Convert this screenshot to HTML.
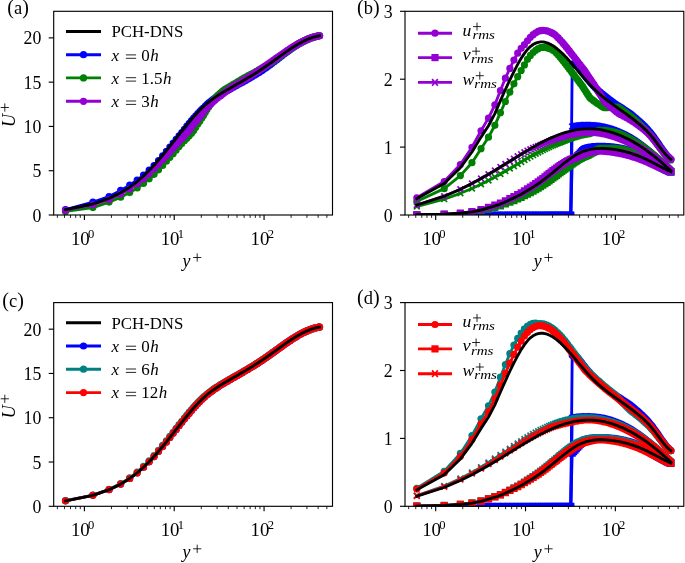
<!DOCTYPE html>
<html><head><meta charset="utf-8"><title>Figure</title>
<style>html,body{margin:0;padding:0;background:#fff;overflow:hidden}svg{display:block;will-change:transform}</style>
</head><body>
<svg width="685" height="563" viewBox="0 0 685 563">
<rect width="685" height="563" fill="#fff"/>
<defs><clipPath id="c0"><rect x="53.70" y="11.30" width="278.80" height="203.70"/></clipPath><clipPath id="c1"><rect x="405.00" y="11.30" width="278.80" height="203.70"/></clipPath><clipPath id="c2"><rect x="53.70" y="302.60" width="278.80" height="203.70"/></clipPath><clipPath id="c3"><rect x="405.00" y="302.60" width="278.80" height="203.70"/></clipPath></defs>
<line x1="57.36" y1="215.00" x2="57.36" y2="217.86" stroke="#000" stroke-width="0.86"/>
<line x1="64.47" y1="215.00" x2="64.47" y2="217.86" stroke="#000" stroke-width="0.86"/>
<line x1="70.49" y1="215.00" x2="70.49" y2="217.86" stroke="#000" stroke-width="0.86"/>
<line x1="75.69" y1="215.00" x2="75.69" y2="217.86" stroke="#000" stroke-width="0.86"/>
<line x1="80.29" y1="215.00" x2="80.29" y2="217.86" stroke="#000" stroke-width="0.86"/>
<line x1="84.40" y1="215.00" x2="84.40" y2="220.00" stroke="#000" stroke-width="1.14"/>
<line x1="111.44" y1="215.00" x2="111.44" y2="217.86" stroke="#000" stroke-width="0.86"/>
<line x1="127.26" y1="215.00" x2="127.26" y2="217.86" stroke="#000" stroke-width="0.86"/>
<line x1="138.48" y1="215.00" x2="138.48" y2="217.86" stroke="#000" stroke-width="0.86"/>
<line x1="147.19" y1="215.00" x2="147.19" y2="217.86" stroke="#000" stroke-width="0.86"/>
<line x1="154.30" y1="215.00" x2="154.30" y2="217.86" stroke="#000" stroke-width="0.86"/>
<line x1="160.32" y1="215.00" x2="160.32" y2="217.86" stroke="#000" stroke-width="0.86"/>
<line x1="165.52" y1="215.00" x2="165.52" y2="217.86" stroke="#000" stroke-width="0.86"/>
<line x1="170.12" y1="215.00" x2="170.12" y2="217.86" stroke="#000" stroke-width="0.86"/>
<line x1="174.23" y1="215.00" x2="174.23" y2="220.00" stroke="#000" stroke-width="1.14"/>
<line x1="201.27" y1="215.00" x2="201.27" y2="217.86" stroke="#000" stroke-width="0.86"/>
<line x1="217.09" y1="215.00" x2="217.09" y2="217.86" stroke="#000" stroke-width="0.86"/>
<line x1="228.31" y1="215.00" x2="228.31" y2="217.86" stroke="#000" stroke-width="0.86"/>
<line x1="237.02" y1="215.00" x2="237.02" y2="217.86" stroke="#000" stroke-width="0.86"/>
<line x1="244.13" y1="215.00" x2="244.13" y2="217.86" stroke="#000" stroke-width="0.86"/>
<line x1="250.15" y1="215.00" x2="250.15" y2="217.86" stroke="#000" stroke-width="0.86"/>
<line x1="255.35" y1="215.00" x2="255.35" y2="217.86" stroke="#000" stroke-width="0.86"/>
<line x1="259.95" y1="215.00" x2="259.95" y2="217.86" stroke="#000" stroke-width="0.86"/>
<line x1="264.06" y1="215.00" x2="264.06" y2="220.00" stroke="#000" stroke-width="1.14"/>
<line x1="291.10" y1="215.00" x2="291.10" y2="217.86" stroke="#000" stroke-width="0.86"/>
<line x1="306.92" y1="215.00" x2="306.92" y2="217.86" stroke="#000" stroke-width="0.86"/>
<line x1="318.14" y1="215.00" x2="318.14" y2="217.86" stroke="#000" stroke-width="0.86"/>
<line x1="326.85" y1="215.00" x2="326.85" y2="217.86" stroke="#000" stroke-width="0.86"/>
<line x1="48.70" y1="215.00" x2="53.70" y2="215.00" stroke="#000" stroke-width="1.14"/>
<text x="41.40" y="221.60" font-family="Liberation Serif" font-size="17.8" text-anchor="end">0</text>
<line x1="48.70" y1="170.72" x2="53.70" y2="170.72" stroke="#000" stroke-width="1.14"/>
<text x="41.40" y="177.32" font-family="Liberation Serif" font-size="17.8" text-anchor="end">5</text>
<line x1="48.70" y1="126.43" x2="53.70" y2="126.43" stroke="#000" stroke-width="1.14"/>
<text x="41.40" y="133.03" font-family="Liberation Serif" font-size="17.8" text-anchor="end">10</text>
<line x1="48.70" y1="82.15" x2="53.70" y2="82.15" stroke="#000" stroke-width="1.14"/>
<text x="41.40" y="88.75" font-family="Liberation Serif" font-size="17.8" text-anchor="end">15</text>
<line x1="48.70" y1="37.87" x2="53.70" y2="37.87" stroke="#000" stroke-width="1.14"/>
<text x="41.40" y="44.47" font-family="Liberation Serif" font-size="17.8" text-anchor="end">20</text>
<text x="70.90" y="244.60" font-family="Liberation Serif" font-size="17.8" textLength="18.8" lengthAdjust="spacingAndGlyphs">10</text>
<text x="88.00" y="237.60" font-family="Liberation Serif" font-size="12.6">0</text>
<text x="160.73" y="244.60" font-family="Liberation Serif" font-size="17.8" textLength="18.8" lengthAdjust="spacingAndGlyphs">10</text>
<text x="177.83" y="237.60" font-family="Liberation Serif" font-size="12.6">1</text>
<text x="250.56" y="244.60" font-family="Liberation Serif" font-size="17.8" textLength="18.8" lengthAdjust="spacingAndGlyphs">10</text>
<text x="267.66" y="237.60" font-family="Liberation Serif" font-size="12.6">2</text>
<text x="182.50" y="267.10" font-family="Liberation Serif" font-size="17.8" font-style="italic">y</text>
<path d="M193.10,257.50H201.30M197.20,253.40V261.60" stroke="#000" stroke-width="0.85" fill="none"/>
<line x1="408.66" y1="215.00" x2="408.66" y2="217.86" stroke="#000" stroke-width="0.86"/>
<line x1="415.77" y1="215.00" x2="415.77" y2="217.86" stroke="#000" stroke-width="0.86"/>
<line x1="421.79" y1="215.00" x2="421.79" y2="217.86" stroke="#000" stroke-width="0.86"/>
<line x1="426.99" y1="215.00" x2="426.99" y2="217.86" stroke="#000" stroke-width="0.86"/>
<line x1="431.59" y1="215.00" x2="431.59" y2="217.86" stroke="#000" stroke-width="0.86"/>
<line x1="435.70" y1="215.00" x2="435.70" y2="220.00" stroke="#000" stroke-width="1.14"/>
<line x1="462.74" y1="215.00" x2="462.74" y2="217.86" stroke="#000" stroke-width="0.86"/>
<line x1="478.56" y1="215.00" x2="478.56" y2="217.86" stroke="#000" stroke-width="0.86"/>
<line x1="489.78" y1="215.00" x2="489.78" y2="217.86" stroke="#000" stroke-width="0.86"/>
<line x1="498.49" y1="215.00" x2="498.49" y2="217.86" stroke="#000" stroke-width="0.86"/>
<line x1="505.60" y1="215.00" x2="505.60" y2="217.86" stroke="#000" stroke-width="0.86"/>
<line x1="511.62" y1="215.00" x2="511.62" y2="217.86" stroke="#000" stroke-width="0.86"/>
<line x1="516.82" y1="215.00" x2="516.82" y2="217.86" stroke="#000" stroke-width="0.86"/>
<line x1="521.42" y1="215.00" x2="521.42" y2="217.86" stroke="#000" stroke-width="0.86"/>
<line x1="525.53" y1="215.00" x2="525.53" y2="220.00" stroke="#000" stroke-width="1.14"/>
<line x1="552.57" y1="215.00" x2="552.57" y2="217.86" stroke="#000" stroke-width="0.86"/>
<line x1="568.39" y1="215.00" x2="568.39" y2="217.86" stroke="#000" stroke-width="0.86"/>
<line x1="579.61" y1="215.00" x2="579.61" y2="217.86" stroke="#000" stroke-width="0.86"/>
<line x1="588.32" y1="215.00" x2="588.32" y2="217.86" stroke="#000" stroke-width="0.86"/>
<line x1="595.43" y1="215.00" x2="595.43" y2="217.86" stroke="#000" stroke-width="0.86"/>
<line x1="601.45" y1="215.00" x2="601.45" y2="217.86" stroke="#000" stroke-width="0.86"/>
<line x1="606.65" y1="215.00" x2="606.65" y2="217.86" stroke="#000" stroke-width="0.86"/>
<line x1="611.25" y1="215.00" x2="611.25" y2="217.86" stroke="#000" stroke-width="0.86"/>
<line x1="615.36" y1="215.00" x2="615.36" y2="220.00" stroke="#000" stroke-width="1.14"/>
<line x1="642.40" y1="215.00" x2="642.40" y2="217.86" stroke="#000" stroke-width="0.86"/>
<line x1="658.22" y1="215.00" x2="658.22" y2="217.86" stroke="#000" stroke-width="0.86"/>
<line x1="669.44" y1="215.00" x2="669.44" y2="217.86" stroke="#000" stroke-width="0.86"/>
<line x1="678.15" y1="215.00" x2="678.15" y2="217.86" stroke="#000" stroke-width="0.86"/>
<line x1="400.00" y1="215.00" x2="405.00" y2="215.00" stroke="#000" stroke-width="1.14"/>
<text x="392.70" y="221.60" font-family="Liberation Serif" font-size="17.8" text-anchor="end">0</text>
<line x1="400.00" y1="147.10" x2="405.00" y2="147.10" stroke="#000" stroke-width="1.14"/>
<text x="392.70" y="153.70" font-family="Liberation Serif" font-size="17.8" text-anchor="end">1</text>
<line x1="400.00" y1="79.20" x2="405.00" y2="79.20" stroke="#000" stroke-width="1.14"/>
<text x="392.70" y="85.80" font-family="Liberation Serif" font-size="17.8" text-anchor="end">2</text>
<line x1="400.00" y1="11.30" x2="405.00" y2="11.30" stroke="#000" stroke-width="1.14"/>
<text x="392.70" y="17.90" font-family="Liberation Serif" font-size="17.8" text-anchor="end">3</text>
<text x="422.20" y="244.60" font-family="Liberation Serif" font-size="17.8" textLength="18.8" lengthAdjust="spacingAndGlyphs">10</text>
<text x="439.30" y="237.60" font-family="Liberation Serif" font-size="12.6">0</text>
<text x="512.03" y="244.60" font-family="Liberation Serif" font-size="17.8" textLength="18.8" lengthAdjust="spacingAndGlyphs">10</text>
<text x="529.13" y="237.60" font-family="Liberation Serif" font-size="12.6">1</text>
<text x="601.86" y="244.60" font-family="Liberation Serif" font-size="17.8" textLength="18.8" lengthAdjust="spacingAndGlyphs">10</text>
<text x="618.96" y="237.60" font-family="Liberation Serif" font-size="12.6">2</text>
<text x="533.80" y="267.10" font-family="Liberation Serif" font-size="17.8" font-style="italic">y</text>
<path d="M544.40,257.50H552.60M548.50,253.40V261.60" stroke="#000" stroke-width="0.85" fill="none"/>
<line x1="57.36" y1="506.30" x2="57.36" y2="509.16" stroke="#000" stroke-width="0.86"/>
<line x1="64.47" y1="506.30" x2="64.47" y2="509.16" stroke="#000" stroke-width="0.86"/>
<line x1="70.49" y1="506.30" x2="70.49" y2="509.16" stroke="#000" stroke-width="0.86"/>
<line x1="75.69" y1="506.30" x2="75.69" y2="509.16" stroke="#000" stroke-width="0.86"/>
<line x1="80.29" y1="506.30" x2="80.29" y2="509.16" stroke="#000" stroke-width="0.86"/>
<line x1="84.40" y1="506.30" x2="84.40" y2="511.30" stroke="#000" stroke-width="1.14"/>
<line x1="111.44" y1="506.30" x2="111.44" y2="509.16" stroke="#000" stroke-width="0.86"/>
<line x1="127.26" y1="506.30" x2="127.26" y2="509.16" stroke="#000" stroke-width="0.86"/>
<line x1="138.48" y1="506.30" x2="138.48" y2="509.16" stroke="#000" stroke-width="0.86"/>
<line x1="147.19" y1="506.30" x2="147.19" y2="509.16" stroke="#000" stroke-width="0.86"/>
<line x1="154.30" y1="506.30" x2="154.30" y2="509.16" stroke="#000" stroke-width="0.86"/>
<line x1="160.32" y1="506.30" x2="160.32" y2="509.16" stroke="#000" stroke-width="0.86"/>
<line x1="165.52" y1="506.30" x2="165.52" y2="509.16" stroke="#000" stroke-width="0.86"/>
<line x1="170.12" y1="506.30" x2="170.12" y2="509.16" stroke="#000" stroke-width="0.86"/>
<line x1="174.23" y1="506.30" x2="174.23" y2="511.30" stroke="#000" stroke-width="1.14"/>
<line x1="201.27" y1="506.30" x2="201.27" y2="509.16" stroke="#000" stroke-width="0.86"/>
<line x1="217.09" y1="506.30" x2="217.09" y2="509.16" stroke="#000" stroke-width="0.86"/>
<line x1="228.31" y1="506.30" x2="228.31" y2="509.16" stroke="#000" stroke-width="0.86"/>
<line x1="237.02" y1="506.30" x2="237.02" y2="509.16" stroke="#000" stroke-width="0.86"/>
<line x1="244.13" y1="506.30" x2="244.13" y2="509.16" stroke="#000" stroke-width="0.86"/>
<line x1="250.15" y1="506.30" x2="250.15" y2="509.16" stroke="#000" stroke-width="0.86"/>
<line x1="255.35" y1="506.30" x2="255.35" y2="509.16" stroke="#000" stroke-width="0.86"/>
<line x1="259.95" y1="506.30" x2="259.95" y2="509.16" stroke="#000" stroke-width="0.86"/>
<line x1="264.06" y1="506.30" x2="264.06" y2="511.30" stroke="#000" stroke-width="1.14"/>
<line x1="291.10" y1="506.30" x2="291.10" y2="509.16" stroke="#000" stroke-width="0.86"/>
<line x1="306.92" y1="506.30" x2="306.92" y2="509.16" stroke="#000" stroke-width="0.86"/>
<line x1="318.14" y1="506.30" x2="318.14" y2="509.16" stroke="#000" stroke-width="0.86"/>
<line x1="326.85" y1="506.30" x2="326.85" y2="509.16" stroke="#000" stroke-width="0.86"/>
<line x1="48.70" y1="506.30" x2="53.70" y2="506.30" stroke="#000" stroke-width="1.14"/>
<text x="41.40" y="512.90" font-family="Liberation Serif" font-size="17.8" text-anchor="end">0</text>
<line x1="48.70" y1="462.02" x2="53.70" y2="462.02" stroke="#000" stroke-width="1.14"/>
<text x="41.40" y="468.62" font-family="Liberation Serif" font-size="17.8" text-anchor="end">5</text>
<line x1="48.70" y1="417.73" x2="53.70" y2="417.73" stroke="#000" stroke-width="1.14"/>
<text x="41.40" y="424.33" font-family="Liberation Serif" font-size="17.8" text-anchor="end">10</text>
<line x1="48.70" y1="373.45" x2="53.70" y2="373.45" stroke="#000" stroke-width="1.14"/>
<text x="41.40" y="380.05" font-family="Liberation Serif" font-size="17.8" text-anchor="end">15</text>
<line x1="48.70" y1="329.17" x2="53.70" y2="329.17" stroke="#000" stroke-width="1.14"/>
<text x="41.40" y="335.77" font-family="Liberation Serif" font-size="17.8" text-anchor="end">20</text>
<text x="70.90" y="535.90" font-family="Liberation Serif" font-size="17.8" textLength="18.8" lengthAdjust="spacingAndGlyphs">10</text>
<text x="88.00" y="528.90" font-family="Liberation Serif" font-size="12.6">0</text>
<text x="160.73" y="535.90" font-family="Liberation Serif" font-size="17.8" textLength="18.8" lengthAdjust="spacingAndGlyphs">10</text>
<text x="177.83" y="528.90" font-family="Liberation Serif" font-size="12.6">1</text>
<text x="250.56" y="535.90" font-family="Liberation Serif" font-size="17.8" textLength="18.8" lengthAdjust="spacingAndGlyphs">10</text>
<text x="267.66" y="528.90" font-family="Liberation Serif" font-size="12.6">2</text>
<text x="182.50" y="558.40" font-family="Liberation Serif" font-size="17.8" font-style="italic">y</text>
<path d="M193.10,548.80H201.30M197.20,544.70V552.90" stroke="#000" stroke-width="0.85" fill="none"/>
<line x1="408.66" y1="506.30" x2="408.66" y2="509.16" stroke="#000" stroke-width="0.86"/>
<line x1="415.77" y1="506.30" x2="415.77" y2="509.16" stroke="#000" stroke-width="0.86"/>
<line x1="421.79" y1="506.30" x2="421.79" y2="509.16" stroke="#000" stroke-width="0.86"/>
<line x1="426.99" y1="506.30" x2="426.99" y2="509.16" stroke="#000" stroke-width="0.86"/>
<line x1="431.59" y1="506.30" x2="431.59" y2="509.16" stroke="#000" stroke-width="0.86"/>
<line x1="435.70" y1="506.30" x2="435.70" y2="511.30" stroke="#000" stroke-width="1.14"/>
<line x1="462.74" y1="506.30" x2="462.74" y2="509.16" stroke="#000" stroke-width="0.86"/>
<line x1="478.56" y1="506.30" x2="478.56" y2="509.16" stroke="#000" stroke-width="0.86"/>
<line x1="489.78" y1="506.30" x2="489.78" y2="509.16" stroke="#000" stroke-width="0.86"/>
<line x1="498.49" y1="506.30" x2="498.49" y2="509.16" stroke="#000" stroke-width="0.86"/>
<line x1="505.60" y1="506.30" x2="505.60" y2="509.16" stroke="#000" stroke-width="0.86"/>
<line x1="511.62" y1="506.30" x2="511.62" y2="509.16" stroke="#000" stroke-width="0.86"/>
<line x1="516.82" y1="506.30" x2="516.82" y2="509.16" stroke="#000" stroke-width="0.86"/>
<line x1="521.42" y1="506.30" x2="521.42" y2="509.16" stroke="#000" stroke-width="0.86"/>
<line x1="525.53" y1="506.30" x2="525.53" y2="511.30" stroke="#000" stroke-width="1.14"/>
<line x1="552.57" y1="506.30" x2="552.57" y2="509.16" stroke="#000" stroke-width="0.86"/>
<line x1="568.39" y1="506.30" x2="568.39" y2="509.16" stroke="#000" stroke-width="0.86"/>
<line x1="579.61" y1="506.30" x2="579.61" y2="509.16" stroke="#000" stroke-width="0.86"/>
<line x1="588.32" y1="506.30" x2="588.32" y2="509.16" stroke="#000" stroke-width="0.86"/>
<line x1="595.43" y1="506.30" x2="595.43" y2="509.16" stroke="#000" stroke-width="0.86"/>
<line x1="601.45" y1="506.30" x2="601.45" y2="509.16" stroke="#000" stroke-width="0.86"/>
<line x1="606.65" y1="506.30" x2="606.65" y2="509.16" stroke="#000" stroke-width="0.86"/>
<line x1="611.25" y1="506.30" x2="611.25" y2="509.16" stroke="#000" stroke-width="0.86"/>
<line x1="615.36" y1="506.30" x2="615.36" y2="511.30" stroke="#000" stroke-width="1.14"/>
<line x1="642.40" y1="506.30" x2="642.40" y2="509.16" stroke="#000" stroke-width="0.86"/>
<line x1="658.22" y1="506.30" x2="658.22" y2="509.16" stroke="#000" stroke-width="0.86"/>
<line x1="669.44" y1="506.30" x2="669.44" y2="509.16" stroke="#000" stroke-width="0.86"/>
<line x1="678.15" y1="506.30" x2="678.15" y2="509.16" stroke="#000" stroke-width="0.86"/>
<line x1="400.00" y1="506.30" x2="405.00" y2="506.30" stroke="#000" stroke-width="1.14"/>
<text x="392.70" y="512.90" font-family="Liberation Serif" font-size="17.8" text-anchor="end">0</text>
<line x1="400.00" y1="438.40" x2="405.00" y2="438.40" stroke="#000" stroke-width="1.14"/>
<text x="392.70" y="445.00" font-family="Liberation Serif" font-size="17.8" text-anchor="end">1</text>
<line x1="400.00" y1="370.50" x2="405.00" y2="370.50" stroke="#000" stroke-width="1.14"/>
<text x="392.70" y="377.10" font-family="Liberation Serif" font-size="17.8" text-anchor="end">2</text>
<line x1="400.00" y1="302.60" x2="405.00" y2="302.60" stroke="#000" stroke-width="1.14"/>
<text x="392.70" y="309.20" font-family="Liberation Serif" font-size="17.8" text-anchor="end">3</text>
<text x="422.20" y="535.90" font-family="Liberation Serif" font-size="17.8" textLength="18.8" lengthAdjust="spacingAndGlyphs">10</text>
<text x="439.30" y="528.90" font-family="Liberation Serif" font-size="12.6">0</text>
<text x="512.03" y="535.90" font-family="Liberation Serif" font-size="17.8" textLength="18.8" lengthAdjust="spacingAndGlyphs">10</text>
<text x="529.13" y="528.90" font-family="Liberation Serif" font-size="12.6">1</text>
<text x="601.86" y="535.90" font-family="Liberation Serif" font-size="17.8" textLength="18.8" lengthAdjust="spacingAndGlyphs">10</text>
<text x="618.96" y="528.90" font-family="Liberation Serif" font-size="12.6">2</text>
<text x="533.80" y="558.40" font-family="Liberation Serif" font-size="17.8" font-style="italic">y</text>
<path d="M544.40,548.80H552.60M548.50,544.70V552.90" stroke="#000" stroke-width="0.85" fill="none"/>
<g transform="translate(15.00,127.05) rotate(-90)"><text x="0" y="0" font-family="Liberation Serif" font-size="17.8" font-style="italic" textLength="13" lengthAdjust="spacingAndGlyphs">U</text></g>
<path d="M0.70,107.50H8.90M4.80,103.40V111.60" stroke="#000" stroke-width="0.85" fill="none"/>
<g transform="translate(15.00,418.35) rotate(-90)"><text x="0" y="0" font-family="Liberation Serif" font-size="17.8" font-style="italic" textLength="13" lengthAdjust="spacingAndGlyphs">U</text></g>
<path d="M0.70,398.80H8.90M4.80,394.70V402.90" stroke="#000" stroke-width="0.85" fill="none"/>
<g clip-path="url(#c0)"><path d="M65.51,209.51 L92.91,202.14 L109.08,196.61 L120.66,190.44 L129.72,185.16 L137.19,180.01 L143.56,175.01 L149.13,170.20 L154.08,165.55 L158.55,160.54 L162.63,155.87 L166.39,151.39 L169.87,147.14 L173.12,143.14 L176.18,139.39 L179.06,135.84 L181.79,132.50 L184.38,129.26 L186.86,126.21 L189.22,123.34 L191.49,120.65 L193.67,118.13 L195.77,115.77 L197.80,113.56 L199.76,111.49 L201.66,109.57 L203.50,107.77 L205.29,106.03 L207.02,104.43 L208.72,102.95 L210.37,101.58 L211.97,100.30 L213.54,99.11 L215.08,97.98 L216.58,96.92 L218.05,95.96 L219.49,95.07 L220.90,94.21 L222.29,93.39 L223.65,92.59 L224.98,91.81 L226.30,91.06 L227.59,90.33 L228.86,89.62 L230.11,88.92 L231.34,88.24 L232.55,87.57 L233.74,86.92 L234.92,86.27 L236.08,85.63 L237.23,84.99 L238.36,84.37 L239.47,83.75 L240.57,83.13 L241.66,82.53 L242.74,81.92 L243.80,81.33 L244.85,80.73 L245.89,80.15 L246.91,79.56 L247.93,78.98 L248.93,78.40 L249.93,77.83 L250.91,77.26 L251.89,76.69 L252.85,76.12 L253.81,75.56 L254.75,74.99 L255.69,74.43 L256.62,73.87 L257.54,73.31 L258.45,72.75 L259.36,72.19 L260.25,71.62 L261.14,71.02 L262.02,70.42 L262.89,69.82 L263.76,69.22 L264.62,68.61 L265.47,68.01 L266.31,67.41 L267.15,66.80 L267.98,66.20 L268.81,65.59 L269.62,64.99 L270.44,64.39 L271.24,63.79 L272.04,63.19 L272.83,62.59 L273.62,62.00 L274.40,61.40 L275.18,60.82 L275.95,60.22 L276.71,59.64 L277.47,59.05 L278.22,58.47 L278.97,57.90 L279.71,57.33 L280.45,56.76 L281.18,56.20 L281.90,55.65 L282.62,55.10 L283.34,54.56 L284.05,54.02 L284.75,53.49 L285.45,52.97 L286.15,52.45 L286.83,51.94 L287.52,51.43 L288.20,50.94 L288.87,50.45 L289.54,49.96 L290.21,49.49 L290.87,49.02 L291.52,48.56 L292.17,48.11 L292.81,47.66 L293.46,47.23 L294.09,46.80 L294.72,46.38 L295.35,45.97 L295.97,45.56 L296.58,45.16 L297.20,44.78 L297.80,44.40 L298.41,44.02 L299.00,43.66 L299.60,43.31 L300.18,42.97 L300.77,42.65 L301.35,42.34 L301.92,42.04 L302.49,41.74 L303.06,41.45 L303.62,41.17 L304.17,40.90 L304.72,40.63 L305.27,40.37 L305.81,40.12 L306.35,39.88 L306.88,39.64 L307.41,39.41 L307.94,39.19 L308.46,38.97 L308.97,38.76 L309.48,38.56 L309.99,38.37 L310.49,38.18 L310.98,38.00 L311.48,37.82 L311.97,37.66 L312.45,37.50 L312.93,37.34 L313.40,37.19 L313.87,37.05 L314.34,36.92 L314.80,36.79 L315.26,36.66 L315.71,36.55 L316.15,36.44 L316.60,36.33 L317.04,36.23 L317.47,36.14 L317.90,36.05 L318.33,35.97 L318.75,35.89 L319.17,35.82 L319.58,35.75" fill="none" stroke="#0000ff" stroke-width="2.86" stroke-linejoin="round" stroke-linecap="square"/>
<path d="M61.91,209.51a3.6,3.6 0 1,0 7.2,0a3.6,3.6 0 1,0 -7.2,0M89.31,202.14a3.6,3.6 0 1,0 7.2,0a3.6,3.6 0 1,0 -7.2,0M105.48,196.61a3.6,3.6 0 1,0 7.2,0a3.6,3.6 0 1,0 -7.2,0M117.06,190.44a3.6,3.6 0 1,0 7.2,0a3.6,3.6 0 1,0 -7.2,0M126.12,185.16a3.6,3.6 0 1,0 7.2,0a3.6,3.6 0 1,0 -7.2,0M133.59,180.01a3.6,3.6 0 1,0 7.2,0a3.6,3.6 0 1,0 -7.2,0M139.96,175.01a3.6,3.6 0 1,0 7.2,0a3.6,3.6 0 1,0 -7.2,0M145.53,170.20a3.6,3.6 0 1,0 7.2,0a3.6,3.6 0 1,0 -7.2,0M150.48,165.55a3.6,3.6 0 1,0 7.2,0a3.6,3.6 0 1,0 -7.2,0M154.95,160.54a3.6,3.6 0 1,0 7.2,0a3.6,3.6 0 1,0 -7.2,0M159.03,155.87a3.6,3.6 0 1,0 7.2,0a3.6,3.6 0 1,0 -7.2,0M162.79,151.39a3.6,3.6 0 1,0 7.2,0a3.6,3.6 0 1,0 -7.2,0M166.27,147.14a3.6,3.6 0 1,0 7.2,0a3.6,3.6 0 1,0 -7.2,0M169.52,143.14a3.6,3.6 0 1,0 7.2,0a3.6,3.6 0 1,0 -7.2,0M172.58,139.39a3.6,3.6 0 1,0 7.2,0a3.6,3.6 0 1,0 -7.2,0M175.46,135.84a3.6,3.6 0 1,0 7.2,0a3.6,3.6 0 1,0 -7.2,0M178.19,132.50a3.6,3.6 0 1,0 7.2,0a3.6,3.6 0 1,0 -7.2,0M180.78,129.26a3.6,3.6 0 1,0 7.2,0a3.6,3.6 0 1,0 -7.2,0M183.26,126.21a3.6,3.6 0 1,0 7.2,0a3.6,3.6 0 1,0 -7.2,0M185.62,123.34a3.6,3.6 0 1,0 7.2,0a3.6,3.6 0 1,0 -7.2,0M187.89,120.65a3.6,3.6 0 1,0 7.2,0a3.6,3.6 0 1,0 -7.2,0M190.07,118.13a3.6,3.6 0 1,0 7.2,0a3.6,3.6 0 1,0 -7.2,0M192.17,115.77a3.6,3.6 0 1,0 7.2,0a3.6,3.6 0 1,0 -7.2,0M194.20,113.56a3.6,3.6 0 1,0 7.2,0a3.6,3.6 0 1,0 -7.2,0M196.16,111.49a3.6,3.6 0 1,0 7.2,0a3.6,3.6 0 1,0 -7.2,0M198.06,109.57a3.6,3.6 0 1,0 7.2,0a3.6,3.6 0 1,0 -7.2,0M199.90,107.77a3.6,3.6 0 1,0 7.2,0a3.6,3.6 0 1,0 -7.2,0M201.69,106.03a3.6,3.6 0 1,0 7.2,0a3.6,3.6 0 1,0 -7.2,0M203.42,104.43a3.6,3.6 0 1,0 7.2,0a3.6,3.6 0 1,0 -7.2,0M205.12,102.95a3.6,3.6 0 1,0 7.2,0a3.6,3.6 0 1,0 -7.2,0M206.77,101.58a3.6,3.6 0 1,0 7.2,0a3.6,3.6 0 1,0 -7.2,0M208.37,100.30a3.6,3.6 0 1,0 7.2,0a3.6,3.6 0 1,0 -7.2,0M209.94,99.11a3.6,3.6 0 1,0 7.2,0a3.6,3.6 0 1,0 -7.2,0M211.48,97.98a3.6,3.6 0 1,0 7.2,0a3.6,3.6 0 1,0 -7.2,0M212.98,96.92a3.6,3.6 0 1,0 7.2,0a3.6,3.6 0 1,0 -7.2,0M214.45,95.96a3.6,3.6 0 1,0 7.2,0a3.6,3.6 0 1,0 -7.2,0M215.89,95.07a3.6,3.6 0 1,0 7.2,0a3.6,3.6 0 1,0 -7.2,0M217.30,94.21a3.6,3.6 0 1,0 7.2,0a3.6,3.6 0 1,0 -7.2,0M218.69,93.39a3.6,3.6 0 1,0 7.2,0a3.6,3.6 0 1,0 -7.2,0M220.05,92.59a3.6,3.6 0 1,0 7.2,0a3.6,3.6 0 1,0 -7.2,0M221.38,91.81a3.6,3.6 0 1,0 7.2,0a3.6,3.6 0 1,0 -7.2,0M222.70,91.06a3.6,3.6 0 1,0 7.2,0a3.6,3.6 0 1,0 -7.2,0M223.99,90.33a3.6,3.6 0 1,0 7.2,0a3.6,3.6 0 1,0 -7.2,0M225.26,89.62a3.6,3.6 0 1,0 7.2,0a3.6,3.6 0 1,0 -7.2,0M226.51,88.92a3.6,3.6 0 1,0 7.2,0a3.6,3.6 0 1,0 -7.2,0M227.74,88.24a3.6,3.6 0 1,0 7.2,0a3.6,3.6 0 1,0 -7.2,0M228.95,87.57a3.6,3.6 0 1,0 7.2,0a3.6,3.6 0 1,0 -7.2,0M230.14,86.92a3.6,3.6 0 1,0 7.2,0a3.6,3.6 0 1,0 -7.2,0M231.32,86.27a3.6,3.6 0 1,0 7.2,0a3.6,3.6 0 1,0 -7.2,0M232.48,85.63a3.6,3.6 0 1,0 7.2,0a3.6,3.6 0 1,0 -7.2,0M233.63,84.99a3.6,3.6 0 1,0 7.2,0a3.6,3.6 0 1,0 -7.2,0M234.76,84.37a3.6,3.6 0 1,0 7.2,0a3.6,3.6 0 1,0 -7.2,0M235.87,83.75a3.6,3.6 0 1,0 7.2,0a3.6,3.6 0 1,0 -7.2,0M236.97,83.13a3.6,3.6 0 1,0 7.2,0a3.6,3.6 0 1,0 -7.2,0M238.06,82.53a3.6,3.6 0 1,0 7.2,0a3.6,3.6 0 1,0 -7.2,0M239.14,81.92a3.6,3.6 0 1,0 7.2,0a3.6,3.6 0 1,0 -7.2,0M240.20,81.33a3.6,3.6 0 1,0 7.2,0a3.6,3.6 0 1,0 -7.2,0M241.25,80.73a3.6,3.6 0 1,0 7.2,0a3.6,3.6 0 1,0 -7.2,0M242.29,80.15a3.6,3.6 0 1,0 7.2,0a3.6,3.6 0 1,0 -7.2,0M243.31,79.56a3.6,3.6 0 1,0 7.2,0a3.6,3.6 0 1,0 -7.2,0M244.33,78.98a3.6,3.6 0 1,0 7.2,0a3.6,3.6 0 1,0 -7.2,0M245.33,78.40a3.6,3.6 0 1,0 7.2,0a3.6,3.6 0 1,0 -7.2,0M246.33,77.83a3.6,3.6 0 1,0 7.2,0a3.6,3.6 0 1,0 -7.2,0M247.31,77.26a3.6,3.6 0 1,0 7.2,0a3.6,3.6 0 1,0 -7.2,0M248.29,76.69a3.6,3.6 0 1,0 7.2,0a3.6,3.6 0 1,0 -7.2,0M249.25,76.12a3.6,3.6 0 1,0 7.2,0a3.6,3.6 0 1,0 -7.2,0M250.21,75.56a3.6,3.6 0 1,0 7.2,0a3.6,3.6 0 1,0 -7.2,0M251.15,74.99a3.6,3.6 0 1,0 7.2,0a3.6,3.6 0 1,0 -7.2,0M252.09,74.43a3.6,3.6 0 1,0 7.2,0a3.6,3.6 0 1,0 -7.2,0M253.02,73.87a3.6,3.6 0 1,0 7.2,0a3.6,3.6 0 1,0 -7.2,0M253.94,73.31a3.6,3.6 0 1,0 7.2,0a3.6,3.6 0 1,0 -7.2,0M254.85,72.75a3.6,3.6 0 1,0 7.2,0a3.6,3.6 0 1,0 -7.2,0M255.76,72.19a3.6,3.6 0 1,0 7.2,0a3.6,3.6 0 1,0 -7.2,0M256.65,71.62a3.6,3.6 0 1,0 7.2,0a3.6,3.6 0 1,0 -7.2,0M257.54,71.02a3.6,3.6 0 1,0 7.2,0a3.6,3.6 0 1,0 -7.2,0M258.42,70.42a3.6,3.6 0 1,0 7.2,0a3.6,3.6 0 1,0 -7.2,0M259.29,69.82a3.6,3.6 0 1,0 7.2,0a3.6,3.6 0 1,0 -7.2,0M260.16,69.22a3.6,3.6 0 1,0 7.2,0a3.6,3.6 0 1,0 -7.2,0M261.02,68.61a3.6,3.6 0 1,0 7.2,0a3.6,3.6 0 1,0 -7.2,0M261.87,68.01a3.6,3.6 0 1,0 7.2,0a3.6,3.6 0 1,0 -7.2,0M262.71,67.41a3.6,3.6 0 1,0 7.2,0a3.6,3.6 0 1,0 -7.2,0M263.55,66.80a3.6,3.6 0 1,0 7.2,0a3.6,3.6 0 1,0 -7.2,0M264.38,66.20a3.6,3.6 0 1,0 7.2,0a3.6,3.6 0 1,0 -7.2,0M265.21,65.59a3.6,3.6 0 1,0 7.2,0a3.6,3.6 0 1,0 -7.2,0M266.02,64.99a3.6,3.6 0 1,0 7.2,0a3.6,3.6 0 1,0 -7.2,0M266.84,64.39a3.6,3.6 0 1,0 7.2,0a3.6,3.6 0 1,0 -7.2,0M267.64,63.79a3.6,3.6 0 1,0 7.2,0a3.6,3.6 0 1,0 -7.2,0M268.44,63.19a3.6,3.6 0 1,0 7.2,0a3.6,3.6 0 1,0 -7.2,0M269.23,62.59a3.6,3.6 0 1,0 7.2,0a3.6,3.6 0 1,0 -7.2,0M270.02,62.00a3.6,3.6 0 1,0 7.2,0a3.6,3.6 0 1,0 -7.2,0M270.80,61.40a3.6,3.6 0 1,0 7.2,0a3.6,3.6 0 1,0 -7.2,0M271.58,60.82a3.6,3.6 0 1,0 7.2,0a3.6,3.6 0 1,0 -7.2,0M272.35,60.22a3.6,3.6 0 1,0 7.2,0a3.6,3.6 0 1,0 -7.2,0M273.11,59.64a3.6,3.6 0 1,0 7.2,0a3.6,3.6 0 1,0 -7.2,0M273.87,59.05a3.6,3.6 0 1,0 7.2,0a3.6,3.6 0 1,0 -7.2,0M274.62,58.47a3.6,3.6 0 1,0 7.2,0a3.6,3.6 0 1,0 -7.2,0M275.37,57.90a3.6,3.6 0 1,0 7.2,0a3.6,3.6 0 1,0 -7.2,0M276.11,57.33a3.6,3.6 0 1,0 7.2,0a3.6,3.6 0 1,0 -7.2,0M276.85,56.76a3.6,3.6 0 1,0 7.2,0a3.6,3.6 0 1,0 -7.2,0M277.58,56.20a3.6,3.6 0 1,0 7.2,0a3.6,3.6 0 1,0 -7.2,0M278.30,55.65a3.6,3.6 0 1,0 7.2,0a3.6,3.6 0 1,0 -7.2,0M279.02,55.10a3.6,3.6 0 1,0 7.2,0a3.6,3.6 0 1,0 -7.2,0M279.74,54.56a3.6,3.6 0 1,0 7.2,0a3.6,3.6 0 1,0 -7.2,0M280.45,54.02a3.6,3.6 0 1,0 7.2,0a3.6,3.6 0 1,0 -7.2,0M281.15,53.49a3.6,3.6 0 1,0 7.2,0a3.6,3.6 0 1,0 -7.2,0M281.85,52.97a3.6,3.6 0 1,0 7.2,0a3.6,3.6 0 1,0 -7.2,0M282.55,52.45a3.6,3.6 0 1,0 7.2,0a3.6,3.6 0 1,0 -7.2,0M283.23,51.94a3.6,3.6 0 1,0 7.2,0a3.6,3.6 0 1,0 -7.2,0M283.92,51.43a3.6,3.6 0 1,0 7.2,0a3.6,3.6 0 1,0 -7.2,0M284.60,50.94a3.6,3.6 0 1,0 7.2,0a3.6,3.6 0 1,0 -7.2,0M285.27,50.45a3.6,3.6 0 1,0 7.2,0a3.6,3.6 0 1,0 -7.2,0M285.94,49.96a3.6,3.6 0 1,0 7.2,0a3.6,3.6 0 1,0 -7.2,0M286.61,49.49a3.6,3.6 0 1,0 7.2,0a3.6,3.6 0 1,0 -7.2,0M287.27,49.02a3.6,3.6 0 1,0 7.2,0a3.6,3.6 0 1,0 -7.2,0M287.92,48.56a3.6,3.6 0 1,0 7.2,0a3.6,3.6 0 1,0 -7.2,0M288.57,48.11a3.6,3.6 0 1,0 7.2,0a3.6,3.6 0 1,0 -7.2,0M289.21,47.66a3.6,3.6 0 1,0 7.2,0a3.6,3.6 0 1,0 -7.2,0M289.86,47.23a3.6,3.6 0 1,0 7.2,0a3.6,3.6 0 1,0 -7.2,0M290.49,46.80a3.6,3.6 0 1,0 7.2,0a3.6,3.6 0 1,0 -7.2,0M291.12,46.38a3.6,3.6 0 1,0 7.2,0a3.6,3.6 0 1,0 -7.2,0M291.75,45.97a3.6,3.6 0 1,0 7.2,0a3.6,3.6 0 1,0 -7.2,0M292.37,45.56a3.6,3.6 0 1,0 7.2,0a3.6,3.6 0 1,0 -7.2,0M292.98,45.16a3.6,3.6 0 1,0 7.2,0a3.6,3.6 0 1,0 -7.2,0M293.60,44.78a3.6,3.6 0 1,0 7.2,0a3.6,3.6 0 1,0 -7.2,0M294.20,44.40a3.6,3.6 0 1,0 7.2,0a3.6,3.6 0 1,0 -7.2,0M294.81,44.02a3.6,3.6 0 1,0 7.2,0a3.6,3.6 0 1,0 -7.2,0M295.40,43.66a3.6,3.6 0 1,0 7.2,0a3.6,3.6 0 1,0 -7.2,0M296.00,43.31a3.6,3.6 0 1,0 7.2,0a3.6,3.6 0 1,0 -7.2,0M296.58,42.97a3.6,3.6 0 1,0 7.2,0a3.6,3.6 0 1,0 -7.2,0M297.17,42.65a3.6,3.6 0 1,0 7.2,0a3.6,3.6 0 1,0 -7.2,0M297.75,42.34a3.6,3.6 0 1,0 7.2,0a3.6,3.6 0 1,0 -7.2,0M298.32,42.04a3.6,3.6 0 1,0 7.2,0a3.6,3.6 0 1,0 -7.2,0M298.89,41.74a3.6,3.6 0 1,0 7.2,0a3.6,3.6 0 1,0 -7.2,0M299.46,41.45a3.6,3.6 0 1,0 7.2,0a3.6,3.6 0 1,0 -7.2,0M300.02,41.17a3.6,3.6 0 1,0 7.2,0a3.6,3.6 0 1,0 -7.2,0M300.57,40.90a3.6,3.6 0 1,0 7.2,0a3.6,3.6 0 1,0 -7.2,0M301.12,40.63a3.6,3.6 0 1,0 7.2,0a3.6,3.6 0 1,0 -7.2,0M301.67,40.37a3.6,3.6 0 1,0 7.2,0a3.6,3.6 0 1,0 -7.2,0M302.21,40.12a3.6,3.6 0 1,0 7.2,0a3.6,3.6 0 1,0 -7.2,0M302.75,39.88a3.6,3.6 0 1,0 7.2,0a3.6,3.6 0 1,0 -7.2,0M303.28,39.64a3.6,3.6 0 1,0 7.2,0a3.6,3.6 0 1,0 -7.2,0M303.81,39.41a3.6,3.6 0 1,0 7.2,0a3.6,3.6 0 1,0 -7.2,0M304.34,39.19a3.6,3.6 0 1,0 7.2,0a3.6,3.6 0 1,0 -7.2,0M304.86,38.97a3.6,3.6 0 1,0 7.2,0a3.6,3.6 0 1,0 -7.2,0M305.37,38.76a3.6,3.6 0 1,0 7.2,0a3.6,3.6 0 1,0 -7.2,0M305.88,38.56a3.6,3.6 0 1,0 7.2,0a3.6,3.6 0 1,0 -7.2,0M306.39,38.37a3.6,3.6 0 1,0 7.2,0a3.6,3.6 0 1,0 -7.2,0M306.89,38.18a3.6,3.6 0 1,0 7.2,0a3.6,3.6 0 1,0 -7.2,0M307.38,38.00a3.6,3.6 0 1,0 7.2,0a3.6,3.6 0 1,0 -7.2,0M307.88,37.82a3.6,3.6 0 1,0 7.2,0a3.6,3.6 0 1,0 -7.2,0M308.37,37.66a3.6,3.6 0 1,0 7.2,0a3.6,3.6 0 1,0 -7.2,0M308.85,37.50a3.6,3.6 0 1,0 7.2,0a3.6,3.6 0 1,0 -7.2,0M309.33,37.34a3.6,3.6 0 1,0 7.2,0a3.6,3.6 0 1,0 -7.2,0M309.80,37.19a3.6,3.6 0 1,0 7.2,0a3.6,3.6 0 1,0 -7.2,0M310.27,37.05a3.6,3.6 0 1,0 7.2,0a3.6,3.6 0 1,0 -7.2,0M310.74,36.92a3.6,3.6 0 1,0 7.2,0a3.6,3.6 0 1,0 -7.2,0M311.20,36.79a3.6,3.6 0 1,0 7.2,0a3.6,3.6 0 1,0 -7.2,0M311.66,36.66a3.6,3.6 0 1,0 7.2,0a3.6,3.6 0 1,0 -7.2,0M312.11,36.55a3.6,3.6 0 1,0 7.2,0a3.6,3.6 0 1,0 -7.2,0M312.55,36.44a3.6,3.6 0 1,0 7.2,0a3.6,3.6 0 1,0 -7.2,0M313.00,36.33a3.6,3.6 0 1,0 7.2,0a3.6,3.6 0 1,0 -7.2,0M313.44,36.23a3.6,3.6 0 1,0 7.2,0a3.6,3.6 0 1,0 -7.2,0M313.87,36.14a3.6,3.6 0 1,0 7.2,0a3.6,3.6 0 1,0 -7.2,0M314.30,36.05a3.6,3.6 0 1,0 7.2,0a3.6,3.6 0 1,0 -7.2,0M314.73,35.97a3.6,3.6 0 1,0 7.2,0a3.6,3.6 0 1,0 -7.2,0M315.15,35.89a3.6,3.6 0 1,0 7.2,0a3.6,3.6 0 1,0 -7.2,0M315.57,35.82a3.6,3.6 0 1,0 7.2,0a3.6,3.6 0 1,0 -7.2,0M315.98,35.75a3.6,3.6 0 1,0 7.2,0a3.6,3.6 0 1,0 -7.2,0" fill="#0000ff"/>
<path d="M65.51,211.43 L92.91,207.60 L109.08,202.10 L120.66,197.13 L129.72,192.54 L137.19,187.97 L143.56,183.37 L149.13,178.80 L154.08,174.29 L158.55,169.86 L162.63,165.50 L166.39,161.22 L169.87,157.37 L173.12,153.62 L176.18,150.01 L179.06,146.55 L181.79,143.53 L184.38,140.79 L186.86,138.17 L189.22,135.66 L191.49,133.26 L193.67,130.51 L195.77,127.23 L197.80,124.10 L199.76,121.14 L201.66,118.34 L203.50,115.58 L205.29,112.47 L207.02,109.57 L208.72,106.88 L210.37,104.42 L211.97,102.20 L213.54,100.20 L215.08,98.35 L216.58,96.62 L218.05,95.15 L219.49,93.82 L220.90,92.54 L222.29,91.31 L223.65,90.26 L224.98,89.45 L226.30,88.65 L227.59,87.88 L228.86,87.12 L230.11,86.38 L231.34,85.65 L232.55,84.93 L233.74,84.22 L234.92,83.51 L236.08,82.82 L237.23,82.13 L238.36,81.45 L239.47,80.78 L240.57,80.11 L241.66,79.44 L242.74,78.78 L243.80,78.12 L244.85,77.55 L245.89,77.02 L246.91,76.48 L247.93,75.95 L248.93,75.42 L249.93,74.90 L250.91,74.37 L251.89,73.85 L252.85,73.33 L253.81,72.81 L254.75,72.29 L255.69,71.78 L256.62,71.26 L257.54,70.74 L258.45,70.23 L259.36,69.71 L260.25,69.20 L261.14,68.68 L262.02,68.17 L262.89,67.66 L263.76,67.14 L264.62,66.63 L265.47,66.11 L266.31,65.60 L267.15,65.09 L267.98,64.58 L268.81,64.07 L269.62,63.57 L270.44,63.06 L271.24,62.55 L272.04,61.98 L272.83,61.40 L273.62,60.83 L274.40,60.27 L275.18,59.71 L275.95,59.15 L276.71,58.59 L277.47,58.04 L278.22,57.50 L278.97,56.96 L279.71,56.42 L280.45,55.89 L281.18,55.37 L281.90,54.85 L282.62,54.33 L283.34,53.82 L284.05,53.32 L284.75,52.82 L285.45,52.33 L286.15,51.85 L286.83,51.37 L287.52,50.90 L288.20,50.44 L288.87,49.98 L289.54,49.53 L290.21,49.09 L290.87,48.65 L291.52,48.22 L292.17,47.80 L292.81,47.38 L293.46,46.97 L294.09,46.57 L294.72,46.18 L295.35,45.79 L295.97,45.41 L296.58,45.04 L297.20,44.68 L297.80,44.32 L298.41,43.97 L299.00,43.63 L299.60,43.30 L300.18,42.97 L300.77,42.65 L301.35,42.34 L301.92,42.04 L302.49,41.74 L303.06,41.45 L303.62,41.17 L304.17,40.90 L304.72,40.63 L305.27,40.37 L305.81,40.12 L306.35,39.88 L306.88,39.64 L307.41,39.41 L307.94,39.19 L308.46,38.97 L308.97,38.76 L309.48,38.56 L309.99,38.37 L310.49,38.18 L310.98,38.00 L311.48,37.82 L311.97,37.66 L312.45,37.50 L312.93,37.34 L313.40,37.19 L313.87,37.05 L314.34,36.92 L314.80,36.79 L315.26,36.66 L315.71,36.55 L316.15,36.44 L316.60,36.33 L317.04,36.23 L317.47,36.14 L317.90,36.05 L318.33,35.97 L318.75,35.89 L319.17,35.82 L319.58,35.75" fill="none" stroke="#008000" stroke-width="2.86" stroke-linejoin="round" stroke-linecap="square"/>
<path d="M61.91,211.43a3.6,3.6 0 1,0 7.2,0a3.6,3.6 0 1,0 -7.2,0M89.31,207.60a3.6,3.6 0 1,0 7.2,0a3.6,3.6 0 1,0 -7.2,0M105.48,202.10a3.6,3.6 0 1,0 7.2,0a3.6,3.6 0 1,0 -7.2,0M117.06,197.13a3.6,3.6 0 1,0 7.2,0a3.6,3.6 0 1,0 -7.2,0M126.12,192.54a3.6,3.6 0 1,0 7.2,0a3.6,3.6 0 1,0 -7.2,0M133.59,187.97a3.6,3.6 0 1,0 7.2,0a3.6,3.6 0 1,0 -7.2,0M139.96,183.37a3.6,3.6 0 1,0 7.2,0a3.6,3.6 0 1,0 -7.2,0M145.53,178.80a3.6,3.6 0 1,0 7.2,0a3.6,3.6 0 1,0 -7.2,0M150.48,174.29a3.6,3.6 0 1,0 7.2,0a3.6,3.6 0 1,0 -7.2,0M154.95,169.86a3.6,3.6 0 1,0 7.2,0a3.6,3.6 0 1,0 -7.2,0M159.03,165.50a3.6,3.6 0 1,0 7.2,0a3.6,3.6 0 1,0 -7.2,0M162.79,161.22a3.6,3.6 0 1,0 7.2,0a3.6,3.6 0 1,0 -7.2,0M166.27,157.37a3.6,3.6 0 1,0 7.2,0a3.6,3.6 0 1,0 -7.2,0M169.52,153.62a3.6,3.6 0 1,0 7.2,0a3.6,3.6 0 1,0 -7.2,0M172.58,150.01a3.6,3.6 0 1,0 7.2,0a3.6,3.6 0 1,0 -7.2,0M175.46,146.55a3.6,3.6 0 1,0 7.2,0a3.6,3.6 0 1,0 -7.2,0M178.19,143.53a3.6,3.6 0 1,0 7.2,0a3.6,3.6 0 1,0 -7.2,0M180.78,140.79a3.6,3.6 0 1,0 7.2,0a3.6,3.6 0 1,0 -7.2,0M183.26,138.17a3.6,3.6 0 1,0 7.2,0a3.6,3.6 0 1,0 -7.2,0M185.62,135.66a3.6,3.6 0 1,0 7.2,0a3.6,3.6 0 1,0 -7.2,0M187.89,133.26a3.6,3.6 0 1,0 7.2,0a3.6,3.6 0 1,0 -7.2,0M190.07,130.51a3.6,3.6 0 1,0 7.2,0a3.6,3.6 0 1,0 -7.2,0M192.17,127.23a3.6,3.6 0 1,0 7.2,0a3.6,3.6 0 1,0 -7.2,0M194.20,124.10a3.6,3.6 0 1,0 7.2,0a3.6,3.6 0 1,0 -7.2,0M196.16,121.14a3.6,3.6 0 1,0 7.2,0a3.6,3.6 0 1,0 -7.2,0M198.06,118.34a3.6,3.6 0 1,0 7.2,0a3.6,3.6 0 1,0 -7.2,0M199.90,115.58a3.6,3.6 0 1,0 7.2,0a3.6,3.6 0 1,0 -7.2,0M201.69,112.47a3.6,3.6 0 1,0 7.2,0a3.6,3.6 0 1,0 -7.2,0M203.42,109.57a3.6,3.6 0 1,0 7.2,0a3.6,3.6 0 1,0 -7.2,0M205.12,106.88a3.6,3.6 0 1,0 7.2,0a3.6,3.6 0 1,0 -7.2,0M206.77,104.42a3.6,3.6 0 1,0 7.2,0a3.6,3.6 0 1,0 -7.2,0M208.37,102.20a3.6,3.6 0 1,0 7.2,0a3.6,3.6 0 1,0 -7.2,0M209.94,100.20a3.6,3.6 0 1,0 7.2,0a3.6,3.6 0 1,0 -7.2,0M211.48,98.35a3.6,3.6 0 1,0 7.2,0a3.6,3.6 0 1,0 -7.2,0M212.98,96.62a3.6,3.6 0 1,0 7.2,0a3.6,3.6 0 1,0 -7.2,0M214.45,95.15a3.6,3.6 0 1,0 7.2,0a3.6,3.6 0 1,0 -7.2,0M215.89,93.82a3.6,3.6 0 1,0 7.2,0a3.6,3.6 0 1,0 -7.2,0M217.30,92.54a3.6,3.6 0 1,0 7.2,0a3.6,3.6 0 1,0 -7.2,0M218.69,91.31a3.6,3.6 0 1,0 7.2,0a3.6,3.6 0 1,0 -7.2,0M220.05,90.26a3.6,3.6 0 1,0 7.2,0a3.6,3.6 0 1,0 -7.2,0M221.38,89.45a3.6,3.6 0 1,0 7.2,0a3.6,3.6 0 1,0 -7.2,0M222.70,88.65a3.6,3.6 0 1,0 7.2,0a3.6,3.6 0 1,0 -7.2,0M223.99,87.88a3.6,3.6 0 1,0 7.2,0a3.6,3.6 0 1,0 -7.2,0M225.26,87.12a3.6,3.6 0 1,0 7.2,0a3.6,3.6 0 1,0 -7.2,0M226.51,86.38a3.6,3.6 0 1,0 7.2,0a3.6,3.6 0 1,0 -7.2,0M227.74,85.65a3.6,3.6 0 1,0 7.2,0a3.6,3.6 0 1,0 -7.2,0M228.95,84.93a3.6,3.6 0 1,0 7.2,0a3.6,3.6 0 1,0 -7.2,0M230.14,84.22a3.6,3.6 0 1,0 7.2,0a3.6,3.6 0 1,0 -7.2,0M231.32,83.51a3.6,3.6 0 1,0 7.2,0a3.6,3.6 0 1,0 -7.2,0M232.48,82.82a3.6,3.6 0 1,0 7.2,0a3.6,3.6 0 1,0 -7.2,0M233.63,82.13a3.6,3.6 0 1,0 7.2,0a3.6,3.6 0 1,0 -7.2,0M234.76,81.45a3.6,3.6 0 1,0 7.2,0a3.6,3.6 0 1,0 -7.2,0M235.87,80.78a3.6,3.6 0 1,0 7.2,0a3.6,3.6 0 1,0 -7.2,0M236.97,80.11a3.6,3.6 0 1,0 7.2,0a3.6,3.6 0 1,0 -7.2,0M238.06,79.44a3.6,3.6 0 1,0 7.2,0a3.6,3.6 0 1,0 -7.2,0M239.14,78.78a3.6,3.6 0 1,0 7.2,0a3.6,3.6 0 1,0 -7.2,0M240.20,78.12a3.6,3.6 0 1,0 7.2,0a3.6,3.6 0 1,0 -7.2,0M241.25,77.55a3.6,3.6 0 1,0 7.2,0a3.6,3.6 0 1,0 -7.2,0M242.29,77.02a3.6,3.6 0 1,0 7.2,0a3.6,3.6 0 1,0 -7.2,0M243.31,76.48a3.6,3.6 0 1,0 7.2,0a3.6,3.6 0 1,0 -7.2,0M244.33,75.95a3.6,3.6 0 1,0 7.2,0a3.6,3.6 0 1,0 -7.2,0M245.33,75.42a3.6,3.6 0 1,0 7.2,0a3.6,3.6 0 1,0 -7.2,0M246.33,74.90a3.6,3.6 0 1,0 7.2,0a3.6,3.6 0 1,0 -7.2,0M247.31,74.37a3.6,3.6 0 1,0 7.2,0a3.6,3.6 0 1,0 -7.2,0M248.29,73.85a3.6,3.6 0 1,0 7.2,0a3.6,3.6 0 1,0 -7.2,0M249.25,73.33a3.6,3.6 0 1,0 7.2,0a3.6,3.6 0 1,0 -7.2,0M250.21,72.81a3.6,3.6 0 1,0 7.2,0a3.6,3.6 0 1,0 -7.2,0M251.15,72.29a3.6,3.6 0 1,0 7.2,0a3.6,3.6 0 1,0 -7.2,0M252.09,71.78a3.6,3.6 0 1,0 7.2,0a3.6,3.6 0 1,0 -7.2,0M253.02,71.26a3.6,3.6 0 1,0 7.2,0a3.6,3.6 0 1,0 -7.2,0M253.94,70.74a3.6,3.6 0 1,0 7.2,0a3.6,3.6 0 1,0 -7.2,0M254.85,70.23a3.6,3.6 0 1,0 7.2,0a3.6,3.6 0 1,0 -7.2,0M255.76,69.71a3.6,3.6 0 1,0 7.2,0a3.6,3.6 0 1,0 -7.2,0M256.65,69.20a3.6,3.6 0 1,0 7.2,0a3.6,3.6 0 1,0 -7.2,0M257.54,68.68a3.6,3.6 0 1,0 7.2,0a3.6,3.6 0 1,0 -7.2,0M258.42,68.17a3.6,3.6 0 1,0 7.2,0a3.6,3.6 0 1,0 -7.2,0M259.29,67.66a3.6,3.6 0 1,0 7.2,0a3.6,3.6 0 1,0 -7.2,0M260.16,67.14a3.6,3.6 0 1,0 7.2,0a3.6,3.6 0 1,0 -7.2,0M261.02,66.63a3.6,3.6 0 1,0 7.2,0a3.6,3.6 0 1,0 -7.2,0M261.87,66.11a3.6,3.6 0 1,0 7.2,0a3.6,3.6 0 1,0 -7.2,0M262.71,65.60a3.6,3.6 0 1,0 7.2,0a3.6,3.6 0 1,0 -7.2,0M263.55,65.09a3.6,3.6 0 1,0 7.2,0a3.6,3.6 0 1,0 -7.2,0M264.38,64.58a3.6,3.6 0 1,0 7.2,0a3.6,3.6 0 1,0 -7.2,0M265.21,64.07a3.6,3.6 0 1,0 7.2,0a3.6,3.6 0 1,0 -7.2,0M266.02,63.57a3.6,3.6 0 1,0 7.2,0a3.6,3.6 0 1,0 -7.2,0M266.84,63.06a3.6,3.6 0 1,0 7.2,0a3.6,3.6 0 1,0 -7.2,0M267.64,62.55a3.6,3.6 0 1,0 7.2,0a3.6,3.6 0 1,0 -7.2,0M268.44,61.98a3.6,3.6 0 1,0 7.2,0a3.6,3.6 0 1,0 -7.2,0M269.23,61.40a3.6,3.6 0 1,0 7.2,0a3.6,3.6 0 1,0 -7.2,0M270.02,60.83a3.6,3.6 0 1,0 7.2,0a3.6,3.6 0 1,0 -7.2,0M270.80,60.27a3.6,3.6 0 1,0 7.2,0a3.6,3.6 0 1,0 -7.2,0M271.58,59.71a3.6,3.6 0 1,0 7.2,0a3.6,3.6 0 1,0 -7.2,0M272.35,59.15a3.6,3.6 0 1,0 7.2,0a3.6,3.6 0 1,0 -7.2,0M273.11,58.59a3.6,3.6 0 1,0 7.2,0a3.6,3.6 0 1,0 -7.2,0M273.87,58.04a3.6,3.6 0 1,0 7.2,0a3.6,3.6 0 1,0 -7.2,0M274.62,57.50a3.6,3.6 0 1,0 7.2,0a3.6,3.6 0 1,0 -7.2,0M275.37,56.96a3.6,3.6 0 1,0 7.2,0a3.6,3.6 0 1,0 -7.2,0M276.11,56.42a3.6,3.6 0 1,0 7.2,0a3.6,3.6 0 1,0 -7.2,0M276.85,55.89a3.6,3.6 0 1,0 7.2,0a3.6,3.6 0 1,0 -7.2,0M277.58,55.37a3.6,3.6 0 1,0 7.2,0a3.6,3.6 0 1,0 -7.2,0M278.30,54.85a3.6,3.6 0 1,0 7.2,0a3.6,3.6 0 1,0 -7.2,0M279.02,54.33a3.6,3.6 0 1,0 7.2,0a3.6,3.6 0 1,0 -7.2,0M279.74,53.82a3.6,3.6 0 1,0 7.2,0a3.6,3.6 0 1,0 -7.2,0M280.45,53.32a3.6,3.6 0 1,0 7.2,0a3.6,3.6 0 1,0 -7.2,0M281.15,52.82a3.6,3.6 0 1,0 7.2,0a3.6,3.6 0 1,0 -7.2,0M281.85,52.33a3.6,3.6 0 1,0 7.2,0a3.6,3.6 0 1,0 -7.2,0M282.55,51.85a3.6,3.6 0 1,0 7.2,0a3.6,3.6 0 1,0 -7.2,0M283.23,51.37a3.6,3.6 0 1,0 7.2,0a3.6,3.6 0 1,0 -7.2,0M283.92,50.90a3.6,3.6 0 1,0 7.2,0a3.6,3.6 0 1,0 -7.2,0M284.60,50.44a3.6,3.6 0 1,0 7.2,0a3.6,3.6 0 1,0 -7.2,0M285.27,49.98a3.6,3.6 0 1,0 7.2,0a3.6,3.6 0 1,0 -7.2,0M285.94,49.53a3.6,3.6 0 1,0 7.2,0a3.6,3.6 0 1,0 -7.2,0M286.61,49.09a3.6,3.6 0 1,0 7.2,0a3.6,3.6 0 1,0 -7.2,0M287.27,48.65a3.6,3.6 0 1,0 7.2,0a3.6,3.6 0 1,0 -7.2,0M287.92,48.22a3.6,3.6 0 1,0 7.2,0a3.6,3.6 0 1,0 -7.2,0M288.57,47.80a3.6,3.6 0 1,0 7.2,0a3.6,3.6 0 1,0 -7.2,0M289.21,47.38a3.6,3.6 0 1,0 7.2,0a3.6,3.6 0 1,0 -7.2,0M289.86,46.97a3.6,3.6 0 1,0 7.2,0a3.6,3.6 0 1,0 -7.2,0M290.49,46.57a3.6,3.6 0 1,0 7.2,0a3.6,3.6 0 1,0 -7.2,0M291.12,46.18a3.6,3.6 0 1,0 7.2,0a3.6,3.6 0 1,0 -7.2,0M291.75,45.79a3.6,3.6 0 1,0 7.2,0a3.6,3.6 0 1,0 -7.2,0M292.37,45.41a3.6,3.6 0 1,0 7.2,0a3.6,3.6 0 1,0 -7.2,0M292.98,45.04a3.6,3.6 0 1,0 7.2,0a3.6,3.6 0 1,0 -7.2,0M293.60,44.68a3.6,3.6 0 1,0 7.2,0a3.6,3.6 0 1,0 -7.2,0M294.20,44.32a3.6,3.6 0 1,0 7.2,0a3.6,3.6 0 1,0 -7.2,0M294.81,43.97a3.6,3.6 0 1,0 7.2,0a3.6,3.6 0 1,0 -7.2,0M295.40,43.63a3.6,3.6 0 1,0 7.2,0a3.6,3.6 0 1,0 -7.2,0M296.00,43.30a3.6,3.6 0 1,0 7.2,0a3.6,3.6 0 1,0 -7.2,0M296.58,42.97a3.6,3.6 0 1,0 7.2,0a3.6,3.6 0 1,0 -7.2,0M297.17,42.65a3.6,3.6 0 1,0 7.2,0a3.6,3.6 0 1,0 -7.2,0M297.75,42.34a3.6,3.6 0 1,0 7.2,0a3.6,3.6 0 1,0 -7.2,0M298.32,42.04a3.6,3.6 0 1,0 7.2,0a3.6,3.6 0 1,0 -7.2,0M298.89,41.74a3.6,3.6 0 1,0 7.2,0a3.6,3.6 0 1,0 -7.2,0M299.46,41.45a3.6,3.6 0 1,0 7.2,0a3.6,3.6 0 1,0 -7.2,0M300.02,41.17a3.6,3.6 0 1,0 7.2,0a3.6,3.6 0 1,0 -7.2,0M300.57,40.90a3.6,3.6 0 1,0 7.2,0a3.6,3.6 0 1,0 -7.2,0M301.12,40.63a3.6,3.6 0 1,0 7.2,0a3.6,3.6 0 1,0 -7.2,0M301.67,40.37a3.6,3.6 0 1,0 7.2,0a3.6,3.6 0 1,0 -7.2,0M302.21,40.12a3.6,3.6 0 1,0 7.2,0a3.6,3.6 0 1,0 -7.2,0M302.75,39.88a3.6,3.6 0 1,0 7.2,0a3.6,3.6 0 1,0 -7.2,0M303.28,39.64a3.6,3.6 0 1,0 7.2,0a3.6,3.6 0 1,0 -7.2,0M303.81,39.41a3.6,3.6 0 1,0 7.2,0a3.6,3.6 0 1,0 -7.2,0M304.34,39.19a3.6,3.6 0 1,0 7.2,0a3.6,3.6 0 1,0 -7.2,0M304.86,38.97a3.6,3.6 0 1,0 7.2,0a3.6,3.6 0 1,0 -7.2,0M305.37,38.76a3.6,3.6 0 1,0 7.2,0a3.6,3.6 0 1,0 -7.2,0M305.88,38.56a3.6,3.6 0 1,0 7.2,0a3.6,3.6 0 1,0 -7.2,0M306.39,38.37a3.6,3.6 0 1,0 7.2,0a3.6,3.6 0 1,0 -7.2,0M306.89,38.18a3.6,3.6 0 1,0 7.2,0a3.6,3.6 0 1,0 -7.2,0M307.38,38.00a3.6,3.6 0 1,0 7.2,0a3.6,3.6 0 1,0 -7.2,0M307.88,37.82a3.6,3.6 0 1,0 7.2,0a3.6,3.6 0 1,0 -7.2,0M308.37,37.66a3.6,3.6 0 1,0 7.2,0a3.6,3.6 0 1,0 -7.2,0M308.85,37.50a3.6,3.6 0 1,0 7.2,0a3.6,3.6 0 1,0 -7.2,0M309.33,37.34a3.6,3.6 0 1,0 7.2,0a3.6,3.6 0 1,0 -7.2,0M309.80,37.19a3.6,3.6 0 1,0 7.2,0a3.6,3.6 0 1,0 -7.2,0M310.27,37.05a3.6,3.6 0 1,0 7.2,0a3.6,3.6 0 1,0 -7.2,0M310.74,36.92a3.6,3.6 0 1,0 7.2,0a3.6,3.6 0 1,0 -7.2,0M311.20,36.79a3.6,3.6 0 1,0 7.2,0a3.6,3.6 0 1,0 -7.2,0M311.66,36.66a3.6,3.6 0 1,0 7.2,0a3.6,3.6 0 1,0 -7.2,0M312.11,36.55a3.6,3.6 0 1,0 7.2,0a3.6,3.6 0 1,0 -7.2,0M312.55,36.44a3.6,3.6 0 1,0 7.2,0a3.6,3.6 0 1,0 -7.2,0M313.00,36.33a3.6,3.6 0 1,0 7.2,0a3.6,3.6 0 1,0 -7.2,0M313.44,36.23a3.6,3.6 0 1,0 7.2,0a3.6,3.6 0 1,0 -7.2,0M313.87,36.14a3.6,3.6 0 1,0 7.2,0a3.6,3.6 0 1,0 -7.2,0M314.30,36.05a3.6,3.6 0 1,0 7.2,0a3.6,3.6 0 1,0 -7.2,0M314.73,35.97a3.6,3.6 0 1,0 7.2,0a3.6,3.6 0 1,0 -7.2,0M315.15,35.89a3.6,3.6 0 1,0 7.2,0a3.6,3.6 0 1,0 -7.2,0M315.57,35.82a3.6,3.6 0 1,0 7.2,0a3.6,3.6 0 1,0 -7.2,0M315.98,35.75a3.6,3.6 0 1,0 7.2,0a3.6,3.6 0 1,0 -7.2,0" fill="#008000"/>
<path d="M65.51,210.03 L92.91,204.80 L109.08,199.48 L120.66,194.04 L129.72,188.94 L137.19,183.85 L143.56,178.82 L149.13,173.89 L154.08,169.09 L158.55,164.35 L162.63,160.09 L166.39,156.10 L169.87,152.25 L173.12,148.58 L176.18,145.09 L179.06,141.87 L181.79,138.80 L184.38,135.89 L186.86,133.11 L189.22,130.48 L191.49,127.58 L193.67,124.61 L195.77,121.81 L197.80,119.17 L199.76,116.64 L201.66,114.16 L203.50,111.83 L205.29,109.65 L207.02,107.64 L208.72,105.78 L210.37,104.15 L211.97,102.63 L213.54,101.23 L215.08,99.91 L216.58,98.68 L218.05,97.53 L219.49,96.43 L220.90,95.39 L222.29,94.37 L223.65,93.32 L224.98,92.31 L226.30,91.34 L227.59,90.39 L228.86,89.47 L230.11,88.56 L231.34,87.68 L232.55,86.81 L233.74,86.06 L234.92,85.36 L236.08,84.67 L237.23,83.99 L238.36,83.32 L239.47,82.65 L240.57,81.99 L241.66,81.34 L242.74,80.69 L243.80,80.05 L244.85,79.41 L245.89,78.77 L246.91,78.14 L247.93,77.51 L248.93,76.88 L249.93,76.25 L250.91,75.63 L251.89,75.01 L252.85,74.39 L253.81,73.77 L254.75,73.16 L255.69,72.54 L256.62,71.93 L257.54,71.31 L258.45,70.70 L259.36,70.08 L260.25,69.47 L261.14,68.85 L262.02,68.24 L262.89,67.62 L263.76,67.00 L264.62,66.41 L265.47,65.83 L266.31,65.25 L267.15,64.67 L267.98,64.09 L268.81,63.52 L269.62,62.95 L270.44,62.38 L271.24,61.81 L272.04,61.24 L272.83,60.68 L273.62,60.12 L274.40,59.57 L275.18,59.02 L275.95,58.47 L276.71,57.93 L277.47,57.39 L278.22,56.86 L278.97,56.33 L279.71,55.81 L280.45,55.29 L281.18,54.78 L281.90,54.27 L282.62,53.77 L283.34,53.28 L284.05,52.79 L284.75,52.31 L285.45,51.83 L286.15,51.36 L286.83,50.89 L287.52,50.44 L288.20,49.99 L288.87,49.54 L289.54,49.10 L290.21,48.67 L290.87,48.25 L291.52,47.83 L292.17,47.42 L292.81,47.02 L293.46,46.62 L294.09,46.23 L294.72,45.85 L295.35,45.48 L295.97,45.11 L296.58,44.75 L297.20,44.40 L297.80,44.05 L298.41,43.72 L299.00,43.39 L299.60,43.06 L300.18,42.75 L300.77,42.44 L301.35,42.14 L301.92,41.84 L302.49,41.56 L303.06,41.28 L303.62,41.00 L304.17,40.74 L304.72,40.48 L305.27,40.23 L305.81,39.99 L306.35,39.75 L306.88,39.52 L307.41,39.30 L307.94,39.08 L308.46,38.88 L308.97,38.67 L309.48,38.48 L309.99,38.29 L310.49,38.11 L310.98,37.93 L311.48,37.76 L311.97,37.60 L312.45,37.45 L312.93,37.30 L313.40,37.15 L313.87,37.02 L314.34,36.88 L314.80,36.76 L315.26,36.64 L315.71,36.53 L316.15,36.42 L316.60,36.32 L317.04,36.22 L317.47,36.13 L317.90,36.04 L318.33,35.96 L318.75,35.89 L319.17,35.82 L319.58,35.75" fill="none" stroke="#9400d3" stroke-width="2.86" stroke-linejoin="round" stroke-linecap="square"/>
<path d="M61.91,210.03a3.6,3.6 0 1,0 7.2,0a3.6,3.6 0 1,0 -7.2,0M89.31,204.80a3.6,3.6 0 1,0 7.2,0a3.6,3.6 0 1,0 -7.2,0M105.48,199.48a3.6,3.6 0 1,0 7.2,0a3.6,3.6 0 1,0 -7.2,0M117.06,194.04a3.6,3.6 0 1,0 7.2,0a3.6,3.6 0 1,0 -7.2,0M126.12,188.94a3.6,3.6 0 1,0 7.2,0a3.6,3.6 0 1,0 -7.2,0M133.59,183.85a3.6,3.6 0 1,0 7.2,0a3.6,3.6 0 1,0 -7.2,0M139.96,178.82a3.6,3.6 0 1,0 7.2,0a3.6,3.6 0 1,0 -7.2,0M145.53,173.89a3.6,3.6 0 1,0 7.2,0a3.6,3.6 0 1,0 -7.2,0M150.48,169.09a3.6,3.6 0 1,0 7.2,0a3.6,3.6 0 1,0 -7.2,0M154.95,164.35a3.6,3.6 0 1,0 7.2,0a3.6,3.6 0 1,0 -7.2,0M159.03,160.09a3.6,3.6 0 1,0 7.2,0a3.6,3.6 0 1,0 -7.2,0M162.79,156.10a3.6,3.6 0 1,0 7.2,0a3.6,3.6 0 1,0 -7.2,0M166.27,152.25a3.6,3.6 0 1,0 7.2,0a3.6,3.6 0 1,0 -7.2,0M169.52,148.58a3.6,3.6 0 1,0 7.2,0a3.6,3.6 0 1,0 -7.2,0M172.58,145.09a3.6,3.6 0 1,0 7.2,0a3.6,3.6 0 1,0 -7.2,0M175.46,141.87a3.6,3.6 0 1,0 7.2,0a3.6,3.6 0 1,0 -7.2,0M178.19,138.80a3.6,3.6 0 1,0 7.2,0a3.6,3.6 0 1,0 -7.2,0M180.78,135.89a3.6,3.6 0 1,0 7.2,0a3.6,3.6 0 1,0 -7.2,0M183.26,133.11a3.6,3.6 0 1,0 7.2,0a3.6,3.6 0 1,0 -7.2,0M185.62,130.48a3.6,3.6 0 1,0 7.2,0a3.6,3.6 0 1,0 -7.2,0M187.89,127.58a3.6,3.6 0 1,0 7.2,0a3.6,3.6 0 1,0 -7.2,0M190.07,124.61a3.6,3.6 0 1,0 7.2,0a3.6,3.6 0 1,0 -7.2,0M192.17,121.81a3.6,3.6 0 1,0 7.2,0a3.6,3.6 0 1,0 -7.2,0M194.20,119.17a3.6,3.6 0 1,0 7.2,0a3.6,3.6 0 1,0 -7.2,0M196.16,116.64a3.6,3.6 0 1,0 7.2,0a3.6,3.6 0 1,0 -7.2,0M198.06,114.16a3.6,3.6 0 1,0 7.2,0a3.6,3.6 0 1,0 -7.2,0M199.90,111.83a3.6,3.6 0 1,0 7.2,0a3.6,3.6 0 1,0 -7.2,0M201.69,109.65a3.6,3.6 0 1,0 7.2,0a3.6,3.6 0 1,0 -7.2,0M203.42,107.64a3.6,3.6 0 1,0 7.2,0a3.6,3.6 0 1,0 -7.2,0M205.12,105.78a3.6,3.6 0 1,0 7.2,0a3.6,3.6 0 1,0 -7.2,0M206.77,104.15a3.6,3.6 0 1,0 7.2,0a3.6,3.6 0 1,0 -7.2,0M208.37,102.63a3.6,3.6 0 1,0 7.2,0a3.6,3.6 0 1,0 -7.2,0M209.94,101.23a3.6,3.6 0 1,0 7.2,0a3.6,3.6 0 1,0 -7.2,0M211.48,99.91a3.6,3.6 0 1,0 7.2,0a3.6,3.6 0 1,0 -7.2,0M212.98,98.68a3.6,3.6 0 1,0 7.2,0a3.6,3.6 0 1,0 -7.2,0M214.45,97.53a3.6,3.6 0 1,0 7.2,0a3.6,3.6 0 1,0 -7.2,0M215.89,96.43a3.6,3.6 0 1,0 7.2,0a3.6,3.6 0 1,0 -7.2,0M217.30,95.39a3.6,3.6 0 1,0 7.2,0a3.6,3.6 0 1,0 -7.2,0M218.69,94.37a3.6,3.6 0 1,0 7.2,0a3.6,3.6 0 1,0 -7.2,0M220.05,93.32a3.6,3.6 0 1,0 7.2,0a3.6,3.6 0 1,0 -7.2,0M221.38,92.31a3.6,3.6 0 1,0 7.2,0a3.6,3.6 0 1,0 -7.2,0M222.70,91.34a3.6,3.6 0 1,0 7.2,0a3.6,3.6 0 1,0 -7.2,0M223.99,90.39a3.6,3.6 0 1,0 7.2,0a3.6,3.6 0 1,0 -7.2,0M225.26,89.47a3.6,3.6 0 1,0 7.2,0a3.6,3.6 0 1,0 -7.2,0M226.51,88.56a3.6,3.6 0 1,0 7.2,0a3.6,3.6 0 1,0 -7.2,0M227.74,87.68a3.6,3.6 0 1,0 7.2,0a3.6,3.6 0 1,0 -7.2,0M228.95,86.81a3.6,3.6 0 1,0 7.2,0a3.6,3.6 0 1,0 -7.2,0M230.14,86.06a3.6,3.6 0 1,0 7.2,0a3.6,3.6 0 1,0 -7.2,0M231.32,85.36a3.6,3.6 0 1,0 7.2,0a3.6,3.6 0 1,0 -7.2,0M232.48,84.67a3.6,3.6 0 1,0 7.2,0a3.6,3.6 0 1,0 -7.2,0M233.63,83.99a3.6,3.6 0 1,0 7.2,0a3.6,3.6 0 1,0 -7.2,0M234.76,83.32a3.6,3.6 0 1,0 7.2,0a3.6,3.6 0 1,0 -7.2,0M235.87,82.65a3.6,3.6 0 1,0 7.2,0a3.6,3.6 0 1,0 -7.2,0M236.97,81.99a3.6,3.6 0 1,0 7.2,0a3.6,3.6 0 1,0 -7.2,0M238.06,81.34a3.6,3.6 0 1,0 7.2,0a3.6,3.6 0 1,0 -7.2,0M239.14,80.69a3.6,3.6 0 1,0 7.2,0a3.6,3.6 0 1,0 -7.2,0M240.20,80.05a3.6,3.6 0 1,0 7.2,0a3.6,3.6 0 1,0 -7.2,0M241.25,79.41a3.6,3.6 0 1,0 7.2,0a3.6,3.6 0 1,0 -7.2,0M242.29,78.77a3.6,3.6 0 1,0 7.2,0a3.6,3.6 0 1,0 -7.2,0M243.31,78.14a3.6,3.6 0 1,0 7.2,0a3.6,3.6 0 1,0 -7.2,0M244.33,77.51a3.6,3.6 0 1,0 7.2,0a3.6,3.6 0 1,0 -7.2,0M245.33,76.88a3.6,3.6 0 1,0 7.2,0a3.6,3.6 0 1,0 -7.2,0M246.33,76.25a3.6,3.6 0 1,0 7.2,0a3.6,3.6 0 1,0 -7.2,0M247.31,75.63a3.6,3.6 0 1,0 7.2,0a3.6,3.6 0 1,0 -7.2,0M248.29,75.01a3.6,3.6 0 1,0 7.2,0a3.6,3.6 0 1,0 -7.2,0M249.25,74.39a3.6,3.6 0 1,0 7.2,0a3.6,3.6 0 1,0 -7.2,0M250.21,73.77a3.6,3.6 0 1,0 7.2,0a3.6,3.6 0 1,0 -7.2,0M251.15,73.16a3.6,3.6 0 1,0 7.2,0a3.6,3.6 0 1,0 -7.2,0M252.09,72.54a3.6,3.6 0 1,0 7.2,0a3.6,3.6 0 1,0 -7.2,0M253.02,71.93a3.6,3.6 0 1,0 7.2,0a3.6,3.6 0 1,0 -7.2,0M253.94,71.31a3.6,3.6 0 1,0 7.2,0a3.6,3.6 0 1,0 -7.2,0M254.85,70.70a3.6,3.6 0 1,0 7.2,0a3.6,3.6 0 1,0 -7.2,0M255.76,70.08a3.6,3.6 0 1,0 7.2,0a3.6,3.6 0 1,0 -7.2,0M256.65,69.47a3.6,3.6 0 1,0 7.2,0a3.6,3.6 0 1,0 -7.2,0M257.54,68.85a3.6,3.6 0 1,0 7.2,0a3.6,3.6 0 1,0 -7.2,0M258.42,68.24a3.6,3.6 0 1,0 7.2,0a3.6,3.6 0 1,0 -7.2,0M259.29,67.62a3.6,3.6 0 1,0 7.2,0a3.6,3.6 0 1,0 -7.2,0M260.16,67.00a3.6,3.6 0 1,0 7.2,0a3.6,3.6 0 1,0 -7.2,0M261.02,66.41a3.6,3.6 0 1,0 7.2,0a3.6,3.6 0 1,0 -7.2,0M261.87,65.83a3.6,3.6 0 1,0 7.2,0a3.6,3.6 0 1,0 -7.2,0M262.71,65.25a3.6,3.6 0 1,0 7.2,0a3.6,3.6 0 1,0 -7.2,0M263.55,64.67a3.6,3.6 0 1,0 7.2,0a3.6,3.6 0 1,0 -7.2,0M264.38,64.09a3.6,3.6 0 1,0 7.2,0a3.6,3.6 0 1,0 -7.2,0M265.21,63.52a3.6,3.6 0 1,0 7.2,0a3.6,3.6 0 1,0 -7.2,0M266.02,62.95a3.6,3.6 0 1,0 7.2,0a3.6,3.6 0 1,0 -7.2,0M266.84,62.38a3.6,3.6 0 1,0 7.2,0a3.6,3.6 0 1,0 -7.2,0M267.64,61.81a3.6,3.6 0 1,0 7.2,0a3.6,3.6 0 1,0 -7.2,0M268.44,61.24a3.6,3.6 0 1,0 7.2,0a3.6,3.6 0 1,0 -7.2,0M269.23,60.68a3.6,3.6 0 1,0 7.2,0a3.6,3.6 0 1,0 -7.2,0M270.02,60.12a3.6,3.6 0 1,0 7.2,0a3.6,3.6 0 1,0 -7.2,0M270.80,59.57a3.6,3.6 0 1,0 7.2,0a3.6,3.6 0 1,0 -7.2,0M271.58,59.02a3.6,3.6 0 1,0 7.2,0a3.6,3.6 0 1,0 -7.2,0M272.35,58.47a3.6,3.6 0 1,0 7.2,0a3.6,3.6 0 1,0 -7.2,0M273.11,57.93a3.6,3.6 0 1,0 7.2,0a3.6,3.6 0 1,0 -7.2,0M273.87,57.39a3.6,3.6 0 1,0 7.2,0a3.6,3.6 0 1,0 -7.2,0M274.62,56.86a3.6,3.6 0 1,0 7.2,0a3.6,3.6 0 1,0 -7.2,0M275.37,56.33a3.6,3.6 0 1,0 7.2,0a3.6,3.6 0 1,0 -7.2,0M276.11,55.81a3.6,3.6 0 1,0 7.2,0a3.6,3.6 0 1,0 -7.2,0M276.85,55.29a3.6,3.6 0 1,0 7.2,0a3.6,3.6 0 1,0 -7.2,0M277.58,54.78a3.6,3.6 0 1,0 7.2,0a3.6,3.6 0 1,0 -7.2,0M278.30,54.27a3.6,3.6 0 1,0 7.2,0a3.6,3.6 0 1,0 -7.2,0M279.02,53.77a3.6,3.6 0 1,0 7.2,0a3.6,3.6 0 1,0 -7.2,0M279.74,53.28a3.6,3.6 0 1,0 7.2,0a3.6,3.6 0 1,0 -7.2,0M280.45,52.79a3.6,3.6 0 1,0 7.2,0a3.6,3.6 0 1,0 -7.2,0M281.15,52.31a3.6,3.6 0 1,0 7.2,0a3.6,3.6 0 1,0 -7.2,0M281.85,51.83a3.6,3.6 0 1,0 7.2,0a3.6,3.6 0 1,0 -7.2,0M282.55,51.36a3.6,3.6 0 1,0 7.2,0a3.6,3.6 0 1,0 -7.2,0M283.23,50.89a3.6,3.6 0 1,0 7.2,0a3.6,3.6 0 1,0 -7.2,0M283.92,50.44a3.6,3.6 0 1,0 7.2,0a3.6,3.6 0 1,0 -7.2,0M284.60,49.99a3.6,3.6 0 1,0 7.2,0a3.6,3.6 0 1,0 -7.2,0M285.27,49.54a3.6,3.6 0 1,0 7.2,0a3.6,3.6 0 1,0 -7.2,0M285.94,49.10a3.6,3.6 0 1,0 7.2,0a3.6,3.6 0 1,0 -7.2,0M286.61,48.67a3.6,3.6 0 1,0 7.2,0a3.6,3.6 0 1,0 -7.2,0M287.27,48.25a3.6,3.6 0 1,0 7.2,0a3.6,3.6 0 1,0 -7.2,0M287.92,47.83a3.6,3.6 0 1,0 7.2,0a3.6,3.6 0 1,0 -7.2,0M288.57,47.42a3.6,3.6 0 1,0 7.2,0a3.6,3.6 0 1,0 -7.2,0M289.21,47.02a3.6,3.6 0 1,0 7.2,0a3.6,3.6 0 1,0 -7.2,0M289.86,46.62a3.6,3.6 0 1,0 7.2,0a3.6,3.6 0 1,0 -7.2,0M290.49,46.23a3.6,3.6 0 1,0 7.2,0a3.6,3.6 0 1,0 -7.2,0M291.12,45.85a3.6,3.6 0 1,0 7.2,0a3.6,3.6 0 1,0 -7.2,0M291.75,45.48a3.6,3.6 0 1,0 7.2,0a3.6,3.6 0 1,0 -7.2,0M292.37,45.11a3.6,3.6 0 1,0 7.2,0a3.6,3.6 0 1,0 -7.2,0M292.98,44.75a3.6,3.6 0 1,0 7.2,0a3.6,3.6 0 1,0 -7.2,0M293.60,44.40a3.6,3.6 0 1,0 7.2,0a3.6,3.6 0 1,0 -7.2,0M294.20,44.05a3.6,3.6 0 1,0 7.2,0a3.6,3.6 0 1,0 -7.2,0M294.81,43.72a3.6,3.6 0 1,0 7.2,0a3.6,3.6 0 1,0 -7.2,0M295.40,43.39a3.6,3.6 0 1,0 7.2,0a3.6,3.6 0 1,0 -7.2,0M296.00,43.06a3.6,3.6 0 1,0 7.2,0a3.6,3.6 0 1,0 -7.2,0M296.58,42.75a3.6,3.6 0 1,0 7.2,0a3.6,3.6 0 1,0 -7.2,0M297.17,42.44a3.6,3.6 0 1,0 7.2,0a3.6,3.6 0 1,0 -7.2,0M297.75,42.14a3.6,3.6 0 1,0 7.2,0a3.6,3.6 0 1,0 -7.2,0M298.32,41.84a3.6,3.6 0 1,0 7.2,0a3.6,3.6 0 1,0 -7.2,0M298.89,41.56a3.6,3.6 0 1,0 7.2,0a3.6,3.6 0 1,0 -7.2,0M299.46,41.28a3.6,3.6 0 1,0 7.2,0a3.6,3.6 0 1,0 -7.2,0M300.02,41.00a3.6,3.6 0 1,0 7.2,0a3.6,3.6 0 1,0 -7.2,0M300.57,40.74a3.6,3.6 0 1,0 7.2,0a3.6,3.6 0 1,0 -7.2,0M301.12,40.48a3.6,3.6 0 1,0 7.2,0a3.6,3.6 0 1,0 -7.2,0M301.67,40.23a3.6,3.6 0 1,0 7.2,0a3.6,3.6 0 1,0 -7.2,0M302.21,39.99a3.6,3.6 0 1,0 7.2,0a3.6,3.6 0 1,0 -7.2,0M302.75,39.75a3.6,3.6 0 1,0 7.2,0a3.6,3.6 0 1,0 -7.2,0M303.28,39.52a3.6,3.6 0 1,0 7.2,0a3.6,3.6 0 1,0 -7.2,0M303.81,39.30a3.6,3.6 0 1,0 7.2,0a3.6,3.6 0 1,0 -7.2,0M304.34,39.08a3.6,3.6 0 1,0 7.2,0a3.6,3.6 0 1,0 -7.2,0M304.86,38.88a3.6,3.6 0 1,0 7.2,0a3.6,3.6 0 1,0 -7.2,0M305.37,38.67a3.6,3.6 0 1,0 7.2,0a3.6,3.6 0 1,0 -7.2,0M305.88,38.48a3.6,3.6 0 1,0 7.2,0a3.6,3.6 0 1,0 -7.2,0M306.39,38.29a3.6,3.6 0 1,0 7.2,0a3.6,3.6 0 1,0 -7.2,0M306.89,38.11a3.6,3.6 0 1,0 7.2,0a3.6,3.6 0 1,0 -7.2,0M307.38,37.93a3.6,3.6 0 1,0 7.2,0a3.6,3.6 0 1,0 -7.2,0M307.88,37.76a3.6,3.6 0 1,0 7.2,0a3.6,3.6 0 1,0 -7.2,0M308.37,37.60a3.6,3.6 0 1,0 7.2,0a3.6,3.6 0 1,0 -7.2,0M308.85,37.45a3.6,3.6 0 1,0 7.2,0a3.6,3.6 0 1,0 -7.2,0M309.33,37.30a3.6,3.6 0 1,0 7.2,0a3.6,3.6 0 1,0 -7.2,0M309.80,37.15a3.6,3.6 0 1,0 7.2,0a3.6,3.6 0 1,0 -7.2,0M310.27,37.02a3.6,3.6 0 1,0 7.2,0a3.6,3.6 0 1,0 -7.2,0M310.74,36.88a3.6,3.6 0 1,0 7.2,0a3.6,3.6 0 1,0 -7.2,0M311.20,36.76a3.6,3.6 0 1,0 7.2,0a3.6,3.6 0 1,0 -7.2,0M311.66,36.64a3.6,3.6 0 1,0 7.2,0a3.6,3.6 0 1,0 -7.2,0M312.11,36.53a3.6,3.6 0 1,0 7.2,0a3.6,3.6 0 1,0 -7.2,0M312.55,36.42a3.6,3.6 0 1,0 7.2,0a3.6,3.6 0 1,0 -7.2,0M313.00,36.32a3.6,3.6 0 1,0 7.2,0a3.6,3.6 0 1,0 -7.2,0M313.44,36.22a3.6,3.6 0 1,0 7.2,0a3.6,3.6 0 1,0 -7.2,0M313.87,36.13a3.6,3.6 0 1,0 7.2,0a3.6,3.6 0 1,0 -7.2,0M314.30,36.04a3.6,3.6 0 1,0 7.2,0a3.6,3.6 0 1,0 -7.2,0M314.73,35.96a3.6,3.6 0 1,0 7.2,0a3.6,3.6 0 1,0 -7.2,0M315.15,35.89a3.6,3.6 0 1,0 7.2,0a3.6,3.6 0 1,0 -7.2,0M315.57,35.82a3.6,3.6 0 1,0 7.2,0a3.6,3.6 0 1,0 -7.2,0M315.98,35.75a3.6,3.6 0 1,0 7.2,0a3.6,3.6 0 1,0 -7.2,0" fill="#9400d3"/>
<path d="M65.51,209.54 L92.91,204.01 L109.08,198.41 L120.66,192.80 L129.72,187.18 L137.19,181.53 L143.56,175.97 L149.13,170.54 L154.08,165.23 L158.55,160.05 L162.63,155.22 L166.39,150.59 L169.87,146.20 L173.12,142.05 L176.18,138.14 L179.06,134.47 L181.79,131.01 L184.38,127.76 L186.86,124.72 L189.22,121.87 L191.49,119.20 L193.67,116.70 L195.77,114.37 L197.80,112.20 L199.76,110.18 L201.66,108.29 L203.50,106.55 L205.29,104.94 L207.02,103.45 L208.72,102.07 L210.37,100.78 L211.97,99.59 L213.54,98.46 L215.08,97.40 L216.58,96.39 L218.05,95.43 L219.49,94.51 L220.90,93.63 L222.29,92.78 L223.65,91.96 L224.98,91.16 L226.30,90.38 L227.59,89.62 L228.86,88.89 L230.11,88.16 L231.34,87.46 L232.55,86.76 L233.74,86.08 L234.92,85.41 L236.08,84.74 L237.23,84.09 L238.36,83.44 L239.47,82.80 L240.57,82.16 L241.66,81.53 L242.74,80.91 L243.80,80.29 L244.85,79.67 L245.89,79.06 L246.91,78.45 L247.93,77.85 L248.93,77.24 L249.93,76.65 L250.91,76.05 L251.89,75.45 L252.85,74.86 L253.81,74.27 L254.75,73.68 L255.69,73.09 L256.62,72.50 L257.54,71.91 L258.45,71.33 L259.36,70.74 L260.25,70.15 L261.14,69.57 L262.02,68.98 L262.89,68.39 L263.76,67.81 L264.62,67.22 L265.47,66.63 L266.31,66.05 L267.15,65.46 L267.98,64.88 L268.81,64.29 L269.62,63.71 L270.44,63.13 L271.24,62.55 L272.04,61.98 L272.83,61.40 L273.62,60.83 L274.40,60.27 L275.18,59.71 L275.95,59.15 L276.71,58.59 L277.47,58.04 L278.22,57.50 L278.97,56.96 L279.71,56.42 L280.45,55.89 L281.18,55.37 L281.90,54.85 L282.62,54.33 L283.34,53.82 L284.05,53.32 L284.75,52.82 L285.45,52.33 L286.15,51.85 L286.83,51.37 L287.52,50.90 L288.20,50.44 L288.87,49.98 L289.54,49.53 L290.21,49.09 L290.87,48.65 L291.52,48.22 L292.17,47.80 L292.81,47.38 L293.46,46.97 L294.09,46.57 L294.72,46.18 L295.35,45.79 L295.97,45.41 L296.58,45.04 L297.20,44.68 L297.80,44.32 L298.41,43.97 L299.00,43.63 L299.60,43.30 L300.18,42.97 L300.77,42.65 L301.35,42.34 L301.92,42.04 L302.49,41.74 L303.06,41.45 L303.62,41.17 L304.17,40.90 L304.72,40.63 L305.27,40.37 L305.81,40.12 L306.35,39.88 L306.88,39.64 L307.41,39.41 L307.94,39.19 L308.46,38.97 L308.97,38.76 L309.48,38.56 L309.99,38.37 L310.49,38.18 L310.98,38.00 L311.48,37.82 L311.97,37.66 L312.45,37.50 L312.93,37.34 L313.40,37.19 L313.87,37.05 L314.34,36.92 L314.80,36.79 L315.26,36.66 L315.71,36.55 L316.15,36.44 L316.60,36.33 L317.04,36.23 L317.47,36.14 L317.90,36.05 L318.33,35.97 L318.75,35.89 L319.17,35.82 L319.58,35.75" fill="none" stroke="#000" stroke-width="2.86" stroke-linejoin="round" stroke-linecap="square"/></g>
<g clip-path="url(#c1)"><path d="M416.81,215.00 L444.21,215.00 L460.38,215.00 L471.96,215.00 L481.02,215.00 L488.49,215.00 L494.86,215.00 L500.43,215.00 L505.38,215.00 L509.85,215.00 L513.93,215.00 L517.69,215.00 L521.17,215.00 L524.42,215.00 L527.48,215.00 L530.36,215.00 L533.09,215.00 L535.68,215.00 L538.16,215.00 L540.52,215.00 L542.79,215.00 L544.97,215.00 L547.07,215.00 L549.10,215.00 L551.06,215.00 L552.96,215.00 L554.80,215.00 L556.59,215.00 L558.32,215.00 L560.02,215.00 L561.67,215.00 L563.27,215.00 L564.84,215.00 L566.38,215.00 L567.88,215.00 L569.35,215.00 L570.79,215.00 L572.20,64.05 L573.59,64.54 L574.95,65.06 L576.28,65.61 L577.60,66.18 L578.89,67.85 L580.16,69.51 L581.41,71.14 L582.64,72.72 L583.85,74.27 L585.04,75.79 L586.22,77.26 L587.38,78.69 L588.53,80.07 L589.66,81.42 L590.77,82.71 L591.87,83.97 L592.96,85.17 L594.04,86.34 L595.10,87.46 L596.15,88.49 L597.19,89.45 L598.21,90.39 L599.23,91.29 L600.23,92.17 L601.23,93.02 L602.21,93.84 L603.19,94.65 L604.15,95.43 L605.11,96.20 L606.05,96.94 L606.99,97.67 L607.92,98.38 L608.84,99.08 L609.75,99.77 L610.66,100.44 L611.55,101.11 L612.44,101.76 L613.32,102.40 L614.19,103.03 L615.06,103.66 L615.92,104.23 L616.77,104.77 L617.61,105.31 L618.45,105.84 L619.28,106.37 L620.11,106.90 L620.92,107.42 L621.74,107.94 L622.54,108.46 L623.34,108.98 L624.13,109.49 L624.92,110.01 L625.70,110.52 L626.48,111.03 L627.25,111.55 L628.01,112.06 L628.77,112.57 L629.52,113.09 L630.27,113.62 L631.01,114.22 L631.75,114.82 L632.48,115.42 L633.20,116.03 L633.92,116.63 L634.64,117.23 L635.35,117.83 L636.05,118.43 L636.75,119.04 L637.45,119.64 L638.13,120.25 L638.82,120.85 L639.50,121.46 L640.17,122.07 L640.84,122.69 L641.51,123.30 L642.17,123.92 L642.82,124.55 L643.47,125.18 L644.11,125.81 L644.76,126.45 L645.39,127.11 L646.02,127.78 L646.65,128.46 L647.27,129.15 L647.88,129.85 L648.50,130.55 L649.10,131.26 L649.71,131.97 L650.30,132.69 L650.90,133.43 L651.48,134.17 L652.07,134.91 L652.65,135.67 L653.22,136.43 L653.79,137.20 L654.36,137.98 L654.92,138.76 L655.47,139.54 L656.02,140.32 L656.57,141.09 L657.11,141.87 L657.65,142.64 L658.18,143.40 L658.71,144.19 L659.24,144.97 L659.76,145.73 L660.27,146.49 L660.78,147.24 L661.29,147.97 L661.79,148.69 L662.28,149.39 L662.78,150.08 L663.27,150.76 L663.75,151.41 L664.23,152.05 L664.70,152.67 L665.17,153.28 L665.64,153.86 L666.10,154.43 L666.56,154.98 L667.01,155.51 L667.45,156.02 L667.90,156.50 L668.34,156.97 L668.77,157.42 L669.20,157.85 L669.63,158.25 L670.05,158.64 L670.47,159.01 L670.88,159.35" fill="none" stroke="#0000ff" stroke-width="2.86" stroke-linejoin="round" stroke-linecap="square"/>
<path d="M413.21,215.00a3.6,3.6 0 1,0 7.2,0a3.6,3.6 0 1,0 -7.2,0M440.61,215.00a3.6,3.6 0 1,0 7.2,0a3.6,3.6 0 1,0 -7.2,0M456.78,215.00a3.6,3.6 0 1,0 7.2,0a3.6,3.6 0 1,0 -7.2,0M468.36,215.00a3.6,3.6 0 1,0 7.2,0a3.6,3.6 0 1,0 -7.2,0M477.42,215.00a3.6,3.6 0 1,0 7.2,0a3.6,3.6 0 1,0 -7.2,0M484.89,215.00a3.6,3.6 0 1,0 7.2,0a3.6,3.6 0 1,0 -7.2,0M491.26,215.00a3.6,3.6 0 1,0 7.2,0a3.6,3.6 0 1,0 -7.2,0M496.83,215.00a3.6,3.6 0 1,0 7.2,0a3.6,3.6 0 1,0 -7.2,0M501.78,215.00a3.6,3.6 0 1,0 7.2,0a3.6,3.6 0 1,0 -7.2,0M506.25,215.00a3.6,3.6 0 1,0 7.2,0a3.6,3.6 0 1,0 -7.2,0M510.33,215.00a3.6,3.6 0 1,0 7.2,0a3.6,3.6 0 1,0 -7.2,0M514.09,215.00a3.6,3.6 0 1,0 7.2,0a3.6,3.6 0 1,0 -7.2,0M517.57,215.00a3.6,3.6 0 1,0 7.2,0a3.6,3.6 0 1,0 -7.2,0M520.82,215.00a3.6,3.6 0 1,0 7.2,0a3.6,3.6 0 1,0 -7.2,0M523.88,215.00a3.6,3.6 0 1,0 7.2,0a3.6,3.6 0 1,0 -7.2,0M526.76,215.00a3.6,3.6 0 1,0 7.2,0a3.6,3.6 0 1,0 -7.2,0M529.49,215.00a3.6,3.6 0 1,0 7.2,0a3.6,3.6 0 1,0 -7.2,0M532.08,215.00a3.6,3.6 0 1,0 7.2,0a3.6,3.6 0 1,0 -7.2,0M534.56,215.00a3.6,3.6 0 1,0 7.2,0a3.6,3.6 0 1,0 -7.2,0M536.92,215.00a3.6,3.6 0 1,0 7.2,0a3.6,3.6 0 1,0 -7.2,0M539.19,215.00a3.6,3.6 0 1,0 7.2,0a3.6,3.6 0 1,0 -7.2,0M541.37,215.00a3.6,3.6 0 1,0 7.2,0a3.6,3.6 0 1,0 -7.2,0M543.47,215.00a3.6,3.6 0 1,0 7.2,0a3.6,3.6 0 1,0 -7.2,0M545.50,215.00a3.6,3.6 0 1,0 7.2,0a3.6,3.6 0 1,0 -7.2,0M547.46,215.00a3.6,3.6 0 1,0 7.2,0a3.6,3.6 0 1,0 -7.2,0M549.36,215.00a3.6,3.6 0 1,0 7.2,0a3.6,3.6 0 1,0 -7.2,0M551.20,215.00a3.6,3.6 0 1,0 7.2,0a3.6,3.6 0 1,0 -7.2,0M552.99,215.00a3.6,3.6 0 1,0 7.2,0a3.6,3.6 0 1,0 -7.2,0M554.72,215.00a3.6,3.6 0 1,0 7.2,0a3.6,3.6 0 1,0 -7.2,0M556.42,215.00a3.6,3.6 0 1,0 7.2,0a3.6,3.6 0 1,0 -7.2,0M558.07,215.00a3.6,3.6 0 1,0 7.2,0a3.6,3.6 0 1,0 -7.2,0M559.67,215.00a3.6,3.6 0 1,0 7.2,0a3.6,3.6 0 1,0 -7.2,0M561.24,215.00a3.6,3.6 0 1,0 7.2,0a3.6,3.6 0 1,0 -7.2,0M562.78,215.00a3.6,3.6 0 1,0 7.2,0a3.6,3.6 0 1,0 -7.2,0M564.28,215.00a3.6,3.6 0 1,0 7.2,0a3.6,3.6 0 1,0 -7.2,0M565.75,215.00a3.6,3.6 0 1,0 7.2,0a3.6,3.6 0 1,0 -7.2,0M567.19,215.00a3.6,3.6 0 1,0 7.2,0a3.6,3.6 0 1,0 -7.2,0M568.60,64.05a3.6,3.6 0 1,0 7.2,0a3.6,3.6 0 1,0 -7.2,0M569.99,64.54a3.6,3.6 0 1,0 7.2,0a3.6,3.6 0 1,0 -7.2,0M571.35,65.06a3.6,3.6 0 1,0 7.2,0a3.6,3.6 0 1,0 -7.2,0M572.68,65.61a3.6,3.6 0 1,0 7.2,0a3.6,3.6 0 1,0 -7.2,0M574.00,66.18a3.6,3.6 0 1,0 7.2,0a3.6,3.6 0 1,0 -7.2,0M575.29,67.85a3.6,3.6 0 1,0 7.2,0a3.6,3.6 0 1,0 -7.2,0M576.56,69.51a3.6,3.6 0 1,0 7.2,0a3.6,3.6 0 1,0 -7.2,0M577.81,71.14a3.6,3.6 0 1,0 7.2,0a3.6,3.6 0 1,0 -7.2,0M579.04,72.72a3.6,3.6 0 1,0 7.2,0a3.6,3.6 0 1,0 -7.2,0M580.25,74.27a3.6,3.6 0 1,0 7.2,0a3.6,3.6 0 1,0 -7.2,0M581.44,75.79a3.6,3.6 0 1,0 7.2,0a3.6,3.6 0 1,0 -7.2,0M582.62,77.26a3.6,3.6 0 1,0 7.2,0a3.6,3.6 0 1,0 -7.2,0M583.78,78.69a3.6,3.6 0 1,0 7.2,0a3.6,3.6 0 1,0 -7.2,0M584.93,80.07a3.6,3.6 0 1,0 7.2,0a3.6,3.6 0 1,0 -7.2,0M586.06,81.42a3.6,3.6 0 1,0 7.2,0a3.6,3.6 0 1,0 -7.2,0M587.17,82.71a3.6,3.6 0 1,0 7.2,0a3.6,3.6 0 1,0 -7.2,0M588.27,83.97a3.6,3.6 0 1,0 7.2,0a3.6,3.6 0 1,0 -7.2,0M589.36,85.17a3.6,3.6 0 1,0 7.2,0a3.6,3.6 0 1,0 -7.2,0M590.44,86.34a3.6,3.6 0 1,0 7.2,0a3.6,3.6 0 1,0 -7.2,0M591.50,87.46a3.6,3.6 0 1,0 7.2,0a3.6,3.6 0 1,0 -7.2,0M592.55,88.49a3.6,3.6 0 1,0 7.2,0a3.6,3.6 0 1,0 -7.2,0M593.59,89.45a3.6,3.6 0 1,0 7.2,0a3.6,3.6 0 1,0 -7.2,0M594.61,90.39a3.6,3.6 0 1,0 7.2,0a3.6,3.6 0 1,0 -7.2,0M595.63,91.29a3.6,3.6 0 1,0 7.2,0a3.6,3.6 0 1,0 -7.2,0M596.63,92.17a3.6,3.6 0 1,0 7.2,0a3.6,3.6 0 1,0 -7.2,0M597.63,93.02a3.6,3.6 0 1,0 7.2,0a3.6,3.6 0 1,0 -7.2,0M598.61,93.84a3.6,3.6 0 1,0 7.2,0a3.6,3.6 0 1,0 -7.2,0M599.59,94.65a3.6,3.6 0 1,0 7.2,0a3.6,3.6 0 1,0 -7.2,0M600.55,95.43a3.6,3.6 0 1,0 7.2,0a3.6,3.6 0 1,0 -7.2,0M601.51,96.20a3.6,3.6 0 1,0 7.2,0a3.6,3.6 0 1,0 -7.2,0M602.45,96.94a3.6,3.6 0 1,0 7.2,0a3.6,3.6 0 1,0 -7.2,0M603.39,97.67a3.6,3.6 0 1,0 7.2,0a3.6,3.6 0 1,0 -7.2,0M604.32,98.38a3.6,3.6 0 1,0 7.2,0a3.6,3.6 0 1,0 -7.2,0M605.24,99.08a3.6,3.6 0 1,0 7.2,0a3.6,3.6 0 1,0 -7.2,0M606.15,99.77a3.6,3.6 0 1,0 7.2,0a3.6,3.6 0 1,0 -7.2,0M607.06,100.44a3.6,3.6 0 1,0 7.2,0a3.6,3.6 0 1,0 -7.2,0M607.95,101.11a3.6,3.6 0 1,0 7.2,0a3.6,3.6 0 1,0 -7.2,0M608.84,101.76a3.6,3.6 0 1,0 7.2,0a3.6,3.6 0 1,0 -7.2,0M609.72,102.40a3.6,3.6 0 1,0 7.2,0a3.6,3.6 0 1,0 -7.2,0M610.59,103.03a3.6,3.6 0 1,0 7.2,0a3.6,3.6 0 1,0 -7.2,0M611.46,103.66a3.6,3.6 0 1,0 7.2,0a3.6,3.6 0 1,0 -7.2,0M612.32,104.23a3.6,3.6 0 1,0 7.2,0a3.6,3.6 0 1,0 -7.2,0M613.17,104.77a3.6,3.6 0 1,0 7.2,0a3.6,3.6 0 1,0 -7.2,0M614.01,105.31a3.6,3.6 0 1,0 7.2,0a3.6,3.6 0 1,0 -7.2,0M614.85,105.84a3.6,3.6 0 1,0 7.2,0a3.6,3.6 0 1,0 -7.2,0M615.68,106.37a3.6,3.6 0 1,0 7.2,0a3.6,3.6 0 1,0 -7.2,0M616.51,106.90a3.6,3.6 0 1,0 7.2,0a3.6,3.6 0 1,0 -7.2,0M617.32,107.42a3.6,3.6 0 1,0 7.2,0a3.6,3.6 0 1,0 -7.2,0M618.14,107.94a3.6,3.6 0 1,0 7.2,0a3.6,3.6 0 1,0 -7.2,0M618.94,108.46a3.6,3.6 0 1,0 7.2,0a3.6,3.6 0 1,0 -7.2,0M619.74,108.98a3.6,3.6 0 1,0 7.2,0a3.6,3.6 0 1,0 -7.2,0M620.53,109.49a3.6,3.6 0 1,0 7.2,0a3.6,3.6 0 1,0 -7.2,0M621.32,110.01a3.6,3.6 0 1,0 7.2,0a3.6,3.6 0 1,0 -7.2,0M622.10,110.52a3.6,3.6 0 1,0 7.2,0a3.6,3.6 0 1,0 -7.2,0M622.88,111.03a3.6,3.6 0 1,0 7.2,0a3.6,3.6 0 1,0 -7.2,0M623.65,111.55a3.6,3.6 0 1,0 7.2,0a3.6,3.6 0 1,0 -7.2,0M624.41,112.06a3.6,3.6 0 1,0 7.2,0a3.6,3.6 0 1,0 -7.2,0M625.17,112.57a3.6,3.6 0 1,0 7.2,0a3.6,3.6 0 1,0 -7.2,0M625.92,113.09a3.6,3.6 0 1,0 7.2,0a3.6,3.6 0 1,0 -7.2,0M626.67,113.62a3.6,3.6 0 1,0 7.2,0a3.6,3.6 0 1,0 -7.2,0M627.41,114.22a3.6,3.6 0 1,0 7.2,0a3.6,3.6 0 1,0 -7.2,0M628.15,114.82a3.6,3.6 0 1,0 7.2,0a3.6,3.6 0 1,0 -7.2,0M628.88,115.42a3.6,3.6 0 1,0 7.2,0a3.6,3.6 0 1,0 -7.2,0M629.60,116.03a3.6,3.6 0 1,0 7.2,0a3.6,3.6 0 1,0 -7.2,0M630.32,116.63a3.6,3.6 0 1,0 7.2,0a3.6,3.6 0 1,0 -7.2,0M631.04,117.23a3.6,3.6 0 1,0 7.2,0a3.6,3.6 0 1,0 -7.2,0M631.75,117.83a3.6,3.6 0 1,0 7.2,0a3.6,3.6 0 1,0 -7.2,0M632.45,118.43a3.6,3.6 0 1,0 7.2,0a3.6,3.6 0 1,0 -7.2,0M633.15,119.04a3.6,3.6 0 1,0 7.2,0a3.6,3.6 0 1,0 -7.2,0M633.85,119.64a3.6,3.6 0 1,0 7.2,0a3.6,3.6 0 1,0 -7.2,0M634.53,120.25a3.6,3.6 0 1,0 7.2,0a3.6,3.6 0 1,0 -7.2,0M635.22,120.85a3.6,3.6 0 1,0 7.2,0a3.6,3.6 0 1,0 -7.2,0M635.90,121.46a3.6,3.6 0 1,0 7.2,0a3.6,3.6 0 1,0 -7.2,0M636.57,122.07a3.6,3.6 0 1,0 7.2,0a3.6,3.6 0 1,0 -7.2,0M637.24,122.69a3.6,3.6 0 1,0 7.2,0a3.6,3.6 0 1,0 -7.2,0M637.91,123.30a3.6,3.6 0 1,0 7.2,0a3.6,3.6 0 1,0 -7.2,0M638.57,123.92a3.6,3.6 0 1,0 7.2,0a3.6,3.6 0 1,0 -7.2,0M639.22,124.55a3.6,3.6 0 1,0 7.2,0a3.6,3.6 0 1,0 -7.2,0M639.87,125.18a3.6,3.6 0 1,0 7.2,0a3.6,3.6 0 1,0 -7.2,0M640.51,125.81a3.6,3.6 0 1,0 7.2,0a3.6,3.6 0 1,0 -7.2,0M641.16,126.45a3.6,3.6 0 1,0 7.2,0a3.6,3.6 0 1,0 -7.2,0M641.79,127.11a3.6,3.6 0 1,0 7.2,0a3.6,3.6 0 1,0 -7.2,0M642.42,127.78a3.6,3.6 0 1,0 7.2,0a3.6,3.6 0 1,0 -7.2,0M643.05,128.46a3.6,3.6 0 1,0 7.2,0a3.6,3.6 0 1,0 -7.2,0M643.67,129.15a3.6,3.6 0 1,0 7.2,0a3.6,3.6 0 1,0 -7.2,0M644.28,129.85a3.6,3.6 0 1,0 7.2,0a3.6,3.6 0 1,0 -7.2,0M644.90,130.55a3.6,3.6 0 1,0 7.2,0a3.6,3.6 0 1,0 -7.2,0M645.50,131.26a3.6,3.6 0 1,0 7.2,0a3.6,3.6 0 1,0 -7.2,0M646.11,131.97a3.6,3.6 0 1,0 7.2,0a3.6,3.6 0 1,0 -7.2,0M646.70,132.69a3.6,3.6 0 1,0 7.2,0a3.6,3.6 0 1,0 -7.2,0M647.30,133.43a3.6,3.6 0 1,0 7.2,0a3.6,3.6 0 1,0 -7.2,0M647.88,134.17a3.6,3.6 0 1,0 7.2,0a3.6,3.6 0 1,0 -7.2,0M648.47,134.91a3.6,3.6 0 1,0 7.2,0a3.6,3.6 0 1,0 -7.2,0M649.05,135.67a3.6,3.6 0 1,0 7.2,0a3.6,3.6 0 1,0 -7.2,0M649.62,136.43a3.6,3.6 0 1,0 7.2,0a3.6,3.6 0 1,0 -7.2,0M650.19,137.20a3.6,3.6 0 1,0 7.2,0a3.6,3.6 0 1,0 -7.2,0M650.76,137.98a3.6,3.6 0 1,0 7.2,0a3.6,3.6 0 1,0 -7.2,0M651.32,138.76a3.6,3.6 0 1,0 7.2,0a3.6,3.6 0 1,0 -7.2,0M651.87,139.54a3.6,3.6 0 1,0 7.2,0a3.6,3.6 0 1,0 -7.2,0M652.42,140.32a3.6,3.6 0 1,0 7.2,0a3.6,3.6 0 1,0 -7.2,0M652.97,141.09a3.6,3.6 0 1,0 7.2,0a3.6,3.6 0 1,0 -7.2,0M653.51,141.87a3.6,3.6 0 1,0 7.2,0a3.6,3.6 0 1,0 -7.2,0M654.05,142.64a3.6,3.6 0 1,0 7.2,0a3.6,3.6 0 1,0 -7.2,0M654.58,143.40a3.6,3.6 0 1,0 7.2,0a3.6,3.6 0 1,0 -7.2,0M655.11,144.19a3.6,3.6 0 1,0 7.2,0a3.6,3.6 0 1,0 -7.2,0M655.64,144.97a3.6,3.6 0 1,0 7.2,0a3.6,3.6 0 1,0 -7.2,0M656.16,145.73a3.6,3.6 0 1,0 7.2,0a3.6,3.6 0 1,0 -7.2,0M656.67,146.49a3.6,3.6 0 1,0 7.2,0a3.6,3.6 0 1,0 -7.2,0M657.18,147.24a3.6,3.6 0 1,0 7.2,0a3.6,3.6 0 1,0 -7.2,0M657.69,147.97a3.6,3.6 0 1,0 7.2,0a3.6,3.6 0 1,0 -7.2,0M658.19,148.69a3.6,3.6 0 1,0 7.2,0a3.6,3.6 0 1,0 -7.2,0M658.68,149.39a3.6,3.6 0 1,0 7.2,0a3.6,3.6 0 1,0 -7.2,0M659.18,150.08a3.6,3.6 0 1,0 7.2,0a3.6,3.6 0 1,0 -7.2,0M659.67,150.76a3.6,3.6 0 1,0 7.2,0a3.6,3.6 0 1,0 -7.2,0M660.15,151.41a3.6,3.6 0 1,0 7.2,0a3.6,3.6 0 1,0 -7.2,0M660.63,152.05a3.6,3.6 0 1,0 7.2,0a3.6,3.6 0 1,0 -7.2,0M661.10,152.67a3.6,3.6 0 1,0 7.2,0a3.6,3.6 0 1,0 -7.2,0M661.57,153.28a3.6,3.6 0 1,0 7.2,0a3.6,3.6 0 1,0 -7.2,0M662.04,153.86a3.6,3.6 0 1,0 7.2,0a3.6,3.6 0 1,0 -7.2,0M662.50,154.43a3.6,3.6 0 1,0 7.2,0a3.6,3.6 0 1,0 -7.2,0M662.96,154.98a3.6,3.6 0 1,0 7.2,0a3.6,3.6 0 1,0 -7.2,0M663.41,155.51a3.6,3.6 0 1,0 7.2,0a3.6,3.6 0 1,0 -7.2,0M663.85,156.02a3.6,3.6 0 1,0 7.2,0a3.6,3.6 0 1,0 -7.2,0M664.30,156.50a3.6,3.6 0 1,0 7.2,0a3.6,3.6 0 1,0 -7.2,0M664.74,156.97a3.6,3.6 0 1,0 7.2,0a3.6,3.6 0 1,0 -7.2,0M665.17,157.42a3.6,3.6 0 1,0 7.2,0a3.6,3.6 0 1,0 -7.2,0M665.60,157.85a3.6,3.6 0 1,0 7.2,0a3.6,3.6 0 1,0 -7.2,0M666.03,158.25a3.6,3.6 0 1,0 7.2,0a3.6,3.6 0 1,0 -7.2,0M666.45,158.64a3.6,3.6 0 1,0 7.2,0a3.6,3.6 0 1,0 -7.2,0M666.87,159.01a3.6,3.6 0 1,0 7.2,0a3.6,3.6 0 1,0 -7.2,0M667.28,159.35a3.6,3.6 0 1,0 7.2,0a3.6,3.6 0 1,0 -7.2,0" fill="#0000ff"/>
<path d="M416.81,215.00 L444.21,215.00 L460.38,215.00 L471.96,215.00 L481.02,215.00 L488.49,215.00 L494.86,215.00 L500.43,215.00 L505.38,215.00 L509.85,215.00 L513.93,215.00 L517.69,215.00 L521.17,215.00 L524.42,215.00 L527.48,215.00 L530.36,215.00 L533.09,215.00 L535.68,215.00 L538.16,215.00 L540.52,215.00 L542.79,215.00 L544.97,215.00 L547.07,215.00 L549.10,215.00 L551.06,215.00 L552.96,215.00 L554.80,215.00 L556.59,215.00 L558.32,215.00 L560.02,215.00 L561.67,215.00 L563.27,215.00 L564.84,215.00 L566.38,215.00 L567.88,215.00 L569.35,215.00 L570.79,215.00 L572.20,161.88 L573.59,160.31 L574.95,158.78 L576.28,157.30 L577.60,155.87 L578.89,154.49 L580.16,153.16 L581.41,151.89 L582.64,150.67 L583.85,149.50 L585.04,148.87 L586.22,148.49 L587.38,148.15 L588.53,147.85 L589.66,147.59 L590.77,147.35 L591.87,147.15 L592.96,146.98 L594.04,146.84 L595.10,146.72 L596.15,146.62 L597.19,146.55 L598.21,146.50 L599.23,146.46 L600.23,146.44 L601.23,146.44 L602.21,146.45 L603.19,146.48 L604.15,146.52 L605.11,146.57 L606.05,146.63 L606.99,146.70 L607.92,146.77 L608.84,146.86 L609.75,146.95 L610.66,147.06 L611.55,147.16 L612.44,147.28 L613.32,147.40 L614.19,147.53 L615.06,147.66 L615.92,147.80 L616.77,147.95 L617.61,148.10 L618.45,148.26 L619.28,148.43 L620.11,148.60 L620.92,148.77 L621.74,148.96 L622.54,149.14 L623.34,149.33 L624.13,149.53 L624.92,149.73 L625.70,149.94 L626.48,150.15 L627.25,150.37 L628.01,150.59 L628.77,150.81 L629.52,151.04 L630.27,151.27 L631.01,151.51 L631.75,151.79 L632.48,152.09 L633.20,152.38 L633.92,152.69 L634.64,152.99 L635.35,153.30 L636.05,153.61 L636.75,153.92 L637.45,154.23 L638.13,154.55 L638.82,154.87 L639.50,155.19 L640.17,155.51 L640.84,155.84 L641.51,156.16 L642.17,156.49 L642.82,156.82 L643.47,157.16 L644.11,157.49 L644.76,157.83 L645.39,158.16 L646.02,158.50 L646.65,158.84 L647.27,159.18 L647.88,159.53 L648.50,159.87 L649.10,160.21 L649.71,160.55 L650.30,160.89 L650.90,161.23 L651.48,161.57 L652.07,161.91 L652.65,162.24 L653.22,162.58 L653.79,162.91 L654.36,163.24 L654.92,163.57 L655.47,163.89 L656.02,164.21 L656.57,164.53 L657.11,164.85 L657.65,165.17 L658.18,165.48 L658.71,165.78 L659.24,166.07 L659.76,166.36 L660.27,166.65 L660.78,166.94 L661.29,167.22 L661.79,167.50 L662.28,167.77 L662.78,168.04 L663.27,168.30 L663.75,168.57 L664.23,168.82 L664.70,169.08 L665.17,169.32 L665.64,169.57 L666.10,169.81 L666.56,170.04 L667.01,170.28 L667.45,170.50 L667.90,170.73 L668.34,170.94 L668.77,171.16 L669.20,171.37 L669.63,171.57 L670.05,171.77 L670.47,171.97 L670.88,172.16" fill="none" stroke="#0000ff" stroke-width="2.86" stroke-linejoin="round" stroke-linecap="square"/>
<path d="M413.21,211.40h7.2v7.2h-7.2zM440.61,211.40h7.2v7.2h-7.2zM456.78,211.40h7.2v7.2h-7.2zM468.36,211.40h7.2v7.2h-7.2zM477.42,211.40h7.2v7.2h-7.2zM484.89,211.40h7.2v7.2h-7.2zM491.26,211.40h7.2v7.2h-7.2zM496.83,211.40h7.2v7.2h-7.2zM501.78,211.40h7.2v7.2h-7.2zM506.25,211.40h7.2v7.2h-7.2zM510.33,211.40h7.2v7.2h-7.2zM514.09,211.40h7.2v7.2h-7.2zM517.57,211.40h7.2v7.2h-7.2zM520.82,211.40h7.2v7.2h-7.2zM523.88,211.40h7.2v7.2h-7.2zM526.76,211.40h7.2v7.2h-7.2zM529.49,211.40h7.2v7.2h-7.2zM532.08,211.40h7.2v7.2h-7.2zM534.56,211.40h7.2v7.2h-7.2zM536.92,211.40h7.2v7.2h-7.2zM539.19,211.40h7.2v7.2h-7.2zM541.37,211.40h7.2v7.2h-7.2zM543.47,211.40h7.2v7.2h-7.2zM545.50,211.40h7.2v7.2h-7.2zM547.46,211.40h7.2v7.2h-7.2zM549.36,211.40h7.2v7.2h-7.2zM551.20,211.40h7.2v7.2h-7.2zM552.99,211.40h7.2v7.2h-7.2zM554.72,211.40h7.2v7.2h-7.2zM556.42,211.40h7.2v7.2h-7.2zM558.07,211.40h7.2v7.2h-7.2zM559.67,211.40h7.2v7.2h-7.2zM561.24,211.40h7.2v7.2h-7.2zM562.78,211.40h7.2v7.2h-7.2zM564.28,211.40h7.2v7.2h-7.2zM565.75,211.40h7.2v7.2h-7.2zM567.19,211.40h7.2v7.2h-7.2zM568.60,158.28h7.2v7.2h-7.2zM569.99,156.71h7.2v7.2h-7.2zM571.35,155.18h7.2v7.2h-7.2zM572.68,153.70h7.2v7.2h-7.2zM574.00,152.27h7.2v7.2h-7.2zM575.29,150.89h7.2v7.2h-7.2zM576.56,149.56h7.2v7.2h-7.2zM577.81,148.29h7.2v7.2h-7.2zM579.04,147.07h7.2v7.2h-7.2zM580.25,145.90h7.2v7.2h-7.2zM581.44,145.27h7.2v7.2h-7.2zM582.62,144.89h7.2v7.2h-7.2zM583.78,144.55h7.2v7.2h-7.2zM584.93,144.25h7.2v7.2h-7.2zM586.06,143.99h7.2v7.2h-7.2zM587.17,143.75h7.2v7.2h-7.2zM588.27,143.55h7.2v7.2h-7.2zM589.36,143.38h7.2v7.2h-7.2zM590.44,143.24h7.2v7.2h-7.2zM591.50,143.12h7.2v7.2h-7.2zM592.55,143.02h7.2v7.2h-7.2zM593.59,142.95h7.2v7.2h-7.2zM594.61,142.90h7.2v7.2h-7.2zM595.63,142.86h7.2v7.2h-7.2zM596.63,142.84h7.2v7.2h-7.2zM597.63,142.84h7.2v7.2h-7.2zM598.61,142.85h7.2v7.2h-7.2zM599.59,142.88h7.2v7.2h-7.2zM600.55,142.92h7.2v7.2h-7.2zM601.51,142.97h7.2v7.2h-7.2zM602.45,143.03h7.2v7.2h-7.2zM603.39,143.10h7.2v7.2h-7.2zM604.32,143.17h7.2v7.2h-7.2zM605.24,143.26h7.2v7.2h-7.2zM606.15,143.35h7.2v7.2h-7.2zM607.06,143.46h7.2v7.2h-7.2zM607.95,143.56h7.2v7.2h-7.2zM608.84,143.68h7.2v7.2h-7.2zM609.72,143.80h7.2v7.2h-7.2zM610.59,143.93h7.2v7.2h-7.2zM611.46,144.06h7.2v7.2h-7.2zM612.32,144.20h7.2v7.2h-7.2zM613.17,144.35h7.2v7.2h-7.2zM614.01,144.50h7.2v7.2h-7.2zM614.85,144.66h7.2v7.2h-7.2zM615.68,144.83h7.2v7.2h-7.2zM616.51,145.00h7.2v7.2h-7.2zM617.32,145.17h7.2v7.2h-7.2zM618.14,145.36h7.2v7.2h-7.2zM618.94,145.54h7.2v7.2h-7.2zM619.74,145.73h7.2v7.2h-7.2zM620.53,145.93h7.2v7.2h-7.2zM621.32,146.13h7.2v7.2h-7.2zM622.10,146.34h7.2v7.2h-7.2zM622.88,146.55h7.2v7.2h-7.2zM623.65,146.77h7.2v7.2h-7.2zM624.41,146.99h7.2v7.2h-7.2zM625.17,147.21h7.2v7.2h-7.2zM625.92,147.44h7.2v7.2h-7.2zM626.67,147.67h7.2v7.2h-7.2zM627.41,147.91h7.2v7.2h-7.2zM628.15,148.19h7.2v7.2h-7.2zM628.88,148.49h7.2v7.2h-7.2zM629.60,148.78h7.2v7.2h-7.2zM630.32,149.09h7.2v7.2h-7.2zM631.04,149.39h7.2v7.2h-7.2zM631.75,149.70h7.2v7.2h-7.2zM632.45,150.01h7.2v7.2h-7.2zM633.15,150.32h7.2v7.2h-7.2zM633.85,150.63h7.2v7.2h-7.2zM634.53,150.95h7.2v7.2h-7.2zM635.22,151.27h7.2v7.2h-7.2zM635.90,151.59h7.2v7.2h-7.2zM636.57,151.91h7.2v7.2h-7.2zM637.24,152.24h7.2v7.2h-7.2zM637.91,152.56h7.2v7.2h-7.2zM638.57,152.89h7.2v7.2h-7.2zM639.22,153.22h7.2v7.2h-7.2zM639.87,153.56h7.2v7.2h-7.2zM640.51,153.89h7.2v7.2h-7.2zM641.16,154.23h7.2v7.2h-7.2zM641.79,154.56h7.2v7.2h-7.2zM642.42,154.90h7.2v7.2h-7.2zM643.05,155.24h7.2v7.2h-7.2zM643.67,155.58h7.2v7.2h-7.2zM644.28,155.93h7.2v7.2h-7.2zM644.90,156.27h7.2v7.2h-7.2zM645.50,156.61h7.2v7.2h-7.2zM646.11,156.95h7.2v7.2h-7.2zM646.70,157.29h7.2v7.2h-7.2zM647.30,157.63h7.2v7.2h-7.2zM647.88,157.97h7.2v7.2h-7.2zM648.47,158.31h7.2v7.2h-7.2zM649.05,158.64h7.2v7.2h-7.2zM649.62,158.98h7.2v7.2h-7.2zM650.19,159.31h7.2v7.2h-7.2zM650.76,159.64h7.2v7.2h-7.2zM651.32,159.97h7.2v7.2h-7.2zM651.87,160.29h7.2v7.2h-7.2zM652.42,160.61h7.2v7.2h-7.2zM652.97,160.93h7.2v7.2h-7.2zM653.51,161.25h7.2v7.2h-7.2zM654.05,161.57h7.2v7.2h-7.2zM654.58,161.88h7.2v7.2h-7.2zM655.11,162.18h7.2v7.2h-7.2zM655.64,162.47h7.2v7.2h-7.2zM656.16,162.76h7.2v7.2h-7.2zM656.67,163.05h7.2v7.2h-7.2zM657.18,163.34h7.2v7.2h-7.2zM657.69,163.62h7.2v7.2h-7.2zM658.19,163.90h7.2v7.2h-7.2zM658.68,164.17h7.2v7.2h-7.2zM659.18,164.44h7.2v7.2h-7.2zM659.67,164.70h7.2v7.2h-7.2zM660.15,164.97h7.2v7.2h-7.2zM660.63,165.22h7.2v7.2h-7.2zM661.10,165.48h7.2v7.2h-7.2zM661.57,165.72h7.2v7.2h-7.2zM662.04,165.97h7.2v7.2h-7.2zM662.50,166.21h7.2v7.2h-7.2zM662.96,166.44h7.2v7.2h-7.2zM663.41,166.68h7.2v7.2h-7.2zM663.85,166.90h7.2v7.2h-7.2zM664.30,167.13h7.2v7.2h-7.2zM664.74,167.34h7.2v7.2h-7.2zM665.17,167.56h7.2v7.2h-7.2zM665.60,167.77h7.2v7.2h-7.2zM666.03,167.97h7.2v7.2h-7.2zM666.45,168.17h7.2v7.2h-7.2zM666.87,168.37h7.2v7.2h-7.2zM667.28,168.56h7.2v7.2h-7.2z" fill="#0000ff"/>
<path d="M416.81,215.00 L444.21,215.00 L460.38,215.00 L471.96,215.00 L481.02,215.00 L488.49,215.00 L494.86,215.00 L500.43,215.00 L505.38,215.00 L509.85,215.00 L513.93,215.00 L517.69,215.00 L521.17,215.00 L524.42,215.00 L527.48,215.00 L530.36,215.00 L533.09,215.00 L535.68,215.00 L538.16,215.00 L540.52,215.00 L542.79,215.00 L544.97,215.00 L547.07,215.00 L549.10,215.00 L551.06,215.00 L552.96,215.00 L554.80,215.00 L556.59,215.00 L558.32,215.00 L560.02,215.00 L561.67,215.00 L563.27,215.00 L564.84,215.00 L566.38,215.00 L567.88,215.00 L569.35,215.00 L570.79,215.00 L572.20,126.50 L573.59,126.24 L574.95,126.01 L576.28,125.80 L577.60,125.63 L578.89,125.48 L580.16,125.35 L581.41,125.25 L582.64,125.17 L583.85,125.11 L585.04,125.07 L586.22,125.06 L587.38,125.06 L588.53,125.08 L589.66,125.13 L590.77,125.19 L591.87,125.27 L592.96,125.36 L594.04,125.47 L595.10,125.60 L596.15,125.73 L597.19,125.87 L598.21,126.03 L599.23,126.20 L600.23,126.38 L601.23,126.57 L602.21,126.78 L603.19,127.00 L604.15,127.23 L605.11,127.46 L606.05,127.71 L606.99,127.97 L607.92,128.24 L608.84,128.52 L609.75,128.80 L610.66,129.10 L611.55,129.40 L612.44,129.71 L613.32,130.02 L614.19,130.35 L615.06,130.68 L615.92,131.02 L616.77,131.36 L617.61,131.71 L618.45,132.07 L619.28,132.43 L620.11,132.80 L620.92,133.18 L621.74,133.56 L622.54,133.94 L623.34,134.33 L624.13,134.73 L624.92,135.12 L625.70,135.53 L626.48,135.94 L627.25,136.35 L628.01,136.76 L628.77,137.18 L629.52,137.60 L630.27,138.03 L631.01,138.46 L631.75,138.93 L632.48,139.41 L633.20,139.89 L633.92,140.37 L634.64,140.86 L635.35,141.35 L636.05,141.83 L636.75,142.33 L637.45,142.82 L638.13,143.31 L638.82,143.80 L639.50,144.30 L640.17,144.79 L640.84,145.29 L641.51,145.79 L642.17,146.28 L642.82,146.78 L643.47,147.28 L644.11,147.78 L644.76,148.28 L645.39,148.78 L646.02,149.28 L646.65,149.77 L647.27,150.27 L647.88,150.77 L648.50,151.27 L649.10,151.76 L649.71,152.26 L650.30,152.75 L650.90,153.25 L651.48,153.74 L652.07,154.23 L652.65,154.72 L653.22,155.21 L653.79,155.70 L654.36,156.19 L654.92,156.68 L655.47,157.16 L656.02,157.64 L656.57,158.13 L657.11,158.61 L657.65,159.08 L658.18,159.56 L658.71,160.00 L659.24,160.45 L659.76,160.88 L660.27,161.32 L660.78,161.76 L661.29,162.19 L661.79,162.63 L662.28,163.06 L662.78,163.49 L663.27,163.92 L663.75,164.35 L664.23,164.77 L664.70,165.19 L665.17,165.62 L665.64,166.03 L666.10,166.45 L666.56,166.87 L667.01,167.28 L667.45,167.69 L667.90,168.10 L668.34,168.50 L668.77,168.91 L669.20,169.31 L669.63,169.71 L670.05,170.10 L670.47,170.50 L670.88,170.89" fill="none" stroke="#0000ff" stroke-width="2.86" stroke-linejoin="round" stroke-linecap="square"/>
<path d="M413.91,212.10l5.8,5.8M413.91,217.90l5.8,-5.8M441.31,212.10l5.8,5.8M441.31,217.90l5.8,-5.8M457.48,212.10l5.8,5.8M457.48,217.90l5.8,-5.8M469.06,212.10l5.8,5.8M469.06,217.90l5.8,-5.8M478.12,212.10l5.8,5.8M478.12,217.90l5.8,-5.8M485.59,212.10l5.8,5.8M485.59,217.90l5.8,-5.8M491.96,212.10l5.8,5.8M491.96,217.90l5.8,-5.8M497.53,212.10l5.8,5.8M497.53,217.90l5.8,-5.8M502.48,212.10l5.8,5.8M502.48,217.90l5.8,-5.8M506.95,212.10l5.8,5.8M506.95,217.90l5.8,-5.8M511.03,212.10l5.8,5.8M511.03,217.90l5.8,-5.8M514.79,212.10l5.8,5.8M514.79,217.90l5.8,-5.8M518.27,212.10l5.8,5.8M518.27,217.90l5.8,-5.8M521.52,212.10l5.8,5.8M521.52,217.90l5.8,-5.8M524.58,212.10l5.8,5.8M524.58,217.90l5.8,-5.8M527.46,212.10l5.8,5.8M527.46,217.90l5.8,-5.8M530.19,212.10l5.8,5.8M530.19,217.90l5.8,-5.8M532.78,212.10l5.8,5.8M532.78,217.90l5.8,-5.8M535.26,212.10l5.8,5.8M535.26,217.90l5.8,-5.8M537.62,212.10l5.8,5.8M537.62,217.90l5.8,-5.8M539.89,212.10l5.8,5.8M539.89,217.90l5.8,-5.8M542.07,212.10l5.8,5.8M542.07,217.90l5.8,-5.8M544.17,212.10l5.8,5.8M544.17,217.90l5.8,-5.8M546.20,212.10l5.8,5.8M546.20,217.90l5.8,-5.8M548.16,212.10l5.8,5.8M548.16,217.90l5.8,-5.8M550.06,212.10l5.8,5.8M550.06,217.90l5.8,-5.8M551.90,212.10l5.8,5.8M551.90,217.90l5.8,-5.8M553.69,212.10l5.8,5.8M553.69,217.90l5.8,-5.8M555.42,212.10l5.8,5.8M555.42,217.90l5.8,-5.8M557.12,212.10l5.8,5.8M557.12,217.90l5.8,-5.8M558.77,212.10l5.8,5.8M558.77,217.90l5.8,-5.8M560.37,212.10l5.8,5.8M560.37,217.90l5.8,-5.8M561.94,212.10l5.8,5.8M561.94,217.90l5.8,-5.8M563.48,212.10l5.8,5.8M563.48,217.90l5.8,-5.8M564.98,212.10l5.8,5.8M564.98,217.90l5.8,-5.8M566.45,212.10l5.8,5.8M566.45,217.90l5.8,-5.8M567.89,212.10l5.8,5.8M567.89,217.90l5.8,-5.8M569.30,123.60l5.8,5.8M569.30,129.40l5.8,-5.8M570.69,123.34l5.8,5.8M570.69,129.14l5.8,-5.8M572.05,123.11l5.8,5.8M572.05,128.91l5.8,-5.8M573.38,122.90l5.8,5.8M573.38,128.70l5.8,-5.8M574.70,122.73l5.8,5.8M574.70,128.53l5.8,-5.8M575.99,122.58l5.8,5.8M575.99,128.38l5.8,-5.8M577.26,122.45l5.8,5.8M577.26,128.25l5.8,-5.8M578.51,122.35l5.8,5.8M578.51,128.15l5.8,-5.8M579.74,122.27l5.8,5.8M579.74,128.07l5.8,-5.8M580.95,122.21l5.8,5.8M580.95,128.01l5.8,-5.8M582.14,122.17l5.8,5.8M582.14,127.97l5.8,-5.8M583.32,122.16l5.8,5.8M583.32,127.96l5.8,-5.8M584.48,122.16l5.8,5.8M584.48,127.96l5.8,-5.8M585.63,122.18l5.8,5.8M585.63,127.98l5.8,-5.8M586.76,122.23l5.8,5.8M586.76,128.03l5.8,-5.8M587.87,122.29l5.8,5.8M587.87,128.09l5.8,-5.8M588.97,122.37l5.8,5.8M588.97,128.17l5.8,-5.8M590.06,122.46l5.8,5.8M590.06,128.26l5.8,-5.8M591.14,122.57l5.8,5.8M591.14,128.37l5.8,-5.8M592.20,122.70l5.8,5.8M592.20,128.50l5.8,-5.8M593.25,122.83l5.8,5.8M593.25,128.63l5.8,-5.8M594.29,122.97l5.8,5.8M594.29,128.77l5.8,-5.8M595.31,123.13l5.8,5.8M595.31,128.93l5.8,-5.8M596.33,123.30l5.8,5.8M596.33,129.10l5.8,-5.8M597.33,123.48l5.8,5.8M597.33,129.28l5.8,-5.8M598.33,123.67l5.8,5.8M598.33,129.47l5.8,-5.8M599.31,123.88l5.8,5.8M599.31,129.68l5.8,-5.8M600.29,124.10l5.8,5.8M600.29,129.90l5.8,-5.8M601.25,124.33l5.8,5.8M601.25,130.13l5.8,-5.8M602.21,124.56l5.8,5.8M602.21,130.36l5.8,-5.8M603.15,124.81l5.8,5.8M603.15,130.61l5.8,-5.8M604.09,125.07l5.8,5.8M604.09,130.87l5.8,-5.8M605.02,125.34l5.8,5.8M605.02,131.14l5.8,-5.8M605.94,125.62l5.8,5.8M605.94,131.42l5.8,-5.8M606.85,125.90l5.8,5.8M606.85,131.70l5.8,-5.8M607.76,126.20l5.8,5.8M607.76,132.00l5.8,-5.8M608.65,126.50l5.8,5.8M608.65,132.30l5.8,-5.8M609.54,126.81l5.8,5.8M609.54,132.61l5.8,-5.8M610.42,127.12l5.8,5.8M610.42,132.92l5.8,-5.8M611.29,127.45l5.8,5.8M611.29,133.25l5.8,-5.8M612.16,127.78l5.8,5.8M612.16,133.58l5.8,-5.8M613.02,128.12l5.8,5.8M613.02,133.92l5.8,-5.8M613.87,128.46l5.8,5.8M613.87,134.26l5.8,-5.8M614.71,128.81l5.8,5.8M614.71,134.61l5.8,-5.8M615.55,129.17l5.8,5.8M615.55,134.97l5.8,-5.8M616.38,129.53l5.8,5.8M616.38,135.33l5.8,-5.8M617.21,129.90l5.8,5.8M617.21,135.70l5.8,-5.8M618.02,130.28l5.8,5.8M618.02,136.08l5.8,-5.8M618.84,130.66l5.8,5.8M618.84,136.46l5.8,-5.8M619.64,131.04l5.8,5.8M619.64,136.84l5.8,-5.8M620.44,131.43l5.8,5.8M620.44,137.23l5.8,-5.8M621.23,131.83l5.8,5.8M621.23,137.63l5.8,-5.8M622.02,132.22l5.8,5.8M622.02,138.02l5.8,-5.8M622.80,132.63l5.8,5.8M622.80,138.43l5.8,-5.8M623.58,133.04l5.8,5.8M623.58,138.84l5.8,-5.8M624.35,133.45l5.8,5.8M624.35,139.25l5.8,-5.8M625.11,133.86l5.8,5.8M625.11,139.66l5.8,-5.8M625.87,134.28l5.8,5.8M625.87,140.08l5.8,-5.8M626.62,134.70l5.8,5.8M626.62,140.50l5.8,-5.8M627.37,135.13l5.8,5.8M627.37,140.93l5.8,-5.8M628.11,135.56l5.8,5.8M628.11,141.36l5.8,-5.8M628.85,136.03l5.8,5.8M628.85,141.83l5.8,-5.8M629.58,136.51l5.8,5.8M629.58,142.31l5.8,-5.8M630.30,136.99l5.8,5.8M630.30,142.79l5.8,-5.8M631.02,137.47l5.8,5.8M631.02,143.27l5.8,-5.8M631.74,137.96l5.8,5.8M631.74,143.76l5.8,-5.8M632.45,138.45l5.8,5.8M632.45,144.25l5.8,-5.8M633.15,138.93l5.8,5.8M633.15,144.73l5.8,-5.8M633.85,139.43l5.8,5.8M633.85,145.23l5.8,-5.8M634.55,139.92l5.8,5.8M634.55,145.72l5.8,-5.8M635.23,140.41l5.8,5.8M635.23,146.21l5.8,-5.8M635.92,140.90l5.8,5.8M635.92,146.70l5.8,-5.8M636.60,141.40l5.8,5.8M636.60,147.20l5.8,-5.8M637.27,141.89l5.8,5.8M637.27,147.69l5.8,-5.8M637.94,142.39l5.8,5.8M637.94,148.19l5.8,-5.8M638.61,142.89l5.8,5.8M638.61,148.69l5.8,-5.8M639.27,143.38l5.8,5.8M639.27,149.18l5.8,-5.8M639.92,143.88l5.8,5.8M639.92,149.68l5.8,-5.8M640.57,144.38l5.8,5.8M640.57,150.18l5.8,-5.8M641.21,144.88l5.8,5.8M641.21,150.68l5.8,-5.8M641.86,145.38l5.8,5.8M641.86,151.18l5.8,-5.8M642.49,145.88l5.8,5.8M642.49,151.68l5.8,-5.8M643.12,146.38l5.8,5.8M643.12,152.18l5.8,-5.8M643.75,146.87l5.8,5.8M643.75,152.67l5.8,-5.8M644.37,147.37l5.8,5.8M644.37,153.17l5.8,-5.8M644.98,147.87l5.8,5.8M644.98,153.67l5.8,-5.8M645.60,148.37l5.8,5.8M645.60,154.17l5.8,-5.8M646.20,148.86l5.8,5.8M646.20,154.66l5.8,-5.8M646.81,149.36l5.8,5.8M646.81,155.16l5.8,-5.8M647.40,149.85l5.8,5.8M647.40,155.65l5.8,-5.8M648.00,150.35l5.8,5.8M648.00,156.15l5.8,-5.8M648.58,150.84l5.8,5.8M648.58,156.64l5.8,-5.8M649.17,151.33l5.8,5.8M649.17,157.13l5.8,-5.8M649.75,151.82l5.8,5.8M649.75,157.62l5.8,-5.8M650.32,152.31l5.8,5.8M650.32,158.11l5.8,-5.8M650.89,152.80l5.8,5.8M650.89,158.60l5.8,-5.8M651.46,153.29l5.8,5.8M651.46,159.09l5.8,-5.8M652.02,153.78l5.8,5.8M652.02,159.58l5.8,-5.8M652.57,154.26l5.8,5.8M652.57,160.06l5.8,-5.8M653.12,154.74l5.8,5.8M653.12,160.54l5.8,-5.8M653.67,155.23l5.8,5.8M653.67,161.03l5.8,-5.8M654.21,155.71l5.8,5.8M654.21,161.51l5.8,-5.8M654.75,156.18l5.8,5.8M654.75,161.98l5.8,-5.8M655.28,156.66l5.8,5.8M655.28,162.46l5.8,-5.8M655.81,157.10l5.8,5.8M655.81,162.90l5.8,-5.8M656.34,157.55l5.8,5.8M656.34,163.35l5.8,-5.8M656.86,157.98l5.8,5.8M656.86,163.78l5.8,-5.8M657.37,158.42l5.8,5.8M657.37,164.22l5.8,-5.8M657.88,158.86l5.8,5.8M657.88,164.66l5.8,-5.8M658.39,159.29l5.8,5.8M658.39,165.09l5.8,-5.8M658.89,159.73l5.8,5.8M658.89,165.53l5.8,-5.8M659.38,160.16l5.8,5.8M659.38,165.96l5.8,-5.8M659.88,160.59l5.8,5.8M659.88,166.39l5.8,-5.8M660.37,161.02l5.8,5.8M660.37,166.82l5.8,-5.8M660.85,161.45l5.8,5.8M660.85,167.25l5.8,-5.8M661.33,161.87l5.8,5.8M661.33,167.67l5.8,-5.8M661.80,162.29l5.8,5.8M661.80,168.09l5.8,-5.8M662.27,162.72l5.8,5.8M662.27,168.52l5.8,-5.8M662.74,163.13l5.8,5.8M662.74,168.93l5.8,-5.8M663.20,163.55l5.8,5.8M663.20,169.35l5.8,-5.8M663.66,163.97l5.8,5.8M663.66,169.77l5.8,-5.8M664.11,164.38l5.8,5.8M664.11,170.18l5.8,-5.8M664.55,164.79l5.8,5.8M664.55,170.59l5.8,-5.8M665.00,165.20l5.8,5.8M665.00,171.00l5.8,-5.8M665.44,165.60l5.8,5.8M665.44,171.40l5.8,-5.8M665.87,166.01l5.8,5.8M665.87,171.81l5.8,-5.8M666.30,166.41l5.8,5.8M666.30,172.21l5.8,-5.8M666.73,166.81l5.8,5.8M666.73,172.61l5.8,-5.8M667.15,167.20l5.8,5.8M667.15,173.00l5.8,-5.8M667.57,167.60l5.8,5.8M667.57,173.40l5.8,-5.8M667.98,167.99l5.8,5.8M667.98,173.79l5.8,-5.8" fill="none" stroke="#0000ff" stroke-width="1.7"/>
<path d="M416.81,201.24 L444.21,188.65 L460.38,175.60 L471.96,162.68 L481.02,148.67 L488.49,137.20 L494.86,125.31 L500.43,112.66 L505.38,101.48 L509.85,92.08 L513.93,83.86 L517.69,76.66 L521.17,70.48 L524.42,64.92 L527.48,59.34 L530.36,55.42 L533.09,52.52 L535.68,50.30 L538.16,48.65 L540.52,47.59 L542.79,47.39 L544.97,47.50 L547.07,47.87 L549.10,48.46 L551.06,49.22 L552.96,50.14 L554.80,51.32 L556.59,53.18 L558.32,55.10 L560.02,57.05 L561.67,59.03 L563.27,61.03 L564.84,63.03 L566.38,65.03 L567.88,67.02 L569.35,68.93 L570.79,70.80 L572.20,72.64 L573.59,74.46 L574.95,76.26 L576.28,78.03 L577.60,79.76 L578.89,81.47 L580.16,83.14 L581.41,84.77 L582.64,86.43 L583.85,88.40 L585.04,90.31 L586.22,92.17 L587.38,93.97 L588.53,95.71 L589.66,97.41 L590.77,98.44 L591.87,99.32 L592.96,100.16 L594.04,100.97 L595.10,101.75 L596.15,102.50 L597.19,103.23 L598.21,103.93 L599.23,104.61 L600.23,105.27 L601.23,105.91 L602.21,106.53 L603.19,107.13 L604.15,107.70 L605.11,107.66 L606.05,107.63 L606.99,107.59 L607.92,107.55 L608.84,107.51 L609.75,107.48 L610.66,107.45 L611.55,107.42 L612.44,107.39 L613.32,107.37 L614.19,107.35 L615.06,107.34 L615.92,107.34 L616.77,107.33 L617.61,107.34 L618.45,107.41 L619.28,108.01 L620.11,108.60 L620.92,109.19 L621.74,109.78 L622.54,110.36 L623.34,110.94 L624.13,111.51 L624.92,112.09 L625.70,112.66 L626.48,113.23 L627.25,113.80 L628.01,114.37 L628.77,114.93 L629.52,115.50 L630.27,116.06 L631.01,116.63 L631.75,117.19 L632.48,117.75 L633.20,118.37 L633.92,119.00 L634.64,119.64 L635.35,120.27 L636.05,120.91 L636.75,121.54 L637.45,122.18 L638.13,122.81 L638.82,123.44 L639.50,124.08 L640.17,124.71 L640.84,125.35 L641.51,125.99 L642.17,126.64 L642.82,127.26 L643.47,127.87 L644.11,128.49 L644.76,129.11 L645.39,129.74 L646.02,130.37 L646.65,131.01 L647.27,131.66 L647.88,132.31 L648.50,132.97 L649.10,133.64 L649.71,134.32 L650.30,135.00 L650.90,135.70 L651.48,136.40 L652.07,137.11 L652.65,137.82 L653.22,138.55 L653.79,139.28 L654.36,140.02 L654.92,140.76 L655.47,141.51 L656.02,142.25 L656.57,142.99 L657.11,143.73 L657.65,144.47 L658.18,145.20 L658.71,145.92 L659.24,146.64 L659.76,147.34 L660.27,148.04 L660.78,148.73 L661.29,149.41 L661.79,150.07 L662.28,150.72 L662.78,151.36 L663.27,151.98 L663.75,152.59 L664.23,153.18 L664.70,153.76 L665.17,154.32 L665.64,154.86 L666.10,155.39 L666.56,155.89 L667.01,156.38 L667.45,156.85 L667.90,157.30 L668.34,157.73 L668.77,158.14 L669.20,158.53 L669.63,158.91 L670.05,159.26 L670.47,159.59 L670.88,159.91" fill="none" stroke="#008000" stroke-width="2.86" stroke-linejoin="round" stroke-linecap="square"/>
<path d="M413.21,201.24a3.6,3.6 0 1,0 7.2,0a3.6,3.6 0 1,0 -7.2,0M440.61,188.65a3.6,3.6 0 1,0 7.2,0a3.6,3.6 0 1,0 -7.2,0M456.78,175.60a3.6,3.6 0 1,0 7.2,0a3.6,3.6 0 1,0 -7.2,0M468.36,162.68a3.6,3.6 0 1,0 7.2,0a3.6,3.6 0 1,0 -7.2,0M477.42,148.67a3.6,3.6 0 1,0 7.2,0a3.6,3.6 0 1,0 -7.2,0M484.89,137.20a3.6,3.6 0 1,0 7.2,0a3.6,3.6 0 1,0 -7.2,0M491.26,125.31a3.6,3.6 0 1,0 7.2,0a3.6,3.6 0 1,0 -7.2,0M496.83,112.66a3.6,3.6 0 1,0 7.2,0a3.6,3.6 0 1,0 -7.2,0M501.78,101.48a3.6,3.6 0 1,0 7.2,0a3.6,3.6 0 1,0 -7.2,0M506.25,92.08a3.6,3.6 0 1,0 7.2,0a3.6,3.6 0 1,0 -7.2,0M510.33,83.86a3.6,3.6 0 1,0 7.2,0a3.6,3.6 0 1,0 -7.2,0M514.09,76.66a3.6,3.6 0 1,0 7.2,0a3.6,3.6 0 1,0 -7.2,0M517.57,70.48a3.6,3.6 0 1,0 7.2,0a3.6,3.6 0 1,0 -7.2,0M520.82,64.92a3.6,3.6 0 1,0 7.2,0a3.6,3.6 0 1,0 -7.2,0M523.88,59.34a3.6,3.6 0 1,0 7.2,0a3.6,3.6 0 1,0 -7.2,0M526.76,55.42a3.6,3.6 0 1,0 7.2,0a3.6,3.6 0 1,0 -7.2,0M529.49,52.52a3.6,3.6 0 1,0 7.2,0a3.6,3.6 0 1,0 -7.2,0M532.08,50.30a3.6,3.6 0 1,0 7.2,0a3.6,3.6 0 1,0 -7.2,0M534.56,48.65a3.6,3.6 0 1,0 7.2,0a3.6,3.6 0 1,0 -7.2,0M536.92,47.59a3.6,3.6 0 1,0 7.2,0a3.6,3.6 0 1,0 -7.2,0M539.19,47.39a3.6,3.6 0 1,0 7.2,0a3.6,3.6 0 1,0 -7.2,0M541.37,47.50a3.6,3.6 0 1,0 7.2,0a3.6,3.6 0 1,0 -7.2,0M543.47,47.87a3.6,3.6 0 1,0 7.2,0a3.6,3.6 0 1,0 -7.2,0M545.50,48.46a3.6,3.6 0 1,0 7.2,0a3.6,3.6 0 1,0 -7.2,0M547.46,49.22a3.6,3.6 0 1,0 7.2,0a3.6,3.6 0 1,0 -7.2,0M549.36,50.14a3.6,3.6 0 1,0 7.2,0a3.6,3.6 0 1,0 -7.2,0M551.20,51.32a3.6,3.6 0 1,0 7.2,0a3.6,3.6 0 1,0 -7.2,0M552.99,53.18a3.6,3.6 0 1,0 7.2,0a3.6,3.6 0 1,0 -7.2,0M554.72,55.10a3.6,3.6 0 1,0 7.2,0a3.6,3.6 0 1,0 -7.2,0M556.42,57.05a3.6,3.6 0 1,0 7.2,0a3.6,3.6 0 1,0 -7.2,0M558.07,59.03a3.6,3.6 0 1,0 7.2,0a3.6,3.6 0 1,0 -7.2,0M559.67,61.03a3.6,3.6 0 1,0 7.2,0a3.6,3.6 0 1,0 -7.2,0M561.24,63.03a3.6,3.6 0 1,0 7.2,0a3.6,3.6 0 1,0 -7.2,0M562.78,65.03a3.6,3.6 0 1,0 7.2,0a3.6,3.6 0 1,0 -7.2,0M564.28,67.02a3.6,3.6 0 1,0 7.2,0a3.6,3.6 0 1,0 -7.2,0M565.75,68.93a3.6,3.6 0 1,0 7.2,0a3.6,3.6 0 1,0 -7.2,0M567.19,70.80a3.6,3.6 0 1,0 7.2,0a3.6,3.6 0 1,0 -7.2,0M568.60,72.64a3.6,3.6 0 1,0 7.2,0a3.6,3.6 0 1,0 -7.2,0M569.99,74.46a3.6,3.6 0 1,0 7.2,0a3.6,3.6 0 1,0 -7.2,0M571.35,76.26a3.6,3.6 0 1,0 7.2,0a3.6,3.6 0 1,0 -7.2,0M572.68,78.03a3.6,3.6 0 1,0 7.2,0a3.6,3.6 0 1,0 -7.2,0M574.00,79.76a3.6,3.6 0 1,0 7.2,0a3.6,3.6 0 1,0 -7.2,0M575.29,81.47a3.6,3.6 0 1,0 7.2,0a3.6,3.6 0 1,0 -7.2,0M576.56,83.14a3.6,3.6 0 1,0 7.2,0a3.6,3.6 0 1,0 -7.2,0M577.81,84.77a3.6,3.6 0 1,0 7.2,0a3.6,3.6 0 1,0 -7.2,0M579.04,86.43a3.6,3.6 0 1,0 7.2,0a3.6,3.6 0 1,0 -7.2,0M580.25,88.40a3.6,3.6 0 1,0 7.2,0a3.6,3.6 0 1,0 -7.2,0M581.44,90.31a3.6,3.6 0 1,0 7.2,0a3.6,3.6 0 1,0 -7.2,0M582.62,92.17a3.6,3.6 0 1,0 7.2,0a3.6,3.6 0 1,0 -7.2,0M583.78,93.97a3.6,3.6 0 1,0 7.2,0a3.6,3.6 0 1,0 -7.2,0M584.93,95.71a3.6,3.6 0 1,0 7.2,0a3.6,3.6 0 1,0 -7.2,0M586.06,97.41a3.6,3.6 0 1,0 7.2,0a3.6,3.6 0 1,0 -7.2,0M587.17,98.44a3.6,3.6 0 1,0 7.2,0a3.6,3.6 0 1,0 -7.2,0M588.27,99.32a3.6,3.6 0 1,0 7.2,0a3.6,3.6 0 1,0 -7.2,0M589.36,100.16a3.6,3.6 0 1,0 7.2,0a3.6,3.6 0 1,0 -7.2,0M590.44,100.97a3.6,3.6 0 1,0 7.2,0a3.6,3.6 0 1,0 -7.2,0M591.50,101.75a3.6,3.6 0 1,0 7.2,0a3.6,3.6 0 1,0 -7.2,0M592.55,102.50a3.6,3.6 0 1,0 7.2,0a3.6,3.6 0 1,0 -7.2,0M593.59,103.23a3.6,3.6 0 1,0 7.2,0a3.6,3.6 0 1,0 -7.2,0M594.61,103.93a3.6,3.6 0 1,0 7.2,0a3.6,3.6 0 1,0 -7.2,0M595.63,104.61a3.6,3.6 0 1,0 7.2,0a3.6,3.6 0 1,0 -7.2,0M596.63,105.27a3.6,3.6 0 1,0 7.2,0a3.6,3.6 0 1,0 -7.2,0M597.63,105.91a3.6,3.6 0 1,0 7.2,0a3.6,3.6 0 1,0 -7.2,0M598.61,106.53a3.6,3.6 0 1,0 7.2,0a3.6,3.6 0 1,0 -7.2,0M599.59,107.13a3.6,3.6 0 1,0 7.2,0a3.6,3.6 0 1,0 -7.2,0M600.55,107.70a3.6,3.6 0 1,0 7.2,0a3.6,3.6 0 1,0 -7.2,0M601.51,107.66a3.6,3.6 0 1,0 7.2,0a3.6,3.6 0 1,0 -7.2,0M602.45,107.63a3.6,3.6 0 1,0 7.2,0a3.6,3.6 0 1,0 -7.2,0M603.39,107.59a3.6,3.6 0 1,0 7.2,0a3.6,3.6 0 1,0 -7.2,0M604.32,107.55a3.6,3.6 0 1,0 7.2,0a3.6,3.6 0 1,0 -7.2,0M605.24,107.51a3.6,3.6 0 1,0 7.2,0a3.6,3.6 0 1,0 -7.2,0M606.15,107.48a3.6,3.6 0 1,0 7.2,0a3.6,3.6 0 1,0 -7.2,0M607.06,107.45a3.6,3.6 0 1,0 7.2,0a3.6,3.6 0 1,0 -7.2,0M607.95,107.42a3.6,3.6 0 1,0 7.2,0a3.6,3.6 0 1,0 -7.2,0M608.84,107.39a3.6,3.6 0 1,0 7.2,0a3.6,3.6 0 1,0 -7.2,0M609.72,107.37a3.6,3.6 0 1,0 7.2,0a3.6,3.6 0 1,0 -7.2,0M610.59,107.35a3.6,3.6 0 1,0 7.2,0a3.6,3.6 0 1,0 -7.2,0M611.46,107.34a3.6,3.6 0 1,0 7.2,0a3.6,3.6 0 1,0 -7.2,0M612.32,107.34a3.6,3.6 0 1,0 7.2,0a3.6,3.6 0 1,0 -7.2,0M613.17,107.33a3.6,3.6 0 1,0 7.2,0a3.6,3.6 0 1,0 -7.2,0M614.01,107.34a3.6,3.6 0 1,0 7.2,0a3.6,3.6 0 1,0 -7.2,0M614.85,107.41a3.6,3.6 0 1,0 7.2,0a3.6,3.6 0 1,0 -7.2,0M615.68,108.01a3.6,3.6 0 1,0 7.2,0a3.6,3.6 0 1,0 -7.2,0M616.51,108.60a3.6,3.6 0 1,0 7.2,0a3.6,3.6 0 1,0 -7.2,0M617.32,109.19a3.6,3.6 0 1,0 7.2,0a3.6,3.6 0 1,0 -7.2,0M618.14,109.78a3.6,3.6 0 1,0 7.2,0a3.6,3.6 0 1,0 -7.2,0M618.94,110.36a3.6,3.6 0 1,0 7.2,0a3.6,3.6 0 1,0 -7.2,0M619.74,110.94a3.6,3.6 0 1,0 7.2,0a3.6,3.6 0 1,0 -7.2,0M620.53,111.51a3.6,3.6 0 1,0 7.2,0a3.6,3.6 0 1,0 -7.2,0M621.32,112.09a3.6,3.6 0 1,0 7.2,0a3.6,3.6 0 1,0 -7.2,0M622.10,112.66a3.6,3.6 0 1,0 7.2,0a3.6,3.6 0 1,0 -7.2,0M622.88,113.23a3.6,3.6 0 1,0 7.2,0a3.6,3.6 0 1,0 -7.2,0M623.65,113.80a3.6,3.6 0 1,0 7.2,0a3.6,3.6 0 1,0 -7.2,0M624.41,114.37a3.6,3.6 0 1,0 7.2,0a3.6,3.6 0 1,0 -7.2,0M625.17,114.93a3.6,3.6 0 1,0 7.2,0a3.6,3.6 0 1,0 -7.2,0M625.92,115.50a3.6,3.6 0 1,0 7.2,0a3.6,3.6 0 1,0 -7.2,0M626.67,116.06a3.6,3.6 0 1,0 7.2,0a3.6,3.6 0 1,0 -7.2,0M627.41,116.63a3.6,3.6 0 1,0 7.2,0a3.6,3.6 0 1,0 -7.2,0M628.15,117.19a3.6,3.6 0 1,0 7.2,0a3.6,3.6 0 1,0 -7.2,0M628.88,117.75a3.6,3.6 0 1,0 7.2,0a3.6,3.6 0 1,0 -7.2,0M629.60,118.37a3.6,3.6 0 1,0 7.2,0a3.6,3.6 0 1,0 -7.2,0M630.32,119.00a3.6,3.6 0 1,0 7.2,0a3.6,3.6 0 1,0 -7.2,0M631.04,119.64a3.6,3.6 0 1,0 7.2,0a3.6,3.6 0 1,0 -7.2,0M631.75,120.27a3.6,3.6 0 1,0 7.2,0a3.6,3.6 0 1,0 -7.2,0M632.45,120.91a3.6,3.6 0 1,0 7.2,0a3.6,3.6 0 1,0 -7.2,0M633.15,121.54a3.6,3.6 0 1,0 7.2,0a3.6,3.6 0 1,0 -7.2,0M633.85,122.18a3.6,3.6 0 1,0 7.2,0a3.6,3.6 0 1,0 -7.2,0M634.53,122.81a3.6,3.6 0 1,0 7.2,0a3.6,3.6 0 1,0 -7.2,0M635.22,123.44a3.6,3.6 0 1,0 7.2,0a3.6,3.6 0 1,0 -7.2,0M635.90,124.08a3.6,3.6 0 1,0 7.2,0a3.6,3.6 0 1,0 -7.2,0M636.57,124.71a3.6,3.6 0 1,0 7.2,0a3.6,3.6 0 1,0 -7.2,0M637.24,125.35a3.6,3.6 0 1,0 7.2,0a3.6,3.6 0 1,0 -7.2,0M637.91,125.99a3.6,3.6 0 1,0 7.2,0a3.6,3.6 0 1,0 -7.2,0M638.57,126.64a3.6,3.6 0 1,0 7.2,0a3.6,3.6 0 1,0 -7.2,0M639.22,127.26a3.6,3.6 0 1,0 7.2,0a3.6,3.6 0 1,0 -7.2,0M639.87,127.87a3.6,3.6 0 1,0 7.2,0a3.6,3.6 0 1,0 -7.2,0M640.51,128.49a3.6,3.6 0 1,0 7.2,0a3.6,3.6 0 1,0 -7.2,0M641.16,129.11a3.6,3.6 0 1,0 7.2,0a3.6,3.6 0 1,0 -7.2,0M641.79,129.74a3.6,3.6 0 1,0 7.2,0a3.6,3.6 0 1,0 -7.2,0M642.42,130.37a3.6,3.6 0 1,0 7.2,0a3.6,3.6 0 1,0 -7.2,0M643.05,131.01a3.6,3.6 0 1,0 7.2,0a3.6,3.6 0 1,0 -7.2,0M643.67,131.66a3.6,3.6 0 1,0 7.2,0a3.6,3.6 0 1,0 -7.2,0M644.28,132.31a3.6,3.6 0 1,0 7.2,0a3.6,3.6 0 1,0 -7.2,0M644.90,132.97a3.6,3.6 0 1,0 7.2,0a3.6,3.6 0 1,0 -7.2,0M645.50,133.64a3.6,3.6 0 1,0 7.2,0a3.6,3.6 0 1,0 -7.2,0M646.11,134.32a3.6,3.6 0 1,0 7.2,0a3.6,3.6 0 1,0 -7.2,0M646.70,135.00a3.6,3.6 0 1,0 7.2,0a3.6,3.6 0 1,0 -7.2,0M647.30,135.70a3.6,3.6 0 1,0 7.2,0a3.6,3.6 0 1,0 -7.2,0M647.88,136.40a3.6,3.6 0 1,0 7.2,0a3.6,3.6 0 1,0 -7.2,0M648.47,137.11a3.6,3.6 0 1,0 7.2,0a3.6,3.6 0 1,0 -7.2,0M649.05,137.82a3.6,3.6 0 1,0 7.2,0a3.6,3.6 0 1,0 -7.2,0M649.62,138.55a3.6,3.6 0 1,0 7.2,0a3.6,3.6 0 1,0 -7.2,0M650.19,139.28a3.6,3.6 0 1,0 7.2,0a3.6,3.6 0 1,0 -7.2,0M650.76,140.02a3.6,3.6 0 1,0 7.2,0a3.6,3.6 0 1,0 -7.2,0M651.32,140.76a3.6,3.6 0 1,0 7.2,0a3.6,3.6 0 1,0 -7.2,0M651.87,141.51a3.6,3.6 0 1,0 7.2,0a3.6,3.6 0 1,0 -7.2,0M652.42,142.25a3.6,3.6 0 1,0 7.2,0a3.6,3.6 0 1,0 -7.2,0M652.97,142.99a3.6,3.6 0 1,0 7.2,0a3.6,3.6 0 1,0 -7.2,0M653.51,143.73a3.6,3.6 0 1,0 7.2,0a3.6,3.6 0 1,0 -7.2,0M654.05,144.47a3.6,3.6 0 1,0 7.2,0a3.6,3.6 0 1,0 -7.2,0M654.58,145.20a3.6,3.6 0 1,0 7.2,0a3.6,3.6 0 1,0 -7.2,0M655.11,145.92a3.6,3.6 0 1,0 7.2,0a3.6,3.6 0 1,0 -7.2,0M655.64,146.64a3.6,3.6 0 1,0 7.2,0a3.6,3.6 0 1,0 -7.2,0M656.16,147.34a3.6,3.6 0 1,0 7.2,0a3.6,3.6 0 1,0 -7.2,0M656.67,148.04a3.6,3.6 0 1,0 7.2,0a3.6,3.6 0 1,0 -7.2,0M657.18,148.73a3.6,3.6 0 1,0 7.2,0a3.6,3.6 0 1,0 -7.2,0M657.69,149.41a3.6,3.6 0 1,0 7.2,0a3.6,3.6 0 1,0 -7.2,0M658.19,150.07a3.6,3.6 0 1,0 7.2,0a3.6,3.6 0 1,0 -7.2,0M658.68,150.72a3.6,3.6 0 1,0 7.2,0a3.6,3.6 0 1,0 -7.2,0M659.18,151.36a3.6,3.6 0 1,0 7.2,0a3.6,3.6 0 1,0 -7.2,0M659.67,151.98a3.6,3.6 0 1,0 7.2,0a3.6,3.6 0 1,0 -7.2,0M660.15,152.59a3.6,3.6 0 1,0 7.2,0a3.6,3.6 0 1,0 -7.2,0M660.63,153.18a3.6,3.6 0 1,0 7.2,0a3.6,3.6 0 1,0 -7.2,0M661.10,153.76a3.6,3.6 0 1,0 7.2,0a3.6,3.6 0 1,0 -7.2,0M661.57,154.32a3.6,3.6 0 1,0 7.2,0a3.6,3.6 0 1,0 -7.2,0M662.04,154.86a3.6,3.6 0 1,0 7.2,0a3.6,3.6 0 1,0 -7.2,0M662.50,155.39a3.6,3.6 0 1,0 7.2,0a3.6,3.6 0 1,0 -7.2,0M662.96,155.89a3.6,3.6 0 1,0 7.2,0a3.6,3.6 0 1,0 -7.2,0M663.41,156.38a3.6,3.6 0 1,0 7.2,0a3.6,3.6 0 1,0 -7.2,0M663.85,156.85a3.6,3.6 0 1,0 7.2,0a3.6,3.6 0 1,0 -7.2,0M664.30,157.30a3.6,3.6 0 1,0 7.2,0a3.6,3.6 0 1,0 -7.2,0M664.74,157.73a3.6,3.6 0 1,0 7.2,0a3.6,3.6 0 1,0 -7.2,0M665.17,158.14a3.6,3.6 0 1,0 7.2,0a3.6,3.6 0 1,0 -7.2,0M665.60,158.53a3.6,3.6 0 1,0 7.2,0a3.6,3.6 0 1,0 -7.2,0M666.03,158.91a3.6,3.6 0 1,0 7.2,0a3.6,3.6 0 1,0 -7.2,0M666.45,159.26a3.6,3.6 0 1,0 7.2,0a3.6,3.6 0 1,0 -7.2,0M666.87,159.59a3.6,3.6 0 1,0 7.2,0a3.6,3.6 0 1,0 -7.2,0M667.28,159.91a3.6,3.6 0 1,0 7.2,0a3.6,3.6 0 1,0 -7.2,0" fill="#008000"/>
<path d="M416.81,214.84 L444.21,214.37 L460.38,213.53 L471.96,212.41 L481.02,210.85 L488.49,209.06 L494.86,207.42 L500.43,205.80 L505.38,204.02 L509.85,202.19 L513.93,200.53 L517.69,198.95 L521.17,197.37 L524.42,195.77 L527.48,194.18 L530.36,192.65 L533.09,191.16 L535.68,189.65 L538.16,188.15 L540.52,186.67 L542.79,185.20 L544.97,183.74 L547.07,182.29 L549.10,180.84 L551.06,179.42 L552.96,178.01 L554.80,176.63 L556.59,175.28 L558.32,173.96 L560.02,172.68 L561.67,171.45 L563.27,170.26 L564.84,169.11 L566.38,168.01 L567.88,166.95 L569.35,165.88 L570.79,164.81 L572.20,163.80 L573.59,162.83 L574.95,161.91 L576.28,161.04 L577.60,160.22 L578.89,159.45 L580.16,158.74 L581.41,158.07 L582.64,157.46 L583.85,156.88 L585.04,156.35 L586.22,155.87 L587.38,155.41 L588.53,154.94 L589.66,154.25 L590.77,153.60 L591.87,152.97 L592.96,152.38 L594.04,151.81 L595.10,151.27 L596.15,150.76 L597.19,150.27 L598.21,149.80 L599.23,149.36 L600.23,148.93 L601.23,148.52 L602.21,148.39 L603.19,148.34 L604.15,148.31 L605.11,148.28 L606.05,148.27 L606.99,148.27 L607.92,148.28 L608.84,148.29 L609.75,148.31 L610.66,148.35 L611.55,148.38 L612.44,148.43 L613.32,148.48 L614.19,148.55 L615.06,148.61 L615.92,148.69 L616.77,148.77 L617.61,148.86 L618.45,148.96 L619.28,149.08 L620.11,149.27 L620.92,149.47 L621.74,149.67 L622.54,149.88 L623.34,150.09 L624.13,150.30 L624.92,150.53 L625.70,150.75 L626.48,150.98 L627.25,151.21 L628.01,151.45 L628.77,151.69 L629.52,151.94 L630.27,152.19 L631.01,152.44 L631.75,152.70 L632.48,152.96 L633.20,153.23 L633.92,153.49 L634.64,153.76 L635.35,154.04 L636.05,154.32 L636.75,154.60 L637.45,154.88 L638.13,155.17 L638.82,155.45 L639.50,155.75 L640.17,156.04 L640.84,156.34 L641.51,156.63 L642.17,156.94 L642.82,157.24 L643.47,157.54 L644.11,157.84 L644.76,158.15 L645.39,158.46 L646.02,158.77 L646.65,159.08 L647.27,159.40 L647.88,159.71 L648.50,160.03 L649.10,160.34 L649.71,160.66 L650.30,160.97 L650.90,161.29 L651.48,161.60 L652.07,161.92 L652.65,162.23 L653.22,162.54 L653.79,162.85 L654.36,163.16 L654.92,163.47 L655.47,163.77 L656.02,164.07 L656.57,164.37 L657.11,164.67 L657.65,164.97 L658.18,165.26 L658.71,165.55 L659.24,165.83 L659.76,166.11 L660.27,166.39 L660.78,166.67 L661.29,166.94 L661.79,167.21 L662.28,167.47 L662.78,167.73 L663.27,167.99 L663.75,168.24 L664.23,168.49 L664.70,168.74 L665.17,168.98 L665.64,169.22 L666.10,169.45 L666.56,169.68 L667.01,169.90 L667.45,170.12 L667.90,170.34 L668.34,170.55 L668.77,170.76 L669.20,170.96 L669.63,171.16 L670.05,171.35 L670.47,171.54 L670.88,171.73" fill="none" stroke="#008000" stroke-width="2.86" stroke-linejoin="round" stroke-linecap="square"/>
<path d="M413.21,211.24h7.2v7.2h-7.2zM440.61,210.77h7.2v7.2h-7.2zM456.78,209.93h7.2v7.2h-7.2zM468.36,208.81h7.2v7.2h-7.2zM477.42,207.25h7.2v7.2h-7.2zM484.89,205.46h7.2v7.2h-7.2zM491.26,203.82h7.2v7.2h-7.2zM496.83,202.20h7.2v7.2h-7.2zM501.78,200.42h7.2v7.2h-7.2zM506.25,198.59h7.2v7.2h-7.2zM510.33,196.93h7.2v7.2h-7.2zM514.09,195.35h7.2v7.2h-7.2zM517.57,193.77h7.2v7.2h-7.2zM520.82,192.17h7.2v7.2h-7.2zM523.88,190.58h7.2v7.2h-7.2zM526.76,189.05h7.2v7.2h-7.2zM529.49,187.56h7.2v7.2h-7.2zM532.08,186.05h7.2v7.2h-7.2zM534.56,184.55h7.2v7.2h-7.2zM536.92,183.07h7.2v7.2h-7.2zM539.19,181.60h7.2v7.2h-7.2zM541.37,180.14h7.2v7.2h-7.2zM543.47,178.69h7.2v7.2h-7.2zM545.50,177.24h7.2v7.2h-7.2zM547.46,175.82h7.2v7.2h-7.2zM549.36,174.41h7.2v7.2h-7.2zM551.20,173.03h7.2v7.2h-7.2zM552.99,171.68h7.2v7.2h-7.2zM554.72,170.36h7.2v7.2h-7.2zM556.42,169.08h7.2v7.2h-7.2zM558.07,167.85h7.2v7.2h-7.2zM559.67,166.66h7.2v7.2h-7.2zM561.24,165.51h7.2v7.2h-7.2zM562.78,164.41h7.2v7.2h-7.2zM564.28,163.35h7.2v7.2h-7.2zM565.75,162.28h7.2v7.2h-7.2zM567.19,161.21h7.2v7.2h-7.2zM568.60,160.20h7.2v7.2h-7.2zM569.99,159.23h7.2v7.2h-7.2zM571.35,158.31h7.2v7.2h-7.2zM572.68,157.44h7.2v7.2h-7.2zM574.00,156.62h7.2v7.2h-7.2zM575.29,155.85h7.2v7.2h-7.2zM576.56,155.14h7.2v7.2h-7.2zM577.81,154.47h7.2v7.2h-7.2zM579.04,153.86h7.2v7.2h-7.2zM580.25,153.28h7.2v7.2h-7.2zM581.44,152.75h7.2v7.2h-7.2zM582.62,152.27h7.2v7.2h-7.2zM583.78,151.81h7.2v7.2h-7.2zM584.93,151.34h7.2v7.2h-7.2zM586.06,150.65h7.2v7.2h-7.2zM587.17,150.00h7.2v7.2h-7.2zM588.27,149.37h7.2v7.2h-7.2zM589.36,148.78h7.2v7.2h-7.2zM590.44,148.21h7.2v7.2h-7.2zM591.50,147.67h7.2v7.2h-7.2zM592.55,147.16h7.2v7.2h-7.2zM593.59,146.67h7.2v7.2h-7.2zM594.61,146.20h7.2v7.2h-7.2zM595.63,145.76h7.2v7.2h-7.2zM596.63,145.33h7.2v7.2h-7.2zM597.63,144.92h7.2v7.2h-7.2zM598.61,144.79h7.2v7.2h-7.2zM599.59,144.74h7.2v7.2h-7.2zM600.55,144.71h7.2v7.2h-7.2zM601.51,144.68h7.2v7.2h-7.2zM602.45,144.67h7.2v7.2h-7.2zM603.39,144.67h7.2v7.2h-7.2zM604.32,144.68h7.2v7.2h-7.2zM605.24,144.69h7.2v7.2h-7.2zM606.15,144.71h7.2v7.2h-7.2zM607.06,144.75h7.2v7.2h-7.2zM607.95,144.78h7.2v7.2h-7.2zM608.84,144.83h7.2v7.2h-7.2zM609.72,144.88h7.2v7.2h-7.2zM610.59,144.95h7.2v7.2h-7.2zM611.46,145.01h7.2v7.2h-7.2zM612.32,145.09h7.2v7.2h-7.2zM613.17,145.17h7.2v7.2h-7.2zM614.01,145.26h7.2v7.2h-7.2zM614.85,145.36h7.2v7.2h-7.2zM615.68,145.48h7.2v7.2h-7.2zM616.51,145.67h7.2v7.2h-7.2zM617.32,145.87h7.2v7.2h-7.2zM618.14,146.07h7.2v7.2h-7.2zM618.94,146.28h7.2v7.2h-7.2zM619.74,146.49h7.2v7.2h-7.2zM620.53,146.70h7.2v7.2h-7.2zM621.32,146.93h7.2v7.2h-7.2zM622.10,147.15h7.2v7.2h-7.2zM622.88,147.38h7.2v7.2h-7.2zM623.65,147.61h7.2v7.2h-7.2zM624.41,147.85h7.2v7.2h-7.2zM625.17,148.09h7.2v7.2h-7.2zM625.92,148.34h7.2v7.2h-7.2zM626.67,148.59h7.2v7.2h-7.2zM627.41,148.84h7.2v7.2h-7.2zM628.15,149.10h7.2v7.2h-7.2zM628.88,149.36h7.2v7.2h-7.2zM629.60,149.63h7.2v7.2h-7.2zM630.32,149.89h7.2v7.2h-7.2zM631.04,150.16h7.2v7.2h-7.2zM631.75,150.44h7.2v7.2h-7.2zM632.45,150.72h7.2v7.2h-7.2zM633.15,151.00h7.2v7.2h-7.2zM633.85,151.28h7.2v7.2h-7.2zM634.53,151.57h7.2v7.2h-7.2zM635.22,151.85h7.2v7.2h-7.2zM635.90,152.15h7.2v7.2h-7.2zM636.57,152.44h7.2v7.2h-7.2zM637.24,152.74h7.2v7.2h-7.2zM637.91,153.03h7.2v7.2h-7.2zM638.57,153.34h7.2v7.2h-7.2zM639.22,153.64h7.2v7.2h-7.2zM639.87,153.94h7.2v7.2h-7.2zM640.51,154.24h7.2v7.2h-7.2zM641.16,154.55h7.2v7.2h-7.2zM641.79,154.86h7.2v7.2h-7.2zM642.42,155.17h7.2v7.2h-7.2zM643.05,155.48h7.2v7.2h-7.2zM643.67,155.80h7.2v7.2h-7.2zM644.28,156.11h7.2v7.2h-7.2zM644.90,156.43h7.2v7.2h-7.2zM645.50,156.74h7.2v7.2h-7.2zM646.11,157.06h7.2v7.2h-7.2zM646.70,157.37h7.2v7.2h-7.2zM647.30,157.69h7.2v7.2h-7.2zM647.88,158.00h7.2v7.2h-7.2zM648.47,158.32h7.2v7.2h-7.2zM649.05,158.63h7.2v7.2h-7.2zM649.62,158.94h7.2v7.2h-7.2zM650.19,159.25h7.2v7.2h-7.2zM650.76,159.56h7.2v7.2h-7.2zM651.32,159.87h7.2v7.2h-7.2zM651.87,160.17h7.2v7.2h-7.2zM652.42,160.47h7.2v7.2h-7.2zM652.97,160.77h7.2v7.2h-7.2zM653.51,161.07h7.2v7.2h-7.2zM654.05,161.37h7.2v7.2h-7.2zM654.58,161.66h7.2v7.2h-7.2zM655.11,161.95h7.2v7.2h-7.2zM655.64,162.23h7.2v7.2h-7.2zM656.16,162.51h7.2v7.2h-7.2zM656.67,162.79h7.2v7.2h-7.2zM657.18,163.07h7.2v7.2h-7.2zM657.69,163.34h7.2v7.2h-7.2zM658.19,163.61h7.2v7.2h-7.2zM658.68,163.87h7.2v7.2h-7.2zM659.18,164.13h7.2v7.2h-7.2zM659.67,164.39h7.2v7.2h-7.2zM660.15,164.64h7.2v7.2h-7.2zM660.63,164.89h7.2v7.2h-7.2zM661.10,165.14h7.2v7.2h-7.2zM661.57,165.38h7.2v7.2h-7.2zM662.04,165.62h7.2v7.2h-7.2zM662.50,165.85h7.2v7.2h-7.2zM662.96,166.08h7.2v7.2h-7.2zM663.41,166.30h7.2v7.2h-7.2zM663.85,166.52h7.2v7.2h-7.2zM664.30,166.74h7.2v7.2h-7.2zM664.74,166.95h7.2v7.2h-7.2zM665.17,167.16h7.2v7.2h-7.2zM665.60,167.36h7.2v7.2h-7.2zM666.03,167.56h7.2v7.2h-7.2zM666.45,167.75h7.2v7.2h-7.2zM666.87,167.94h7.2v7.2h-7.2zM667.28,168.13h7.2v7.2h-7.2z" fill="#008000"/>
<path d="M416.81,206.50 L444.21,199.12 L460.38,193.29 L471.96,188.48 L481.02,184.31 L488.49,180.47 L494.86,177.04 L500.43,173.93 L505.38,171.10 L509.85,168.51 L513.93,166.13 L517.69,163.93 L521.17,161.89 L524.42,160.00 L527.48,158.24 L530.36,156.61 L533.09,155.11 L535.68,153.71 L538.16,152.40 L540.52,151.18 L542.79,150.03 L544.97,148.95 L547.07,147.94 L549.10,146.99 L551.06,146.10 L552.96,145.27 L554.80,144.49 L556.59,143.75 L558.32,143.06 L560.02,142.42 L561.67,141.78 L563.27,141.11 L564.84,140.46 L566.38,139.86 L567.88,139.29 L569.35,138.76 L570.79,138.25 L572.20,137.78 L573.59,137.33 L574.95,136.92 L576.28,136.53 L577.60,136.16 L578.89,135.82 L580.16,135.51 L581.41,135.22 L582.64,134.95 L583.85,134.71 L585.04,134.48 L586.22,134.28 L587.38,134.10 L588.53,133.88 L589.66,133.43 L590.77,133.01 L591.87,132.61 L592.96,132.24 L594.04,131.88 L595.10,131.54 L596.15,131.23 L597.19,130.93 L598.21,130.65 L599.23,130.39 L600.23,130.15 L601.23,129.93 L602.21,129.96 L603.19,130.08 L604.15,130.21 L605.11,130.35 L606.05,130.50 L606.99,130.66 L607.92,130.83 L608.84,131.02 L609.75,131.21 L610.66,131.41 L611.55,131.62 L612.44,131.84 L613.32,132.07 L614.19,132.30 L615.06,132.55 L615.92,132.80 L616.77,133.06 L617.61,133.33 L618.45,133.60 L619.28,133.90 L620.11,134.26 L620.92,134.62 L621.74,134.99 L622.54,135.37 L623.34,135.75 L624.13,136.13 L624.92,136.52 L625.70,136.91 L626.48,137.31 L627.25,137.71 L628.01,138.11 L628.77,138.52 L629.52,138.93 L630.27,139.35 L631.01,139.77 L631.75,140.19 L632.48,140.61 L633.20,141.04 L633.92,141.47 L634.64,141.91 L635.35,142.34 L636.05,142.78 L636.75,143.22 L637.45,143.66 L638.13,144.11 L638.82,144.55 L639.50,145.00 L640.17,145.45 L640.84,145.90 L641.51,146.35 L642.17,146.81 L642.82,147.27 L643.47,147.73 L644.11,148.19 L644.76,148.66 L645.39,149.12 L646.02,149.59 L646.65,150.05 L647.27,150.52 L647.88,150.98 L648.50,151.45 L649.10,151.92 L649.71,152.38 L650.30,152.85 L650.90,153.32 L651.48,153.78 L652.07,154.25 L652.65,154.71 L653.22,155.18 L653.79,155.64 L654.36,156.10 L654.92,156.56 L655.47,157.03 L656.02,157.49 L656.57,157.95 L657.11,158.40 L657.65,158.86 L658.18,159.32 L658.71,159.77 L659.24,160.22 L659.76,160.67 L660.27,161.12 L660.78,161.57 L661.29,162.02 L661.79,162.46 L662.28,162.90 L662.78,163.34 L663.27,163.78 L663.75,164.22 L664.23,164.65 L664.70,165.09 L665.17,165.52 L665.64,165.94 L666.10,166.37 L666.56,166.79 L667.01,167.21 L667.45,167.63 L667.90,168.05 L668.34,168.46 L668.77,168.87 L669.20,169.28 L669.63,169.69 L670.05,170.09 L670.47,170.49 L670.88,170.89" fill="none" stroke="#008000" stroke-width="2.86" stroke-linejoin="round" stroke-linecap="square"/>
<path d="M413.91,203.60l5.8,5.8M413.91,209.40l5.8,-5.8M441.31,196.22l5.8,5.8M441.31,202.02l5.8,-5.8M457.48,190.39l5.8,5.8M457.48,196.19l5.8,-5.8M469.06,185.58l5.8,5.8M469.06,191.38l5.8,-5.8M478.12,181.41l5.8,5.8M478.12,187.21l5.8,-5.8M485.59,177.57l5.8,5.8M485.59,183.37l5.8,-5.8M491.96,174.14l5.8,5.8M491.96,179.94l5.8,-5.8M497.53,171.03l5.8,5.8M497.53,176.83l5.8,-5.8M502.48,168.20l5.8,5.8M502.48,174.00l5.8,-5.8M506.95,165.61l5.8,5.8M506.95,171.41l5.8,-5.8M511.03,163.23l5.8,5.8M511.03,169.03l5.8,-5.8M514.79,161.03l5.8,5.8M514.79,166.83l5.8,-5.8M518.27,158.99l5.8,5.8M518.27,164.79l5.8,-5.8M521.52,157.10l5.8,5.8M521.52,162.90l5.8,-5.8M524.58,155.34l5.8,5.8M524.58,161.14l5.8,-5.8M527.46,153.71l5.8,5.8M527.46,159.51l5.8,-5.8M530.19,152.21l5.8,5.8M530.19,158.01l5.8,-5.8M532.78,150.81l5.8,5.8M532.78,156.61l5.8,-5.8M535.26,149.50l5.8,5.8M535.26,155.30l5.8,-5.8M537.62,148.28l5.8,5.8M537.62,154.08l5.8,-5.8M539.89,147.13l5.8,5.8M539.89,152.93l5.8,-5.8M542.07,146.05l5.8,5.8M542.07,151.85l5.8,-5.8M544.17,145.04l5.8,5.8M544.17,150.84l5.8,-5.8M546.20,144.09l5.8,5.8M546.20,149.89l5.8,-5.8M548.16,143.20l5.8,5.8M548.16,149.00l5.8,-5.8M550.06,142.37l5.8,5.8M550.06,148.17l5.8,-5.8M551.90,141.59l5.8,5.8M551.90,147.39l5.8,-5.8M553.69,140.85l5.8,5.8M553.69,146.65l5.8,-5.8M555.42,140.16l5.8,5.8M555.42,145.96l5.8,-5.8M557.12,139.52l5.8,5.8M557.12,145.32l5.8,-5.8M558.77,138.88l5.8,5.8M558.77,144.68l5.8,-5.8M560.37,138.21l5.8,5.8M560.37,144.01l5.8,-5.8M561.94,137.56l5.8,5.8M561.94,143.36l5.8,-5.8M563.48,136.96l5.8,5.8M563.48,142.76l5.8,-5.8M564.98,136.39l5.8,5.8M564.98,142.19l5.8,-5.8M566.45,135.86l5.8,5.8M566.45,141.66l5.8,-5.8M567.89,135.35l5.8,5.8M567.89,141.15l5.8,-5.8M569.30,134.88l5.8,5.8M569.30,140.68l5.8,-5.8M570.69,134.43l5.8,5.8M570.69,140.23l5.8,-5.8M572.05,134.02l5.8,5.8M572.05,139.82l5.8,-5.8M573.38,133.63l5.8,5.8M573.38,139.43l5.8,-5.8M574.70,133.26l5.8,5.8M574.70,139.06l5.8,-5.8M575.99,132.92l5.8,5.8M575.99,138.72l5.8,-5.8M577.26,132.61l5.8,5.8M577.26,138.41l5.8,-5.8M578.51,132.32l5.8,5.8M578.51,138.12l5.8,-5.8M579.74,132.05l5.8,5.8M579.74,137.85l5.8,-5.8M580.95,131.81l5.8,5.8M580.95,137.61l5.8,-5.8M582.14,131.58l5.8,5.8M582.14,137.38l5.8,-5.8M583.32,131.38l5.8,5.8M583.32,137.18l5.8,-5.8M584.48,131.20l5.8,5.8M584.48,137.00l5.8,-5.8M585.63,130.98l5.8,5.8M585.63,136.78l5.8,-5.8M586.76,130.53l5.8,5.8M586.76,136.33l5.8,-5.8M587.87,130.11l5.8,5.8M587.87,135.91l5.8,-5.8M588.97,129.71l5.8,5.8M588.97,135.51l5.8,-5.8M590.06,129.34l5.8,5.8M590.06,135.14l5.8,-5.8M591.14,128.98l5.8,5.8M591.14,134.78l5.8,-5.8M592.20,128.64l5.8,5.8M592.20,134.44l5.8,-5.8M593.25,128.33l5.8,5.8M593.25,134.13l5.8,-5.8M594.29,128.03l5.8,5.8M594.29,133.83l5.8,-5.8M595.31,127.75l5.8,5.8M595.31,133.55l5.8,-5.8M596.33,127.49l5.8,5.8M596.33,133.29l5.8,-5.8M597.33,127.25l5.8,5.8M597.33,133.05l5.8,-5.8M598.33,127.03l5.8,5.8M598.33,132.83l5.8,-5.8M599.31,127.06l5.8,5.8M599.31,132.86l5.8,-5.8M600.29,127.18l5.8,5.8M600.29,132.98l5.8,-5.8M601.25,127.31l5.8,5.8M601.25,133.11l5.8,-5.8M602.21,127.45l5.8,5.8M602.21,133.25l5.8,-5.8M603.15,127.60l5.8,5.8M603.15,133.40l5.8,-5.8M604.09,127.76l5.8,5.8M604.09,133.56l5.8,-5.8M605.02,127.93l5.8,5.8M605.02,133.73l5.8,-5.8M605.94,128.12l5.8,5.8M605.94,133.92l5.8,-5.8M606.85,128.31l5.8,5.8M606.85,134.11l5.8,-5.8M607.76,128.51l5.8,5.8M607.76,134.31l5.8,-5.8M608.65,128.72l5.8,5.8M608.65,134.52l5.8,-5.8M609.54,128.94l5.8,5.8M609.54,134.74l5.8,-5.8M610.42,129.17l5.8,5.8M610.42,134.97l5.8,-5.8M611.29,129.40l5.8,5.8M611.29,135.20l5.8,-5.8M612.16,129.65l5.8,5.8M612.16,135.45l5.8,-5.8M613.02,129.90l5.8,5.8M613.02,135.70l5.8,-5.8M613.87,130.16l5.8,5.8M613.87,135.96l5.8,-5.8M614.71,130.43l5.8,5.8M614.71,136.23l5.8,-5.8M615.55,130.70l5.8,5.8M615.55,136.50l5.8,-5.8M616.38,131.00l5.8,5.8M616.38,136.80l5.8,-5.8M617.21,131.36l5.8,5.8M617.21,137.16l5.8,-5.8M618.02,131.72l5.8,5.8M618.02,137.52l5.8,-5.8M618.84,132.09l5.8,5.8M618.84,137.89l5.8,-5.8M619.64,132.47l5.8,5.8M619.64,138.27l5.8,-5.8M620.44,132.85l5.8,5.8M620.44,138.65l5.8,-5.8M621.23,133.23l5.8,5.8M621.23,139.03l5.8,-5.8M622.02,133.62l5.8,5.8M622.02,139.42l5.8,-5.8M622.80,134.01l5.8,5.8M622.80,139.81l5.8,-5.8M623.58,134.41l5.8,5.8M623.58,140.21l5.8,-5.8M624.35,134.81l5.8,5.8M624.35,140.61l5.8,-5.8M625.11,135.21l5.8,5.8M625.11,141.01l5.8,-5.8M625.87,135.62l5.8,5.8M625.87,141.42l5.8,-5.8M626.62,136.03l5.8,5.8M626.62,141.83l5.8,-5.8M627.37,136.45l5.8,5.8M627.37,142.25l5.8,-5.8M628.11,136.87l5.8,5.8M628.11,142.67l5.8,-5.8M628.85,137.29l5.8,5.8M628.85,143.09l5.8,-5.8M629.58,137.71l5.8,5.8M629.58,143.51l5.8,-5.8M630.30,138.14l5.8,5.8M630.30,143.94l5.8,-5.8M631.02,138.57l5.8,5.8M631.02,144.37l5.8,-5.8M631.74,139.01l5.8,5.8M631.74,144.81l5.8,-5.8M632.45,139.44l5.8,5.8M632.45,145.24l5.8,-5.8M633.15,139.88l5.8,5.8M633.15,145.68l5.8,-5.8M633.85,140.32l5.8,5.8M633.85,146.12l5.8,-5.8M634.55,140.76l5.8,5.8M634.55,146.56l5.8,-5.8M635.23,141.21l5.8,5.8M635.23,147.01l5.8,-5.8M635.92,141.65l5.8,5.8M635.92,147.45l5.8,-5.8M636.60,142.10l5.8,5.8M636.60,147.90l5.8,-5.8M637.27,142.55l5.8,5.8M637.27,148.35l5.8,-5.8M637.94,143.00l5.8,5.8M637.94,148.80l5.8,-5.8M638.61,143.45l5.8,5.8M638.61,149.25l5.8,-5.8M639.27,143.91l5.8,5.8M639.27,149.71l5.8,-5.8M639.92,144.37l5.8,5.8M639.92,150.17l5.8,-5.8M640.57,144.83l5.8,5.8M640.57,150.63l5.8,-5.8M641.21,145.29l5.8,5.8M641.21,151.09l5.8,-5.8M641.86,145.76l5.8,5.8M641.86,151.56l5.8,-5.8M642.49,146.22l5.8,5.8M642.49,152.02l5.8,-5.8M643.12,146.69l5.8,5.8M643.12,152.49l5.8,-5.8M643.75,147.15l5.8,5.8M643.75,152.95l5.8,-5.8M644.37,147.62l5.8,5.8M644.37,153.42l5.8,-5.8M644.98,148.08l5.8,5.8M644.98,153.88l5.8,-5.8M645.60,148.55l5.8,5.8M645.60,154.35l5.8,-5.8M646.20,149.02l5.8,5.8M646.20,154.82l5.8,-5.8M646.81,149.48l5.8,5.8M646.81,155.28l5.8,-5.8M647.40,149.95l5.8,5.8M647.40,155.75l5.8,-5.8M648.00,150.42l5.8,5.8M648.00,156.22l5.8,-5.8M648.58,150.88l5.8,5.8M648.58,156.68l5.8,-5.8M649.17,151.35l5.8,5.8M649.17,157.15l5.8,-5.8M649.75,151.81l5.8,5.8M649.75,157.61l5.8,-5.8M650.32,152.28l5.8,5.8M650.32,158.08l5.8,-5.8M650.89,152.74l5.8,5.8M650.89,158.54l5.8,-5.8M651.46,153.20l5.8,5.8M651.46,159.00l5.8,-5.8M652.02,153.66l5.8,5.8M652.02,159.46l5.8,-5.8M652.57,154.13l5.8,5.8M652.57,159.93l5.8,-5.8M653.12,154.59l5.8,5.8M653.12,160.39l5.8,-5.8M653.67,155.05l5.8,5.8M653.67,160.85l5.8,-5.8M654.21,155.50l5.8,5.8M654.21,161.30l5.8,-5.8M654.75,155.96l5.8,5.8M654.75,161.76l5.8,-5.8M655.28,156.42l5.8,5.8M655.28,162.22l5.8,-5.8M655.81,156.87l5.8,5.8M655.81,162.67l5.8,-5.8M656.34,157.32l5.8,5.8M656.34,163.12l5.8,-5.8M656.86,157.77l5.8,5.8M656.86,163.57l5.8,-5.8M657.37,158.22l5.8,5.8M657.37,164.02l5.8,-5.8M657.88,158.67l5.8,5.8M657.88,164.47l5.8,-5.8M658.39,159.12l5.8,5.8M658.39,164.92l5.8,-5.8M658.89,159.56l5.8,5.8M658.89,165.36l5.8,-5.8M659.38,160.00l5.8,5.8M659.38,165.80l5.8,-5.8M659.88,160.44l5.8,5.8M659.88,166.24l5.8,-5.8M660.37,160.88l5.8,5.8M660.37,166.68l5.8,-5.8M660.85,161.32l5.8,5.8M660.85,167.12l5.8,-5.8M661.33,161.75l5.8,5.8M661.33,167.55l5.8,-5.8M661.80,162.19l5.8,5.8M661.80,167.99l5.8,-5.8M662.27,162.62l5.8,5.8M662.27,168.42l5.8,-5.8M662.74,163.04l5.8,5.8M662.74,168.84l5.8,-5.8M663.20,163.47l5.8,5.8M663.20,169.27l5.8,-5.8M663.66,163.89l5.8,5.8M663.66,169.69l5.8,-5.8M664.11,164.31l5.8,5.8M664.11,170.11l5.8,-5.8M664.55,164.73l5.8,5.8M664.55,170.53l5.8,-5.8M665.00,165.15l5.8,5.8M665.00,170.95l5.8,-5.8M665.44,165.56l5.8,5.8M665.44,171.36l5.8,-5.8M665.87,165.97l5.8,5.8M665.87,171.77l5.8,-5.8M666.30,166.38l5.8,5.8M666.30,172.18l5.8,-5.8M666.73,166.79l5.8,5.8M666.73,172.59l5.8,-5.8M667.15,167.19l5.8,5.8M667.15,172.99l5.8,-5.8M667.57,167.59l5.8,5.8M667.57,173.39l5.8,-5.8M667.98,167.99l5.8,5.8M667.98,173.79l5.8,-5.8" fill="none" stroke="#008000" stroke-width="1.7"/>
<path d="M416.81,197.79 L444.21,181.55 L460.38,164.54 L471.96,147.27 L481.02,130.77 L488.49,118.13 L494.86,104.79 L500.43,90.56 L505.38,78.22 L509.85,68.39 L513.93,60.04 L517.69,53.18 L521.17,48.36 L524.42,44.72 L527.48,40.86 L530.36,37.32 L533.09,34.67 L535.68,32.76 L538.16,31.45 L540.52,30.65 L542.79,30.37 L544.97,30.49 L547.07,30.90 L549.10,31.55 L551.06,32.39 L552.96,33.40 L554.80,34.62 L556.59,36.26 L558.32,37.97 L560.02,39.74 L561.67,41.56 L563.27,43.41 L564.84,45.29 L566.38,47.18 L567.88,49.07 L569.35,50.96 L570.79,52.78 L572.20,54.57 L573.59,56.34 L574.95,58.10 L576.28,59.84 L577.60,61.55 L578.89,63.23 L580.16,64.89 L581.41,66.51 L582.64,68.09 L583.85,69.64 L585.04,71.15 L586.22,73.00 L587.38,74.82 L588.53,76.57 L589.66,78.27 L590.77,79.92 L591.87,81.51 L592.96,83.04 L594.04,84.52 L595.10,86.31 L596.15,88.06 L597.19,89.76 L598.21,91.42 L599.23,93.02 L600.23,94.58 L601.23,96.09 L602.21,97.56 L603.19,99.00 L604.15,100.40 L605.11,101.76 L606.05,102.90 L606.99,103.73 L607.92,104.54 L608.84,105.34 L609.75,106.12 L610.66,106.88 L611.55,107.64 L612.44,108.38 L613.32,109.10 L614.19,109.82 L615.06,110.53 L615.92,111.23 L616.77,111.92 L617.61,112.61 L618.45,113.26 L619.28,113.70 L620.11,114.14 L620.92,114.58 L621.74,115.02 L622.54,115.45 L623.34,115.89 L624.13,116.33 L624.92,116.76 L625.70,117.20 L626.48,117.63 L627.25,118.07 L628.01,118.50 L628.77,118.94 L629.52,119.38 L630.27,119.82 L631.01,120.27 L631.75,120.71 L632.48,121.16 L633.20,121.62 L633.92,122.09 L634.64,122.57 L635.35,123.05 L636.05,123.53 L636.75,124.01 L637.45,124.49 L638.13,124.98 L638.82,125.47 L639.50,125.96 L640.17,126.46 L640.84,126.96 L641.51,127.47 L642.17,127.98 L642.82,128.49 L643.47,129.02 L644.11,129.55 L644.76,130.08 L645.39,130.63 L646.02,131.18 L646.65,131.74 L647.27,132.33 L647.88,132.94 L648.50,133.56 L649.10,134.19 L649.71,134.82 L650.30,135.47 L650.90,136.12 L651.48,136.78 L652.07,137.45 L652.65,138.13 L653.22,138.82 L653.79,139.52 L654.36,140.22 L654.92,140.93 L655.47,141.64 L656.02,142.35 L656.57,143.06 L657.11,143.77 L657.65,144.48 L658.18,145.18 L658.71,145.87 L659.24,146.56 L659.76,147.24 L660.27,147.92 L660.78,148.58 L661.29,149.23 L661.79,149.87 L662.28,150.50 L662.78,151.12 L663.27,151.72 L663.75,152.31 L664.23,152.88 L664.70,153.44 L665.17,153.98 L665.64,154.50 L666.10,155.00 L666.56,155.49 L667.01,155.96 L667.45,156.42 L667.90,156.85 L668.34,157.27 L668.77,157.66 L669.20,158.04 L669.63,158.40 L670.05,158.73 L670.47,159.05 L670.88,159.35" fill="none" stroke="#9400d3" stroke-width="2.86" stroke-linejoin="round" stroke-linecap="square"/>
<path d="M413.21,197.79a3.6,3.6 0 1,0 7.2,0a3.6,3.6 0 1,0 -7.2,0M440.61,181.55a3.6,3.6 0 1,0 7.2,0a3.6,3.6 0 1,0 -7.2,0M456.78,164.54a3.6,3.6 0 1,0 7.2,0a3.6,3.6 0 1,0 -7.2,0M468.36,147.27a3.6,3.6 0 1,0 7.2,0a3.6,3.6 0 1,0 -7.2,0M477.42,130.77a3.6,3.6 0 1,0 7.2,0a3.6,3.6 0 1,0 -7.2,0M484.89,118.13a3.6,3.6 0 1,0 7.2,0a3.6,3.6 0 1,0 -7.2,0M491.26,104.79a3.6,3.6 0 1,0 7.2,0a3.6,3.6 0 1,0 -7.2,0M496.83,90.56a3.6,3.6 0 1,0 7.2,0a3.6,3.6 0 1,0 -7.2,0M501.78,78.22a3.6,3.6 0 1,0 7.2,0a3.6,3.6 0 1,0 -7.2,0M506.25,68.39a3.6,3.6 0 1,0 7.2,0a3.6,3.6 0 1,0 -7.2,0M510.33,60.04a3.6,3.6 0 1,0 7.2,0a3.6,3.6 0 1,0 -7.2,0M514.09,53.18a3.6,3.6 0 1,0 7.2,0a3.6,3.6 0 1,0 -7.2,0M517.57,48.36a3.6,3.6 0 1,0 7.2,0a3.6,3.6 0 1,0 -7.2,0M520.82,44.72a3.6,3.6 0 1,0 7.2,0a3.6,3.6 0 1,0 -7.2,0M523.88,40.86a3.6,3.6 0 1,0 7.2,0a3.6,3.6 0 1,0 -7.2,0M526.76,37.32a3.6,3.6 0 1,0 7.2,0a3.6,3.6 0 1,0 -7.2,0M529.49,34.67a3.6,3.6 0 1,0 7.2,0a3.6,3.6 0 1,0 -7.2,0M532.08,32.76a3.6,3.6 0 1,0 7.2,0a3.6,3.6 0 1,0 -7.2,0M534.56,31.45a3.6,3.6 0 1,0 7.2,0a3.6,3.6 0 1,0 -7.2,0M536.92,30.65a3.6,3.6 0 1,0 7.2,0a3.6,3.6 0 1,0 -7.2,0M539.19,30.37a3.6,3.6 0 1,0 7.2,0a3.6,3.6 0 1,0 -7.2,0M541.37,30.49a3.6,3.6 0 1,0 7.2,0a3.6,3.6 0 1,0 -7.2,0M543.47,30.90a3.6,3.6 0 1,0 7.2,0a3.6,3.6 0 1,0 -7.2,0M545.50,31.55a3.6,3.6 0 1,0 7.2,0a3.6,3.6 0 1,0 -7.2,0M547.46,32.39a3.6,3.6 0 1,0 7.2,0a3.6,3.6 0 1,0 -7.2,0M549.36,33.40a3.6,3.6 0 1,0 7.2,0a3.6,3.6 0 1,0 -7.2,0M551.20,34.62a3.6,3.6 0 1,0 7.2,0a3.6,3.6 0 1,0 -7.2,0M552.99,36.26a3.6,3.6 0 1,0 7.2,0a3.6,3.6 0 1,0 -7.2,0M554.72,37.97a3.6,3.6 0 1,0 7.2,0a3.6,3.6 0 1,0 -7.2,0M556.42,39.74a3.6,3.6 0 1,0 7.2,0a3.6,3.6 0 1,0 -7.2,0M558.07,41.56a3.6,3.6 0 1,0 7.2,0a3.6,3.6 0 1,0 -7.2,0M559.67,43.41a3.6,3.6 0 1,0 7.2,0a3.6,3.6 0 1,0 -7.2,0M561.24,45.29a3.6,3.6 0 1,0 7.2,0a3.6,3.6 0 1,0 -7.2,0M562.78,47.18a3.6,3.6 0 1,0 7.2,0a3.6,3.6 0 1,0 -7.2,0M564.28,49.07a3.6,3.6 0 1,0 7.2,0a3.6,3.6 0 1,0 -7.2,0M565.75,50.96a3.6,3.6 0 1,0 7.2,0a3.6,3.6 0 1,0 -7.2,0M567.19,52.78a3.6,3.6 0 1,0 7.2,0a3.6,3.6 0 1,0 -7.2,0M568.60,54.57a3.6,3.6 0 1,0 7.2,0a3.6,3.6 0 1,0 -7.2,0M569.99,56.34a3.6,3.6 0 1,0 7.2,0a3.6,3.6 0 1,0 -7.2,0M571.35,58.10a3.6,3.6 0 1,0 7.2,0a3.6,3.6 0 1,0 -7.2,0M572.68,59.84a3.6,3.6 0 1,0 7.2,0a3.6,3.6 0 1,0 -7.2,0M574.00,61.55a3.6,3.6 0 1,0 7.2,0a3.6,3.6 0 1,0 -7.2,0M575.29,63.23a3.6,3.6 0 1,0 7.2,0a3.6,3.6 0 1,0 -7.2,0M576.56,64.89a3.6,3.6 0 1,0 7.2,0a3.6,3.6 0 1,0 -7.2,0M577.81,66.51a3.6,3.6 0 1,0 7.2,0a3.6,3.6 0 1,0 -7.2,0M579.04,68.09a3.6,3.6 0 1,0 7.2,0a3.6,3.6 0 1,0 -7.2,0M580.25,69.64a3.6,3.6 0 1,0 7.2,0a3.6,3.6 0 1,0 -7.2,0M581.44,71.15a3.6,3.6 0 1,0 7.2,0a3.6,3.6 0 1,0 -7.2,0M582.62,73.00a3.6,3.6 0 1,0 7.2,0a3.6,3.6 0 1,0 -7.2,0M583.78,74.82a3.6,3.6 0 1,0 7.2,0a3.6,3.6 0 1,0 -7.2,0M584.93,76.57a3.6,3.6 0 1,0 7.2,0a3.6,3.6 0 1,0 -7.2,0M586.06,78.27a3.6,3.6 0 1,0 7.2,0a3.6,3.6 0 1,0 -7.2,0M587.17,79.92a3.6,3.6 0 1,0 7.2,0a3.6,3.6 0 1,0 -7.2,0M588.27,81.51a3.6,3.6 0 1,0 7.2,0a3.6,3.6 0 1,0 -7.2,0M589.36,83.04a3.6,3.6 0 1,0 7.2,0a3.6,3.6 0 1,0 -7.2,0M590.44,84.52a3.6,3.6 0 1,0 7.2,0a3.6,3.6 0 1,0 -7.2,0M591.50,86.31a3.6,3.6 0 1,0 7.2,0a3.6,3.6 0 1,0 -7.2,0M592.55,88.06a3.6,3.6 0 1,0 7.2,0a3.6,3.6 0 1,0 -7.2,0M593.59,89.76a3.6,3.6 0 1,0 7.2,0a3.6,3.6 0 1,0 -7.2,0M594.61,91.42a3.6,3.6 0 1,0 7.2,0a3.6,3.6 0 1,0 -7.2,0M595.63,93.02a3.6,3.6 0 1,0 7.2,0a3.6,3.6 0 1,0 -7.2,0M596.63,94.58a3.6,3.6 0 1,0 7.2,0a3.6,3.6 0 1,0 -7.2,0M597.63,96.09a3.6,3.6 0 1,0 7.2,0a3.6,3.6 0 1,0 -7.2,0M598.61,97.56a3.6,3.6 0 1,0 7.2,0a3.6,3.6 0 1,0 -7.2,0M599.59,99.00a3.6,3.6 0 1,0 7.2,0a3.6,3.6 0 1,0 -7.2,0M600.55,100.40a3.6,3.6 0 1,0 7.2,0a3.6,3.6 0 1,0 -7.2,0M601.51,101.76a3.6,3.6 0 1,0 7.2,0a3.6,3.6 0 1,0 -7.2,0M602.45,102.90a3.6,3.6 0 1,0 7.2,0a3.6,3.6 0 1,0 -7.2,0M603.39,103.73a3.6,3.6 0 1,0 7.2,0a3.6,3.6 0 1,0 -7.2,0M604.32,104.54a3.6,3.6 0 1,0 7.2,0a3.6,3.6 0 1,0 -7.2,0M605.24,105.34a3.6,3.6 0 1,0 7.2,0a3.6,3.6 0 1,0 -7.2,0M606.15,106.12a3.6,3.6 0 1,0 7.2,0a3.6,3.6 0 1,0 -7.2,0M607.06,106.88a3.6,3.6 0 1,0 7.2,0a3.6,3.6 0 1,0 -7.2,0M607.95,107.64a3.6,3.6 0 1,0 7.2,0a3.6,3.6 0 1,0 -7.2,0M608.84,108.38a3.6,3.6 0 1,0 7.2,0a3.6,3.6 0 1,0 -7.2,0M609.72,109.10a3.6,3.6 0 1,0 7.2,0a3.6,3.6 0 1,0 -7.2,0M610.59,109.82a3.6,3.6 0 1,0 7.2,0a3.6,3.6 0 1,0 -7.2,0M611.46,110.53a3.6,3.6 0 1,0 7.2,0a3.6,3.6 0 1,0 -7.2,0M612.32,111.23a3.6,3.6 0 1,0 7.2,0a3.6,3.6 0 1,0 -7.2,0M613.17,111.92a3.6,3.6 0 1,0 7.2,0a3.6,3.6 0 1,0 -7.2,0M614.01,112.61a3.6,3.6 0 1,0 7.2,0a3.6,3.6 0 1,0 -7.2,0M614.85,113.26a3.6,3.6 0 1,0 7.2,0a3.6,3.6 0 1,0 -7.2,0M615.68,113.70a3.6,3.6 0 1,0 7.2,0a3.6,3.6 0 1,0 -7.2,0M616.51,114.14a3.6,3.6 0 1,0 7.2,0a3.6,3.6 0 1,0 -7.2,0M617.32,114.58a3.6,3.6 0 1,0 7.2,0a3.6,3.6 0 1,0 -7.2,0M618.14,115.02a3.6,3.6 0 1,0 7.2,0a3.6,3.6 0 1,0 -7.2,0M618.94,115.45a3.6,3.6 0 1,0 7.2,0a3.6,3.6 0 1,0 -7.2,0M619.74,115.89a3.6,3.6 0 1,0 7.2,0a3.6,3.6 0 1,0 -7.2,0M620.53,116.33a3.6,3.6 0 1,0 7.2,0a3.6,3.6 0 1,0 -7.2,0M621.32,116.76a3.6,3.6 0 1,0 7.2,0a3.6,3.6 0 1,0 -7.2,0M622.10,117.20a3.6,3.6 0 1,0 7.2,0a3.6,3.6 0 1,0 -7.2,0M622.88,117.63a3.6,3.6 0 1,0 7.2,0a3.6,3.6 0 1,0 -7.2,0M623.65,118.07a3.6,3.6 0 1,0 7.2,0a3.6,3.6 0 1,0 -7.2,0M624.41,118.50a3.6,3.6 0 1,0 7.2,0a3.6,3.6 0 1,0 -7.2,0M625.17,118.94a3.6,3.6 0 1,0 7.2,0a3.6,3.6 0 1,0 -7.2,0M625.92,119.38a3.6,3.6 0 1,0 7.2,0a3.6,3.6 0 1,0 -7.2,0M626.67,119.82a3.6,3.6 0 1,0 7.2,0a3.6,3.6 0 1,0 -7.2,0M627.41,120.27a3.6,3.6 0 1,0 7.2,0a3.6,3.6 0 1,0 -7.2,0M628.15,120.71a3.6,3.6 0 1,0 7.2,0a3.6,3.6 0 1,0 -7.2,0M628.88,121.16a3.6,3.6 0 1,0 7.2,0a3.6,3.6 0 1,0 -7.2,0M629.60,121.62a3.6,3.6 0 1,0 7.2,0a3.6,3.6 0 1,0 -7.2,0M630.32,122.09a3.6,3.6 0 1,0 7.2,0a3.6,3.6 0 1,0 -7.2,0M631.04,122.57a3.6,3.6 0 1,0 7.2,0a3.6,3.6 0 1,0 -7.2,0M631.75,123.05a3.6,3.6 0 1,0 7.2,0a3.6,3.6 0 1,0 -7.2,0M632.45,123.53a3.6,3.6 0 1,0 7.2,0a3.6,3.6 0 1,0 -7.2,0M633.15,124.01a3.6,3.6 0 1,0 7.2,0a3.6,3.6 0 1,0 -7.2,0M633.85,124.49a3.6,3.6 0 1,0 7.2,0a3.6,3.6 0 1,0 -7.2,0M634.53,124.98a3.6,3.6 0 1,0 7.2,0a3.6,3.6 0 1,0 -7.2,0M635.22,125.47a3.6,3.6 0 1,0 7.2,0a3.6,3.6 0 1,0 -7.2,0M635.90,125.96a3.6,3.6 0 1,0 7.2,0a3.6,3.6 0 1,0 -7.2,0M636.57,126.46a3.6,3.6 0 1,0 7.2,0a3.6,3.6 0 1,0 -7.2,0M637.24,126.96a3.6,3.6 0 1,0 7.2,0a3.6,3.6 0 1,0 -7.2,0M637.91,127.47a3.6,3.6 0 1,0 7.2,0a3.6,3.6 0 1,0 -7.2,0M638.57,127.98a3.6,3.6 0 1,0 7.2,0a3.6,3.6 0 1,0 -7.2,0M639.22,128.49a3.6,3.6 0 1,0 7.2,0a3.6,3.6 0 1,0 -7.2,0M639.87,129.02a3.6,3.6 0 1,0 7.2,0a3.6,3.6 0 1,0 -7.2,0M640.51,129.55a3.6,3.6 0 1,0 7.2,0a3.6,3.6 0 1,0 -7.2,0M641.16,130.08a3.6,3.6 0 1,0 7.2,0a3.6,3.6 0 1,0 -7.2,0M641.79,130.63a3.6,3.6 0 1,0 7.2,0a3.6,3.6 0 1,0 -7.2,0M642.42,131.18a3.6,3.6 0 1,0 7.2,0a3.6,3.6 0 1,0 -7.2,0M643.05,131.74a3.6,3.6 0 1,0 7.2,0a3.6,3.6 0 1,0 -7.2,0M643.67,132.33a3.6,3.6 0 1,0 7.2,0a3.6,3.6 0 1,0 -7.2,0M644.28,132.94a3.6,3.6 0 1,0 7.2,0a3.6,3.6 0 1,0 -7.2,0M644.90,133.56a3.6,3.6 0 1,0 7.2,0a3.6,3.6 0 1,0 -7.2,0M645.50,134.19a3.6,3.6 0 1,0 7.2,0a3.6,3.6 0 1,0 -7.2,0M646.11,134.82a3.6,3.6 0 1,0 7.2,0a3.6,3.6 0 1,0 -7.2,0M646.70,135.47a3.6,3.6 0 1,0 7.2,0a3.6,3.6 0 1,0 -7.2,0M647.30,136.12a3.6,3.6 0 1,0 7.2,0a3.6,3.6 0 1,0 -7.2,0M647.88,136.78a3.6,3.6 0 1,0 7.2,0a3.6,3.6 0 1,0 -7.2,0M648.47,137.45a3.6,3.6 0 1,0 7.2,0a3.6,3.6 0 1,0 -7.2,0M649.05,138.13a3.6,3.6 0 1,0 7.2,0a3.6,3.6 0 1,0 -7.2,0M649.62,138.82a3.6,3.6 0 1,0 7.2,0a3.6,3.6 0 1,0 -7.2,0M650.19,139.52a3.6,3.6 0 1,0 7.2,0a3.6,3.6 0 1,0 -7.2,0M650.76,140.22a3.6,3.6 0 1,0 7.2,0a3.6,3.6 0 1,0 -7.2,0M651.32,140.93a3.6,3.6 0 1,0 7.2,0a3.6,3.6 0 1,0 -7.2,0M651.87,141.64a3.6,3.6 0 1,0 7.2,0a3.6,3.6 0 1,0 -7.2,0M652.42,142.35a3.6,3.6 0 1,0 7.2,0a3.6,3.6 0 1,0 -7.2,0M652.97,143.06a3.6,3.6 0 1,0 7.2,0a3.6,3.6 0 1,0 -7.2,0M653.51,143.77a3.6,3.6 0 1,0 7.2,0a3.6,3.6 0 1,0 -7.2,0M654.05,144.48a3.6,3.6 0 1,0 7.2,0a3.6,3.6 0 1,0 -7.2,0M654.58,145.18a3.6,3.6 0 1,0 7.2,0a3.6,3.6 0 1,0 -7.2,0M655.11,145.87a3.6,3.6 0 1,0 7.2,0a3.6,3.6 0 1,0 -7.2,0M655.64,146.56a3.6,3.6 0 1,0 7.2,0a3.6,3.6 0 1,0 -7.2,0M656.16,147.24a3.6,3.6 0 1,0 7.2,0a3.6,3.6 0 1,0 -7.2,0M656.67,147.92a3.6,3.6 0 1,0 7.2,0a3.6,3.6 0 1,0 -7.2,0M657.18,148.58a3.6,3.6 0 1,0 7.2,0a3.6,3.6 0 1,0 -7.2,0M657.69,149.23a3.6,3.6 0 1,0 7.2,0a3.6,3.6 0 1,0 -7.2,0M658.19,149.87a3.6,3.6 0 1,0 7.2,0a3.6,3.6 0 1,0 -7.2,0M658.68,150.50a3.6,3.6 0 1,0 7.2,0a3.6,3.6 0 1,0 -7.2,0M659.18,151.12a3.6,3.6 0 1,0 7.2,0a3.6,3.6 0 1,0 -7.2,0M659.67,151.72a3.6,3.6 0 1,0 7.2,0a3.6,3.6 0 1,0 -7.2,0M660.15,152.31a3.6,3.6 0 1,0 7.2,0a3.6,3.6 0 1,0 -7.2,0M660.63,152.88a3.6,3.6 0 1,0 7.2,0a3.6,3.6 0 1,0 -7.2,0M661.10,153.44a3.6,3.6 0 1,0 7.2,0a3.6,3.6 0 1,0 -7.2,0M661.57,153.98a3.6,3.6 0 1,0 7.2,0a3.6,3.6 0 1,0 -7.2,0M662.04,154.50a3.6,3.6 0 1,0 7.2,0a3.6,3.6 0 1,0 -7.2,0M662.50,155.00a3.6,3.6 0 1,0 7.2,0a3.6,3.6 0 1,0 -7.2,0M662.96,155.49a3.6,3.6 0 1,0 7.2,0a3.6,3.6 0 1,0 -7.2,0M663.41,155.96a3.6,3.6 0 1,0 7.2,0a3.6,3.6 0 1,0 -7.2,0M663.85,156.42a3.6,3.6 0 1,0 7.2,0a3.6,3.6 0 1,0 -7.2,0M664.30,156.85a3.6,3.6 0 1,0 7.2,0a3.6,3.6 0 1,0 -7.2,0M664.74,157.27a3.6,3.6 0 1,0 7.2,0a3.6,3.6 0 1,0 -7.2,0M665.17,157.66a3.6,3.6 0 1,0 7.2,0a3.6,3.6 0 1,0 -7.2,0M665.60,158.04a3.6,3.6 0 1,0 7.2,0a3.6,3.6 0 1,0 -7.2,0M666.03,158.40a3.6,3.6 0 1,0 7.2,0a3.6,3.6 0 1,0 -7.2,0M666.45,158.73a3.6,3.6 0 1,0 7.2,0a3.6,3.6 0 1,0 -7.2,0M666.87,159.05a3.6,3.6 0 1,0 7.2,0a3.6,3.6 0 1,0 -7.2,0M667.28,159.35a3.6,3.6 0 1,0 7.2,0a3.6,3.6 0 1,0 -7.2,0" fill="#9400d3"/>
<path d="M416.81,214.78 L444.21,214.15 L460.38,213.06 L471.96,211.59 L481.02,209.59 L488.49,207.30 L494.86,205.22 L500.43,203.19 L505.38,200.95 L509.85,198.67 L513.93,196.61 L517.69,194.67 L521.17,192.73 L524.42,190.77 L527.48,188.87 L530.36,187.07 L533.09,185.34 L535.68,183.59 L538.16,181.87 L540.52,180.17 L542.79,178.49 L544.97,176.83 L547.07,175.19 L549.10,173.56 L551.06,172.01 L552.96,170.65 L554.80,169.33 L556.59,168.06 L558.32,166.84 L560.02,165.68 L561.67,164.58 L563.27,163.54 L564.84,162.56 L566.38,161.66 L567.88,160.87 L569.35,160.13 L570.79,159.46 L572.20,158.85 L573.59,158.29 L574.95,157.80 L576.28,157.18 L577.60,156.47 L578.89,155.82 L580.16,155.23 L581.41,154.69 L582.64,154.20 L583.85,153.76 L585.04,153.36 L586.22,153.01 L587.38,152.69 L588.53,152.41 L589.66,152.17 L590.77,151.95 L591.87,151.77 L592.96,151.61 L594.04,151.47 L595.10,151.36 L596.15,151.27 L597.19,151.20 L598.21,151.15 L599.23,151.12 L600.23,151.10 L601.23,151.10 L602.21,151.11 L603.19,151.14 L604.15,151.17 L605.11,151.22 L606.05,151.27 L606.99,151.34 L607.92,151.41 L608.84,151.49 L609.75,151.58 L610.66,151.67 L611.55,151.77 L612.44,151.88 L613.32,151.99 L614.19,152.11 L615.06,152.24 L615.92,152.37 L616.77,152.51 L617.61,152.65 L618.45,152.80 L619.28,152.95 L620.11,153.08 L620.92,153.22 L621.74,153.37 L622.54,153.52 L623.34,153.68 L624.13,153.84 L624.92,154.01 L625.70,154.18 L626.48,154.36 L627.25,154.54 L628.01,154.73 L628.77,154.92 L629.52,155.11 L630.27,155.31 L631.01,155.51 L631.75,155.72 L632.48,155.93 L633.20,156.14 L633.92,156.36 L634.64,156.58 L635.35,156.81 L636.05,157.04 L636.75,157.27 L637.45,157.51 L638.13,157.75 L638.82,157.99 L639.50,158.24 L640.17,158.48 L640.84,158.74 L641.51,158.99 L642.17,159.25 L642.82,159.49 L643.47,159.73 L644.11,159.97 L644.76,160.22 L645.39,160.47 L646.02,160.72 L646.65,160.97 L647.27,161.23 L647.88,161.48 L648.50,161.74 L649.10,162.00 L649.71,162.26 L650.30,162.52 L650.90,162.79 L651.48,163.05 L652.07,163.31 L652.65,163.57 L653.22,163.84 L653.79,164.10 L654.36,164.36 L654.92,164.62 L655.47,164.87 L656.02,165.13 L656.57,165.39 L657.11,165.64 L657.65,165.89 L658.18,166.14 L658.71,166.39 L659.24,166.63 L659.76,166.87 L660.27,167.11 L660.78,167.35 L661.29,167.59 L661.79,167.82 L662.28,168.05 L662.78,168.27 L663.27,168.49 L663.75,168.71 L664.23,168.93 L664.70,169.14 L665.17,169.35 L665.64,169.55 L666.10,169.75 L666.56,169.95 L667.01,170.15 L667.45,170.34 L667.90,170.52 L668.34,170.71 L668.77,170.89 L669.20,171.06 L669.63,171.23 L670.05,171.40 L670.47,171.57 L670.88,171.73" fill="none" stroke="#9400d3" stroke-width="2.86" stroke-linejoin="round" stroke-linecap="square"/>
<path d="M413.21,211.18h7.2v7.2h-7.2zM440.61,210.55h7.2v7.2h-7.2zM456.78,209.46h7.2v7.2h-7.2zM468.36,207.99h7.2v7.2h-7.2zM477.42,205.99h7.2v7.2h-7.2zM484.89,203.70h7.2v7.2h-7.2zM491.26,201.62h7.2v7.2h-7.2zM496.83,199.59h7.2v7.2h-7.2zM501.78,197.35h7.2v7.2h-7.2zM506.25,195.07h7.2v7.2h-7.2zM510.33,193.01h7.2v7.2h-7.2zM514.09,191.07h7.2v7.2h-7.2zM517.57,189.13h7.2v7.2h-7.2zM520.82,187.17h7.2v7.2h-7.2zM523.88,185.27h7.2v7.2h-7.2zM526.76,183.47h7.2v7.2h-7.2zM529.49,181.74h7.2v7.2h-7.2zM532.08,179.99h7.2v7.2h-7.2zM534.56,178.27h7.2v7.2h-7.2zM536.92,176.57h7.2v7.2h-7.2zM539.19,174.89h7.2v7.2h-7.2zM541.37,173.23h7.2v7.2h-7.2zM543.47,171.59h7.2v7.2h-7.2zM545.50,169.96h7.2v7.2h-7.2zM547.46,168.41h7.2v7.2h-7.2zM549.36,167.05h7.2v7.2h-7.2zM551.20,165.73h7.2v7.2h-7.2zM552.99,164.46h7.2v7.2h-7.2zM554.72,163.24h7.2v7.2h-7.2zM556.42,162.08h7.2v7.2h-7.2zM558.07,160.98h7.2v7.2h-7.2zM559.67,159.94h7.2v7.2h-7.2zM561.24,158.96h7.2v7.2h-7.2zM562.78,158.06h7.2v7.2h-7.2zM564.28,157.27h7.2v7.2h-7.2zM565.75,156.53h7.2v7.2h-7.2zM567.19,155.86h7.2v7.2h-7.2zM568.60,155.25h7.2v7.2h-7.2zM569.99,154.69h7.2v7.2h-7.2zM571.35,154.20h7.2v7.2h-7.2zM572.68,153.58h7.2v7.2h-7.2zM574.00,152.87h7.2v7.2h-7.2zM575.29,152.22h7.2v7.2h-7.2zM576.56,151.63h7.2v7.2h-7.2zM577.81,151.09h7.2v7.2h-7.2zM579.04,150.60h7.2v7.2h-7.2zM580.25,150.16h7.2v7.2h-7.2zM581.44,149.76h7.2v7.2h-7.2zM582.62,149.41h7.2v7.2h-7.2zM583.78,149.09h7.2v7.2h-7.2zM584.93,148.81h7.2v7.2h-7.2zM586.06,148.57h7.2v7.2h-7.2zM587.17,148.35h7.2v7.2h-7.2zM588.27,148.17h7.2v7.2h-7.2zM589.36,148.01h7.2v7.2h-7.2zM590.44,147.87h7.2v7.2h-7.2zM591.50,147.76h7.2v7.2h-7.2zM592.55,147.67h7.2v7.2h-7.2zM593.59,147.60h7.2v7.2h-7.2zM594.61,147.55h7.2v7.2h-7.2zM595.63,147.52h7.2v7.2h-7.2zM596.63,147.50h7.2v7.2h-7.2zM597.63,147.50h7.2v7.2h-7.2zM598.61,147.51h7.2v7.2h-7.2zM599.59,147.54h7.2v7.2h-7.2zM600.55,147.57h7.2v7.2h-7.2zM601.51,147.62h7.2v7.2h-7.2zM602.45,147.67h7.2v7.2h-7.2zM603.39,147.74h7.2v7.2h-7.2zM604.32,147.81h7.2v7.2h-7.2zM605.24,147.89h7.2v7.2h-7.2zM606.15,147.98h7.2v7.2h-7.2zM607.06,148.07h7.2v7.2h-7.2zM607.95,148.17h7.2v7.2h-7.2zM608.84,148.28h7.2v7.2h-7.2zM609.72,148.39h7.2v7.2h-7.2zM610.59,148.51h7.2v7.2h-7.2zM611.46,148.64h7.2v7.2h-7.2zM612.32,148.77h7.2v7.2h-7.2zM613.17,148.91h7.2v7.2h-7.2zM614.01,149.05h7.2v7.2h-7.2zM614.85,149.20h7.2v7.2h-7.2zM615.68,149.35h7.2v7.2h-7.2zM616.51,149.48h7.2v7.2h-7.2zM617.32,149.62h7.2v7.2h-7.2zM618.14,149.77h7.2v7.2h-7.2zM618.94,149.92h7.2v7.2h-7.2zM619.74,150.08h7.2v7.2h-7.2zM620.53,150.24h7.2v7.2h-7.2zM621.32,150.41h7.2v7.2h-7.2zM622.10,150.58h7.2v7.2h-7.2zM622.88,150.76h7.2v7.2h-7.2zM623.65,150.94h7.2v7.2h-7.2zM624.41,151.13h7.2v7.2h-7.2zM625.17,151.32h7.2v7.2h-7.2zM625.92,151.51h7.2v7.2h-7.2zM626.67,151.71h7.2v7.2h-7.2zM627.41,151.91h7.2v7.2h-7.2zM628.15,152.12h7.2v7.2h-7.2zM628.88,152.33h7.2v7.2h-7.2zM629.60,152.54h7.2v7.2h-7.2zM630.32,152.76h7.2v7.2h-7.2zM631.04,152.98h7.2v7.2h-7.2zM631.75,153.21h7.2v7.2h-7.2zM632.45,153.44h7.2v7.2h-7.2zM633.15,153.67h7.2v7.2h-7.2zM633.85,153.91h7.2v7.2h-7.2zM634.53,154.15h7.2v7.2h-7.2zM635.22,154.39h7.2v7.2h-7.2zM635.90,154.64h7.2v7.2h-7.2zM636.57,154.88h7.2v7.2h-7.2zM637.24,155.14h7.2v7.2h-7.2zM637.91,155.39h7.2v7.2h-7.2zM638.57,155.65h7.2v7.2h-7.2zM639.22,155.89h7.2v7.2h-7.2zM639.87,156.13h7.2v7.2h-7.2zM640.51,156.37h7.2v7.2h-7.2zM641.16,156.62h7.2v7.2h-7.2zM641.79,156.87h7.2v7.2h-7.2zM642.42,157.12h7.2v7.2h-7.2zM643.05,157.37h7.2v7.2h-7.2zM643.67,157.63h7.2v7.2h-7.2zM644.28,157.88h7.2v7.2h-7.2zM644.90,158.14h7.2v7.2h-7.2zM645.50,158.40h7.2v7.2h-7.2zM646.11,158.66h7.2v7.2h-7.2zM646.70,158.92h7.2v7.2h-7.2zM647.30,159.19h7.2v7.2h-7.2zM647.88,159.45h7.2v7.2h-7.2zM648.47,159.71h7.2v7.2h-7.2zM649.05,159.97h7.2v7.2h-7.2zM649.62,160.24h7.2v7.2h-7.2zM650.19,160.50h7.2v7.2h-7.2zM650.76,160.76h7.2v7.2h-7.2zM651.32,161.02h7.2v7.2h-7.2zM651.87,161.27h7.2v7.2h-7.2zM652.42,161.53h7.2v7.2h-7.2zM652.97,161.79h7.2v7.2h-7.2zM653.51,162.04h7.2v7.2h-7.2zM654.05,162.29h7.2v7.2h-7.2zM654.58,162.54h7.2v7.2h-7.2zM655.11,162.79h7.2v7.2h-7.2zM655.64,163.03h7.2v7.2h-7.2zM656.16,163.27h7.2v7.2h-7.2zM656.67,163.51h7.2v7.2h-7.2zM657.18,163.75h7.2v7.2h-7.2zM657.69,163.99h7.2v7.2h-7.2zM658.19,164.22h7.2v7.2h-7.2zM658.68,164.45h7.2v7.2h-7.2zM659.18,164.67h7.2v7.2h-7.2zM659.67,164.89h7.2v7.2h-7.2zM660.15,165.11h7.2v7.2h-7.2zM660.63,165.33h7.2v7.2h-7.2zM661.10,165.54h7.2v7.2h-7.2zM661.57,165.75h7.2v7.2h-7.2zM662.04,165.95h7.2v7.2h-7.2zM662.50,166.15h7.2v7.2h-7.2zM662.96,166.35h7.2v7.2h-7.2zM663.41,166.55h7.2v7.2h-7.2zM663.85,166.74h7.2v7.2h-7.2zM664.30,166.92h7.2v7.2h-7.2zM664.74,167.11h7.2v7.2h-7.2zM665.17,167.29h7.2v7.2h-7.2zM665.60,167.46h7.2v7.2h-7.2zM666.03,167.63h7.2v7.2h-7.2zM666.45,167.80h7.2v7.2h-7.2zM666.87,167.97h7.2v7.2h-7.2zM667.28,168.13h7.2v7.2h-7.2z" fill="#9400d3"/>
<path d="M416.81,204.99 L444.21,196.21 L460.38,189.24 L471.96,183.47 L481.02,178.55 L488.49,174.27 L494.86,170.49 L500.43,167.09 L505.38,164.02 L509.85,161.22 L513.93,158.68 L517.69,156.34 L521.17,154.20 L524.42,152.22 L527.48,150.63 L530.36,149.31 L533.09,148.10 L535.68,147.01 L538.16,146.01 L540.52,145.10 L542.79,144.12 L544.97,143.13 L547.07,142.22 L549.10,141.37 L551.06,140.58 L552.96,139.85 L554.80,139.17 L556.59,138.55 L558.32,137.97 L560.02,137.44 L561.67,136.94 L563.27,136.49 L564.84,136.08 L566.38,135.70 L567.88,135.36 L569.35,135.04 L570.79,134.76 L572.20,134.50 L573.59,134.21 L574.95,133.94 L576.28,133.70 L577.60,133.48 L578.89,133.29 L580.16,133.12 L581.41,132.97 L582.64,132.85 L583.85,132.74 L585.04,132.66 L586.22,132.59 L587.38,132.54 L588.53,132.52 L589.66,132.51 L590.77,132.52 L591.87,132.54 L592.96,132.58 L594.04,132.64 L595.10,132.71 L596.15,132.79 L597.19,132.89 L598.21,133.00 L599.23,133.13 L600.23,133.26 L601.23,133.41 L602.21,133.57 L603.19,133.74 L604.15,133.92 L605.11,134.11 L606.05,134.31 L606.99,134.52 L607.92,134.74 L608.84,134.97 L609.75,135.21 L610.66,135.45 L611.55,135.70 L612.44,135.96 L613.32,136.23 L614.19,136.51 L615.06,136.79 L615.92,137.08 L616.77,137.37 L617.61,137.67 L618.45,137.98 L619.28,138.29 L620.11,138.58 L620.92,138.89 L621.74,139.20 L622.54,139.51 L623.34,139.83 L624.13,140.16 L624.92,140.49 L625.70,140.82 L626.48,141.16 L627.25,141.50 L628.01,141.85 L628.77,142.20 L629.52,142.56 L630.27,142.92 L631.01,143.28 L631.75,143.65 L632.48,144.02 L633.20,144.40 L633.92,144.78 L634.64,145.16 L635.35,145.54 L636.05,145.93 L636.75,146.32 L637.45,146.71 L638.13,147.10 L638.82,147.50 L639.50,147.90 L640.17,148.30 L640.84,148.71 L641.51,149.11 L642.17,149.52 L642.82,149.91 L643.47,150.30 L644.11,150.68 L644.76,151.07 L645.39,151.46 L646.02,151.85 L646.65,152.24 L647.27,152.64 L647.88,153.04 L648.50,153.43 L649.10,153.83 L649.71,154.23 L650.30,154.63 L650.90,155.03 L651.48,155.44 L652.07,155.84 L652.65,156.25 L653.22,156.65 L653.79,157.06 L654.36,157.46 L654.92,157.87 L655.47,158.27 L656.02,158.68 L656.57,159.09 L657.11,159.49 L657.65,159.90 L658.18,160.30 L658.71,160.71 L659.24,161.11 L659.76,161.52 L660.27,161.92 L660.78,162.33 L661.29,162.73 L661.79,163.13 L662.28,163.53 L662.78,163.93 L663.27,164.33 L663.75,164.73 L664.23,165.12 L664.70,165.52 L665.17,165.91 L665.64,166.31 L666.10,166.70 L666.56,167.09 L667.01,167.47 L667.45,167.86 L667.90,168.25 L668.34,168.63 L668.77,169.01 L669.20,169.39 L669.63,169.77 L670.05,170.14 L670.47,170.51 L670.88,170.89" fill="none" stroke="#9400d3" stroke-width="2.86" stroke-linejoin="round" stroke-linecap="square"/>
<path d="M413.91,202.09l5.8,5.8M413.91,207.89l5.8,-5.8M441.31,193.31l5.8,5.8M441.31,199.11l5.8,-5.8M457.48,186.34l5.8,5.8M457.48,192.14l5.8,-5.8M469.06,180.57l5.8,5.8M469.06,186.37l5.8,-5.8M478.12,175.65l5.8,5.8M478.12,181.45l5.8,-5.8M485.59,171.37l5.8,5.8M485.59,177.17l5.8,-5.8M491.96,167.59l5.8,5.8M491.96,173.39l5.8,-5.8M497.53,164.19l5.8,5.8M497.53,169.99l5.8,-5.8M502.48,161.12l5.8,5.8M502.48,166.92l5.8,-5.8M506.95,158.32l5.8,5.8M506.95,164.12l5.8,-5.8M511.03,155.78l5.8,5.8M511.03,161.58l5.8,-5.8M514.79,153.44l5.8,5.8M514.79,159.24l5.8,-5.8M518.27,151.30l5.8,5.8M518.27,157.10l5.8,-5.8M521.52,149.32l5.8,5.8M521.52,155.12l5.8,-5.8M524.58,147.73l5.8,5.8M524.58,153.53l5.8,-5.8M527.46,146.41l5.8,5.8M527.46,152.21l5.8,-5.8M530.19,145.20l5.8,5.8M530.19,151.00l5.8,-5.8M532.78,144.11l5.8,5.8M532.78,149.91l5.8,-5.8M535.26,143.11l5.8,5.8M535.26,148.91l5.8,-5.8M537.62,142.20l5.8,5.8M537.62,148.00l5.8,-5.8M539.89,141.22l5.8,5.8M539.89,147.02l5.8,-5.8M542.07,140.23l5.8,5.8M542.07,146.03l5.8,-5.8M544.17,139.32l5.8,5.8M544.17,145.12l5.8,-5.8M546.20,138.47l5.8,5.8M546.20,144.27l5.8,-5.8M548.16,137.68l5.8,5.8M548.16,143.48l5.8,-5.8M550.06,136.95l5.8,5.8M550.06,142.75l5.8,-5.8M551.90,136.27l5.8,5.8M551.90,142.07l5.8,-5.8M553.69,135.65l5.8,5.8M553.69,141.45l5.8,-5.8M555.42,135.07l5.8,5.8M555.42,140.87l5.8,-5.8M557.12,134.54l5.8,5.8M557.12,140.34l5.8,-5.8M558.77,134.04l5.8,5.8M558.77,139.84l5.8,-5.8M560.37,133.59l5.8,5.8M560.37,139.39l5.8,-5.8M561.94,133.18l5.8,5.8M561.94,138.98l5.8,-5.8M563.48,132.80l5.8,5.8M563.48,138.60l5.8,-5.8M564.98,132.46l5.8,5.8M564.98,138.26l5.8,-5.8M566.45,132.14l5.8,5.8M566.45,137.94l5.8,-5.8M567.89,131.86l5.8,5.8M567.89,137.66l5.8,-5.8M569.30,131.60l5.8,5.8M569.30,137.40l5.8,-5.8M570.69,131.31l5.8,5.8M570.69,137.11l5.8,-5.8M572.05,131.04l5.8,5.8M572.05,136.84l5.8,-5.8M573.38,130.80l5.8,5.8M573.38,136.60l5.8,-5.8M574.70,130.58l5.8,5.8M574.70,136.38l5.8,-5.8M575.99,130.39l5.8,5.8M575.99,136.19l5.8,-5.8M577.26,130.22l5.8,5.8M577.26,136.02l5.8,-5.8M578.51,130.07l5.8,5.8M578.51,135.87l5.8,-5.8M579.74,129.95l5.8,5.8M579.74,135.75l5.8,-5.8M580.95,129.84l5.8,5.8M580.95,135.64l5.8,-5.8M582.14,129.76l5.8,5.8M582.14,135.56l5.8,-5.8M583.32,129.69l5.8,5.8M583.32,135.49l5.8,-5.8M584.48,129.64l5.8,5.8M584.48,135.44l5.8,-5.8M585.63,129.62l5.8,5.8M585.63,135.42l5.8,-5.8M586.76,129.61l5.8,5.8M586.76,135.41l5.8,-5.8M587.87,129.62l5.8,5.8M587.87,135.42l5.8,-5.8M588.97,129.64l5.8,5.8M588.97,135.44l5.8,-5.8M590.06,129.68l5.8,5.8M590.06,135.48l5.8,-5.8M591.14,129.74l5.8,5.8M591.14,135.54l5.8,-5.8M592.20,129.81l5.8,5.8M592.20,135.61l5.8,-5.8M593.25,129.89l5.8,5.8M593.25,135.69l5.8,-5.8M594.29,129.99l5.8,5.8M594.29,135.79l5.8,-5.8M595.31,130.10l5.8,5.8M595.31,135.90l5.8,-5.8M596.33,130.23l5.8,5.8M596.33,136.03l5.8,-5.8M597.33,130.36l5.8,5.8M597.33,136.16l5.8,-5.8M598.33,130.51l5.8,5.8M598.33,136.31l5.8,-5.8M599.31,130.67l5.8,5.8M599.31,136.47l5.8,-5.8M600.29,130.84l5.8,5.8M600.29,136.64l5.8,-5.8M601.25,131.02l5.8,5.8M601.25,136.82l5.8,-5.8M602.21,131.21l5.8,5.8M602.21,137.01l5.8,-5.8M603.15,131.41l5.8,5.8M603.15,137.21l5.8,-5.8M604.09,131.62l5.8,5.8M604.09,137.42l5.8,-5.8M605.02,131.84l5.8,5.8M605.02,137.64l5.8,-5.8M605.94,132.07l5.8,5.8M605.94,137.87l5.8,-5.8M606.85,132.31l5.8,5.8M606.85,138.11l5.8,-5.8M607.76,132.55l5.8,5.8M607.76,138.35l5.8,-5.8M608.65,132.80l5.8,5.8M608.65,138.60l5.8,-5.8M609.54,133.06l5.8,5.8M609.54,138.86l5.8,-5.8M610.42,133.33l5.8,5.8M610.42,139.13l5.8,-5.8M611.29,133.61l5.8,5.8M611.29,139.41l5.8,-5.8M612.16,133.89l5.8,5.8M612.16,139.69l5.8,-5.8M613.02,134.18l5.8,5.8M613.02,139.98l5.8,-5.8M613.87,134.47l5.8,5.8M613.87,140.27l5.8,-5.8M614.71,134.77l5.8,5.8M614.71,140.57l5.8,-5.8M615.55,135.08l5.8,5.8M615.55,140.88l5.8,-5.8M616.38,135.39l5.8,5.8M616.38,141.19l5.8,-5.8M617.21,135.68l5.8,5.8M617.21,141.48l5.8,-5.8M618.02,135.99l5.8,5.8M618.02,141.79l5.8,-5.8M618.84,136.30l5.8,5.8M618.84,142.10l5.8,-5.8M619.64,136.61l5.8,5.8M619.64,142.41l5.8,-5.8M620.44,136.93l5.8,5.8M620.44,142.73l5.8,-5.8M621.23,137.26l5.8,5.8M621.23,143.06l5.8,-5.8M622.02,137.59l5.8,5.8M622.02,143.39l5.8,-5.8M622.80,137.92l5.8,5.8M622.80,143.72l5.8,-5.8M623.58,138.26l5.8,5.8M623.58,144.06l5.8,-5.8M624.35,138.60l5.8,5.8M624.35,144.40l5.8,-5.8M625.11,138.95l5.8,5.8M625.11,144.75l5.8,-5.8M625.87,139.30l5.8,5.8M625.87,145.10l5.8,-5.8M626.62,139.66l5.8,5.8M626.62,145.46l5.8,-5.8M627.37,140.02l5.8,5.8M627.37,145.82l5.8,-5.8M628.11,140.38l5.8,5.8M628.11,146.18l5.8,-5.8M628.85,140.75l5.8,5.8M628.85,146.55l5.8,-5.8M629.58,141.12l5.8,5.8M629.58,146.92l5.8,-5.8M630.30,141.50l5.8,5.8M630.30,147.30l5.8,-5.8M631.02,141.88l5.8,5.8M631.02,147.68l5.8,-5.8M631.74,142.26l5.8,5.8M631.74,148.06l5.8,-5.8M632.45,142.64l5.8,5.8M632.45,148.44l5.8,-5.8M633.15,143.03l5.8,5.8M633.15,148.83l5.8,-5.8M633.85,143.42l5.8,5.8M633.85,149.22l5.8,-5.8M634.55,143.81l5.8,5.8M634.55,149.61l5.8,-5.8M635.23,144.20l5.8,5.8M635.23,150.00l5.8,-5.8M635.92,144.60l5.8,5.8M635.92,150.40l5.8,-5.8M636.60,145.00l5.8,5.8M636.60,150.80l5.8,-5.8M637.27,145.40l5.8,5.8M637.27,151.20l5.8,-5.8M637.94,145.81l5.8,5.8M637.94,151.61l5.8,-5.8M638.61,146.21l5.8,5.8M638.61,152.01l5.8,-5.8M639.27,146.62l5.8,5.8M639.27,152.42l5.8,-5.8M639.92,147.01l5.8,5.8M639.92,152.81l5.8,-5.8M640.57,147.40l5.8,5.8M640.57,153.20l5.8,-5.8M641.21,147.78l5.8,5.8M641.21,153.58l5.8,-5.8M641.86,148.17l5.8,5.8M641.86,153.97l5.8,-5.8M642.49,148.56l5.8,5.8M642.49,154.36l5.8,-5.8M643.12,148.95l5.8,5.8M643.12,154.75l5.8,-5.8M643.75,149.34l5.8,5.8M643.75,155.14l5.8,-5.8M644.37,149.74l5.8,5.8M644.37,155.54l5.8,-5.8M644.98,150.14l5.8,5.8M644.98,155.94l5.8,-5.8M645.60,150.53l5.8,5.8M645.60,156.33l5.8,-5.8M646.20,150.93l5.8,5.8M646.20,156.73l5.8,-5.8M646.81,151.33l5.8,5.8M646.81,157.13l5.8,-5.8M647.40,151.73l5.8,5.8M647.40,157.53l5.8,-5.8M648.00,152.13l5.8,5.8M648.00,157.93l5.8,-5.8M648.58,152.54l5.8,5.8M648.58,158.34l5.8,-5.8M649.17,152.94l5.8,5.8M649.17,158.74l5.8,-5.8M649.75,153.35l5.8,5.8M649.75,159.15l5.8,-5.8M650.32,153.75l5.8,5.8M650.32,159.55l5.8,-5.8M650.89,154.16l5.8,5.8M650.89,159.96l5.8,-5.8M651.46,154.56l5.8,5.8M651.46,160.36l5.8,-5.8M652.02,154.97l5.8,5.8M652.02,160.77l5.8,-5.8M652.57,155.37l5.8,5.8M652.57,161.17l5.8,-5.8M653.12,155.78l5.8,5.8M653.12,161.58l5.8,-5.8M653.67,156.19l5.8,5.8M653.67,161.99l5.8,-5.8M654.21,156.59l5.8,5.8M654.21,162.39l5.8,-5.8M654.75,157.00l5.8,5.8M654.75,162.80l5.8,-5.8M655.28,157.40l5.8,5.8M655.28,163.20l5.8,-5.8M655.81,157.81l5.8,5.8M655.81,163.61l5.8,-5.8M656.34,158.21l5.8,5.8M656.34,164.01l5.8,-5.8M656.86,158.62l5.8,5.8M656.86,164.42l5.8,-5.8M657.37,159.02l5.8,5.8M657.37,164.82l5.8,-5.8M657.88,159.43l5.8,5.8M657.88,165.23l5.8,-5.8M658.39,159.83l5.8,5.8M658.39,165.63l5.8,-5.8M658.89,160.23l5.8,5.8M658.89,166.03l5.8,-5.8M659.38,160.63l5.8,5.8M659.38,166.43l5.8,-5.8M659.88,161.03l5.8,5.8M659.88,166.83l5.8,-5.8M660.37,161.43l5.8,5.8M660.37,167.23l5.8,-5.8M660.85,161.83l5.8,5.8M660.85,167.63l5.8,-5.8M661.33,162.22l5.8,5.8M661.33,168.02l5.8,-5.8M661.80,162.62l5.8,5.8M661.80,168.42l5.8,-5.8M662.27,163.01l5.8,5.8M662.27,168.81l5.8,-5.8M662.74,163.41l5.8,5.8M662.74,169.21l5.8,-5.8M663.20,163.80l5.8,5.8M663.20,169.60l5.8,-5.8M663.66,164.19l5.8,5.8M663.66,169.99l5.8,-5.8M664.11,164.57l5.8,5.8M664.11,170.37l5.8,-5.8M664.55,164.96l5.8,5.8M664.55,170.76l5.8,-5.8M665.00,165.35l5.8,5.8M665.00,171.15l5.8,-5.8M665.44,165.73l5.8,5.8M665.44,171.53l5.8,-5.8M665.87,166.11l5.8,5.8M665.87,171.91l5.8,-5.8M666.30,166.49l5.8,5.8M666.30,172.29l5.8,-5.8M666.73,166.87l5.8,5.8M666.73,172.67l5.8,-5.8M667.15,167.24l5.8,5.8M667.15,173.04l5.8,-5.8M667.57,167.61l5.8,5.8M667.57,173.41l5.8,-5.8M667.98,167.99l5.8,5.8M667.98,173.79l5.8,-5.8" fill="none" stroke="#9400d3" stroke-width="1.7"/>
<path d="M416.81,198.62 L444.21,183.44 L460.38,167.66 L471.96,151.98 L481.02,137.10 L488.49,125.73 L494.86,113.61 L500.43,100.68 L505.38,89.51 L509.85,79.89 L513.93,71.56 L517.69,64.38 L521.17,58.32 L524.42,53.36 L527.48,49.46 L530.36,46.56 L533.09,44.50 L535.68,43.12 L538.16,42.29 L540.52,41.93 L542.79,41.94 L544.97,42.27 L547.07,42.86 L549.10,43.66 L551.06,44.64 L552.96,45.77 L554.80,47.01 L556.59,48.36 L558.32,49.78 L560.02,51.26 L561.67,52.80 L563.27,54.37 L564.84,55.97 L566.38,57.59 L567.88,59.22 L569.35,60.86 L570.79,62.50 L572.20,64.13 L573.59,65.75 L574.95,67.35 L576.28,68.94 L577.60,70.50 L578.89,72.04 L580.16,73.55 L581.41,75.04 L582.64,76.49 L583.85,77.91 L585.04,79.29 L586.22,80.64 L587.38,81.95 L588.53,83.22 L589.66,84.45 L590.77,85.64 L591.87,86.79 L592.96,87.89 L594.04,88.96 L595.10,89.99 L596.15,90.98 L597.19,91.94 L598.21,92.86 L599.23,93.76 L600.23,94.63 L601.23,95.48 L602.21,96.30 L603.19,97.10 L604.15,97.88 L605.11,98.64 L606.05,99.38 L606.99,100.10 L607.92,100.81 L608.84,101.51 L609.75,102.19 L610.66,102.86 L611.55,103.52 L612.44,104.16 L613.32,104.80 L614.19,105.43 L615.06,106.05 L615.92,106.67 L616.77,107.28 L617.61,107.88 L618.45,108.48 L619.28,109.07 L620.11,109.66 L620.92,110.24 L621.74,110.82 L622.54,111.40 L623.34,111.97 L624.13,112.54 L624.92,113.11 L625.70,113.67 L626.48,114.24 L627.25,114.80 L628.01,115.36 L628.77,115.92 L629.52,116.48 L630.27,117.04 L631.01,117.60 L631.75,118.16 L632.48,118.72 L633.20,119.28 L633.92,119.84 L634.64,120.40 L635.35,120.96 L636.05,121.52 L636.75,122.08 L637.45,122.65 L638.13,123.21 L638.82,123.78 L639.50,124.35 L640.17,124.92 L640.84,125.50 L641.51,126.07 L642.17,126.66 L642.82,127.24 L643.47,127.84 L644.11,128.43 L644.76,129.04 L645.39,129.65 L646.02,130.26 L646.65,130.88 L647.27,131.51 L647.88,132.15 L648.50,132.80 L649.10,133.45 L649.71,134.11 L650.30,134.78 L650.90,135.46 L651.48,136.15 L652.07,136.84 L652.65,137.55 L653.22,138.26 L653.79,138.98 L654.36,139.71 L654.92,140.44 L655.47,141.17 L656.02,141.90 L656.57,142.63 L657.11,143.36 L657.65,144.09 L658.18,144.81 L658.71,145.52 L659.24,146.23 L659.76,146.93 L660.27,147.62 L660.78,148.30 L661.29,148.97 L661.79,149.63 L662.28,150.27 L662.78,150.90 L663.27,151.52 L663.75,152.12 L664.23,152.71 L664.70,153.28 L665.17,153.83 L665.64,154.37 L666.10,154.89 L666.56,155.39 L667.01,155.87 L667.45,156.33 L667.90,156.78 L668.34,157.20 L668.77,157.61 L669.20,158.00 L669.63,158.37 L670.05,158.71 L670.47,159.04 L670.88,159.35" fill="none" stroke="#000" stroke-width="2.86" stroke-linejoin="round" stroke-linecap="square"/>
<path d="M416.81,214.80 L444.21,214.22 L460.38,213.21 L471.96,211.86 L481.02,210.00 L488.49,207.87 L494.86,205.93 L500.43,204.03 L505.38,201.94 L509.85,199.80 L513.93,197.87 L517.69,196.04 L521.17,194.21 L524.42,192.36 L527.48,190.54 L530.36,188.80 L533.09,187.12 L535.68,185.42 L538.16,183.74 L540.52,182.08 L542.79,180.43 L544.97,178.80 L547.07,177.18 L549.10,175.58 L551.06,174.00 L552.96,172.44 L554.80,170.92 L556.59,169.43 L558.32,167.99 L560.02,166.59 L561.67,165.24 L563.27,163.95 L564.84,162.70 L566.38,161.51 L567.88,160.38 L569.35,159.30 L570.79,158.28 L572.20,157.31 L573.59,156.41 L574.95,155.56 L576.28,154.77 L577.60,154.03 L578.89,153.36 L580.16,152.74 L581.41,152.18 L582.64,151.67 L583.85,151.21 L585.04,150.80 L586.22,150.43 L587.38,150.10 L588.53,149.81 L589.66,149.55 L590.77,149.32 L591.87,149.13 L592.96,148.96 L594.04,148.82 L595.10,148.71 L596.15,148.62 L597.19,148.54 L598.21,148.49 L599.23,148.46 L600.23,148.44 L601.23,148.44 L602.21,148.45 L603.19,148.47 L604.15,148.51 L605.11,148.56 L606.05,148.62 L606.99,148.69 L607.92,148.76 L608.84,148.85 L609.75,148.94 L610.66,149.03 L611.55,149.14 L612.44,149.25 L613.32,149.37 L614.19,149.49 L615.06,149.62 L615.92,149.76 L616.77,149.90 L617.61,150.05 L618.45,150.21 L619.28,150.37 L620.11,150.53 L620.92,150.70 L621.74,150.88 L622.54,151.06 L623.34,151.25 L624.13,151.44 L624.92,151.63 L625.70,151.83 L626.48,152.04 L627.25,152.25 L628.01,152.46 L628.77,152.68 L629.52,152.90 L630.27,153.13 L631.01,153.36 L631.75,153.60 L632.48,153.83 L633.20,154.08 L633.92,154.32 L634.64,154.57 L635.35,154.82 L636.05,155.08 L636.75,155.34 L637.45,155.60 L638.13,155.87 L638.82,156.13 L639.50,156.40 L640.17,156.68 L640.84,156.96 L641.51,157.23 L642.17,157.52 L642.82,157.80 L643.47,158.09 L644.11,158.38 L644.76,158.67 L645.39,158.96 L646.02,159.26 L646.65,159.55 L647.27,159.85 L647.88,160.15 L648.50,160.46 L649.10,160.76 L649.71,161.06 L650.30,161.36 L650.90,161.66 L651.48,161.97 L652.07,162.27 L652.65,162.57 L653.22,162.87 L653.79,163.16 L654.36,163.46 L654.92,163.75 L655.47,164.05 L656.02,164.34 L656.57,164.63 L657.11,164.91 L657.65,165.20 L658.18,165.48 L658.71,165.76 L659.24,166.03 L659.76,166.30 L660.27,166.57 L660.78,166.84 L661.29,167.10 L661.79,167.36 L662.28,167.62 L662.78,167.87 L663.27,168.12 L663.75,168.36 L664.23,168.60 L664.70,168.84 L665.17,169.07 L665.64,169.30 L666.10,169.53 L666.56,169.75 L667.01,169.96 L667.45,170.18 L667.90,170.38 L668.34,170.59 L668.77,170.79 L669.20,170.99 L669.63,171.18 L670.05,171.36 L670.47,171.55 L670.88,171.73" fill="none" stroke="#000" stroke-width="2.86" stroke-linejoin="round" stroke-linecap="square"/>
<path d="M416.81,204.99 L444.21,196.21 L460.38,189.24 L471.96,183.47 L481.02,178.55 L488.49,174.27 L494.86,170.49 L500.43,167.09 L505.38,164.02 L509.85,161.22 L513.93,158.68 L517.69,156.34 L521.17,154.20 L524.42,152.22 L527.48,150.39 L530.36,148.70 L533.09,147.13 L535.68,145.67 L538.16,144.31 L540.52,143.05 L542.79,141.87 L544.97,140.77 L547.07,139.75 L549.10,138.79 L551.06,137.90 L552.96,137.07 L554.80,136.30 L556.59,135.58 L558.32,134.90 L560.02,134.28 L561.67,133.70 L563.27,133.16 L564.84,132.67 L566.38,132.21 L567.88,131.78 L569.35,131.39 L570.79,131.04 L572.20,130.71 L573.59,130.41 L574.95,130.15 L576.28,129.91 L577.60,129.69 L578.89,129.50 L580.16,129.34 L581.41,129.19 L582.64,129.07 L583.85,128.98 L585.04,128.90 L586.22,128.84 L587.38,128.81 L588.53,128.79 L589.66,128.79 L590.77,128.81 L591.87,128.84 L592.96,128.90 L594.04,128.97 L595.10,129.05 L596.15,129.15 L597.19,129.26 L598.21,129.39 L599.23,129.53 L600.23,129.68 L601.23,129.84 L602.21,130.02 L603.19,130.21 L604.15,130.40 L605.11,130.61 L606.05,130.83 L606.99,131.06 L607.92,131.30 L608.84,131.54 L609.75,131.80 L610.66,132.06 L611.55,132.33 L612.44,132.61 L613.32,132.90 L614.19,133.19 L615.06,133.49 L615.92,133.80 L616.77,134.12 L617.61,134.44 L618.45,134.76 L619.28,135.10 L620.11,135.44 L620.92,135.78 L621.74,136.13 L622.54,136.49 L623.34,136.85 L624.13,137.21 L624.92,137.58 L625.70,137.96 L626.48,138.34 L627.25,138.72 L628.01,139.11 L628.77,139.50 L629.52,139.89 L630.27,140.29 L631.01,140.69 L631.75,141.10 L632.48,141.51 L633.20,141.92 L633.92,142.33 L634.64,142.75 L635.35,143.17 L636.05,143.59 L636.75,144.02 L637.45,144.44 L638.13,144.87 L638.82,145.30 L639.50,145.74 L640.17,146.17 L640.84,146.61 L641.51,147.05 L642.17,147.49 L642.82,147.93 L643.47,148.37 L644.11,148.82 L644.76,149.26 L645.39,149.71 L646.02,150.15 L646.65,150.60 L647.27,151.05 L647.88,151.50 L648.50,151.95 L649.10,152.40 L649.71,152.85 L650.30,153.30 L650.90,153.75 L651.48,154.20 L652.07,154.65 L652.65,155.10 L653.22,155.54 L653.79,155.99 L654.36,156.44 L654.92,156.89 L655.47,157.34 L656.02,157.78 L656.57,158.23 L657.11,158.68 L657.65,159.12 L658.18,159.56 L658.71,160.00 L659.24,160.45 L659.76,160.88 L660.27,161.32 L660.78,161.76 L661.29,162.19 L661.79,162.63 L662.28,163.06 L662.78,163.49 L663.27,163.92 L663.75,164.35 L664.23,164.77 L664.70,165.19 L665.17,165.62 L665.64,166.03 L666.10,166.45 L666.56,166.87 L667.01,167.28 L667.45,167.69 L667.90,168.10 L668.34,168.50 L668.77,168.91 L669.20,169.31 L669.63,169.71 L670.05,170.10 L670.47,170.50 L670.88,170.89" fill="none" stroke="#000" stroke-width="2.86" stroke-linejoin="round" stroke-linecap="square"/></g>
<g clip-path="url(#c2)"><path d="M65.51,500.84 L92.91,495.31 L109.08,489.71 L120.66,484.10 L129.72,478.48 L137.19,472.83 L143.56,467.27 L149.13,461.84 L154.08,456.53 L158.55,451.35 L162.63,446.52 L166.39,441.89 L169.87,437.50 L173.12,433.35 L176.18,429.44 L179.06,425.77 L181.79,422.31 L184.38,419.06 L186.86,416.02 L189.22,413.17 L191.49,410.50 L193.67,408.00 L195.77,405.67 L197.80,403.50 L199.76,401.48 L201.66,399.59 L203.50,397.85 L205.29,396.24 L207.02,394.75 L208.72,393.37 L210.37,392.08 L211.97,390.89 L213.54,389.76 L215.08,388.70 L216.58,387.69 L218.05,386.73 L219.49,385.81 L220.90,384.93 L222.29,384.08 L223.65,383.26 L224.98,382.46 L226.30,381.68 L227.59,380.92 L228.86,380.19 L230.11,379.46 L231.34,378.76 L232.55,378.06 L233.74,377.38 L234.92,376.71 L236.08,376.04 L237.23,375.39 L238.36,374.74 L239.47,374.10 L240.57,373.46 L241.66,372.83 L242.74,372.21 L243.80,371.59 L244.85,370.97 L245.89,370.36 L246.91,369.75 L247.93,369.15 L248.93,368.54 L249.93,367.95 L250.91,367.35 L251.89,366.75 L252.85,366.16 L253.81,365.57 L254.75,364.98 L255.69,364.39 L256.62,363.80 L257.54,363.21 L258.45,362.63 L259.36,362.04 L260.25,361.45 L261.14,360.87 L262.02,360.28 L262.89,359.69 L263.76,359.11 L264.62,358.52 L265.47,357.93 L266.31,357.35 L267.15,356.76 L267.98,356.18 L268.81,355.59 L269.62,355.01 L270.44,354.43 L271.24,353.85 L272.04,353.28 L272.83,352.70 L273.62,352.13 L274.40,351.57 L275.18,351.01 L275.95,350.45 L276.71,349.89 L277.47,349.34 L278.22,348.80 L278.97,348.26 L279.71,347.72 L280.45,347.19 L281.18,346.67 L281.90,346.15 L282.62,345.63 L283.34,345.12 L284.05,344.62 L284.75,344.12 L285.45,343.63 L286.15,343.15 L286.83,342.67 L287.52,342.20 L288.20,341.74 L288.87,341.28 L289.54,340.83 L290.21,340.39 L290.87,339.95 L291.52,339.52 L292.17,339.10 L292.81,338.68 L293.46,338.27 L294.09,337.87 L294.72,337.48 L295.35,337.09 L295.97,336.71 L296.58,336.34 L297.20,335.98 L297.80,335.62 L298.41,335.27 L299.00,334.93 L299.60,334.60 L300.18,334.27 L300.77,333.95 L301.35,333.64 L301.92,333.34 L302.49,333.04 L303.06,332.75 L303.62,332.47 L304.17,332.20 L304.72,331.93 L305.27,331.67 L305.81,331.42 L306.35,331.18 L306.88,330.94 L307.41,330.71 L307.94,330.49 L308.46,330.27 L308.97,330.06 L309.48,329.86 L309.99,329.67 L310.49,329.48 L310.98,329.30 L311.48,329.12 L311.97,328.96 L312.45,328.80 L312.93,328.64 L313.40,328.49 L313.87,328.35 L314.34,328.22 L314.80,328.09 L315.26,327.96 L315.71,327.85 L316.15,327.74 L316.60,327.63 L317.04,327.53 L317.47,327.44 L317.90,327.35 L318.33,327.27 L318.75,327.19 L319.17,327.12 L319.58,327.05" fill="none" stroke="#0000ff" stroke-width="2.86" stroke-linejoin="round" stroke-linecap="square"/>
<path d="M61.91,500.84a3.6,3.6 0 1,0 7.2,0a3.6,3.6 0 1,0 -7.2,0M89.31,495.31a3.6,3.6 0 1,0 7.2,0a3.6,3.6 0 1,0 -7.2,0M105.48,489.71a3.6,3.6 0 1,0 7.2,0a3.6,3.6 0 1,0 -7.2,0M117.06,484.10a3.6,3.6 0 1,0 7.2,0a3.6,3.6 0 1,0 -7.2,0M126.12,478.48a3.6,3.6 0 1,0 7.2,0a3.6,3.6 0 1,0 -7.2,0M133.59,472.83a3.6,3.6 0 1,0 7.2,0a3.6,3.6 0 1,0 -7.2,0M139.96,467.27a3.6,3.6 0 1,0 7.2,0a3.6,3.6 0 1,0 -7.2,0M145.53,461.84a3.6,3.6 0 1,0 7.2,0a3.6,3.6 0 1,0 -7.2,0M150.48,456.53a3.6,3.6 0 1,0 7.2,0a3.6,3.6 0 1,0 -7.2,0M154.95,451.35a3.6,3.6 0 1,0 7.2,0a3.6,3.6 0 1,0 -7.2,0M159.03,446.52a3.6,3.6 0 1,0 7.2,0a3.6,3.6 0 1,0 -7.2,0M162.79,441.89a3.6,3.6 0 1,0 7.2,0a3.6,3.6 0 1,0 -7.2,0M166.27,437.50a3.6,3.6 0 1,0 7.2,0a3.6,3.6 0 1,0 -7.2,0M169.52,433.35a3.6,3.6 0 1,0 7.2,0a3.6,3.6 0 1,0 -7.2,0M172.58,429.44a3.6,3.6 0 1,0 7.2,0a3.6,3.6 0 1,0 -7.2,0M175.46,425.77a3.6,3.6 0 1,0 7.2,0a3.6,3.6 0 1,0 -7.2,0M178.19,422.31a3.6,3.6 0 1,0 7.2,0a3.6,3.6 0 1,0 -7.2,0M180.78,419.06a3.6,3.6 0 1,0 7.2,0a3.6,3.6 0 1,0 -7.2,0M183.26,416.02a3.6,3.6 0 1,0 7.2,0a3.6,3.6 0 1,0 -7.2,0M185.62,413.17a3.6,3.6 0 1,0 7.2,0a3.6,3.6 0 1,0 -7.2,0M187.89,410.50a3.6,3.6 0 1,0 7.2,0a3.6,3.6 0 1,0 -7.2,0M190.07,408.00a3.6,3.6 0 1,0 7.2,0a3.6,3.6 0 1,0 -7.2,0M192.17,405.67a3.6,3.6 0 1,0 7.2,0a3.6,3.6 0 1,0 -7.2,0M194.20,403.50a3.6,3.6 0 1,0 7.2,0a3.6,3.6 0 1,0 -7.2,0M196.16,401.48a3.6,3.6 0 1,0 7.2,0a3.6,3.6 0 1,0 -7.2,0M198.06,399.59a3.6,3.6 0 1,0 7.2,0a3.6,3.6 0 1,0 -7.2,0M199.90,397.85a3.6,3.6 0 1,0 7.2,0a3.6,3.6 0 1,0 -7.2,0M201.69,396.24a3.6,3.6 0 1,0 7.2,0a3.6,3.6 0 1,0 -7.2,0M203.42,394.75a3.6,3.6 0 1,0 7.2,0a3.6,3.6 0 1,0 -7.2,0M205.12,393.37a3.6,3.6 0 1,0 7.2,0a3.6,3.6 0 1,0 -7.2,0M206.77,392.08a3.6,3.6 0 1,0 7.2,0a3.6,3.6 0 1,0 -7.2,0M208.37,390.89a3.6,3.6 0 1,0 7.2,0a3.6,3.6 0 1,0 -7.2,0M209.94,389.76a3.6,3.6 0 1,0 7.2,0a3.6,3.6 0 1,0 -7.2,0M211.48,388.70a3.6,3.6 0 1,0 7.2,0a3.6,3.6 0 1,0 -7.2,0M212.98,387.69a3.6,3.6 0 1,0 7.2,0a3.6,3.6 0 1,0 -7.2,0M214.45,386.73a3.6,3.6 0 1,0 7.2,0a3.6,3.6 0 1,0 -7.2,0M215.89,385.81a3.6,3.6 0 1,0 7.2,0a3.6,3.6 0 1,0 -7.2,0M217.30,384.93a3.6,3.6 0 1,0 7.2,0a3.6,3.6 0 1,0 -7.2,0M218.69,384.08a3.6,3.6 0 1,0 7.2,0a3.6,3.6 0 1,0 -7.2,0M220.05,383.26a3.6,3.6 0 1,0 7.2,0a3.6,3.6 0 1,0 -7.2,0M221.38,382.46a3.6,3.6 0 1,0 7.2,0a3.6,3.6 0 1,0 -7.2,0M222.70,381.68a3.6,3.6 0 1,0 7.2,0a3.6,3.6 0 1,0 -7.2,0M223.99,380.92a3.6,3.6 0 1,0 7.2,0a3.6,3.6 0 1,0 -7.2,0M225.26,380.19a3.6,3.6 0 1,0 7.2,0a3.6,3.6 0 1,0 -7.2,0M226.51,379.46a3.6,3.6 0 1,0 7.2,0a3.6,3.6 0 1,0 -7.2,0M227.74,378.76a3.6,3.6 0 1,0 7.2,0a3.6,3.6 0 1,0 -7.2,0M228.95,378.06a3.6,3.6 0 1,0 7.2,0a3.6,3.6 0 1,0 -7.2,0M230.14,377.38a3.6,3.6 0 1,0 7.2,0a3.6,3.6 0 1,0 -7.2,0M231.32,376.71a3.6,3.6 0 1,0 7.2,0a3.6,3.6 0 1,0 -7.2,0M232.48,376.04a3.6,3.6 0 1,0 7.2,0a3.6,3.6 0 1,0 -7.2,0M233.63,375.39a3.6,3.6 0 1,0 7.2,0a3.6,3.6 0 1,0 -7.2,0M234.76,374.74a3.6,3.6 0 1,0 7.2,0a3.6,3.6 0 1,0 -7.2,0M235.87,374.10a3.6,3.6 0 1,0 7.2,0a3.6,3.6 0 1,0 -7.2,0M236.97,373.46a3.6,3.6 0 1,0 7.2,0a3.6,3.6 0 1,0 -7.2,0M238.06,372.83a3.6,3.6 0 1,0 7.2,0a3.6,3.6 0 1,0 -7.2,0M239.14,372.21a3.6,3.6 0 1,0 7.2,0a3.6,3.6 0 1,0 -7.2,0M240.20,371.59a3.6,3.6 0 1,0 7.2,0a3.6,3.6 0 1,0 -7.2,0M241.25,370.97a3.6,3.6 0 1,0 7.2,0a3.6,3.6 0 1,0 -7.2,0M242.29,370.36a3.6,3.6 0 1,0 7.2,0a3.6,3.6 0 1,0 -7.2,0M243.31,369.75a3.6,3.6 0 1,0 7.2,0a3.6,3.6 0 1,0 -7.2,0M244.33,369.15a3.6,3.6 0 1,0 7.2,0a3.6,3.6 0 1,0 -7.2,0M245.33,368.54a3.6,3.6 0 1,0 7.2,0a3.6,3.6 0 1,0 -7.2,0M246.33,367.95a3.6,3.6 0 1,0 7.2,0a3.6,3.6 0 1,0 -7.2,0M247.31,367.35a3.6,3.6 0 1,0 7.2,0a3.6,3.6 0 1,0 -7.2,0M248.29,366.75a3.6,3.6 0 1,0 7.2,0a3.6,3.6 0 1,0 -7.2,0M249.25,366.16a3.6,3.6 0 1,0 7.2,0a3.6,3.6 0 1,0 -7.2,0M250.21,365.57a3.6,3.6 0 1,0 7.2,0a3.6,3.6 0 1,0 -7.2,0M251.15,364.98a3.6,3.6 0 1,0 7.2,0a3.6,3.6 0 1,0 -7.2,0M252.09,364.39a3.6,3.6 0 1,0 7.2,0a3.6,3.6 0 1,0 -7.2,0M253.02,363.80a3.6,3.6 0 1,0 7.2,0a3.6,3.6 0 1,0 -7.2,0M253.94,363.21a3.6,3.6 0 1,0 7.2,0a3.6,3.6 0 1,0 -7.2,0M254.85,362.63a3.6,3.6 0 1,0 7.2,0a3.6,3.6 0 1,0 -7.2,0M255.76,362.04a3.6,3.6 0 1,0 7.2,0a3.6,3.6 0 1,0 -7.2,0M256.65,361.45a3.6,3.6 0 1,0 7.2,0a3.6,3.6 0 1,0 -7.2,0M257.54,360.87a3.6,3.6 0 1,0 7.2,0a3.6,3.6 0 1,0 -7.2,0M258.42,360.28a3.6,3.6 0 1,0 7.2,0a3.6,3.6 0 1,0 -7.2,0M259.29,359.69a3.6,3.6 0 1,0 7.2,0a3.6,3.6 0 1,0 -7.2,0M260.16,359.11a3.6,3.6 0 1,0 7.2,0a3.6,3.6 0 1,0 -7.2,0M261.02,358.52a3.6,3.6 0 1,0 7.2,0a3.6,3.6 0 1,0 -7.2,0M261.87,357.93a3.6,3.6 0 1,0 7.2,0a3.6,3.6 0 1,0 -7.2,0M262.71,357.35a3.6,3.6 0 1,0 7.2,0a3.6,3.6 0 1,0 -7.2,0M263.55,356.76a3.6,3.6 0 1,0 7.2,0a3.6,3.6 0 1,0 -7.2,0M264.38,356.18a3.6,3.6 0 1,0 7.2,0a3.6,3.6 0 1,0 -7.2,0M265.21,355.59a3.6,3.6 0 1,0 7.2,0a3.6,3.6 0 1,0 -7.2,0M266.02,355.01a3.6,3.6 0 1,0 7.2,0a3.6,3.6 0 1,0 -7.2,0M266.84,354.43a3.6,3.6 0 1,0 7.2,0a3.6,3.6 0 1,0 -7.2,0M267.64,353.85a3.6,3.6 0 1,0 7.2,0a3.6,3.6 0 1,0 -7.2,0M268.44,353.28a3.6,3.6 0 1,0 7.2,0a3.6,3.6 0 1,0 -7.2,0M269.23,352.70a3.6,3.6 0 1,0 7.2,0a3.6,3.6 0 1,0 -7.2,0M270.02,352.13a3.6,3.6 0 1,0 7.2,0a3.6,3.6 0 1,0 -7.2,0M270.80,351.57a3.6,3.6 0 1,0 7.2,0a3.6,3.6 0 1,0 -7.2,0M271.58,351.01a3.6,3.6 0 1,0 7.2,0a3.6,3.6 0 1,0 -7.2,0M272.35,350.45a3.6,3.6 0 1,0 7.2,0a3.6,3.6 0 1,0 -7.2,0M273.11,349.89a3.6,3.6 0 1,0 7.2,0a3.6,3.6 0 1,0 -7.2,0M273.87,349.34a3.6,3.6 0 1,0 7.2,0a3.6,3.6 0 1,0 -7.2,0M274.62,348.80a3.6,3.6 0 1,0 7.2,0a3.6,3.6 0 1,0 -7.2,0M275.37,348.26a3.6,3.6 0 1,0 7.2,0a3.6,3.6 0 1,0 -7.2,0M276.11,347.72a3.6,3.6 0 1,0 7.2,0a3.6,3.6 0 1,0 -7.2,0M276.85,347.19a3.6,3.6 0 1,0 7.2,0a3.6,3.6 0 1,0 -7.2,0M277.58,346.67a3.6,3.6 0 1,0 7.2,0a3.6,3.6 0 1,0 -7.2,0M278.30,346.15a3.6,3.6 0 1,0 7.2,0a3.6,3.6 0 1,0 -7.2,0M279.02,345.63a3.6,3.6 0 1,0 7.2,0a3.6,3.6 0 1,0 -7.2,0M279.74,345.12a3.6,3.6 0 1,0 7.2,0a3.6,3.6 0 1,0 -7.2,0M280.45,344.62a3.6,3.6 0 1,0 7.2,0a3.6,3.6 0 1,0 -7.2,0M281.15,344.12a3.6,3.6 0 1,0 7.2,0a3.6,3.6 0 1,0 -7.2,0M281.85,343.63a3.6,3.6 0 1,0 7.2,0a3.6,3.6 0 1,0 -7.2,0M282.55,343.15a3.6,3.6 0 1,0 7.2,0a3.6,3.6 0 1,0 -7.2,0M283.23,342.67a3.6,3.6 0 1,0 7.2,0a3.6,3.6 0 1,0 -7.2,0M283.92,342.20a3.6,3.6 0 1,0 7.2,0a3.6,3.6 0 1,0 -7.2,0M284.60,341.74a3.6,3.6 0 1,0 7.2,0a3.6,3.6 0 1,0 -7.2,0M285.27,341.28a3.6,3.6 0 1,0 7.2,0a3.6,3.6 0 1,0 -7.2,0M285.94,340.83a3.6,3.6 0 1,0 7.2,0a3.6,3.6 0 1,0 -7.2,0M286.61,340.39a3.6,3.6 0 1,0 7.2,0a3.6,3.6 0 1,0 -7.2,0M287.27,339.95a3.6,3.6 0 1,0 7.2,0a3.6,3.6 0 1,0 -7.2,0M287.92,339.52a3.6,3.6 0 1,0 7.2,0a3.6,3.6 0 1,0 -7.2,0M288.57,339.10a3.6,3.6 0 1,0 7.2,0a3.6,3.6 0 1,0 -7.2,0M289.21,338.68a3.6,3.6 0 1,0 7.2,0a3.6,3.6 0 1,0 -7.2,0M289.86,338.27a3.6,3.6 0 1,0 7.2,0a3.6,3.6 0 1,0 -7.2,0M290.49,337.87a3.6,3.6 0 1,0 7.2,0a3.6,3.6 0 1,0 -7.2,0M291.12,337.48a3.6,3.6 0 1,0 7.2,0a3.6,3.6 0 1,0 -7.2,0M291.75,337.09a3.6,3.6 0 1,0 7.2,0a3.6,3.6 0 1,0 -7.2,0M292.37,336.71a3.6,3.6 0 1,0 7.2,0a3.6,3.6 0 1,0 -7.2,0M292.98,336.34a3.6,3.6 0 1,0 7.2,0a3.6,3.6 0 1,0 -7.2,0M293.60,335.98a3.6,3.6 0 1,0 7.2,0a3.6,3.6 0 1,0 -7.2,0M294.20,335.62a3.6,3.6 0 1,0 7.2,0a3.6,3.6 0 1,0 -7.2,0M294.81,335.27a3.6,3.6 0 1,0 7.2,0a3.6,3.6 0 1,0 -7.2,0M295.40,334.93a3.6,3.6 0 1,0 7.2,0a3.6,3.6 0 1,0 -7.2,0M296.00,334.60a3.6,3.6 0 1,0 7.2,0a3.6,3.6 0 1,0 -7.2,0M296.58,334.27a3.6,3.6 0 1,0 7.2,0a3.6,3.6 0 1,0 -7.2,0M297.17,333.95a3.6,3.6 0 1,0 7.2,0a3.6,3.6 0 1,0 -7.2,0M297.75,333.64a3.6,3.6 0 1,0 7.2,0a3.6,3.6 0 1,0 -7.2,0M298.32,333.34a3.6,3.6 0 1,0 7.2,0a3.6,3.6 0 1,0 -7.2,0M298.89,333.04a3.6,3.6 0 1,0 7.2,0a3.6,3.6 0 1,0 -7.2,0M299.46,332.75a3.6,3.6 0 1,0 7.2,0a3.6,3.6 0 1,0 -7.2,0M300.02,332.47a3.6,3.6 0 1,0 7.2,0a3.6,3.6 0 1,0 -7.2,0M300.57,332.20a3.6,3.6 0 1,0 7.2,0a3.6,3.6 0 1,0 -7.2,0M301.12,331.93a3.6,3.6 0 1,0 7.2,0a3.6,3.6 0 1,0 -7.2,0M301.67,331.67a3.6,3.6 0 1,0 7.2,0a3.6,3.6 0 1,0 -7.2,0M302.21,331.42a3.6,3.6 0 1,0 7.2,0a3.6,3.6 0 1,0 -7.2,0M302.75,331.18a3.6,3.6 0 1,0 7.2,0a3.6,3.6 0 1,0 -7.2,0M303.28,330.94a3.6,3.6 0 1,0 7.2,0a3.6,3.6 0 1,0 -7.2,0M303.81,330.71a3.6,3.6 0 1,0 7.2,0a3.6,3.6 0 1,0 -7.2,0M304.34,330.49a3.6,3.6 0 1,0 7.2,0a3.6,3.6 0 1,0 -7.2,0M304.86,330.27a3.6,3.6 0 1,0 7.2,0a3.6,3.6 0 1,0 -7.2,0M305.37,330.06a3.6,3.6 0 1,0 7.2,0a3.6,3.6 0 1,0 -7.2,0M305.88,329.86a3.6,3.6 0 1,0 7.2,0a3.6,3.6 0 1,0 -7.2,0M306.39,329.67a3.6,3.6 0 1,0 7.2,0a3.6,3.6 0 1,0 -7.2,0M306.89,329.48a3.6,3.6 0 1,0 7.2,0a3.6,3.6 0 1,0 -7.2,0M307.38,329.30a3.6,3.6 0 1,0 7.2,0a3.6,3.6 0 1,0 -7.2,0M307.88,329.12a3.6,3.6 0 1,0 7.2,0a3.6,3.6 0 1,0 -7.2,0M308.37,328.96a3.6,3.6 0 1,0 7.2,0a3.6,3.6 0 1,0 -7.2,0M308.85,328.80a3.6,3.6 0 1,0 7.2,0a3.6,3.6 0 1,0 -7.2,0M309.33,328.64a3.6,3.6 0 1,0 7.2,0a3.6,3.6 0 1,0 -7.2,0M309.80,328.49a3.6,3.6 0 1,0 7.2,0a3.6,3.6 0 1,0 -7.2,0M310.27,328.35a3.6,3.6 0 1,0 7.2,0a3.6,3.6 0 1,0 -7.2,0M310.74,328.22a3.6,3.6 0 1,0 7.2,0a3.6,3.6 0 1,0 -7.2,0M311.20,328.09a3.6,3.6 0 1,0 7.2,0a3.6,3.6 0 1,0 -7.2,0M311.66,327.96a3.6,3.6 0 1,0 7.2,0a3.6,3.6 0 1,0 -7.2,0M312.11,327.85a3.6,3.6 0 1,0 7.2,0a3.6,3.6 0 1,0 -7.2,0M312.55,327.74a3.6,3.6 0 1,0 7.2,0a3.6,3.6 0 1,0 -7.2,0M313.00,327.63a3.6,3.6 0 1,0 7.2,0a3.6,3.6 0 1,0 -7.2,0M313.44,327.53a3.6,3.6 0 1,0 7.2,0a3.6,3.6 0 1,0 -7.2,0M313.87,327.44a3.6,3.6 0 1,0 7.2,0a3.6,3.6 0 1,0 -7.2,0M314.30,327.35a3.6,3.6 0 1,0 7.2,0a3.6,3.6 0 1,0 -7.2,0M314.73,327.27a3.6,3.6 0 1,0 7.2,0a3.6,3.6 0 1,0 -7.2,0M315.15,327.19a3.6,3.6 0 1,0 7.2,0a3.6,3.6 0 1,0 -7.2,0M315.57,327.12a3.6,3.6 0 1,0 7.2,0a3.6,3.6 0 1,0 -7.2,0M315.98,327.05a3.6,3.6 0 1,0 7.2,0a3.6,3.6 0 1,0 -7.2,0" fill="#0000ff"/>
<path d="M65.51,500.71 L92.91,495.06 L109.08,489.33 L120.66,483.59 L129.72,477.85 L137.19,472.11 L143.56,466.44 L149.13,460.94 L154.08,455.52 L158.55,450.35 L162.63,445.47 L166.39,440.82 L169.87,436.42 L173.12,432.27 L176.18,428.37 L179.06,424.70 L181.79,421.26 L184.38,418.04 L186.86,415.02 L189.22,412.19 L191.49,409.55 L193.67,407.09 L195.77,404.79 L197.80,402.65 L199.76,400.66 L201.66,398.82 L203.50,397.11 L205.29,395.54 L207.02,394.09 L208.72,392.74 L210.37,391.48 L211.97,390.31 L213.54,389.21 L215.08,388.16 L216.58,387.17 L218.05,386.23 L219.49,385.33 L220.90,384.46 L222.29,383.62 L223.65,382.81 L224.98,382.03 L226.30,381.26 L227.59,380.51 L228.86,379.78 L230.11,379.07 L231.34,378.37 L232.55,377.68 L233.74,377.00 L234.92,376.34 L236.08,375.68 L237.23,375.02 L238.36,374.38 L239.47,373.74 L240.57,373.11 L241.66,372.48 L242.74,371.86 L243.80,371.25 L244.85,370.63 L245.89,370.03 L246.91,369.42 L247.93,368.82 L248.93,368.22 L249.93,367.62 L250.91,367.03 L251.89,366.43 L252.85,365.84 L253.81,365.25 L254.75,364.67 L255.69,364.08 L256.62,363.49 L257.54,362.91 L258.45,362.32 L259.36,361.74 L260.25,361.15 L261.14,360.57 L262.02,359.99 L262.89,359.40 L263.76,358.82 L264.62,358.23 L265.47,357.65 L266.31,357.06 L267.15,356.48 L267.98,355.90 L268.81,355.32 L269.62,354.74 L270.44,354.16 L271.24,353.59 L272.04,353.01 L272.83,352.44 L273.62,351.88 L274.40,351.32 L275.18,350.76 L275.95,350.21 L276.71,349.66 L277.47,349.11 L278.22,348.57 L278.97,348.03 L279.71,347.50 L280.45,346.98 L281.18,346.46 L281.90,345.94 L282.62,345.43 L283.34,344.93 L284.05,344.43 L284.75,343.94 L285.45,343.45 L286.15,342.97 L286.83,342.50 L287.52,342.03 L288.20,341.58 L288.87,341.12 L289.54,340.68 L290.21,340.24 L290.87,339.80 L291.52,339.38 L292.17,338.96 L292.81,338.55 L293.46,338.15 L294.09,337.75 L294.72,337.36 L295.35,336.98 L295.97,336.60 L296.58,336.24 L297.20,335.88 L297.80,335.53 L298.41,335.18 L299.00,334.84 L299.60,334.51 L300.18,334.19 L300.77,333.88 L301.35,333.57 L301.92,333.27 L302.49,332.97 L303.06,332.69 L303.62,332.41 L304.17,332.14 L304.72,331.88 L305.27,331.62 L305.81,331.37 L306.35,331.13 L306.88,330.90 L307.41,330.67 L307.94,330.45 L308.46,330.24 L308.97,330.03 L309.48,329.83 L309.99,329.64 L310.49,329.45 L310.98,329.27 L311.48,329.10 L311.97,328.94 L312.45,328.78 L312.93,328.63 L313.40,328.48 L313.87,328.34 L314.34,328.21 L314.80,328.08 L315.26,327.96 L315.71,327.84 L316.15,327.73 L316.60,327.63 L317.04,327.53 L317.47,327.44 L317.90,327.35 L318.33,327.27 L318.75,327.19 L319.17,327.12 L319.58,327.05" fill="none" stroke="#008080" stroke-width="2.86" stroke-linejoin="round" stroke-linecap="square"/>
<path d="M61.91,500.71a3.6,3.6 0 1,0 7.2,0a3.6,3.6 0 1,0 -7.2,0M89.31,495.06a3.6,3.6 0 1,0 7.2,0a3.6,3.6 0 1,0 -7.2,0M105.48,489.33a3.6,3.6 0 1,0 7.2,0a3.6,3.6 0 1,0 -7.2,0M117.06,483.59a3.6,3.6 0 1,0 7.2,0a3.6,3.6 0 1,0 -7.2,0M126.12,477.85a3.6,3.6 0 1,0 7.2,0a3.6,3.6 0 1,0 -7.2,0M133.59,472.11a3.6,3.6 0 1,0 7.2,0a3.6,3.6 0 1,0 -7.2,0M139.96,466.44a3.6,3.6 0 1,0 7.2,0a3.6,3.6 0 1,0 -7.2,0M145.53,460.94a3.6,3.6 0 1,0 7.2,0a3.6,3.6 0 1,0 -7.2,0M150.48,455.52a3.6,3.6 0 1,0 7.2,0a3.6,3.6 0 1,0 -7.2,0M154.95,450.35a3.6,3.6 0 1,0 7.2,0a3.6,3.6 0 1,0 -7.2,0M159.03,445.47a3.6,3.6 0 1,0 7.2,0a3.6,3.6 0 1,0 -7.2,0M162.79,440.82a3.6,3.6 0 1,0 7.2,0a3.6,3.6 0 1,0 -7.2,0M166.27,436.42a3.6,3.6 0 1,0 7.2,0a3.6,3.6 0 1,0 -7.2,0M169.52,432.27a3.6,3.6 0 1,0 7.2,0a3.6,3.6 0 1,0 -7.2,0M172.58,428.37a3.6,3.6 0 1,0 7.2,0a3.6,3.6 0 1,0 -7.2,0M175.46,424.70a3.6,3.6 0 1,0 7.2,0a3.6,3.6 0 1,0 -7.2,0M178.19,421.26a3.6,3.6 0 1,0 7.2,0a3.6,3.6 0 1,0 -7.2,0M180.78,418.04a3.6,3.6 0 1,0 7.2,0a3.6,3.6 0 1,0 -7.2,0M183.26,415.02a3.6,3.6 0 1,0 7.2,0a3.6,3.6 0 1,0 -7.2,0M185.62,412.19a3.6,3.6 0 1,0 7.2,0a3.6,3.6 0 1,0 -7.2,0M187.89,409.55a3.6,3.6 0 1,0 7.2,0a3.6,3.6 0 1,0 -7.2,0M190.07,407.09a3.6,3.6 0 1,0 7.2,0a3.6,3.6 0 1,0 -7.2,0M192.17,404.79a3.6,3.6 0 1,0 7.2,0a3.6,3.6 0 1,0 -7.2,0M194.20,402.65a3.6,3.6 0 1,0 7.2,0a3.6,3.6 0 1,0 -7.2,0M196.16,400.66a3.6,3.6 0 1,0 7.2,0a3.6,3.6 0 1,0 -7.2,0M198.06,398.82a3.6,3.6 0 1,0 7.2,0a3.6,3.6 0 1,0 -7.2,0M199.90,397.11a3.6,3.6 0 1,0 7.2,0a3.6,3.6 0 1,0 -7.2,0M201.69,395.54a3.6,3.6 0 1,0 7.2,0a3.6,3.6 0 1,0 -7.2,0M203.42,394.09a3.6,3.6 0 1,0 7.2,0a3.6,3.6 0 1,0 -7.2,0M205.12,392.74a3.6,3.6 0 1,0 7.2,0a3.6,3.6 0 1,0 -7.2,0M206.77,391.48a3.6,3.6 0 1,0 7.2,0a3.6,3.6 0 1,0 -7.2,0M208.37,390.31a3.6,3.6 0 1,0 7.2,0a3.6,3.6 0 1,0 -7.2,0M209.94,389.21a3.6,3.6 0 1,0 7.2,0a3.6,3.6 0 1,0 -7.2,0M211.48,388.16a3.6,3.6 0 1,0 7.2,0a3.6,3.6 0 1,0 -7.2,0M212.98,387.17a3.6,3.6 0 1,0 7.2,0a3.6,3.6 0 1,0 -7.2,0M214.45,386.23a3.6,3.6 0 1,0 7.2,0a3.6,3.6 0 1,0 -7.2,0M215.89,385.33a3.6,3.6 0 1,0 7.2,0a3.6,3.6 0 1,0 -7.2,0M217.30,384.46a3.6,3.6 0 1,0 7.2,0a3.6,3.6 0 1,0 -7.2,0M218.69,383.62a3.6,3.6 0 1,0 7.2,0a3.6,3.6 0 1,0 -7.2,0M220.05,382.81a3.6,3.6 0 1,0 7.2,0a3.6,3.6 0 1,0 -7.2,0M221.38,382.03a3.6,3.6 0 1,0 7.2,0a3.6,3.6 0 1,0 -7.2,0M222.70,381.26a3.6,3.6 0 1,0 7.2,0a3.6,3.6 0 1,0 -7.2,0M223.99,380.51a3.6,3.6 0 1,0 7.2,0a3.6,3.6 0 1,0 -7.2,0M225.26,379.78a3.6,3.6 0 1,0 7.2,0a3.6,3.6 0 1,0 -7.2,0M226.51,379.07a3.6,3.6 0 1,0 7.2,0a3.6,3.6 0 1,0 -7.2,0M227.74,378.37a3.6,3.6 0 1,0 7.2,0a3.6,3.6 0 1,0 -7.2,0M228.95,377.68a3.6,3.6 0 1,0 7.2,0a3.6,3.6 0 1,0 -7.2,0M230.14,377.00a3.6,3.6 0 1,0 7.2,0a3.6,3.6 0 1,0 -7.2,0M231.32,376.34a3.6,3.6 0 1,0 7.2,0a3.6,3.6 0 1,0 -7.2,0M232.48,375.68a3.6,3.6 0 1,0 7.2,0a3.6,3.6 0 1,0 -7.2,0M233.63,375.02a3.6,3.6 0 1,0 7.2,0a3.6,3.6 0 1,0 -7.2,0M234.76,374.38a3.6,3.6 0 1,0 7.2,0a3.6,3.6 0 1,0 -7.2,0M235.87,373.74a3.6,3.6 0 1,0 7.2,0a3.6,3.6 0 1,0 -7.2,0M236.97,373.11a3.6,3.6 0 1,0 7.2,0a3.6,3.6 0 1,0 -7.2,0M238.06,372.48a3.6,3.6 0 1,0 7.2,0a3.6,3.6 0 1,0 -7.2,0M239.14,371.86a3.6,3.6 0 1,0 7.2,0a3.6,3.6 0 1,0 -7.2,0M240.20,371.25a3.6,3.6 0 1,0 7.2,0a3.6,3.6 0 1,0 -7.2,0M241.25,370.63a3.6,3.6 0 1,0 7.2,0a3.6,3.6 0 1,0 -7.2,0M242.29,370.03a3.6,3.6 0 1,0 7.2,0a3.6,3.6 0 1,0 -7.2,0M243.31,369.42a3.6,3.6 0 1,0 7.2,0a3.6,3.6 0 1,0 -7.2,0M244.33,368.82a3.6,3.6 0 1,0 7.2,0a3.6,3.6 0 1,0 -7.2,0M245.33,368.22a3.6,3.6 0 1,0 7.2,0a3.6,3.6 0 1,0 -7.2,0M246.33,367.62a3.6,3.6 0 1,0 7.2,0a3.6,3.6 0 1,0 -7.2,0M247.31,367.03a3.6,3.6 0 1,0 7.2,0a3.6,3.6 0 1,0 -7.2,0M248.29,366.43a3.6,3.6 0 1,0 7.2,0a3.6,3.6 0 1,0 -7.2,0M249.25,365.84a3.6,3.6 0 1,0 7.2,0a3.6,3.6 0 1,0 -7.2,0M250.21,365.25a3.6,3.6 0 1,0 7.2,0a3.6,3.6 0 1,0 -7.2,0M251.15,364.67a3.6,3.6 0 1,0 7.2,0a3.6,3.6 0 1,0 -7.2,0M252.09,364.08a3.6,3.6 0 1,0 7.2,0a3.6,3.6 0 1,0 -7.2,0M253.02,363.49a3.6,3.6 0 1,0 7.2,0a3.6,3.6 0 1,0 -7.2,0M253.94,362.91a3.6,3.6 0 1,0 7.2,0a3.6,3.6 0 1,0 -7.2,0M254.85,362.32a3.6,3.6 0 1,0 7.2,0a3.6,3.6 0 1,0 -7.2,0M255.76,361.74a3.6,3.6 0 1,0 7.2,0a3.6,3.6 0 1,0 -7.2,0M256.65,361.15a3.6,3.6 0 1,0 7.2,0a3.6,3.6 0 1,0 -7.2,0M257.54,360.57a3.6,3.6 0 1,0 7.2,0a3.6,3.6 0 1,0 -7.2,0M258.42,359.99a3.6,3.6 0 1,0 7.2,0a3.6,3.6 0 1,0 -7.2,0M259.29,359.40a3.6,3.6 0 1,0 7.2,0a3.6,3.6 0 1,0 -7.2,0M260.16,358.82a3.6,3.6 0 1,0 7.2,0a3.6,3.6 0 1,0 -7.2,0M261.02,358.23a3.6,3.6 0 1,0 7.2,0a3.6,3.6 0 1,0 -7.2,0M261.87,357.65a3.6,3.6 0 1,0 7.2,0a3.6,3.6 0 1,0 -7.2,0M262.71,357.06a3.6,3.6 0 1,0 7.2,0a3.6,3.6 0 1,0 -7.2,0M263.55,356.48a3.6,3.6 0 1,0 7.2,0a3.6,3.6 0 1,0 -7.2,0M264.38,355.90a3.6,3.6 0 1,0 7.2,0a3.6,3.6 0 1,0 -7.2,0M265.21,355.32a3.6,3.6 0 1,0 7.2,0a3.6,3.6 0 1,0 -7.2,0M266.02,354.74a3.6,3.6 0 1,0 7.2,0a3.6,3.6 0 1,0 -7.2,0M266.84,354.16a3.6,3.6 0 1,0 7.2,0a3.6,3.6 0 1,0 -7.2,0M267.64,353.59a3.6,3.6 0 1,0 7.2,0a3.6,3.6 0 1,0 -7.2,0M268.44,353.01a3.6,3.6 0 1,0 7.2,0a3.6,3.6 0 1,0 -7.2,0M269.23,352.44a3.6,3.6 0 1,0 7.2,0a3.6,3.6 0 1,0 -7.2,0M270.02,351.88a3.6,3.6 0 1,0 7.2,0a3.6,3.6 0 1,0 -7.2,0M270.80,351.32a3.6,3.6 0 1,0 7.2,0a3.6,3.6 0 1,0 -7.2,0M271.58,350.76a3.6,3.6 0 1,0 7.2,0a3.6,3.6 0 1,0 -7.2,0M272.35,350.21a3.6,3.6 0 1,0 7.2,0a3.6,3.6 0 1,0 -7.2,0M273.11,349.66a3.6,3.6 0 1,0 7.2,0a3.6,3.6 0 1,0 -7.2,0M273.87,349.11a3.6,3.6 0 1,0 7.2,0a3.6,3.6 0 1,0 -7.2,0M274.62,348.57a3.6,3.6 0 1,0 7.2,0a3.6,3.6 0 1,0 -7.2,0M275.37,348.03a3.6,3.6 0 1,0 7.2,0a3.6,3.6 0 1,0 -7.2,0M276.11,347.50a3.6,3.6 0 1,0 7.2,0a3.6,3.6 0 1,0 -7.2,0M276.85,346.98a3.6,3.6 0 1,0 7.2,0a3.6,3.6 0 1,0 -7.2,0M277.58,346.46a3.6,3.6 0 1,0 7.2,0a3.6,3.6 0 1,0 -7.2,0M278.30,345.94a3.6,3.6 0 1,0 7.2,0a3.6,3.6 0 1,0 -7.2,0M279.02,345.43a3.6,3.6 0 1,0 7.2,0a3.6,3.6 0 1,0 -7.2,0M279.74,344.93a3.6,3.6 0 1,0 7.2,0a3.6,3.6 0 1,0 -7.2,0M280.45,344.43a3.6,3.6 0 1,0 7.2,0a3.6,3.6 0 1,0 -7.2,0M281.15,343.94a3.6,3.6 0 1,0 7.2,0a3.6,3.6 0 1,0 -7.2,0M281.85,343.45a3.6,3.6 0 1,0 7.2,0a3.6,3.6 0 1,0 -7.2,0M282.55,342.97a3.6,3.6 0 1,0 7.2,0a3.6,3.6 0 1,0 -7.2,0M283.23,342.50a3.6,3.6 0 1,0 7.2,0a3.6,3.6 0 1,0 -7.2,0M283.92,342.03a3.6,3.6 0 1,0 7.2,0a3.6,3.6 0 1,0 -7.2,0M284.60,341.58a3.6,3.6 0 1,0 7.2,0a3.6,3.6 0 1,0 -7.2,0M285.27,341.12a3.6,3.6 0 1,0 7.2,0a3.6,3.6 0 1,0 -7.2,0M285.94,340.68a3.6,3.6 0 1,0 7.2,0a3.6,3.6 0 1,0 -7.2,0M286.61,340.24a3.6,3.6 0 1,0 7.2,0a3.6,3.6 0 1,0 -7.2,0M287.27,339.80a3.6,3.6 0 1,0 7.2,0a3.6,3.6 0 1,0 -7.2,0M287.92,339.38a3.6,3.6 0 1,0 7.2,0a3.6,3.6 0 1,0 -7.2,0M288.57,338.96a3.6,3.6 0 1,0 7.2,0a3.6,3.6 0 1,0 -7.2,0M289.21,338.55a3.6,3.6 0 1,0 7.2,0a3.6,3.6 0 1,0 -7.2,0M289.86,338.15a3.6,3.6 0 1,0 7.2,0a3.6,3.6 0 1,0 -7.2,0M290.49,337.75a3.6,3.6 0 1,0 7.2,0a3.6,3.6 0 1,0 -7.2,0M291.12,337.36a3.6,3.6 0 1,0 7.2,0a3.6,3.6 0 1,0 -7.2,0M291.75,336.98a3.6,3.6 0 1,0 7.2,0a3.6,3.6 0 1,0 -7.2,0M292.37,336.60a3.6,3.6 0 1,0 7.2,0a3.6,3.6 0 1,0 -7.2,0M292.98,336.24a3.6,3.6 0 1,0 7.2,0a3.6,3.6 0 1,0 -7.2,0M293.60,335.88a3.6,3.6 0 1,0 7.2,0a3.6,3.6 0 1,0 -7.2,0M294.20,335.53a3.6,3.6 0 1,0 7.2,0a3.6,3.6 0 1,0 -7.2,0M294.81,335.18a3.6,3.6 0 1,0 7.2,0a3.6,3.6 0 1,0 -7.2,0M295.40,334.84a3.6,3.6 0 1,0 7.2,0a3.6,3.6 0 1,0 -7.2,0M296.00,334.51a3.6,3.6 0 1,0 7.2,0a3.6,3.6 0 1,0 -7.2,0M296.58,334.19a3.6,3.6 0 1,0 7.2,0a3.6,3.6 0 1,0 -7.2,0M297.17,333.88a3.6,3.6 0 1,0 7.2,0a3.6,3.6 0 1,0 -7.2,0M297.75,333.57a3.6,3.6 0 1,0 7.2,0a3.6,3.6 0 1,0 -7.2,0M298.32,333.27a3.6,3.6 0 1,0 7.2,0a3.6,3.6 0 1,0 -7.2,0M298.89,332.97a3.6,3.6 0 1,0 7.2,0a3.6,3.6 0 1,0 -7.2,0M299.46,332.69a3.6,3.6 0 1,0 7.2,0a3.6,3.6 0 1,0 -7.2,0M300.02,332.41a3.6,3.6 0 1,0 7.2,0a3.6,3.6 0 1,0 -7.2,0M300.57,332.14a3.6,3.6 0 1,0 7.2,0a3.6,3.6 0 1,0 -7.2,0M301.12,331.88a3.6,3.6 0 1,0 7.2,0a3.6,3.6 0 1,0 -7.2,0M301.67,331.62a3.6,3.6 0 1,0 7.2,0a3.6,3.6 0 1,0 -7.2,0M302.21,331.37a3.6,3.6 0 1,0 7.2,0a3.6,3.6 0 1,0 -7.2,0M302.75,331.13a3.6,3.6 0 1,0 7.2,0a3.6,3.6 0 1,0 -7.2,0M303.28,330.90a3.6,3.6 0 1,0 7.2,0a3.6,3.6 0 1,0 -7.2,0M303.81,330.67a3.6,3.6 0 1,0 7.2,0a3.6,3.6 0 1,0 -7.2,0M304.34,330.45a3.6,3.6 0 1,0 7.2,0a3.6,3.6 0 1,0 -7.2,0M304.86,330.24a3.6,3.6 0 1,0 7.2,0a3.6,3.6 0 1,0 -7.2,0M305.37,330.03a3.6,3.6 0 1,0 7.2,0a3.6,3.6 0 1,0 -7.2,0M305.88,329.83a3.6,3.6 0 1,0 7.2,0a3.6,3.6 0 1,0 -7.2,0M306.39,329.64a3.6,3.6 0 1,0 7.2,0a3.6,3.6 0 1,0 -7.2,0M306.89,329.45a3.6,3.6 0 1,0 7.2,0a3.6,3.6 0 1,0 -7.2,0M307.38,329.27a3.6,3.6 0 1,0 7.2,0a3.6,3.6 0 1,0 -7.2,0M307.88,329.10a3.6,3.6 0 1,0 7.2,0a3.6,3.6 0 1,0 -7.2,0M308.37,328.94a3.6,3.6 0 1,0 7.2,0a3.6,3.6 0 1,0 -7.2,0M308.85,328.78a3.6,3.6 0 1,0 7.2,0a3.6,3.6 0 1,0 -7.2,0M309.33,328.63a3.6,3.6 0 1,0 7.2,0a3.6,3.6 0 1,0 -7.2,0M309.80,328.48a3.6,3.6 0 1,0 7.2,0a3.6,3.6 0 1,0 -7.2,0M310.27,328.34a3.6,3.6 0 1,0 7.2,0a3.6,3.6 0 1,0 -7.2,0M310.74,328.21a3.6,3.6 0 1,0 7.2,0a3.6,3.6 0 1,0 -7.2,0M311.20,328.08a3.6,3.6 0 1,0 7.2,0a3.6,3.6 0 1,0 -7.2,0M311.66,327.96a3.6,3.6 0 1,0 7.2,0a3.6,3.6 0 1,0 -7.2,0M312.11,327.84a3.6,3.6 0 1,0 7.2,0a3.6,3.6 0 1,0 -7.2,0M312.55,327.73a3.6,3.6 0 1,0 7.2,0a3.6,3.6 0 1,0 -7.2,0M313.00,327.63a3.6,3.6 0 1,0 7.2,0a3.6,3.6 0 1,0 -7.2,0M313.44,327.53a3.6,3.6 0 1,0 7.2,0a3.6,3.6 0 1,0 -7.2,0M313.87,327.44a3.6,3.6 0 1,0 7.2,0a3.6,3.6 0 1,0 -7.2,0M314.30,327.35a3.6,3.6 0 1,0 7.2,0a3.6,3.6 0 1,0 -7.2,0M314.73,327.27a3.6,3.6 0 1,0 7.2,0a3.6,3.6 0 1,0 -7.2,0M315.15,327.19a3.6,3.6 0 1,0 7.2,0a3.6,3.6 0 1,0 -7.2,0M315.57,327.12a3.6,3.6 0 1,0 7.2,0a3.6,3.6 0 1,0 -7.2,0M315.98,327.05a3.6,3.6 0 1,0 7.2,0a3.6,3.6 0 1,0 -7.2,0" fill="#008080"/>
<path d="M65.51,500.84 L92.91,495.31 L109.08,489.71 L120.66,484.10 L129.72,478.48 L137.19,472.83 L143.56,467.27 L149.13,461.84 L154.08,456.53 L158.55,451.35 L162.63,446.52 L166.39,441.89 L169.87,437.50 L173.12,433.35 L176.18,429.44 L179.06,425.77 L181.79,422.31 L184.38,419.06 L186.86,416.02 L189.22,413.17 L191.49,410.50 L193.67,408.00 L195.77,405.67 L197.80,403.50 L199.76,401.48 L201.66,399.59 L203.50,397.85 L205.29,396.24 L207.02,394.75 L208.72,393.37 L210.37,392.08 L211.97,390.89 L213.54,389.76 L215.08,388.70 L216.58,387.69 L218.05,386.73 L219.49,385.81 L220.90,384.93 L222.29,384.08 L223.65,383.26 L224.98,382.46 L226.30,381.68 L227.59,380.92 L228.86,380.19 L230.11,379.46 L231.34,378.76 L232.55,378.06 L233.74,377.38 L234.92,376.71 L236.08,376.04 L237.23,375.39 L238.36,374.74 L239.47,374.10 L240.57,373.46 L241.66,372.83 L242.74,372.21 L243.80,371.59 L244.85,370.97 L245.89,370.36 L246.91,369.75 L247.93,369.15 L248.93,368.54 L249.93,367.95 L250.91,367.35 L251.89,366.75 L252.85,366.16 L253.81,365.57 L254.75,364.98 L255.69,364.39 L256.62,363.80 L257.54,363.21 L258.45,362.63 L259.36,362.04 L260.25,361.45 L261.14,360.87 L262.02,360.28 L262.89,359.69 L263.76,359.11 L264.62,358.52 L265.47,357.93 L266.31,357.35 L267.15,356.76 L267.98,356.18 L268.81,355.59 L269.62,355.01 L270.44,354.43 L271.24,353.85 L272.04,353.28 L272.83,352.70 L273.62,352.13 L274.40,351.57 L275.18,351.01 L275.95,350.45 L276.71,349.89 L277.47,349.34 L278.22,348.80 L278.97,348.26 L279.71,347.72 L280.45,347.19 L281.18,346.67 L281.90,346.15 L282.62,345.63 L283.34,345.12 L284.05,344.62 L284.75,344.12 L285.45,343.63 L286.15,343.15 L286.83,342.67 L287.52,342.20 L288.20,341.74 L288.87,341.28 L289.54,340.83 L290.21,340.39 L290.87,339.95 L291.52,339.52 L292.17,339.10 L292.81,338.68 L293.46,338.27 L294.09,337.87 L294.72,337.48 L295.35,337.09 L295.97,336.71 L296.58,336.34 L297.20,335.98 L297.80,335.62 L298.41,335.27 L299.00,334.93 L299.60,334.60 L300.18,334.27 L300.77,333.95 L301.35,333.64 L301.92,333.34 L302.49,333.04 L303.06,332.75 L303.62,332.47 L304.17,332.20 L304.72,331.93 L305.27,331.67 L305.81,331.42 L306.35,331.18 L306.88,330.94 L307.41,330.71 L307.94,330.49 L308.46,330.27 L308.97,330.06 L309.48,329.86 L309.99,329.67 L310.49,329.48 L310.98,329.30 L311.48,329.12 L311.97,328.96 L312.45,328.80 L312.93,328.64 L313.40,328.49 L313.87,328.35 L314.34,328.22 L314.80,328.09 L315.26,327.96 L315.71,327.85 L316.15,327.74 L316.60,327.63 L317.04,327.53 L317.47,327.44 L317.90,327.35 L318.33,327.27 L318.75,327.19 L319.17,327.12 L319.58,327.05" fill="none" stroke="#ff0000" stroke-width="2.86" stroke-linejoin="round" stroke-linecap="square"/>
<path d="M61.91,500.84a3.6,3.6 0 1,0 7.2,0a3.6,3.6 0 1,0 -7.2,0M89.31,495.31a3.6,3.6 0 1,0 7.2,0a3.6,3.6 0 1,0 -7.2,0M105.48,489.71a3.6,3.6 0 1,0 7.2,0a3.6,3.6 0 1,0 -7.2,0M117.06,484.10a3.6,3.6 0 1,0 7.2,0a3.6,3.6 0 1,0 -7.2,0M126.12,478.48a3.6,3.6 0 1,0 7.2,0a3.6,3.6 0 1,0 -7.2,0M133.59,472.83a3.6,3.6 0 1,0 7.2,0a3.6,3.6 0 1,0 -7.2,0M139.96,467.27a3.6,3.6 0 1,0 7.2,0a3.6,3.6 0 1,0 -7.2,0M145.53,461.84a3.6,3.6 0 1,0 7.2,0a3.6,3.6 0 1,0 -7.2,0M150.48,456.53a3.6,3.6 0 1,0 7.2,0a3.6,3.6 0 1,0 -7.2,0M154.95,451.35a3.6,3.6 0 1,0 7.2,0a3.6,3.6 0 1,0 -7.2,0M159.03,446.52a3.6,3.6 0 1,0 7.2,0a3.6,3.6 0 1,0 -7.2,0M162.79,441.89a3.6,3.6 0 1,0 7.2,0a3.6,3.6 0 1,0 -7.2,0M166.27,437.50a3.6,3.6 0 1,0 7.2,0a3.6,3.6 0 1,0 -7.2,0M169.52,433.35a3.6,3.6 0 1,0 7.2,0a3.6,3.6 0 1,0 -7.2,0M172.58,429.44a3.6,3.6 0 1,0 7.2,0a3.6,3.6 0 1,0 -7.2,0M175.46,425.77a3.6,3.6 0 1,0 7.2,0a3.6,3.6 0 1,0 -7.2,0M178.19,422.31a3.6,3.6 0 1,0 7.2,0a3.6,3.6 0 1,0 -7.2,0M180.78,419.06a3.6,3.6 0 1,0 7.2,0a3.6,3.6 0 1,0 -7.2,0M183.26,416.02a3.6,3.6 0 1,0 7.2,0a3.6,3.6 0 1,0 -7.2,0M185.62,413.17a3.6,3.6 0 1,0 7.2,0a3.6,3.6 0 1,0 -7.2,0M187.89,410.50a3.6,3.6 0 1,0 7.2,0a3.6,3.6 0 1,0 -7.2,0M190.07,408.00a3.6,3.6 0 1,0 7.2,0a3.6,3.6 0 1,0 -7.2,0M192.17,405.67a3.6,3.6 0 1,0 7.2,0a3.6,3.6 0 1,0 -7.2,0M194.20,403.50a3.6,3.6 0 1,0 7.2,0a3.6,3.6 0 1,0 -7.2,0M196.16,401.48a3.6,3.6 0 1,0 7.2,0a3.6,3.6 0 1,0 -7.2,0M198.06,399.59a3.6,3.6 0 1,0 7.2,0a3.6,3.6 0 1,0 -7.2,0M199.90,397.85a3.6,3.6 0 1,0 7.2,0a3.6,3.6 0 1,0 -7.2,0M201.69,396.24a3.6,3.6 0 1,0 7.2,0a3.6,3.6 0 1,0 -7.2,0M203.42,394.75a3.6,3.6 0 1,0 7.2,0a3.6,3.6 0 1,0 -7.2,0M205.12,393.37a3.6,3.6 0 1,0 7.2,0a3.6,3.6 0 1,0 -7.2,0M206.77,392.08a3.6,3.6 0 1,0 7.2,0a3.6,3.6 0 1,0 -7.2,0M208.37,390.89a3.6,3.6 0 1,0 7.2,0a3.6,3.6 0 1,0 -7.2,0M209.94,389.76a3.6,3.6 0 1,0 7.2,0a3.6,3.6 0 1,0 -7.2,0M211.48,388.70a3.6,3.6 0 1,0 7.2,0a3.6,3.6 0 1,0 -7.2,0M212.98,387.69a3.6,3.6 0 1,0 7.2,0a3.6,3.6 0 1,0 -7.2,0M214.45,386.73a3.6,3.6 0 1,0 7.2,0a3.6,3.6 0 1,0 -7.2,0M215.89,385.81a3.6,3.6 0 1,0 7.2,0a3.6,3.6 0 1,0 -7.2,0M217.30,384.93a3.6,3.6 0 1,0 7.2,0a3.6,3.6 0 1,0 -7.2,0M218.69,384.08a3.6,3.6 0 1,0 7.2,0a3.6,3.6 0 1,0 -7.2,0M220.05,383.26a3.6,3.6 0 1,0 7.2,0a3.6,3.6 0 1,0 -7.2,0M221.38,382.46a3.6,3.6 0 1,0 7.2,0a3.6,3.6 0 1,0 -7.2,0M222.70,381.68a3.6,3.6 0 1,0 7.2,0a3.6,3.6 0 1,0 -7.2,0M223.99,380.92a3.6,3.6 0 1,0 7.2,0a3.6,3.6 0 1,0 -7.2,0M225.26,380.19a3.6,3.6 0 1,0 7.2,0a3.6,3.6 0 1,0 -7.2,0M226.51,379.46a3.6,3.6 0 1,0 7.2,0a3.6,3.6 0 1,0 -7.2,0M227.74,378.76a3.6,3.6 0 1,0 7.2,0a3.6,3.6 0 1,0 -7.2,0M228.95,378.06a3.6,3.6 0 1,0 7.2,0a3.6,3.6 0 1,0 -7.2,0M230.14,377.38a3.6,3.6 0 1,0 7.2,0a3.6,3.6 0 1,0 -7.2,0M231.32,376.71a3.6,3.6 0 1,0 7.2,0a3.6,3.6 0 1,0 -7.2,0M232.48,376.04a3.6,3.6 0 1,0 7.2,0a3.6,3.6 0 1,0 -7.2,0M233.63,375.39a3.6,3.6 0 1,0 7.2,0a3.6,3.6 0 1,0 -7.2,0M234.76,374.74a3.6,3.6 0 1,0 7.2,0a3.6,3.6 0 1,0 -7.2,0M235.87,374.10a3.6,3.6 0 1,0 7.2,0a3.6,3.6 0 1,0 -7.2,0M236.97,373.46a3.6,3.6 0 1,0 7.2,0a3.6,3.6 0 1,0 -7.2,0M238.06,372.83a3.6,3.6 0 1,0 7.2,0a3.6,3.6 0 1,0 -7.2,0M239.14,372.21a3.6,3.6 0 1,0 7.2,0a3.6,3.6 0 1,0 -7.2,0M240.20,371.59a3.6,3.6 0 1,0 7.2,0a3.6,3.6 0 1,0 -7.2,0M241.25,370.97a3.6,3.6 0 1,0 7.2,0a3.6,3.6 0 1,0 -7.2,0M242.29,370.36a3.6,3.6 0 1,0 7.2,0a3.6,3.6 0 1,0 -7.2,0M243.31,369.75a3.6,3.6 0 1,0 7.2,0a3.6,3.6 0 1,0 -7.2,0M244.33,369.15a3.6,3.6 0 1,0 7.2,0a3.6,3.6 0 1,0 -7.2,0M245.33,368.54a3.6,3.6 0 1,0 7.2,0a3.6,3.6 0 1,0 -7.2,0M246.33,367.95a3.6,3.6 0 1,0 7.2,0a3.6,3.6 0 1,0 -7.2,0M247.31,367.35a3.6,3.6 0 1,0 7.2,0a3.6,3.6 0 1,0 -7.2,0M248.29,366.75a3.6,3.6 0 1,0 7.2,0a3.6,3.6 0 1,0 -7.2,0M249.25,366.16a3.6,3.6 0 1,0 7.2,0a3.6,3.6 0 1,0 -7.2,0M250.21,365.57a3.6,3.6 0 1,0 7.2,0a3.6,3.6 0 1,0 -7.2,0M251.15,364.98a3.6,3.6 0 1,0 7.2,0a3.6,3.6 0 1,0 -7.2,0M252.09,364.39a3.6,3.6 0 1,0 7.2,0a3.6,3.6 0 1,0 -7.2,0M253.02,363.80a3.6,3.6 0 1,0 7.2,0a3.6,3.6 0 1,0 -7.2,0M253.94,363.21a3.6,3.6 0 1,0 7.2,0a3.6,3.6 0 1,0 -7.2,0M254.85,362.63a3.6,3.6 0 1,0 7.2,0a3.6,3.6 0 1,0 -7.2,0M255.76,362.04a3.6,3.6 0 1,0 7.2,0a3.6,3.6 0 1,0 -7.2,0M256.65,361.45a3.6,3.6 0 1,0 7.2,0a3.6,3.6 0 1,0 -7.2,0M257.54,360.87a3.6,3.6 0 1,0 7.2,0a3.6,3.6 0 1,0 -7.2,0M258.42,360.28a3.6,3.6 0 1,0 7.2,0a3.6,3.6 0 1,0 -7.2,0M259.29,359.69a3.6,3.6 0 1,0 7.2,0a3.6,3.6 0 1,0 -7.2,0M260.16,359.11a3.6,3.6 0 1,0 7.2,0a3.6,3.6 0 1,0 -7.2,0M261.02,358.52a3.6,3.6 0 1,0 7.2,0a3.6,3.6 0 1,0 -7.2,0M261.87,357.93a3.6,3.6 0 1,0 7.2,0a3.6,3.6 0 1,0 -7.2,0M262.71,357.35a3.6,3.6 0 1,0 7.2,0a3.6,3.6 0 1,0 -7.2,0M263.55,356.76a3.6,3.6 0 1,0 7.2,0a3.6,3.6 0 1,0 -7.2,0M264.38,356.18a3.6,3.6 0 1,0 7.2,0a3.6,3.6 0 1,0 -7.2,0M265.21,355.59a3.6,3.6 0 1,0 7.2,0a3.6,3.6 0 1,0 -7.2,0M266.02,355.01a3.6,3.6 0 1,0 7.2,0a3.6,3.6 0 1,0 -7.2,0M266.84,354.43a3.6,3.6 0 1,0 7.2,0a3.6,3.6 0 1,0 -7.2,0M267.64,353.85a3.6,3.6 0 1,0 7.2,0a3.6,3.6 0 1,0 -7.2,0M268.44,353.28a3.6,3.6 0 1,0 7.2,0a3.6,3.6 0 1,0 -7.2,0M269.23,352.70a3.6,3.6 0 1,0 7.2,0a3.6,3.6 0 1,0 -7.2,0M270.02,352.13a3.6,3.6 0 1,0 7.2,0a3.6,3.6 0 1,0 -7.2,0M270.80,351.57a3.6,3.6 0 1,0 7.2,0a3.6,3.6 0 1,0 -7.2,0M271.58,351.01a3.6,3.6 0 1,0 7.2,0a3.6,3.6 0 1,0 -7.2,0M272.35,350.45a3.6,3.6 0 1,0 7.2,0a3.6,3.6 0 1,0 -7.2,0M273.11,349.89a3.6,3.6 0 1,0 7.2,0a3.6,3.6 0 1,0 -7.2,0M273.87,349.34a3.6,3.6 0 1,0 7.2,0a3.6,3.6 0 1,0 -7.2,0M274.62,348.80a3.6,3.6 0 1,0 7.2,0a3.6,3.6 0 1,0 -7.2,0M275.37,348.26a3.6,3.6 0 1,0 7.2,0a3.6,3.6 0 1,0 -7.2,0M276.11,347.72a3.6,3.6 0 1,0 7.2,0a3.6,3.6 0 1,0 -7.2,0M276.85,347.19a3.6,3.6 0 1,0 7.2,0a3.6,3.6 0 1,0 -7.2,0M277.58,346.67a3.6,3.6 0 1,0 7.2,0a3.6,3.6 0 1,0 -7.2,0M278.30,346.15a3.6,3.6 0 1,0 7.2,0a3.6,3.6 0 1,0 -7.2,0M279.02,345.63a3.6,3.6 0 1,0 7.2,0a3.6,3.6 0 1,0 -7.2,0M279.74,345.12a3.6,3.6 0 1,0 7.2,0a3.6,3.6 0 1,0 -7.2,0M280.45,344.62a3.6,3.6 0 1,0 7.2,0a3.6,3.6 0 1,0 -7.2,0M281.15,344.12a3.6,3.6 0 1,0 7.2,0a3.6,3.6 0 1,0 -7.2,0M281.85,343.63a3.6,3.6 0 1,0 7.2,0a3.6,3.6 0 1,0 -7.2,0M282.55,343.15a3.6,3.6 0 1,0 7.2,0a3.6,3.6 0 1,0 -7.2,0M283.23,342.67a3.6,3.6 0 1,0 7.2,0a3.6,3.6 0 1,0 -7.2,0M283.92,342.20a3.6,3.6 0 1,0 7.2,0a3.6,3.6 0 1,0 -7.2,0M284.60,341.74a3.6,3.6 0 1,0 7.2,0a3.6,3.6 0 1,0 -7.2,0M285.27,341.28a3.6,3.6 0 1,0 7.2,0a3.6,3.6 0 1,0 -7.2,0M285.94,340.83a3.6,3.6 0 1,0 7.2,0a3.6,3.6 0 1,0 -7.2,0M286.61,340.39a3.6,3.6 0 1,0 7.2,0a3.6,3.6 0 1,0 -7.2,0M287.27,339.95a3.6,3.6 0 1,0 7.2,0a3.6,3.6 0 1,0 -7.2,0M287.92,339.52a3.6,3.6 0 1,0 7.2,0a3.6,3.6 0 1,0 -7.2,0M288.57,339.10a3.6,3.6 0 1,0 7.2,0a3.6,3.6 0 1,0 -7.2,0M289.21,338.68a3.6,3.6 0 1,0 7.2,0a3.6,3.6 0 1,0 -7.2,0M289.86,338.27a3.6,3.6 0 1,0 7.2,0a3.6,3.6 0 1,0 -7.2,0M290.49,337.87a3.6,3.6 0 1,0 7.2,0a3.6,3.6 0 1,0 -7.2,0M291.12,337.48a3.6,3.6 0 1,0 7.2,0a3.6,3.6 0 1,0 -7.2,0M291.75,337.09a3.6,3.6 0 1,0 7.2,0a3.6,3.6 0 1,0 -7.2,0M292.37,336.71a3.6,3.6 0 1,0 7.2,0a3.6,3.6 0 1,0 -7.2,0M292.98,336.34a3.6,3.6 0 1,0 7.2,0a3.6,3.6 0 1,0 -7.2,0M293.60,335.98a3.6,3.6 0 1,0 7.2,0a3.6,3.6 0 1,0 -7.2,0M294.20,335.62a3.6,3.6 0 1,0 7.2,0a3.6,3.6 0 1,0 -7.2,0M294.81,335.27a3.6,3.6 0 1,0 7.2,0a3.6,3.6 0 1,0 -7.2,0M295.40,334.93a3.6,3.6 0 1,0 7.2,0a3.6,3.6 0 1,0 -7.2,0M296.00,334.60a3.6,3.6 0 1,0 7.2,0a3.6,3.6 0 1,0 -7.2,0M296.58,334.27a3.6,3.6 0 1,0 7.2,0a3.6,3.6 0 1,0 -7.2,0M297.17,333.95a3.6,3.6 0 1,0 7.2,0a3.6,3.6 0 1,0 -7.2,0M297.75,333.64a3.6,3.6 0 1,0 7.2,0a3.6,3.6 0 1,0 -7.2,0M298.32,333.34a3.6,3.6 0 1,0 7.2,0a3.6,3.6 0 1,0 -7.2,0M298.89,333.04a3.6,3.6 0 1,0 7.2,0a3.6,3.6 0 1,0 -7.2,0M299.46,332.75a3.6,3.6 0 1,0 7.2,0a3.6,3.6 0 1,0 -7.2,0M300.02,332.47a3.6,3.6 0 1,0 7.2,0a3.6,3.6 0 1,0 -7.2,0M300.57,332.20a3.6,3.6 0 1,0 7.2,0a3.6,3.6 0 1,0 -7.2,0M301.12,331.93a3.6,3.6 0 1,0 7.2,0a3.6,3.6 0 1,0 -7.2,0M301.67,331.67a3.6,3.6 0 1,0 7.2,0a3.6,3.6 0 1,0 -7.2,0M302.21,331.42a3.6,3.6 0 1,0 7.2,0a3.6,3.6 0 1,0 -7.2,0M302.75,331.18a3.6,3.6 0 1,0 7.2,0a3.6,3.6 0 1,0 -7.2,0M303.28,330.94a3.6,3.6 0 1,0 7.2,0a3.6,3.6 0 1,0 -7.2,0M303.81,330.71a3.6,3.6 0 1,0 7.2,0a3.6,3.6 0 1,0 -7.2,0M304.34,330.49a3.6,3.6 0 1,0 7.2,0a3.6,3.6 0 1,0 -7.2,0M304.86,330.27a3.6,3.6 0 1,0 7.2,0a3.6,3.6 0 1,0 -7.2,0M305.37,330.06a3.6,3.6 0 1,0 7.2,0a3.6,3.6 0 1,0 -7.2,0M305.88,329.86a3.6,3.6 0 1,0 7.2,0a3.6,3.6 0 1,0 -7.2,0M306.39,329.67a3.6,3.6 0 1,0 7.2,0a3.6,3.6 0 1,0 -7.2,0M306.89,329.48a3.6,3.6 0 1,0 7.2,0a3.6,3.6 0 1,0 -7.2,0M307.38,329.30a3.6,3.6 0 1,0 7.2,0a3.6,3.6 0 1,0 -7.2,0M307.88,329.12a3.6,3.6 0 1,0 7.2,0a3.6,3.6 0 1,0 -7.2,0M308.37,328.96a3.6,3.6 0 1,0 7.2,0a3.6,3.6 0 1,0 -7.2,0M308.85,328.80a3.6,3.6 0 1,0 7.2,0a3.6,3.6 0 1,0 -7.2,0M309.33,328.64a3.6,3.6 0 1,0 7.2,0a3.6,3.6 0 1,0 -7.2,0M309.80,328.49a3.6,3.6 0 1,0 7.2,0a3.6,3.6 0 1,0 -7.2,0M310.27,328.35a3.6,3.6 0 1,0 7.2,0a3.6,3.6 0 1,0 -7.2,0M310.74,328.22a3.6,3.6 0 1,0 7.2,0a3.6,3.6 0 1,0 -7.2,0M311.20,328.09a3.6,3.6 0 1,0 7.2,0a3.6,3.6 0 1,0 -7.2,0M311.66,327.96a3.6,3.6 0 1,0 7.2,0a3.6,3.6 0 1,0 -7.2,0M312.11,327.85a3.6,3.6 0 1,0 7.2,0a3.6,3.6 0 1,0 -7.2,0M312.55,327.74a3.6,3.6 0 1,0 7.2,0a3.6,3.6 0 1,0 -7.2,0M313.00,327.63a3.6,3.6 0 1,0 7.2,0a3.6,3.6 0 1,0 -7.2,0M313.44,327.53a3.6,3.6 0 1,0 7.2,0a3.6,3.6 0 1,0 -7.2,0M313.87,327.44a3.6,3.6 0 1,0 7.2,0a3.6,3.6 0 1,0 -7.2,0M314.30,327.35a3.6,3.6 0 1,0 7.2,0a3.6,3.6 0 1,0 -7.2,0M314.73,327.27a3.6,3.6 0 1,0 7.2,0a3.6,3.6 0 1,0 -7.2,0M315.15,327.19a3.6,3.6 0 1,0 7.2,0a3.6,3.6 0 1,0 -7.2,0M315.57,327.12a3.6,3.6 0 1,0 7.2,0a3.6,3.6 0 1,0 -7.2,0M315.98,327.05a3.6,3.6 0 1,0 7.2,0a3.6,3.6 0 1,0 -7.2,0" fill="#ff0000"/>
<path d="M65.51,500.84 L92.91,495.31 L109.08,489.71 L120.66,484.10 L129.72,478.48 L137.19,472.83 L143.56,467.27 L149.13,461.84 L154.08,456.53 L158.55,451.35 L162.63,446.52 L166.39,441.89 L169.87,437.50 L173.12,433.35 L176.18,429.44 L179.06,425.77 L181.79,422.31 L184.38,419.06 L186.86,416.02 L189.22,413.17 L191.49,410.50 L193.67,408.00 L195.77,405.67 L197.80,403.50 L199.76,401.48 L201.66,399.59 L203.50,397.85 L205.29,396.24 L207.02,394.75 L208.72,393.37 L210.37,392.08 L211.97,390.89 L213.54,389.76 L215.08,388.70 L216.58,387.69 L218.05,386.73 L219.49,385.81 L220.90,384.93 L222.29,384.08 L223.65,383.26 L224.98,382.46 L226.30,381.68 L227.59,380.92 L228.86,380.19 L230.11,379.46 L231.34,378.76 L232.55,378.06 L233.74,377.38 L234.92,376.71 L236.08,376.04 L237.23,375.39 L238.36,374.74 L239.47,374.10 L240.57,373.46 L241.66,372.83 L242.74,372.21 L243.80,371.59 L244.85,370.97 L245.89,370.36 L246.91,369.75 L247.93,369.15 L248.93,368.54 L249.93,367.95 L250.91,367.35 L251.89,366.75 L252.85,366.16 L253.81,365.57 L254.75,364.98 L255.69,364.39 L256.62,363.80 L257.54,363.21 L258.45,362.63 L259.36,362.04 L260.25,361.45 L261.14,360.87 L262.02,360.28 L262.89,359.69 L263.76,359.11 L264.62,358.52 L265.47,357.93 L266.31,357.35 L267.15,356.76 L267.98,356.18 L268.81,355.59 L269.62,355.01 L270.44,354.43 L271.24,353.85 L272.04,353.28 L272.83,352.70 L273.62,352.13 L274.40,351.57 L275.18,351.01 L275.95,350.45 L276.71,349.89 L277.47,349.34 L278.22,348.80 L278.97,348.26 L279.71,347.72 L280.45,347.19 L281.18,346.67 L281.90,346.15 L282.62,345.63 L283.34,345.12 L284.05,344.62 L284.75,344.12 L285.45,343.63 L286.15,343.15 L286.83,342.67 L287.52,342.20 L288.20,341.74 L288.87,341.28 L289.54,340.83 L290.21,340.39 L290.87,339.95 L291.52,339.52 L292.17,339.10 L292.81,338.68 L293.46,338.27 L294.09,337.87 L294.72,337.48 L295.35,337.09 L295.97,336.71 L296.58,336.34 L297.20,335.98 L297.80,335.62 L298.41,335.27 L299.00,334.93 L299.60,334.60 L300.18,334.27 L300.77,333.95 L301.35,333.64 L301.92,333.34 L302.49,333.04 L303.06,332.75 L303.62,332.47 L304.17,332.20 L304.72,331.93 L305.27,331.67 L305.81,331.42 L306.35,331.18 L306.88,330.94 L307.41,330.71 L307.94,330.49 L308.46,330.27 L308.97,330.06 L309.48,329.86 L309.99,329.67 L310.49,329.48 L310.98,329.30 L311.48,329.12 L311.97,328.96 L312.45,328.80 L312.93,328.64 L313.40,328.49 L313.87,328.35 L314.34,328.22 L314.80,328.09 L315.26,327.96 L315.71,327.85 L316.15,327.74 L316.60,327.63 L317.04,327.53 L317.47,327.44 L317.90,327.35 L318.33,327.27 L318.75,327.19 L319.17,327.12 L319.58,327.05" fill="none" stroke="#000" stroke-width="2.86" stroke-linejoin="round" stroke-linecap="square"/></g>
<g clip-path="url(#c3)"><path d="M416.81,506.30 L444.21,506.30 L460.38,506.30 L471.96,506.30 L481.02,506.30 L488.49,506.30 L494.86,506.30 L500.43,506.30 L505.38,506.30 L509.85,506.30 L513.93,506.30 L517.69,506.30 L521.17,506.30 L524.42,506.30 L527.48,506.30 L530.36,506.30 L533.09,506.30 L535.68,506.30 L538.16,506.30 L540.52,506.30 L542.79,506.30 L544.97,506.30 L547.07,506.30 L549.10,506.30 L551.06,506.30 L552.96,506.30 L554.80,506.30 L556.59,506.30 L558.32,506.30 L560.02,506.30 L561.67,506.30 L563.27,506.30 L564.84,506.30 L566.38,506.30 L567.88,506.30 L569.35,506.30 L570.79,506.30 L572.20,355.35 L573.59,355.84 L574.95,356.36 L576.28,356.91 L577.60,357.48 L578.89,359.15 L580.16,360.81 L581.41,362.44 L582.64,364.02 L583.85,365.57 L585.04,367.09 L586.22,368.56 L587.38,369.99 L588.53,371.37 L589.66,372.72 L590.77,374.01 L591.87,375.27 L592.96,376.47 L594.04,377.64 L595.10,378.76 L596.15,379.79 L597.19,380.75 L598.21,381.69 L599.23,382.59 L600.23,383.47 L601.23,384.32 L602.21,385.14 L603.19,385.95 L604.15,386.73 L605.11,387.50 L606.05,388.24 L606.99,388.97 L607.92,389.68 L608.84,390.38 L609.75,391.07 L610.66,391.74 L611.55,392.41 L612.44,393.06 L613.32,393.70 L614.19,394.33 L615.06,394.96 L615.92,395.53 L616.77,396.07 L617.61,396.61 L618.45,397.14 L619.28,397.67 L620.11,398.20 L620.92,398.72 L621.74,399.24 L622.54,399.76 L623.34,400.28 L624.13,400.79 L624.92,401.31 L625.70,401.82 L626.48,402.33 L627.25,402.85 L628.01,403.36 L628.77,403.87 L629.52,404.39 L630.27,404.92 L631.01,405.52 L631.75,406.12 L632.48,406.72 L633.20,407.33 L633.92,407.93 L634.64,408.53 L635.35,409.13 L636.05,409.73 L636.75,410.34 L637.45,410.94 L638.13,411.55 L638.82,412.15 L639.50,412.76 L640.17,413.37 L640.84,413.99 L641.51,414.60 L642.17,415.22 L642.82,415.85 L643.47,416.48 L644.11,417.11 L644.76,417.75 L645.39,418.41 L646.02,419.08 L646.65,419.76 L647.27,420.45 L647.88,421.15 L648.50,421.85 L649.10,422.56 L649.71,423.27 L650.30,423.99 L650.90,424.73 L651.48,425.47 L652.07,426.21 L652.65,426.97 L653.22,427.73 L653.79,428.50 L654.36,429.28 L654.92,430.06 L655.47,430.84 L656.02,431.62 L656.57,432.39 L657.11,433.17 L657.65,433.94 L658.18,434.70 L658.71,435.49 L659.24,436.27 L659.76,437.03 L660.27,437.79 L660.78,438.54 L661.29,439.27 L661.79,439.99 L662.28,440.69 L662.78,441.38 L663.27,442.06 L663.75,442.71 L664.23,443.35 L664.70,443.97 L665.17,444.58 L665.64,445.16 L666.10,445.73 L666.56,446.28 L667.01,446.81 L667.45,447.32 L667.90,447.80 L668.34,448.27 L668.77,448.72 L669.20,449.15 L669.63,449.55 L670.05,449.94 L670.47,450.31 L670.88,450.65" fill="none" stroke="#0000ff" stroke-width="2.86" stroke-linejoin="round" stroke-linecap="square"/>
<path d="M413.21,506.30a3.6,3.6 0 1,0 7.2,0a3.6,3.6 0 1,0 -7.2,0M440.61,506.30a3.6,3.6 0 1,0 7.2,0a3.6,3.6 0 1,0 -7.2,0M456.78,506.30a3.6,3.6 0 1,0 7.2,0a3.6,3.6 0 1,0 -7.2,0M468.36,506.30a3.6,3.6 0 1,0 7.2,0a3.6,3.6 0 1,0 -7.2,0M477.42,506.30a3.6,3.6 0 1,0 7.2,0a3.6,3.6 0 1,0 -7.2,0M484.89,506.30a3.6,3.6 0 1,0 7.2,0a3.6,3.6 0 1,0 -7.2,0M491.26,506.30a3.6,3.6 0 1,0 7.2,0a3.6,3.6 0 1,0 -7.2,0M496.83,506.30a3.6,3.6 0 1,0 7.2,0a3.6,3.6 0 1,0 -7.2,0M501.78,506.30a3.6,3.6 0 1,0 7.2,0a3.6,3.6 0 1,0 -7.2,0M506.25,506.30a3.6,3.6 0 1,0 7.2,0a3.6,3.6 0 1,0 -7.2,0M510.33,506.30a3.6,3.6 0 1,0 7.2,0a3.6,3.6 0 1,0 -7.2,0M514.09,506.30a3.6,3.6 0 1,0 7.2,0a3.6,3.6 0 1,0 -7.2,0M517.57,506.30a3.6,3.6 0 1,0 7.2,0a3.6,3.6 0 1,0 -7.2,0M520.82,506.30a3.6,3.6 0 1,0 7.2,0a3.6,3.6 0 1,0 -7.2,0M523.88,506.30a3.6,3.6 0 1,0 7.2,0a3.6,3.6 0 1,0 -7.2,0M526.76,506.30a3.6,3.6 0 1,0 7.2,0a3.6,3.6 0 1,0 -7.2,0M529.49,506.30a3.6,3.6 0 1,0 7.2,0a3.6,3.6 0 1,0 -7.2,0M532.08,506.30a3.6,3.6 0 1,0 7.2,0a3.6,3.6 0 1,0 -7.2,0M534.56,506.30a3.6,3.6 0 1,0 7.2,0a3.6,3.6 0 1,0 -7.2,0M536.92,506.30a3.6,3.6 0 1,0 7.2,0a3.6,3.6 0 1,0 -7.2,0M539.19,506.30a3.6,3.6 0 1,0 7.2,0a3.6,3.6 0 1,0 -7.2,0M541.37,506.30a3.6,3.6 0 1,0 7.2,0a3.6,3.6 0 1,0 -7.2,0M543.47,506.30a3.6,3.6 0 1,0 7.2,0a3.6,3.6 0 1,0 -7.2,0M545.50,506.30a3.6,3.6 0 1,0 7.2,0a3.6,3.6 0 1,0 -7.2,0M547.46,506.30a3.6,3.6 0 1,0 7.2,0a3.6,3.6 0 1,0 -7.2,0M549.36,506.30a3.6,3.6 0 1,0 7.2,0a3.6,3.6 0 1,0 -7.2,0M551.20,506.30a3.6,3.6 0 1,0 7.2,0a3.6,3.6 0 1,0 -7.2,0M552.99,506.30a3.6,3.6 0 1,0 7.2,0a3.6,3.6 0 1,0 -7.2,0M554.72,506.30a3.6,3.6 0 1,0 7.2,0a3.6,3.6 0 1,0 -7.2,0M556.42,506.30a3.6,3.6 0 1,0 7.2,0a3.6,3.6 0 1,0 -7.2,0M558.07,506.30a3.6,3.6 0 1,0 7.2,0a3.6,3.6 0 1,0 -7.2,0M559.67,506.30a3.6,3.6 0 1,0 7.2,0a3.6,3.6 0 1,0 -7.2,0M561.24,506.30a3.6,3.6 0 1,0 7.2,0a3.6,3.6 0 1,0 -7.2,0M562.78,506.30a3.6,3.6 0 1,0 7.2,0a3.6,3.6 0 1,0 -7.2,0M564.28,506.30a3.6,3.6 0 1,0 7.2,0a3.6,3.6 0 1,0 -7.2,0M565.75,506.30a3.6,3.6 0 1,0 7.2,0a3.6,3.6 0 1,0 -7.2,0M567.19,506.30a3.6,3.6 0 1,0 7.2,0a3.6,3.6 0 1,0 -7.2,0M568.60,355.35a3.6,3.6 0 1,0 7.2,0a3.6,3.6 0 1,0 -7.2,0M569.99,355.84a3.6,3.6 0 1,0 7.2,0a3.6,3.6 0 1,0 -7.2,0M571.35,356.36a3.6,3.6 0 1,0 7.2,0a3.6,3.6 0 1,0 -7.2,0M572.68,356.91a3.6,3.6 0 1,0 7.2,0a3.6,3.6 0 1,0 -7.2,0M574.00,357.48a3.6,3.6 0 1,0 7.2,0a3.6,3.6 0 1,0 -7.2,0M575.29,359.15a3.6,3.6 0 1,0 7.2,0a3.6,3.6 0 1,0 -7.2,0M576.56,360.81a3.6,3.6 0 1,0 7.2,0a3.6,3.6 0 1,0 -7.2,0M577.81,362.44a3.6,3.6 0 1,0 7.2,0a3.6,3.6 0 1,0 -7.2,0M579.04,364.02a3.6,3.6 0 1,0 7.2,0a3.6,3.6 0 1,0 -7.2,0M580.25,365.57a3.6,3.6 0 1,0 7.2,0a3.6,3.6 0 1,0 -7.2,0M581.44,367.09a3.6,3.6 0 1,0 7.2,0a3.6,3.6 0 1,0 -7.2,0M582.62,368.56a3.6,3.6 0 1,0 7.2,0a3.6,3.6 0 1,0 -7.2,0M583.78,369.99a3.6,3.6 0 1,0 7.2,0a3.6,3.6 0 1,0 -7.2,0M584.93,371.37a3.6,3.6 0 1,0 7.2,0a3.6,3.6 0 1,0 -7.2,0M586.06,372.72a3.6,3.6 0 1,0 7.2,0a3.6,3.6 0 1,0 -7.2,0M587.17,374.01a3.6,3.6 0 1,0 7.2,0a3.6,3.6 0 1,0 -7.2,0M588.27,375.27a3.6,3.6 0 1,0 7.2,0a3.6,3.6 0 1,0 -7.2,0M589.36,376.47a3.6,3.6 0 1,0 7.2,0a3.6,3.6 0 1,0 -7.2,0M590.44,377.64a3.6,3.6 0 1,0 7.2,0a3.6,3.6 0 1,0 -7.2,0M591.50,378.76a3.6,3.6 0 1,0 7.2,0a3.6,3.6 0 1,0 -7.2,0M592.55,379.79a3.6,3.6 0 1,0 7.2,0a3.6,3.6 0 1,0 -7.2,0M593.59,380.75a3.6,3.6 0 1,0 7.2,0a3.6,3.6 0 1,0 -7.2,0M594.61,381.69a3.6,3.6 0 1,0 7.2,0a3.6,3.6 0 1,0 -7.2,0M595.63,382.59a3.6,3.6 0 1,0 7.2,0a3.6,3.6 0 1,0 -7.2,0M596.63,383.47a3.6,3.6 0 1,0 7.2,0a3.6,3.6 0 1,0 -7.2,0M597.63,384.32a3.6,3.6 0 1,0 7.2,0a3.6,3.6 0 1,0 -7.2,0M598.61,385.14a3.6,3.6 0 1,0 7.2,0a3.6,3.6 0 1,0 -7.2,0M599.59,385.95a3.6,3.6 0 1,0 7.2,0a3.6,3.6 0 1,0 -7.2,0M600.55,386.73a3.6,3.6 0 1,0 7.2,0a3.6,3.6 0 1,0 -7.2,0M601.51,387.50a3.6,3.6 0 1,0 7.2,0a3.6,3.6 0 1,0 -7.2,0M602.45,388.24a3.6,3.6 0 1,0 7.2,0a3.6,3.6 0 1,0 -7.2,0M603.39,388.97a3.6,3.6 0 1,0 7.2,0a3.6,3.6 0 1,0 -7.2,0M604.32,389.68a3.6,3.6 0 1,0 7.2,0a3.6,3.6 0 1,0 -7.2,0M605.24,390.38a3.6,3.6 0 1,0 7.2,0a3.6,3.6 0 1,0 -7.2,0M606.15,391.07a3.6,3.6 0 1,0 7.2,0a3.6,3.6 0 1,0 -7.2,0M607.06,391.74a3.6,3.6 0 1,0 7.2,0a3.6,3.6 0 1,0 -7.2,0M607.95,392.41a3.6,3.6 0 1,0 7.2,0a3.6,3.6 0 1,0 -7.2,0M608.84,393.06a3.6,3.6 0 1,0 7.2,0a3.6,3.6 0 1,0 -7.2,0M609.72,393.70a3.6,3.6 0 1,0 7.2,0a3.6,3.6 0 1,0 -7.2,0M610.59,394.33a3.6,3.6 0 1,0 7.2,0a3.6,3.6 0 1,0 -7.2,0M611.46,394.96a3.6,3.6 0 1,0 7.2,0a3.6,3.6 0 1,0 -7.2,0M612.32,395.53a3.6,3.6 0 1,0 7.2,0a3.6,3.6 0 1,0 -7.2,0M613.17,396.07a3.6,3.6 0 1,0 7.2,0a3.6,3.6 0 1,0 -7.2,0M614.01,396.61a3.6,3.6 0 1,0 7.2,0a3.6,3.6 0 1,0 -7.2,0M614.85,397.14a3.6,3.6 0 1,0 7.2,0a3.6,3.6 0 1,0 -7.2,0M615.68,397.67a3.6,3.6 0 1,0 7.2,0a3.6,3.6 0 1,0 -7.2,0M616.51,398.20a3.6,3.6 0 1,0 7.2,0a3.6,3.6 0 1,0 -7.2,0M617.32,398.72a3.6,3.6 0 1,0 7.2,0a3.6,3.6 0 1,0 -7.2,0M618.14,399.24a3.6,3.6 0 1,0 7.2,0a3.6,3.6 0 1,0 -7.2,0M618.94,399.76a3.6,3.6 0 1,0 7.2,0a3.6,3.6 0 1,0 -7.2,0M619.74,400.28a3.6,3.6 0 1,0 7.2,0a3.6,3.6 0 1,0 -7.2,0M620.53,400.79a3.6,3.6 0 1,0 7.2,0a3.6,3.6 0 1,0 -7.2,0M621.32,401.31a3.6,3.6 0 1,0 7.2,0a3.6,3.6 0 1,0 -7.2,0M622.10,401.82a3.6,3.6 0 1,0 7.2,0a3.6,3.6 0 1,0 -7.2,0M622.88,402.33a3.6,3.6 0 1,0 7.2,0a3.6,3.6 0 1,0 -7.2,0M623.65,402.85a3.6,3.6 0 1,0 7.2,0a3.6,3.6 0 1,0 -7.2,0M624.41,403.36a3.6,3.6 0 1,0 7.2,0a3.6,3.6 0 1,0 -7.2,0M625.17,403.87a3.6,3.6 0 1,0 7.2,0a3.6,3.6 0 1,0 -7.2,0M625.92,404.39a3.6,3.6 0 1,0 7.2,0a3.6,3.6 0 1,0 -7.2,0M626.67,404.92a3.6,3.6 0 1,0 7.2,0a3.6,3.6 0 1,0 -7.2,0M627.41,405.52a3.6,3.6 0 1,0 7.2,0a3.6,3.6 0 1,0 -7.2,0M628.15,406.12a3.6,3.6 0 1,0 7.2,0a3.6,3.6 0 1,0 -7.2,0M628.88,406.72a3.6,3.6 0 1,0 7.2,0a3.6,3.6 0 1,0 -7.2,0M629.60,407.33a3.6,3.6 0 1,0 7.2,0a3.6,3.6 0 1,0 -7.2,0M630.32,407.93a3.6,3.6 0 1,0 7.2,0a3.6,3.6 0 1,0 -7.2,0M631.04,408.53a3.6,3.6 0 1,0 7.2,0a3.6,3.6 0 1,0 -7.2,0M631.75,409.13a3.6,3.6 0 1,0 7.2,0a3.6,3.6 0 1,0 -7.2,0M632.45,409.73a3.6,3.6 0 1,0 7.2,0a3.6,3.6 0 1,0 -7.2,0M633.15,410.34a3.6,3.6 0 1,0 7.2,0a3.6,3.6 0 1,0 -7.2,0M633.85,410.94a3.6,3.6 0 1,0 7.2,0a3.6,3.6 0 1,0 -7.2,0M634.53,411.55a3.6,3.6 0 1,0 7.2,0a3.6,3.6 0 1,0 -7.2,0M635.22,412.15a3.6,3.6 0 1,0 7.2,0a3.6,3.6 0 1,0 -7.2,0M635.90,412.76a3.6,3.6 0 1,0 7.2,0a3.6,3.6 0 1,0 -7.2,0M636.57,413.37a3.6,3.6 0 1,0 7.2,0a3.6,3.6 0 1,0 -7.2,0M637.24,413.99a3.6,3.6 0 1,0 7.2,0a3.6,3.6 0 1,0 -7.2,0M637.91,414.60a3.6,3.6 0 1,0 7.2,0a3.6,3.6 0 1,0 -7.2,0M638.57,415.22a3.6,3.6 0 1,0 7.2,0a3.6,3.6 0 1,0 -7.2,0M639.22,415.85a3.6,3.6 0 1,0 7.2,0a3.6,3.6 0 1,0 -7.2,0M639.87,416.48a3.6,3.6 0 1,0 7.2,0a3.6,3.6 0 1,0 -7.2,0M640.51,417.11a3.6,3.6 0 1,0 7.2,0a3.6,3.6 0 1,0 -7.2,0M641.16,417.75a3.6,3.6 0 1,0 7.2,0a3.6,3.6 0 1,0 -7.2,0M641.79,418.41a3.6,3.6 0 1,0 7.2,0a3.6,3.6 0 1,0 -7.2,0M642.42,419.08a3.6,3.6 0 1,0 7.2,0a3.6,3.6 0 1,0 -7.2,0M643.05,419.76a3.6,3.6 0 1,0 7.2,0a3.6,3.6 0 1,0 -7.2,0M643.67,420.45a3.6,3.6 0 1,0 7.2,0a3.6,3.6 0 1,0 -7.2,0M644.28,421.15a3.6,3.6 0 1,0 7.2,0a3.6,3.6 0 1,0 -7.2,0M644.90,421.85a3.6,3.6 0 1,0 7.2,0a3.6,3.6 0 1,0 -7.2,0M645.50,422.56a3.6,3.6 0 1,0 7.2,0a3.6,3.6 0 1,0 -7.2,0M646.11,423.27a3.6,3.6 0 1,0 7.2,0a3.6,3.6 0 1,0 -7.2,0M646.70,423.99a3.6,3.6 0 1,0 7.2,0a3.6,3.6 0 1,0 -7.2,0M647.30,424.73a3.6,3.6 0 1,0 7.2,0a3.6,3.6 0 1,0 -7.2,0M647.88,425.47a3.6,3.6 0 1,0 7.2,0a3.6,3.6 0 1,0 -7.2,0M648.47,426.21a3.6,3.6 0 1,0 7.2,0a3.6,3.6 0 1,0 -7.2,0M649.05,426.97a3.6,3.6 0 1,0 7.2,0a3.6,3.6 0 1,0 -7.2,0M649.62,427.73a3.6,3.6 0 1,0 7.2,0a3.6,3.6 0 1,0 -7.2,0M650.19,428.50a3.6,3.6 0 1,0 7.2,0a3.6,3.6 0 1,0 -7.2,0M650.76,429.28a3.6,3.6 0 1,0 7.2,0a3.6,3.6 0 1,0 -7.2,0M651.32,430.06a3.6,3.6 0 1,0 7.2,0a3.6,3.6 0 1,0 -7.2,0M651.87,430.84a3.6,3.6 0 1,0 7.2,0a3.6,3.6 0 1,0 -7.2,0M652.42,431.62a3.6,3.6 0 1,0 7.2,0a3.6,3.6 0 1,0 -7.2,0M652.97,432.39a3.6,3.6 0 1,0 7.2,0a3.6,3.6 0 1,0 -7.2,0M653.51,433.17a3.6,3.6 0 1,0 7.2,0a3.6,3.6 0 1,0 -7.2,0M654.05,433.94a3.6,3.6 0 1,0 7.2,0a3.6,3.6 0 1,0 -7.2,0M654.58,434.70a3.6,3.6 0 1,0 7.2,0a3.6,3.6 0 1,0 -7.2,0M655.11,435.49a3.6,3.6 0 1,0 7.2,0a3.6,3.6 0 1,0 -7.2,0M655.64,436.27a3.6,3.6 0 1,0 7.2,0a3.6,3.6 0 1,0 -7.2,0M656.16,437.03a3.6,3.6 0 1,0 7.2,0a3.6,3.6 0 1,0 -7.2,0M656.67,437.79a3.6,3.6 0 1,0 7.2,0a3.6,3.6 0 1,0 -7.2,0M657.18,438.54a3.6,3.6 0 1,0 7.2,0a3.6,3.6 0 1,0 -7.2,0M657.69,439.27a3.6,3.6 0 1,0 7.2,0a3.6,3.6 0 1,0 -7.2,0M658.19,439.99a3.6,3.6 0 1,0 7.2,0a3.6,3.6 0 1,0 -7.2,0M658.68,440.69a3.6,3.6 0 1,0 7.2,0a3.6,3.6 0 1,0 -7.2,0M659.18,441.38a3.6,3.6 0 1,0 7.2,0a3.6,3.6 0 1,0 -7.2,0M659.67,442.06a3.6,3.6 0 1,0 7.2,0a3.6,3.6 0 1,0 -7.2,0M660.15,442.71a3.6,3.6 0 1,0 7.2,0a3.6,3.6 0 1,0 -7.2,0M660.63,443.35a3.6,3.6 0 1,0 7.2,0a3.6,3.6 0 1,0 -7.2,0M661.10,443.97a3.6,3.6 0 1,0 7.2,0a3.6,3.6 0 1,0 -7.2,0M661.57,444.58a3.6,3.6 0 1,0 7.2,0a3.6,3.6 0 1,0 -7.2,0M662.04,445.16a3.6,3.6 0 1,0 7.2,0a3.6,3.6 0 1,0 -7.2,0M662.50,445.73a3.6,3.6 0 1,0 7.2,0a3.6,3.6 0 1,0 -7.2,0M662.96,446.28a3.6,3.6 0 1,0 7.2,0a3.6,3.6 0 1,0 -7.2,0M663.41,446.81a3.6,3.6 0 1,0 7.2,0a3.6,3.6 0 1,0 -7.2,0M663.85,447.32a3.6,3.6 0 1,0 7.2,0a3.6,3.6 0 1,0 -7.2,0M664.30,447.80a3.6,3.6 0 1,0 7.2,0a3.6,3.6 0 1,0 -7.2,0M664.74,448.27a3.6,3.6 0 1,0 7.2,0a3.6,3.6 0 1,0 -7.2,0M665.17,448.72a3.6,3.6 0 1,0 7.2,0a3.6,3.6 0 1,0 -7.2,0M665.60,449.15a3.6,3.6 0 1,0 7.2,0a3.6,3.6 0 1,0 -7.2,0M666.03,449.55a3.6,3.6 0 1,0 7.2,0a3.6,3.6 0 1,0 -7.2,0M666.45,449.94a3.6,3.6 0 1,0 7.2,0a3.6,3.6 0 1,0 -7.2,0M666.87,450.31a3.6,3.6 0 1,0 7.2,0a3.6,3.6 0 1,0 -7.2,0M667.28,450.65a3.6,3.6 0 1,0 7.2,0a3.6,3.6 0 1,0 -7.2,0" fill="#0000ff"/>
<path d="M416.81,506.30 L444.21,506.30 L460.38,506.30 L471.96,506.30 L481.02,506.30 L488.49,506.30 L494.86,506.30 L500.43,506.30 L505.38,506.30 L509.85,506.30 L513.93,506.30 L517.69,506.30 L521.17,506.30 L524.42,506.30 L527.48,506.30 L530.36,506.30 L533.09,506.30 L535.68,506.30 L538.16,506.30 L540.52,506.30 L542.79,506.30 L544.97,506.30 L547.07,506.30 L549.10,506.30 L551.06,506.30 L552.96,506.30 L554.80,506.30 L556.59,506.30 L558.32,506.30 L560.02,506.30 L561.67,506.30 L563.27,506.30 L564.84,506.30 L566.38,506.30 L567.88,506.30 L569.35,506.30 L570.79,506.30 L572.20,453.18 L573.59,451.61 L574.95,450.08 L576.28,448.60 L577.60,447.17 L578.89,445.79 L580.16,444.46 L581.41,443.19 L582.64,441.97 L583.85,440.80 L585.04,440.17 L586.22,439.79 L587.38,439.45 L588.53,439.15 L589.66,438.89 L590.77,438.65 L591.87,438.45 L592.96,438.28 L594.04,438.14 L595.10,438.02 L596.15,437.92 L597.19,437.85 L598.21,437.80 L599.23,437.76 L600.23,437.74 L601.23,437.74 L602.21,437.75 L603.19,437.78 L604.15,437.82 L605.11,437.87 L606.05,437.93 L606.99,438.00 L607.92,438.07 L608.84,438.16 L609.75,438.25 L610.66,438.36 L611.55,438.46 L612.44,438.58 L613.32,438.70 L614.19,438.83 L615.06,438.96 L615.92,439.10 L616.77,439.25 L617.61,439.40 L618.45,439.56 L619.28,439.73 L620.11,439.90 L620.92,440.07 L621.74,440.26 L622.54,440.44 L623.34,440.63 L624.13,440.83 L624.92,441.03 L625.70,441.24 L626.48,441.45 L627.25,441.67 L628.01,441.89 L628.77,442.11 L629.52,442.34 L630.27,442.57 L631.01,442.81 L631.75,443.09 L632.48,443.39 L633.20,443.68 L633.92,443.99 L634.64,444.29 L635.35,444.60 L636.05,444.91 L636.75,445.22 L637.45,445.53 L638.13,445.85 L638.82,446.17 L639.50,446.49 L640.17,446.81 L640.84,447.14 L641.51,447.46 L642.17,447.79 L642.82,448.12 L643.47,448.46 L644.11,448.79 L644.76,449.13 L645.39,449.46 L646.02,449.80 L646.65,450.14 L647.27,450.48 L647.88,450.83 L648.50,451.17 L649.10,451.51 L649.71,451.85 L650.30,452.19 L650.90,452.53 L651.48,452.87 L652.07,453.21 L652.65,453.54 L653.22,453.88 L653.79,454.21 L654.36,454.54 L654.92,454.87 L655.47,455.19 L656.02,455.51 L656.57,455.83 L657.11,456.15 L657.65,456.47 L658.18,456.78 L658.71,457.08 L659.24,457.37 L659.76,457.66 L660.27,457.95 L660.78,458.24 L661.29,458.52 L661.79,458.80 L662.28,459.07 L662.78,459.34 L663.27,459.60 L663.75,459.87 L664.23,460.12 L664.70,460.38 L665.17,460.62 L665.64,460.87 L666.10,461.11 L666.56,461.34 L667.01,461.58 L667.45,461.80 L667.90,462.03 L668.34,462.24 L668.77,462.46 L669.20,462.67 L669.63,462.87 L670.05,463.07 L670.47,463.27 L670.88,463.46" fill="none" stroke="#0000ff" stroke-width="2.86" stroke-linejoin="round" stroke-linecap="square"/>
<path d="M413.21,502.70h7.2v7.2h-7.2zM440.61,502.70h7.2v7.2h-7.2zM456.78,502.70h7.2v7.2h-7.2zM468.36,502.70h7.2v7.2h-7.2zM477.42,502.70h7.2v7.2h-7.2zM484.89,502.70h7.2v7.2h-7.2zM491.26,502.70h7.2v7.2h-7.2zM496.83,502.70h7.2v7.2h-7.2zM501.78,502.70h7.2v7.2h-7.2zM506.25,502.70h7.2v7.2h-7.2zM510.33,502.70h7.2v7.2h-7.2zM514.09,502.70h7.2v7.2h-7.2zM517.57,502.70h7.2v7.2h-7.2zM520.82,502.70h7.2v7.2h-7.2zM523.88,502.70h7.2v7.2h-7.2zM526.76,502.70h7.2v7.2h-7.2zM529.49,502.70h7.2v7.2h-7.2zM532.08,502.70h7.2v7.2h-7.2zM534.56,502.70h7.2v7.2h-7.2zM536.92,502.70h7.2v7.2h-7.2zM539.19,502.70h7.2v7.2h-7.2zM541.37,502.70h7.2v7.2h-7.2zM543.47,502.70h7.2v7.2h-7.2zM545.50,502.70h7.2v7.2h-7.2zM547.46,502.70h7.2v7.2h-7.2zM549.36,502.70h7.2v7.2h-7.2zM551.20,502.70h7.2v7.2h-7.2zM552.99,502.70h7.2v7.2h-7.2zM554.72,502.70h7.2v7.2h-7.2zM556.42,502.70h7.2v7.2h-7.2zM558.07,502.70h7.2v7.2h-7.2zM559.67,502.70h7.2v7.2h-7.2zM561.24,502.70h7.2v7.2h-7.2zM562.78,502.70h7.2v7.2h-7.2zM564.28,502.70h7.2v7.2h-7.2zM565.75,502.70h7.2v7.2h-7.2zM567.19,502.70h7.2v7.2h-7.2zM568.60,449.58h7.2v7.2h-7.2zM569.99,448.01h7.2v7.2h-7.2zM571.35,446.48h7.2v7.2h-7.2zM572.68,445.00h7.2v7.2h-7.2zM574.00,443.57h7.2v7.2h-7.2zM575.29,442.19h7.2v7.2h-7.2zM576.56,440.86h7.2v7.2h-7.2zM577.81,439.59h7.2v7.2h-7.2zM579.04,438.37h7.2v7.2h-7.2zM580.25,437.20h7.2v7.2h-7.2zM581.44,436.57h7.2v7.2h-7.2zM582.62,436.19h7.2v7.2h-7.2zM583.78,435.85h7.2v7.2h-7.2zM584.93,435.55h7.2v7.2h-7.2zM586.06,435.29h7.2v7.2h-7.2zM587.17,435.05h7.2v7.2h-7.2zM588.27,434.85h7.2v7.2h-7.2zM589.36,434.68h7.2v7.2h-7.2zM590.44,434.54h7.2v7.2h-7.2zM591.50,434.42h7.2v7.2h-7.2zM592.55,434.32h7.2v7.2h-7.2zM593.59,434.25h7.2v7.2h-7.2zM594.61,434.20h7.2v7.2h-7.2zM595.63,434.16h7.2v7.2h-7.2zM596.63,434.14h7.2v7.2h-7.2zM597.63,434.14h7.2v7.2h-7.2zM598.61,434.15h7.2v7.2h-7.2zM599.59,434.18h7.2v7.2h-7.2zM600.55,434.22h7.2v7.2h-7.2zM601.51,434.27h7.2v7.2h-7.2zM602.45,434.33h7.2v7.2h-7.2zM603.39,434.40h7.2v7.2h-7.2zM604.32,434.47h7.2v7.2h-7.2zM605.24,434.56h7.2v7.2h-7.2zM606.15,434.65h7.2v7.2h-7.2zM607.06,434.76h7.2v7.2h-7.2zM607.95,434.86h7.2v7.2h-7.2zM608.84,434.98h7.2v7.2h-7.2zM609.72,435.10h7.2v7.2h-7.2zM610.59,435.23h7.2v7.2h-7.2zM611.46,435.36h7.2v7.2h-7.2zM612.32,435.50h7.2v7.2h-7.2zM613.17,435.65h7.2v7.2h-7.2zM614.01,435.80h7.2v7.2h-7.2zM614.85,435.96h7.2v7.2h-7.2zM615.68,436.13h7.2v7.2h-7.2zM616.51,436.30h7.2v7.2h-7.2zM617.32,436.47h7.2v7.2h-7.2zM618.14,436.66h7.2v7.2h-7.2zM618.94,436.84h7.2v7.2h-7.2zM619.74,437.03h7.2v7.2h-7.2zM620.53,437.23h7.2v7.2h-7.2zM621.32,437.43h7.2v7.2h-7.2zM622.10,437.64h7.2v7.2h-7.2zM622.88,437.85h7.2v7.2h-7.2zM623.65,438.07h7.2v7.2h-7.2zM624.41,438.29h7.2v7.2h-7.2zM625.17,438.51h7.2v7.2h-7.2zM625.92,438.74h7.2v7.2h-7.2zM626.67,438.97h7.2v7.2h-7.2zM627.41,439.21h7.2v7.2h-7.2zM628.15,439.49h7.2v7.2h-7.2zM628.88,439.79h7.2v7.2h-7.2zM629.60,440.08h7.2v7.2h-7.2zM630.32,440.39h7.2v7.2h-7.2zM631.04,440.69h7.2v7.2h-7.2zM631.75,441.00h7.2v7.2h-7.2zM632.45,441.31h7.2v7.2h-7.2zM633.15,441.62h7.2v7.2h-7.2zM633.85,441.93h7.2v7.2h-7.2zM634.53,442.25h7.2v7.2h-7.2zM635.22,442.57h7.2v7.2h-7.2zM635.90,442.89h7.2v7.2h-7.2zM636.57,443.21h7.2v7.2h-7.2zM637.24,443.54h7.2v7.2h-7.2zM637.91,443.86h7.2v7.2h-7.2zM638.57,444.19h7.2v7.2h-7.2zM639.22,444.52h7.2v7.2h-7.2zM639.87,444.86h7.2v7.2h-7.2zM640.51,445.19h7.2v7.2h-7.2zM641.16,445.53h7.2v7.2h-7.2zM641.79,445.86h7.2v7.2h-7.2zM642.42,446.20h7.2v7.2h-7.2zM643.05,446.54h7.2v7.2h-7.2zM643.67,446.88h7.2v7.2h-7.2zM644.28,447.23h7.2v7.2h-7.2zM644.90,447.57h7.2v7.2h-7.2zM645.50,447.91h7.2v7.2h-7.2zM646.11,448.25h7.2v7.2h-7.2zM646.70,448.59h7.2v7.2h-7.2zM647.30,448.93h7.2v7.2h-7.2zM647.88,449.27h7.2v7.2h-7.2zM648.47,449.61h7.2v7.2h-7.2zM649.05,449.94h7.2v7.2h-7.2zM649.62,450.28h7.2v7.2h-7.2zM650.19,450.61h7.2v7.2h-7.2zM650.76,450.94h7.2v7.2h-7.2zM651.32,451.27h7.2v7.2h-7.2zM651.87,451.59h7.2v7.2h-7.2zM652.42,451.91h7.2v7.2h-7.2zM652.97,452.23h7.2v7.2h-7.2zM653.51,452.55h7.2v7.2h-7.2zM654.05,452.87h7.2v7.2h-7.2zM654.58,453.18h7.2v7.2h-7.2zM655.11,453.48h7.2v7.2h-7.2zM655.64,453.77h7.2v7.2h-7.2zM656.16,454.06h7.2v7.2h-7.2zM656.67,454.35h7.2v7.2h-7.2zM657.18,454.64h7.2v7.2h-7.2zM657.69,454.92h7.2v7.2h-7.2zM658.19,455.20h7.2v7.2h-7.2zM658.68,455.47h7.2v7.2h-7.2zM659.18,455.74h7.2v7.2h-7.2zM659.67,456.00h7.2v7.2h-7.2zM660.15,456.27h7.2v7.2h-7.2zM660.63,456.52h7.2v7.2h-7.2zM661.10,456.78h7.2v7.2h-7.2zM661.57,457.02h7.2v7.2h-7.2zM662.04,457.27h7.2v7.2h-7.2zM662.50,457.51h7.2v7.2h-7.2zM662.96,457.74h7.2v7.2h-7.2zM663.41,457.98h7.2v7.2h-7.2zM663.85,458.20h7.2v7.2h-7.2zM664.30,458.43h7.2v7.2h-7.2zM664.74,458.64h7.2v7.2h-7.2zM665.17,458.86h7.2v7.2h-7.2zM665.60,459.07h7.2v7.2h-7.2zM666.03,459.27h7.2v7.2h-7.2zM666.45,459.47h7.2v7.2h-7.2zM666.87,459.67h7.2v7.2h-7.2zM667.28,459.86h7.2v7.2h-7.2z" fill="#0000ff"/>
<path d="M416.81,506.30 L444.21,506.30 L460.38,506.30 L471.96,506.30 L481.02,506.30 L488.49,506.30 L494.86,506.30 L500.43,506.30 L505.38,506.30 L509.85,506.30 L513.93,506.30 L517.69,506.30 L521.17,506.30 L524.42,506.30 L527.48,506.30 L530.36,506.30 L533.09,506.30 L535.68,506.30 L538.16,506.30 L540.52,506.30 L542.79,506.30 L544.97,506.30 L547.07,506.30 L549.10,506.30 L551.06,506.30 L552.96,506.30 L554.80,506.30 L556.59,506.30 L558.32,506.30 L560.02,506.30 L561.67,506.30 L563.27,506.30 L564.84,506.30 L566.38,506.30 L567.88,506.30 L569.35,506.30 L570.79,506.30 L572.20,417.80 L573.59,417.54 L574.95,417.31 L576.28,417.10 L577.60,416.93 L578.89,416.78 L580.16,416.65 L581.41,416.55 L582.64,416.47 L583.85,416.41 L585.04,416.37 L586.22,416.36 L587.38,416.36 L588.53,416.38 L589.66,416.43 L590.77,416.49 L591.87,416.57 L592.96,416.66 L594.04,416.77 L595.10,416.90 L596.15,417.03 L597.19,417.17 L598.21,417.33 L599.23,417.50 L600.23,417.68 L601.23,417.87 L602.21,418.08 L603.19,418.30 L604.15,418.53 L605.11,418.76 L606.05,419.01 L606.99,419.27 L607.92,419.54 L608.84,419.82 L609.75,420.10 L610.66,420.40 L611.55,420.70 L612.44,421.01 L613.32,421.32 L614.19,421.65 L615.06,421.98 L615.92,422.32 L616.77,422.66 L617.61,423.01 L618.45,423.37 L619.28,423.73 L620.11,424.10 L620.92,424.48 L621.74,424.86 L622.54,425.24 L623.34,425.63 L624.13,426.03 L624.92,426.42 L625.70,426.83 L626.48,427.24 L627.25,427.65 L628.01,428.06 L628.77,428.48 L629.52,428.90 L630.27,429.33 L631.01,429.76 L631.75,430.23 L632.48,430.71 L633.20,431.19 L633.92,431.67 L634.64,432.16 L635.35,432.65 L636.05,433.13 L636.75,433.63 L637.45,434.12 L638.13,434.61 L638.82,435.10 L639.50,435.60 L640.17,436.09 L640.84,436.59 L641.51,437.09 L642.17,437.58 L642.82,438.08 L643.47,438.58 L644.11,439.08 L644.76,439.58 L645.39,440.08 L646.02,440.58 L646.65,441.07 L647.27,441.57 L647.88,442.07 L648.50,442.57 L649.10,443.06 L649.71,443.56 L650.30,444.05 L650.90,444.55 L651.48,445.04 L652.07,445.53 L652.65,446.02 L653.22,446.51 L653.79,447.00 L654.36,447.49 L654.92,447.98 L655.47,448.46 L656.02,448.94 L656.57,449.43 L657.11,449.91 L657.65,450.38 L658.18,450.86 L658.71,451.30 L659.24,451.75 L659.76,452.18 L660.27,452.62 L660.78,453.06 L661.29,453.49 L661.79,453.93 L662.28,454.36 L662.78,454.79 L663.27,455.22 L663.75,455.65 L664.23,456.07 L664.70,456.49 L665.17,456.92 L665.64,457.33 L666.10,457.75 L666.56,458.17 L667.01,458.58 L667.45,458.99 L667.90,459.40 L668.34,459.80 L668.77,460.21 L669.20,460.61 L669.63,461.01 L670.05,461.40 L670.47,461.80 L670.88,462.19" fill="none" stroke="#0000ff" stroke-width="2.86" stroke-linejoin="round" stroke-linecap="square"/>
<path d="M413.91,503.40l5.8,5.8M413.91,509.20l5.8,-5.8M441.31,503.40l5.8,5.8M441.31,509.20l5.8,-5.8M457.48,503.40l5.8,5.8M457.48,509.20l5.8,-5.8M469.06,503.40l5.8,5.8M469.06,509.20l5.8,-5.8M478.12,503.40l5.8,5.8M478.12,509.20l5.8,-5.8M485.59,503.40l5.8,5.8M485.59,509.20l5.8,-5.8M491.96,503.40l5.8,5.8M491.96,509.20l5.8,-5.8M497.53,503.40l5.8,5.8M497.53,509.20l5.8,-5.8M502.48,503.40l5.8,5.8M502.48,509.20l5.8,-5.8M506.95,503.40l5.8,5.8M506.95,509.20l5.8,-5.8M511.03,503.40l5.8,5.8M511.03,509.20l5.8,-5.8M514.79,503.40l5.8,5.8M514.79,509.20l5.8,-5.8M518.27,503.40l5.8,5.8M518.27,509.20l5.8,-5.8M521.52,503.40l5.8,5.8M521.52,509.20l5.8,-5.8M524.58,503.40l5.8,5.8M524.58,509.20l5.8,-5.8M527.46,503.40l5.8,5.8M527.46,509.20l5.8,-5.8M530.19,503.40l5.8,5.8M530.19,509.20l5.8,-5.8M532.78,503.40l5.8,5.8M532.78,509.20l5.8,-5.8M535.26,503.40l5.8,5.8M535.26,509.20l5.8,-5.8M537.62,503.40l5.8,5.8M537.62,509.20l5.8,-5.8M539.89,503.40l5.8,5.8M539.89,509.20l5.8,-5.8M542.07,503.40l5.8,5.8M542.07,509.20l5.8,-5.8M544.17,503.40l5.8,5.8M544.17,509.20l5.8,-5.8M546.20,503.40l5.8,5.8M546.20,509.20l5.8,-5.8M548.16,503.40l5.8,5.8M548.16,509.20l5.8,-5.8M550.06,503.40l5.8,5.8M550.06,509.20l5.8,-5.8M551.90,503.40l5.8,5.8M551.90,509.20l5.8,-5.8M553.69,503.40l5.8,5.8M553.69,509.20l5.8,-5.8M555.42,503.40l5.8,5.8M555.42,509.20l5.8,-5.8M557.12,503.40l5.8,5.8M557.12,509.20l5.8,-5.8M558.77,503.40l5.8,5.8M558.77,509.20l5.8,-5.8M560.37,503.40l5.8,5.8M560.37,509.20l5.8,-5.8M561.94,503.40l5.8,5.8M561.94,509.20l5.8,-5.8M563.48,503.40l5.8,5.8M563.48,509.20l5.8,-5.8M564.98,503.40l5.8,5.8M564.98,509.20l5.8,-5.8M566.45,503.40l5.8,5.8M566.45,509.20l5.8,-5.8M567.89,503.40l5.8,5.8M567.89,509.20l5.8,-5.8M569.30,414.90l5.8,5.8M569.30,420.70l5.8,-5.8M570.69,414.64l5.8,5.8M570.69,420.44l5.8,-5.8M572.05,414.41l5.8,5.8M572.05,420.21l5.8,-5.8M573.38,414.20l5.8,5.8M573.38,420.00l5.8,-5.8M574.70,414.03l5.8,5.8M574.70,419.83l5.8,-5.8M575.99,413.88l5.8,5.8M575.99,419.68l5.8,-5.8M577.26,413.75l5.8,5.8M577.26,419.55l5.8,-5.8M578.51,413.65l5.8,5.8M578.51,419.45l5.8,-5.8M579.74,413.57l5.8,5.8M579.74,419.37l5.8,-5.8M580.95,413.51l5.8,5.8M580.95,419.31l5.8,-5.8M582.14,413.47l5.8,5.8M582.14,419.27l5.8,-5.8M583.32,413.46l5.8,5.8M583.32,419.26l5.8,-5.8M584.48,413.46l5.8,5.8M584.48,419.26l5.8,-5.8M585.63,413.48l5.8,5.8M585.63,419.28l5.8,-5.8M586.76,413.53l5.8,5.8M586.76,419.33l5.8,-5.8M587.87,413.59l5.8,5.8M587.87,419.39l5.8,-5.8M588.97,413.67l5.8,5.8M588.97,419.47l5.8,-5.8M590.06,413.76l5.8,5.8M590.06,419.56l5.8,-5.8M591.14,413.87l5.8,5.8M591.14,419.67l5.8,-5.8M592.20,414.00l5.8,5.8M592.20,419.80l5.8,-5.8M593.25,414.13l5.8,5.8M593.25,419.93l5.8,-5.8M594.29,414.27l5.8,5.8M594.29,420.07l5.8,-5.8M595.31,414.43l5.8,5.8M595.31,420.23l5.8,-5.8M596.33,414.60l5.8,5.8M596.33,420.40l5.8,-5.8M597.33,414.78l5.8,5.8M597.33,420.58l5.8,-5.8M598.33,414.97l5.8,5.8M598.33,420.77l5.8,-5.8M599.31,415.18l5.8,5.8M599.31,420.98l5.8,-5.8M600.29,415.40l5.8,5.8M600.29,421.20l5.8,-5.8M601.25,415.63l5.8,5.8M601.25,421.43l5.8,-5.8M602.21,415.86l5.8,5.8M602.21,421.66l5.8,-5.8M603.15,416.11l5.8,5.8M603.15,421.91l5.8,-5.8M604.09,416.37l5.8,5.8M604.09,422.17l5.8,-5.8M605.02,416.64l5.8,5.8M605.02,422.44l5.8,-5.8M605.94,416.92l5.8,5.8M605.94,422.72l5.8,-5.8M606.85,417.20l5.8,5.8M606.85,423.00l5.8,-5.8M607.76,417.50l5.8,5.8M607.76,423.30l5.8,-5.8M608.65,417.80l5.8,5.8M608.65,423.60l5.8,-5.8M609.54,418.11l5.8,5.8M609.54,423.91l5.8,-5.8M610.42,418.42l5.8,5.8M610.42,424.22l5.8,-5.8M611.29,418.75l5.8,5.8M611.29,424.55l5.8,-5.8M612.16,419.08l5.8,5.8M612.16,424.88l5.8,-5.8M613.02,419.42l5.8,5.8M613.02,425.22l5.8,-5.8M613.87,419.76l5.8,5.8M613.87,425.56l5.8,-5.8M614.71,420.11l5.8,5.8M614.71,425.91l5.8,-5.8M615.55,420.47l5.8,5.8M615.55,426.27l5.8,-5.8M616.38,420.83l5.8,5.8M616.38,426.63l5.8,-5.8M617.21,421.20l5.8,5.8M617.21,427.00l5.8,-5.8M618.02,421.58l5.8,5.8M618.02,427.38l5.8,-5.8M618.84,421.96l5.8,5.8M618.84,427.76l5.8,-5.8M619.64,422.34l5.8,5.8M619.64,428.14l5.8,-5.8M620.44,422.73l5.8,5.8M620.44,428.53l5.8,-5.8M621.23,423.13l5.8,5.8M621.23,428.93l5.8,-5.8M622.02,423.52l5.8,5.8M622.02,429.32l5.8,-5.8M622.80,423.93l5.8,5.8M622.80,429.73l5.8,-5.8M623.58,424.34l5.8,5.8M623.58,430.14l5.8,-5.8M624.35,424.75l5.8,5.8M624.35,430.55l5.8,-5.8M625.11,425.16l5.8,5.8M625.11,430.96l5.8,-5.8M625.87,425.58l5.8,5.8M625.87,431.38l5.8,-5.8M626.62,426.00l5.8,5.8M626.62,431.80l5.8,-5.8M627.37,426.43l5.8,5.8M627.37,432.23l5.8,-5.8M628.11,426.86l5.8,5.8M628.11,432.66l5.8,-5.8M628.85,427.33l5.8,5.8M628.85,433.13l5.8,-5.8M629.58,427.81l5.8,5.8M629.58,433.61l5.8,-5.8M630.30,428.29l5.8,5.8M630.30,434.09l5.8,-5.8M631.02,428.77l5.8,5.8M631.02,434.57l5.8,-5.8M631.74,429.26l5.8,5.8M631.74,435.06l5.8,-5.8M632.45,429.75l5.8,5.8M632.45,435.55l5.8,-5.8M633.15,430.23l5.8,5.8M633.15,436.03l5.8,-5.8M633.85,430.73l5.8,5.8M633.85,436.53l5.8,-5.8M634.55,431.22l5.8,5.8M634.55,437.02l5.8,-5.8M635.23,431.71l5.8,5.8M635.23,437.51l5.8,-5.8M635.92,432.20l5.8,5.8M635.92,438.00l5.8,-5.8M636.60,432.70l5.8,5.8M636.60,438.50l5.8,-5.8M637.27,433.19l5.8,5.8M637.27,438.99l5.8,-5.8M637.94,433.69l5.8,5.8M637.94,439.49l5.8,-5.8M638.61,434.19l5.8,5.8M638.61,439.99l5.8,-5.8M639.27,434.68l5.8,5.8M639.27,440.48l5.8,-5.8M639.92,435.18l5.8,5.8M639.92,440.98l5.8,-5.8M640.57,435.68l5.8,5.8M640.57,441.48l5.8,-5.8M641.21,436.18l5.8,5.8M641.21,441.98l5.8,-5.8M641.86,436.68l5.8,5.8M641.86,442.48l5.8,-5.8M642.49,437.18l5.8,5.8M642.49,442.98l5.8,-5.8M643.12,437.68l5.8,5.8M643.12,443.48l5.8,-5.8M643.75,438.17l5.8,5.8M643.75,443.97l5.8,-5.8M644.37,438.67l5.8,5.8M644.37,444.47l5.8,-5.8M644.98,439.17l5.8,5.8M644.98,444.97l5.8,-5.8M645.60,439.67l5.8,5.8M645.60,445.47l5.8,-5.8M646.20,440.16l5.8,5.8M646.20,445.96l5.8,-5.8M646.81,440.66l5.8,5.8M646.81,446.46l5.8,-5.8M647.40,441.15l5.8,5.8M647.40,446.95l5.8,-5.8M648.00,441.65l5.8,5.8M648.00,447.45l5.8,-5.8M648.58,442.14l5.8,5.8M648.58,447.94l5.8,-5.8M649.17,442.63l5.8,5.8M649.17,448.43l5.8,-5.8M649.75,443.12l5.8,5.8M649.75,448.92l5.8,-5.8M650.32,443.61l5.8,5.8M650.32,449.41l5.8,-5.8M650.89,444.10l5.8,5.8M650.89,449.90l5.8,-5.8M651.46,444.59l5.8,5.8M651.46,450.39l5.8,-5.8M652.02,445.08l5.8,5.8M652.02,450.88l5.8,-5.8M652.57,445.56l5.8,5.8M652.57,451.36l5.8,-5.8M653.12,446.04l5.8,5.8M653.12,451.84l5.8,-5.8M653.67,446.53l5.8,5.8M653.67,452.33l5.8,-5.8M654.21,447.01l5.8,5.8M654.21,452.81l5.8,-5.8M654.75,447.48l5.8,5.8M654.75,453.28l5.8,-5.8M655.28,447.96l5.8,5.8M655.28,453.76l5.8,-5.8M655.81,448.40l5.8,5.8M655.81,454.20l5.8,-5.8M656.34,448.85l5.8,5.8M656.34,454.65l5.8,-5.8M656.86,449.28l5.8,5.8M656.86,455.08l5.8,-5.8M657.37,449.72l5.8,5.8M657.37,455.52l5.8,-5.8M657.88,450.16l5.8,5.8M657.88,455.96l5.8,-5.8M658.39,450.59l5.8,5.8M658.39,456.39l5.8,-5.8M658.89,451.03l5.8,5.8M658.89,456.83l5.8,-5.8M659.38,451.46l5.8,5.8M659.38,457.26l5.8,-5.8M659.88,451.89l5.8,5.8M659.88,457.69l5.8,-5.8M660.37,452.32l5.8,5.8M660.37,458.12l5.8,-5.8M660.85,452.75l5.8,5.8M660.85,458.55l5.8,-5.8M661.33,453.17l5.8,5.8M661.33,458.97l5.8,-5.8M661.80,453.59l5.8,5.8M661.80,459.39l5.8,-5.8M662.27,454.02l5.8,5.8M662.27,459.82l5.8,-5.8M662.74,454.43l5.8,5.8M662.74,460.23l5.8,-5.8M663.20,454.85l5.8,5.8M663.20,460.65l5.8,-5.8M663.66,455.27l5.8,5.8M663.66,461.07l5.8,-5.8M664.11,455.68l5.8,5.8M664.11,461.48l5.8,-5.8M664.55,456.09l5.8,5.8M664.55,461.89l5.8,-5.8M665.00,456.50l5.8,5.8M665.00,462.30l5.8,-5.8M665.44,456.90l5.8,5.8M665.44,462.70l5.8,-5.8M665.87,457.31l5.8,5.8M665.87,463.11l5.8,-5.8M666.30,457.71l5.8,5.8M666.30,463.51l5.8,-5.8M666.73,458.11l5.8,5.8M666.73,463.91l5.8,-5.8M667.15,458.50l5.8,5.8M667.15,464.30l5.8,-5.8M667.57,458.90l5.8,5.8M667.57,464.70l5.8,-5.8M667.98,459.29l5.8,5.8M667.98,465.09l5.8,-5.8" fill="none" stroke="#0000ff" stroke-width="1.7"/>
<path d="M416.81,488.27 L444.21,471.27 L460.38,453.47 L471.96,435.71 L481.02,418.82 L488.49,405.84 L494.86,391.99 L500.43,377.21 L505.38,364.50 L509.85,353.62 L513.93,345.05 L517.69,338.40 L521.17,333.02 L524.42,328.90 L527.48,326.06 L530.36,324.29 L533.09,323.38 L535.68,323.17 L538.16,323.50 L540.52,323.54 L542.79,323.76 L544.97,324.31 L547.07,325.12 L549.10,326.15 L551.06,327.35 L552.96,328.71 L554.80,330.18 L556.59,331.74 L558.32,333.39 L560.02,335.09 L561.67,336.86 L563.27,338.78 L564.84,340.71 L566.38,342.65 L567.88,344.59 L569.35,346.53 L570.79,348.46 L572.20,350.37 L573.59,352.26 L574.95,354.13 L576.28,355.97 L577.60,357.78 L578.89,359.55 L580.16,361.29 L581.41,363.00 L582.64,364.66 L583.85,366.29 L585.04,367.87 L586.22,369.15 L587.38,370.38 L588.53,371.57 L589.66,372.73 L590.77,373.85 L591.87,374.93 L592.96,375.97 L594.04,376.97 L595.10,377.93 L596.15,378.86 L597.19,379.76 L598.21,380.63 L599.23,381.47 L600.23,382.34 L601.23,383.25 L602.21,384.13 L603.19,384.99 L604.15,385.83 L605.11,386.65 L606.05,387.44 L606.99,388.22 L607.92,388.99 L608.84,389.73 L609.75,390.47 L610.66,391.19 L611.55,391.89 L612.44,392.59 L613.32,393.28 L614.19,393.95 L615.06,394.62 L615.92,395.44 L616.77,396.35 L617.61,397.24 L618.45,398.12 L619.28,398.99 L620.11,399.85 L620.92,400.70 L621.74,401.54 L622.54,402.37 L623.34,403.20 L624.13,404.02 L624.92,404.83 L625.70,405.63 L626.48,406.43 L627.25,407.23 L628.01,408.01 L628.77,408.79 L629.52,409.57 L630.27,410.30 L631.01,410.85 L631.75,411.40 L632.48,411.94 L633.20,412.49 L633.92,413.04 L634.64,413.59 L635.35,414.14 L636.05,414.69 L636.75,415.24 L637.45,415.80 L638.13,416.35 L638.82,416.91 L639.50,417.46 L640.17,418.02 L640.84,418.59 L641.51,419.15 L642.17,419.72 L642.82,420.30 L643.47,420.88 L644.11,421.46 L644.76,422.06 L645.39,422.63 L646.02,423.19 L646.65,423.76 L647.27,424.34 L647.88,424.93 L648.50,425.52 L649.10,426.12 L649.71,426.74 L650.30,427.36 L650.90,427.99 L651.48,428.63 L652.07,429.28 L652.65,429.94 L653.22,430.61 L653.79,431.29 L654.36,431.97 L654.92,432.66 L655.47,433.35 L656.02,434.04 L656.57,434.73 L657.11,435.42 L657.65,436.11 L658.18,436.80 L658.71,437.48 L659.24,438.15 L659.76,438.82 L660.27,439.47 L660.78,440.12 L661.29,440.76 L661.79,441.39 L662.28,442.00 L662.78,442.60 L663.27,443.19 L663.75,443.77 L664.23,444.33 L664.70,444.87 L665.17,445.40 L665.64,445.91 L666.10,446.41 L666.56,446.89 L667.01,447.35 L667.45,447.79 L667.90,448.21 L668.34,448.62 L668.77,449.00 L669.20,449.37 L669.63,449.72 L670.05,450.05 L670.47,450.36 L670.88,450.65" fill="none" stroke="#008080" stroke-width="2.86" stroke-linejoin="round" stroke-linecap="square"/>
<path d="M413.21,488.27a3.6,3.6 0 1,0 7.2,0a3.6,3.6 0 1,0 -7.2,0M440.61,471.27a3.6,3.6 0 1,0 7.2,0a3.6,3.6 0 1,0 -7.2,0M456.78,453.47a3.6,3.6 0 1,0 7.2,0a3.6,3.6 0 1,0 -7.2,0M468.36,435.71a3.6,3.6 0 1,0 7.2,0a3.6,3.6 0 1,0 -7.2,0M477.42,418.82a3.6,3.6 0 1,0 7.2,0a3.6,3.6 0 1,0 -7.2,0M484.89,405.84a3.6,3.6 0 1,0 7.2,0a3.6,3.6 0 1,0 -7.2,0M491.26,391.99a3.6,3.6 0 1,0 7.2,0a3.6,3.6 0 1,0 -7.2,0M496.83,377.21a3.6,3.6 0 1,0 7.2,0a3.6,3.6 0 1,0 -7.2,0M501.78,364.50a3.6,3.6 0 1,0 7.2,0a3.6,3.6 0 1,0 -7.2,0M506.25,353.62a3.6,3.6 0 1,0 7.2,0a3.6,3.6 0 1,0 -7.2,0M510.33,345.05a3.6,3.6 0 1,0 7.2,0a3.6,3.6 0 1,0 -7.2,0M514.09,338.40a3.6,3.6 0 1,0 7.2,0a3.6,3.6 0 1,0 -7.2,0M517.57,333.02a3.6,3.6 0 1,0 7.2,0a3.6,3.6 0 1,0 -7.2,0M520.82,328.90a3.6,3.6 0 1,0 7.2,0a3.6,3.6 0 1,0 -7.2,0M523.88,326.06a3.6,3.6 0 1,0 7.2,0a3.6,3.6 0 1,0 -7.2,0M526.76,324.29a3.6,3.6 0 1,0 7.2,0a3.6,3.6 0 1,0 -7.2,0M529.49,323.38a3.6,3.6 0 1,0 7.2,0a3.6,3.6 0 1,0 -7.2,0M532.08,323.17a3.6,3.6 0 1,0 7.2,0a3.6,3.6 0 1,0 -7.2,0M534.56,323.50a3.6,3.6 0 1,0 7.2,0a3.6,3.6 0 1,0 -7.2,0M536.92,323.54a3.6,3.6 0 1,0 7.2,0a3.6,3.6 0 1,0 -7.2,0M539.19,323.76a3.6,3.6 0 1,0 7.2,0a3.6,3.6 0 1,0 -7.2,0M541.37,324.31a3.6,3.6 0 1,0 7.2,0a3.6,3.6 0 1,0 -7.2,0M543.47,325.12a3.6,3.6 0 1,0 7.2,0a3.6,3.6 0 1,0 -7.2,0M545.50,326.15a3.6,3.6 0 1,0 7.2,0a3.6,3.6 0 1,0 -7.2,0M547.46,327.35a3.6,3.6 0 1,0 7.2,0a3.6,3.6 0 1,0 -7.2,0M549.36,328.71a3.6,3.6 0 1,0 7.2,0a3.6,3.6 0 1,0 -7.2,0M551.20,330.18a3.6,3.6 0 1,0 7.2,0a3.6,3.6 0 1,0 -7.2,0M552.99,331.74a3.6,3.6 0 1,0 7.2,0a3.6,3.6 0 1,0 -7.2,0M554.72,333.39a3.6,3.6 0 1,0 7.2,0a3.6,3.6 0 1,0 -7.2,0M556.42,335.09a3.6,3.6 0 1,0 7.2,0a3.6,3.6 0 1,0 -7.2,0M558.07,336.86a3.6,3.6 0 1,0 7.2,0a3.6,3.6 0 1,0 -7.2,0M559.67,338.78a3.6,3.6 0 1,0 7.2,0a3.6,3.6 0 1,0 -7.2,0M561.24,340.71a3.6,3.6 0 1,0 7.2,0a3.6,3.6 0 1,0 -7.2,0M562.78,342.65a3.6,3.6 0 1,0 7.2,0a3.6,3.6 0 1,0 -7.2,0M564.28,344.59a3.6,3.6 0 1,0 7.2,0a3.6,3.6 0 1,0 -7.2,0M565.75,346.53a3.6,3.6 0 1,0 7.2,0a3.6,3.6 0 1,0 -7.2,0M567.19,348.46a3.6,3.6 0 1,0 7.2,0a3.6,3.6 0 1,0 -7.2,0M568.60,350.37a3.6,3.6 0 1,0 7.2,0a3.6,3.6 0 1,0 -7.2,0M569.99,352.26a3.6,3.6 0 1,0 7.2,0a3.6,3.6 0 1,0 -7.2,0M571.35,354.13a3.6,3.6 0 1,0 7.2,0a3.6,3.6 0 1,0 -7.2,0M572.68,355.97a3.6,3.6 0 1,0 7.2,0a3.6,3.6 0 1,0 -7.2,0M574.00,357.78a3.6,3.6 0 1,0 7.2,0a3.6,3.6 0 1,0 -7.2,0M575.29,359.55a3.6,3.6 0 1,0 7.2,0a3.6,3.6 0 1,0 -7.2,0M576.56,361.29a3.6,3.6 0 1,0 7.2,0a3.6,3.6 0 1,0 -7.2,0M577.81,363.00a3.6,3.6 0 1,0 7.2,0a3.6,3.6 0 1,0 -7.2,0M579.04,364.66a3.6,3.6 0 1,0 7.2,0a3.6,3.6 0 1,0 -7.2,0M580.25,366.29a3.6,3.6 0 1,0 7.2,0a3.6,3.6 0 1,0 -7.2,0M581.44,367.87a3.6,3.6 0 1,0 7.2,0a3.6,3.6 0 1,0 -7.2,0M582.62,369.15a3.6,3.6 0 1,0 7.2,0a3.6,3.6 0 1,0 -7.2,0M583.78,370.38a3.6,3.6 0 1,0 7.2,0a3.6,3.6 0 1,0 -7.2,0M584.93,371.57a3.6,3.6 0 1,0 7.2,0a3.6,3.6 0 1,0 -7.2,0M586.06,372.73a3.6,3.6 0 1,0 7.2,0a3.6,3.6 0 1,0 -7.2,0M587.17,373.85a3.6,3.6 0 1,0 7.2,0a3.6,3.6 0 1,0 -7.2,0M588.27,374.93a3.6,3.6 0 1,0 7.2,0a3.6,3.6 0 1,0 -7.2,0M589.36,375.97a3.6,3.6 0 1,0 7.2,0a3.6,3.6 0 1,0 -7.2,0M590.44,376.97a3.6,3.6 0 1,0 7.2,0a3.6,3.6 0 1,0 -7.2,0M591.50,377.93a3.6,3.6 0 1,0 7.2,0a3.6,3.6 0 1,0 -7.2,0M592.55,378.86a3.6,3.6 0 1,0 7.2,0a3.6,3.6 0 1,0 -7.2,0M593.59,379.76a3.6,3.6 0 1,0 7.2,0a3.6,3.6 0 1,0 -7.2,0M594.61,380.63a3.6,3.6 0 1,0 7.2,0a3.6,3.6 0 1,0 -7.2,0M595.63,381.47a3.6,3.6 0 1,0 7.2,0a3.6,3.6 0 1,0 -7.2,0M596.63,382.34a3.6,3.6 0 1,0 7.2,0a3.6,3.6 0 1,0 -7.2,0M597.63,383.25a3.6,3.6 0 1,0 7.2,0a3.6,3.6 0 1,0 -7.2,0M598.61,384.13a3.6,3.6 0 1,0 7.2,0a3.6,3.6 0 1,0 -7.2,0M599.59,384.99a3.6,3.6 0 1,0 7.2,0a3.6,3.6 0 1,0 -7.2,0M600.55,385.83a3.6,3.6 0 1,0 7.2,0a3.6,3.6 0 1,0 -7.2,0M601.51,386.65a3.6,3.6 0 1,0 7.2,0a3.6,3.6 0 1,0 -7.2,0M602.45,387.44a3.6,3.6 0 1,0 7.2,0a3.6,3.6 0 1,0 -7.2,0M603.39,388.22a3.6,3.6 0 1,0 7.2,0a3.6,3.6 0 1,0 -7.2,0M604.32,388.99a3.6,3.6 0 1,0 7.2,0a3.6,3.6 0 1,0 -7.2,0M605.24,389.73a3.6,3.6 0 1,0 7.2,0a3.6,3.6 0 1,0 -7.2,0M606.15,390.47a3.6,3.6 0 1,0 7.2,0a3.6,3.6 0 1,0 -7.2,0M607.06,391.19a3.6,3.6 0 1,0 7.2,0a3.6,3.6 0 1,0 -7.2,0M607.95,391.89a3.6,3.6 0 1,0 7.2,0a3.6,3.6 0 1,0 -7.2,0M608.84,392.59a3.6,3.6 0 1,0 7.2,0a3.6,3.6 0 1,0 -7.2,0M609.72,393.28a3.6,3.6 0 1,0 7.2,0a3.6,3.6 0 1,0 -7.2,0M610.59,393.95a3.6,3.6 0 1,0 7.2,0a3.6,3.6 0 1,0 -7.2,0M611.46,394.62a3.6,3.6 0 1,0 7.2,0a3.6,3.6 0 1,0 -7.2,0M612.32,395.44a3.6,3.6 0 1,0 7.2,0a3.6,3.6 0 1,0 -7.2,0M613.17,396.35a3.6,3.6 0 1,0 7.2,0a3.6,3.6 0 1,0 -7.2,0M614.01,397.24a3.6,3.6 0 1,0 7.2,0a3.6,3.6 0 1,0 -7.2,0M614.85,398.12a3.6,3.6 0 1,0 7.2,0a3.6,3.6 0 1,0 -7.2,0M615.68,398.99a3.6,3.6 0 1,0 7.2,0a3.6,3.6 0 1,0 -7.2,0M616.51,399.85a3.6,3.6 0 1,0 7.2,0a3.6,3.6 0 1,0 -7.2,0M617.32,400.70a3.6,3.6 0 1,0 7.2,0a3.6,3.6 0 1,0 -7.2,0M618.14,401.54a3.6,3.6 0 1,0 7.2,0a3.6,3.6 0 1,0 -7.2,0M618.94,402.37a3.6,3.6 0 1,0 7.2,0a3.6,3.6 0 1,0 -7.2,0M619.74,403.20a3.6,3.6 0 1,0 7.2,0a3.6,3.6 0 1,0 -7.2,0M620.53,404.02a3.6,3.6 0 1,0 7.2,0a3.6,3.6 0 1,0 -7.2,0M621.32,404.83a3.6,3.6 0 1,0 7.2,0a3.6,3.6 0 1,0 -7.2,0M622.10,405.63a3.6,3.6 0 1,0 7.2,0a3.6,3.6 0 1,0 -7.2,0M622.88,406.43a3.6,3.6 0 1,0 7.2,0a3.6,3.6 0 1,0 -7.2,0M623.65,407.23a3.6,3.6 0 1,0 7.2,0a3.6,3.6 0 1,0 -7.2,0M624.41,408.01a3.6,3.6 0 1,0 7.2,0a3.6,3.6 0 1,0 -7.2,0M625.17,408.79a3.6,3.6 0 1,0 7.2,0a3.6,3.6 0 1,0 -7.2,0M625.92,409.57a3.6,3.6 0 1,0 7.2,0a3.6,3.6 0 1,0 -7.2,0M626.67,410.30a3.6,3.6 0 1,0 7.2,0a3.6,3.6 0 1,0 -7.2,0M627.41,410.85a3.6,3.6 0 1,0 7.2,0a3.6,3.6 0 1,0 -7.2,0M628.15,411.40a3.6,3.6 0 1,0 7.2,0a3.6,3.6 0 1,0 -7.2,0M628.88,411.94a3.6,3.6 0 1,0 7.2,0a3.6,3.6 0 1,0 -7.2,0M629.60,412.49a3.6,3.6 0 1,0 7.2,0a3.6,3.6 0 1,0 -7.2,0M630.32,413.04a3.6,3.6 0 1,0 7.2,0a3.6,3.6 0 1,0 -7.2,0M631.04,413.59a3.6,3.6 0 1,0 7.2,0a3.6,3.6 0 1,0 -7.2,0M631.75,414.14a3.6,3.6 0 1,0 7.2,0a3.6,3.6 0 1,0 -7.2,0M632.45,414.69a3.6,3.6 0 1,0 7.2,0a3.6,3.6 0 1,0 -7.2,0M633.15,415.24a3.6,3.6 0 1,0 7.2,0a3.6,3.6 0 1,0 -7.2,0M633.85,415.80a3.6,3.6 0 1,0 7.2,0a3.6,3.6 0 1,0 -7.2,0M634.53,416.35a3.6,3.6 0 1,0 7.2,0a3.6,3.6 0 1,0 -7.2,0M635.22,416.91a3.6,3.6 0 1,0 7.2,0a3.6,3.6 0 1,0 -7.2,0M635.90,417.46a3.6,3.6 0 1,0 7.2,0a3.6,3.6 0 1,0 -7.2,0M636.57,418.02a3.6,3.6 0 1,0 7.2,0a3.6,3.6 0 1,0 -7.2,0M637.24,418.59a3.6,3.6 0 1,0 7.2,0a3.6,3.6 0 1,0 -7.2,0M637.91,419.15a3.6,3.6 0 1,0 7.2,0a3.6,3.6 0 1,0 -7.2,0M638.57,419.72a3.6,3.6 0 1,0 7.2,0a3.6,3.6 0 1,0 -7.2,0M639.22,420.30a3.6,3.6 0 1,0 7.2,0a3.6,3.6 0 1,0 -7.2,0M639.87,420.88a3.6,3.6 0 1,0 7.2,0a3.6,3.6 0 1,0 -7.2,0M640.51,421.46a3.6,3.6 0 1,0 7.2,0a3.6,3.6 0 1,0 -7.2,0M641.16,422.06a3.6,3.6 0 1,0 7.2,0a3.6,3.6 0 1,0 -7.2,0M641.79,422.63a3.6,3.6 0 1,0 7.2,0a3.6,3.6 0 1,0 -7.2,0M642.42,423.19a3.6,3.6 0 1,0 7.2,0a3.6,3.6 0 1,0 -7.2,0M643.05,423.76a3.6,3.6 0 1,0 7.2,0a3.6,3.6 0 1,0 -7.2,0M643.67,424.34a3.6,3.6 0 1,0 7.2,0a3.6,3.6 0 1,0 -7.2,0M644.28,424.93a3.6,3.6 0 1,0 7.2,0a3.6,3.6 0 1,0 -7.2,0M644.90,425.52a3.6,3.6 0 1,0 7.2,0a3.6,3.6 0 1,0 -7.2,0M645.50,426.12a3.6,3.6 0 1,0 7.2,0a3.6,3.6 0 1,0 -7.2,0M646.11,426.74a3.6,3.6 0 1,0 7.2,0a3.6,3.6 0 1,0 -7.2,0M646.70,427.36a3.6,3.6 0 1,0 7.2,0a3.6,3.6 0 1,0 -7.2,0M647.30,427.99a3.6,3.6 0 1,0 7.2,0a3.6,3.6 0 1,0 -7.2,0M647.88,428.63a3.6,3.6 0 1,0 7.2,0a3.6,3.6 0 1,0 -7.2,0M648.47,429.28a3.6,3.6 0 1,0 7.2,0a3.6,3.6 0 1,0 -7.2,0M649.05,429.94a3.6,3.6 0 1,0 7.2,0a3.6,3.6 0 1,0 -7.2,0M649.62,430.61a3.6,3.6 0 1,0 7.2,0a3.6,3.6 0 1,0 -7.2,0M650.19,431.29a3.6,3.6 0 1,0 7.2,0a3.6,3.6 0 1,0 -7.2,0M650.76,431.97a3.6,3.6 0 1,0 7.2,0a3.6,3.6 0 1,0 -7.2,0M651.32,432.66a3.6,3.6 0 1,0 7.2,0a3.6,3.6 0 1,0 -7.2,0M651.87,433.35a3.6,3.6 0 1,0 7.2,0a3.6,3.6 0 1,0 -7.2,0M652.42,434.04a3.6,3.6 0 1,0 7.2,0a3.6,3.6 0 1,0 -7.2,0M652.97,434.73a3.6,3.6 0 1,0 7.2,0a3.6,3.6 0 1,0 -7.2,0M653.51,435.42a3.6,3.6 0 1,0 7.2,0a3.6,3.6 0 1,0 -7.2,0M654.05,436.11a3.6,3.6 0 1,0 7.2,0a3.6,3.6 0 1,0 -7.2,0M654.58,436.80a3.6,3.6 0 1,0 7.2,0a3.6,3.6 0 1,0 -7.2,0M655.11,437.48a3.6,3.6 0 1,0 7.2,0a3.6,3.6 0 1,0 -7.2,0M655.64,438.15a3.6,3.6 0 1,0 7.2,0a3.6,3.6 0 1,0 -7.2,0M656.16,438.82a3.6,3.6 0 1,0 7.2,0a3.6,3.6 0 1,0 -7.2,0M656.67,439.47a3.6,3.6 0 1,0 7.2,0a3.6,3.6 0 1,0 -7.2,0M657.18,440.12a3.6,3.6 0 1,0 7.2,0a3.6,3.6 0 1,0 -7.2,0M657.69,440.76a3.6,3.6 0 1,0 7.2,0a3.6,3.6 0 1,0 -7.2,0M658.19,441.39a3.6,3.6 0 1,0 7.2,0a3.6,3.6 0 1,0 -7.2,0M658.68,442.00a3.6,3.6 0 1,0 7.2,0a3.6,3.6 0 1,0 -7.2,0M659.18,442.60a3.6,3.6 0 1,0 7.2,0a3.6,3.6 0 1,0 -7.2,0M659.67,443.19a3.6,3.6 0 1,0 7.2,0a3.6,3.6 0 1,0 -7.2,0M660.15,443.77a3.6,3.6 0 1,0 7.2,0a3.6,3.6 0 1,0 -7.2,0M660.63,444.33a3.6,3.6 0 1,0 7.2,0a3.6,3.6 0 1,0 -7.2,0M661.10,444.87a3.6,3.6 0 1,0 7.2,0a3.6,3.6 0 1,0 -7.2,0M661.57,445.40a3.6,3.6 0 1,0 7.2,0a3.6,3.6 0 1,0 -7.2,0M662.04,445.91a3.6,3.6 0 1,0 7.2,0a3.6,3.6 0 1,0 -7.2,0M662.50,446.41a3.6,3.6 0 1,0 7.2,0a3.6,3.6 0 1,0 -7.2,0M662.96,446.89a3.6,3.6 0 1,0 7.2,0a3.6,3.6 0 1,0 -7.2,0M663.41,447.35a3.6,3.6 0 1,0 7.2,0a3.6,3.6 0 1,0 -7.2,0M663.85,447.79a3.6,3.6 0 1,0 7.2,0a3.6,3.6 0 1,0 -7.2,0M664.30,448.21a3.6,3.6 0 1,0 7.2,0a3.6,3.6 0 1,0 -7.2,0M664.74,448.62a3.6,3.6 0 1,0 7.2,0a3.6,3.6 0 1,0 -7.2,0M665.17,449.00a3.6,3.6 0 1,0 7.2,0a3.6,3.6 0 1,0 -7.2,0M665.60,449.37a3.6,3.6 0 1,0 7.2,0a3.6,3.6 0 1,0 -7.2,0M666.03,449.72a3.6,3.6 0 1,0 7.2,0a3.6,3.6 0 1,0 -7.2,0M666.45,450.05a3.6,3.6 0 1,0 7.2,0a3.6,3.6 0 1,0 -7.2,0M666.87,450.36a3.6,3.6 0 1,0 7.2,0a3.6,3.6 0 1,0 -7.2,0M667.28,450.65a3.6,3.6 0 1,0 7.2,0a3.6,3.6 0 1,0 -7.2,0" fill="#008080"/>
<path d="M416.81,506.09 L444.21,505.46 L460.38,504.38 L471.96,502.92 L481.02,500.93 L488.49,498.65 L494.86,496.57 L500.43,494.54 L505.38,492.30 L509.85,490.01 L513.93,487.95 L517.69,485.99 L521.17,484.04 L524.42,482.07 L527.48,480.16 L530.36,478.36 L533.09,476.62 L535.68,474.86 L538.16,473.13 L540.52,471.42 L542.79,469.73 L544.97,468.06 L547.07,466.41 L549.10,464.77 L551.06,463.16 L552.96,461.58 L554.80,460.03 L556.59,458.53 L558.32,457.08 L560.02,455.67 L561.67,454.32 L563.27,453.02 L564.84,451.78 L566.38,450.60 L567.88,449.47 L569.35,448.39 L570.79,447.36 L572.20,446.39 L573.59,445.48 L574.95,444.63 L576.28,443.84 L577.60,443.11 L578.89,442.44 L580.16,441.83 L581.41,441.28 L582.64,440.79 L583.85,440.34 L585.04,439.95 L586.22,439.60 L587.38,439.29 L588.53,439.01 L589.66,438.78 L590.77,438.57 L591.87,438.40 L592.96,438.26 L594.04,438.14 L595.10,438.05 L596.15,437.98 L597.19,437.94 L598.21,437.91 L599.23,437.90 L600.23,437.91 L601.23,437.93 L602.21,437.97 L603.19,438.02 L604.15,438.08 L605.11,438.16 L606.05,438.24 L606.99,438.33 L607.92,438.43 L608.84,438.53 L609.75,438.63 L610.66,438.75 L611.55,438.87 L612.44,439.00 L613.32,439.13 L614.19,439.27 L615.06,439.42 L615.92,439.57 L616.77,439.73 L617.61,439.89 L618.45,440.07 L619.28,440.24 L620.11,440.42 L620.92,440.61 L621.74,440.80 L622.54,441.00 L623.34,441.20 L624.13,441.41 L624.92,441.62 L625.70,441.84 L626.48,442.06 L627.25,442.28 L628.01,442.51 L628.77,442.75 L629.52,442.98 L630.27,443.23 L631.01,443.47 L631.75,443.72 L632.48,443.97 L633.20,444.23 L633.92,444.49 L634.64,444.75 L635.35,445.02 L636.05,445.29 L636.75,445.57 L637.45,445.84 L638.13,446.12 L638.82,446.40 L639.50,446.69 L640.17,446.98 L640.84,447.27 L641.51,447.56 L642.17,447.86 L642.82,448.15 L643.47,448.45 L644.11,448.76 L644.76,449.06 L645.39,449.37 L646.02,449.68 L646.65,449.99 L647.27,450.30 L647.88,450.61 L648.50,450.92 L649.10,451.24 L649.71,451.55 L650.30,451.87 L650.90,452.18 L651.48,452.49 L652.07,452.81 L652.65,453.12 L653.22,453.43 L653.79,453.74 L654.36,454.05 L654.92,454.35 L655.47,454.65 L656.02,454.96 L656.57,455.25 L657.11,455.55 L657.65,455.84 L658.18,456.14 L658.71,456.42 L659.24,456.71 L659.76,456.99 L660.27,457.27 L660.78,457.54 L661.29,457.82 L661.79,458.08 L662.28,458.35 L662.78,458.61 L663.27,458.86 L663.75,459.12 L664.23,459.37 L664.70,459.61 L665.17,459.85 L665.64,460.09 L666.10,460.32 L666.56,460.55 L667.01,460.77 L667.45,460.99 L667.90,461.21 L668.34,461.42 L668.77,461.63 L669.20,461.83 L669.63,462.03 L670.05,462.22 L670.47,462.41 L670.88,462.59" fill="none" stroke="#008080" stroke-width="2.86" stroke-linejoin="round" stroke-linecap="square"/>
<path d="M413.21,502.49h7.2v7.2h-7.2zM440.61,501.86h7.2v7.2h-7.2zM456.78,500.78h7.2v7.2h-7.2zM468.36,499.32h7.2v7.2h-7.2zM477.42,497.33h7.2v7.2h-7.2zM484.89,495.05h7.2v7.2h-7.2zM491.26,492.97h7.2v7.2h-7.2zM496.83,490.94h7.2v7.2h-7.2zM501.78,488.70h7.2v7.2h-7.2zM506.25,486.41h7.2v7.2h-7.2zM510.33,484.35h7.2v7.2h-7.2zM514.09,482.39h7.2v7.2h-7.2zM517.57,480.44h7.2v7.2h-7.2zM520.82,478.47h7.2v7.2h-7.2zM523.88,476.56h7.2v7.2h-7.2zM526.76,474.76h7.2v7.2h-7.2zM529.49,473.02h7.2v7.2h-7.2zM532.08,471.26h7.2v7.2h-7.2zM534.56,469.53h7.2v7.2h-7.2zM536.92,467.82h7.2v7.2h-7.2zM539.19,466.13h7.2v7.2h-7.2zM541.37,464.46h7.2v7.2h-7.2zM543.47,462.81h7.2v7.2h-7.2zM545.50,461.17h7.2v7.2h-7.2zM547.46,459.56h7.2v7.2h-7.2zM549.36,457.98h7.2v7.2h-7.2zM551.20,456.43h7.2v7.2h-7.2zM552.99,454.93h7.2v7.2h-7.2zM554.72,453.48h7.2v7.2h-7.2zM556.42,452.07h7.2v7.2h-7.2zM558.07,450.72h7.2v7.2h-7.2zM559.67,449.42h7.2v7.2h-7.2zM561.24,448.18h7.2v7.2h-7.2zM562.78,447.00h7.2v7.2h-7.2zM564.28,445.87h7.2v7.2h-7.2zM565.75,444.79h7.2v7.2h-7.2zM567.19,443.76h7.2v7.2h-7.2zM568.60,442.79h7.2v7.2h-7.2zM569.99,441.88h7.2v7.2h-7.2zM571.35,441.03h7.2v7.2h-7.2zM572.68,440.24h7.2v7.2h-7.2zM574.00,439.51h7.2v7.2h-7.2zM575.29,438.84h7.2v7.2h-7.2zM576.56,438.23h7.2v7.2h-7.2zM577.81,437.68h7.2v7.2h-7.2zM579.04,437.19h7.2v7.2h-7.2zM580.25,436.74h7.2v7.2h-7.2zM581.44,436.35h7.2v7.2h-7.2zM582.62,436.00h7.2v7.2h-7.2zM583.78,435.69h7.2v7.2h-7.2zM584.93,435.41h7.2v7.2h-7.2zM586.06,435.18h7.2v7.2h-7.2zM587.17,434.97h7.2v7.2h-7.2zM588.27,434.80h7.2v7.2h-7.2zM589.36,434.66h7.2v7.2h-7.2zM590.44,434.54h7.2v7.2h-7.2zM591.50,434.45h7.2v7.2h-7.2zM592.55,434.38h7.2v7.2h-7.2zM593.59,434.34h7.2v7.2h-7.2zM594.61,434.31h7.2v7.2h-7.2zM595.63,434.30h7.2v7.2h-7.2zM596.63,434.31h7.2v7.2h-7.2zM597.63,434.33h7.2v7.2h-7.2zM598.61,434.37h7.2v7.2h-7.2zM599.59,434.42h7.2v7.2h-7.2zM600.55,434.48h7.2v7.2h-7.2zM601.51,434.56h7.2v7.2h-7.2zM602.45,434.64h7.2v7.2h-7.2zM603.39,434.73h7.2v7.2h-7.2zM604.32,434.83h7.2v7.2h-7.2zM605.24,434.93h7.2v7.2h-7.2zM606.15,435.03h7.2v7.2h-7.2zM607.06,435.15h7.2v7.2h-7.2zM607.95,435.27h7.2v7.2h-7.2zM608.84,435.40h7.2v7.2h-7.2zM609.72,435.53h7.2v7.2h-7.2zM610.59,435.67h7.2v7.2h-7.2zM611.46,435.82h7.2v7.2h-7.2zM612.32,435.97h7.2v7.2h-7.2zM613.17,436.13h7.2v7.2h-7.2zM614.01,436.29h7.2v7.2h-7.2zM614.85,436.47h7.2v7.2h-7.2zM615.68,436.64h7.2v7.2h-7.2zM616.51,436.82h7.2v7.2h-7.2zM617.32,437.01h7.2v7.2h-7.2zM618.14,437.20h7.2v7.2h-7.2zM618.94,437.40h7.2v7.2h-7.2zM619.74,437.60h7.2v7.2h-7.2zM620.53,437.81h7.2v7.2h-7.2zM621.32,438.02h7.2v7.2h-7.2zM622.10,438.24h7.2v7.2h-7.2zM622.88,438.46h7.2v7.2h-7.2zM623.65,438.68h7.2v7.2h-7.2zM624.41,438.91h7.2v7.2h-7.2zM625.17,439.15h7.2v7.2h-7.2zM625.92,439.38h7.2v7.2h-7.2zM626.67,439.63h7.2v7.2h-7.2zM627.41,439.87h7.2v7.2h-7.2zM628.15,440.12h7.2v7.2h-7.2zM628.88,440.37h7.2v7.2h-7.2zM629.60,440.63h7.2v7.2h-7.2zM630.32,440.89h7.2v7.2h-7.2zM631.04,441.15h7.2v7.2h-7.2zM631.75,441.42h7.2v7.2h-7.2zM632.45,441.69h7.2v7.2h-7.2zM633.15,441.97h7.2v7.2h-7.2zM633.85,442.24h7.2v7.2h-7.2zM634.53,442.52h7.2v7.2h-7.2zM635.22,442.80h7.2v7.2h-7.2zM635.90,443.09h7.2v7.2h-7.2zM636.57,443.38h7.2v7.2h-7.2zM637.24,443.67h7.2v7.2h-7.2zM637.91,443.96h7.2v7.2h-7.2zM638.57,444.26h7.2v7.2h-7.2zM639.22,444.55h7.2v7.2h-7.2zM639.87,444.85h7.2v7.2h-7.2zM640.51,445.16h7.2v7.2h-7.2zM641.16,445.46h7.2v7.2h-7.2zM641.79,445.77h7.2v7.2h-7.2zM642.42,446.08h7.2v7.2h-7.2zM643.05,446.39h7.2v7.2h-7.2zM643.67,446.70h7.2v7.2h-7.2zM644.28,447.01h7.2v7.2h-7.2zM644.90,447.32h7.2v7.2h-7.2zM645.50,447.64h7.2v7.2h-7.2zM646.11,447.95h7.2v7.2h-7.2zM646.70,448.27h7.2v7.2h-7.2zM647.30,448.58h7.2v7.2h-7.2zM647.88,448.89h7.2v7.2h-7.2zM648.47,449.21h7.2v7.2h-7.2zM649.05,449.52h7.2v7.2h-7.2zM649.62,449.83h7.2v7.2h-7.2zM650.19,450.14h7.2v7.2h-7.2zM650.76,450.45h7.2v7.2h-7.2zM651.32,450.75h7.2v7.2h-7.2zM651.87,451.05h7.2v7.2h-7.2zM652.42,451.36h7.2v7.2h-7.2zM652.97,451.65h7.2v7.2h-7.2zM653.51,451.95h7.2v7.2h-7.2zM654.05,452.24h7.2v7.2h-7.2zM654.58,452.54h7.2v7.2h-7.2zM655.11,452.82h7.2v7.2h-7.2zM655.64,453.11h7.2v7.2h-7.2zM656.16,453.39h7.2v7.2h-7.2zM656.67,453.67h7.2v7.2h-7.2zM657.18,453.94h7.2v7.2h-7.2zM657.69,454.22h7.2v7.2h-7.2zM658.19,454.48h7.2v7.2h-7.2zM658.68,454.75h7.2v7.2h-7.2zM659.18,455.01h7.2v7.2h-7.2zM659.67,455.26h7.2v7.2h-7.2zM660.15,455.52h7.2v7.2h-7.2zM660.63,455.77h7.2v7.2h-7.2zM661.10,456.01h7.2v7.2h-7.2zM661.57,456.25h7.2v7.2h-7.2zM662.04,456.49h7.2v7.2h-7.2zM662.50,456.72h7.2v7.2h-7.2zM662.96,456.95h7.2v7.2h-7.2zM663.41,457.17h7.2v7.2h-7.2zM663.85,457.39h7.2v7.2h-7.2zM664.30,457.61h7.2v7.2h-7.2zM664.74,457.82h7.2v7.2h-7.2zM665.17,458.03h7.2v7.2h-7.2zM665.60,458.23h7.2v7.2h-7.2zM666.03,458.43h7.2v7.2h-7.2zM666.45,458.62h7.2v7.2h-7.2zM666.87,458.81h7.2v7.2h-7.2zM667.28,458.99h7.2v7.2h-7.2z" fill="#008080"/>
<path d="M416.81,495.49 L444.21,486.06 L460.38,478.58 L471.96,472.40 L481.02,467.15 L488.49,462.58 L494.86,458.55 L500.43,454.93 L505.38,451.66 L509.85,448.68 L513.93,445.97 L517.69,443.49 L521.17,441.21 L524.42,439.12 L527.48,437.26 L530.36,435.58 L533.09,434.04 L535.68,432.61 L538.16,431.29 L540.52,430.07 L542.79,428.94 L544.97,427.89 L547.07,426.92 L549.10,426.02 L551.06,425.18 L552.96,424.41 L554.80,423.70 L556.59,423.04 L558.32,422.44 L560.02,421.88 L561.67,421.37 L563.27,420.90 L564.84,420.47 L566.38,420.08 L567.88,419.73 L569.35,419.39 L570.79,419.08 L572.20,418.81 L573.59,418.56 L574.95,418.34 L576.28,418.15 L577.60,417.99 L578.89,417.85 L580.16,417.74 L581.41,417.65 L582.64,417.58 L583.85,417.53 L585.04,417.51 L586.22,417.50 L587.38,417.51 L588.53,417.55 L589.66,417.60 L590.77,417.67 L591.87,417.76 L592.96,417.86 L594.04,417.98 L595.10,418.11 L596.15,418.26 L597.19,418.42 L598.21,418.60 L599.23,418.79 L600.23,418.99 L601.23,419.20 L602.21,419.42 L603.19,419.66 L604.15,419.90 L605.11,420.16 L606.05,420.42 L606.99,420.68 L607.92,420.94 L608.84,421.20 L609.75,421.47 L610.66,421.75 L611.55,422.04 L612.44,422.34 L613.32,422.64 L614.19,422.95 L615.06,423.27 L615.92,423.59 L616.77,423.93 L617.61,424.26 L618.45,424.61 L619.28,424.96 L620.11,425.31 L620.92,425.67 L621.74,426.04 L622.54,426.41 L623.34,426.79 L624.13,427.17 L624.92,427.55 L625.70,427.94 L626.48,428.34 L627.25,428.74 L628.01,429.14 L628.77,429.55 L629.52,429.96 L630.27,430.37 L631.01,430.79 L631.75,431.21 L632.48,431.63 L633.20,432.06 L633.92,432.49 L634.64,432.92 L635.35,433.35 L636.05,433.79 L636.75,434.23 L637.45,434.67 L638.13,435.11 L638.82,435.56 L639.50,436.01 L640.17,436.45 L640.84,436.91 L641.51,437.36 L642.17,437.81 L642.82,438.26 L643.47,438.72 L644.11,439.18 L644.76,439.64 L645.39,440.09 L646.02,440.55 L646.65,441.01 L647.27,441.47 L647.88,441.93 L648.50,442.40 L649.10,442.86 L649.71,443.32 L650.30,443.78 L650.90,444.24 L651.48,444.70 L652.07,445.17 L652.65,445.63 L653.22,446.09 L653.79,446.55 L654.36,447.01 L654.92,447.46 L655.47,447.92 L656.02,448.38 L656.57,448.84 L657.11,449.29 L657.65,449.75 L658.18,450.20 L658.71,450.65 L659.24,451.10 L659.76,451.55 L660.27,452.00 L660.78,452.44 L661.29,452.89 L661.79,453.33 L662.28,453.77 L662.78,454.21 L663.27,454.65 L663.75,455.08 L664.23,455.52 L664.70,455.95 L665.17,456.38 L665.64,456.81 L666.10,457.23 L666.56,457.65 L667.01,458.07 L667.45,458.49 L667.90,458.91 L668.34,459.32 L668.77,459.73 L669.20,460.14 L669.63,460.54 L670.05,460.95 L670.47,461.35 L670.88,461.74" fill="none" stroke="#008080" stroke-width="2.86" stroke-linejoin="round" stroke-linecap="square"/>
<path d="M413.91,492.59l5.8,5.8M413.91,498.39l5.8,-5.8M441.31,483.16l5.8,5.8M441.31,488.96l5.8,-5.8M457.48,475.68l5.8,5.8M457.48,481.48l5.8,-5.8M469.06,469.50l5.8,5.8M469.06,475.30l5.8,-5.8M478.12,464.25l5.8,5.8M478.12,470.05l5.8,-5.8M485.59,459.68l5.8,5.8M485.59,465.48l5.8,-5.8M491.96,455.65l5.8,5.8M491.96,461.45l5.8,-5.8M497.53,452.03l5.8,5.8M497.53,457.83l5.8,-5.8M502.48,448.76l5.8,5.8M502.48,454.56l5.8,-5.8M506.95,445.78l5.8,5.8M506.95,451.58l5.8,-5.8M511.03,443.07l5.8,5.8M511.03,448.87l5.8,-5.8M514.79,440.59l5.8,5.8M514.79,446.39l5.8,-5.8M518.27,438.31l5.8,5.8M518.27,444.11l5.8,-5.8M521.52,436.22l5.8,5.8M521.52,442.02l5.8,-5.8M524.58,434.36l5.8,5.8M524.58,440.16l5.8,-5.8M527.46,432.68l5.8,5.8M527.46,438.48l5.8,-5.8M530.19,431.14l5.8,5.8M530.19,436.94l5.8,-5.8M532.78,429.71l5.8,5.8M532.78,435.51l5.8,-5.8M535.26,428.39l5.8,5.8M535.26,434.19l5.8,-5.8M537.62,427.17l5.8,5.8M537.62,432.97l5.8,-5.8M539.89,426.04l5.8,5.8M539.89,431.84l5.8,-5.8M542.07,424.99l5.8,5.8M542.07,430.79l5.8,-5.8M544.17,424.02l5.8,5.8M544.17,429.82l5.8,-5.8M546.20,423.12l5.8,5.8M546.20,428.92l5.8,-5.8M548.16,422.28l5.8,5.8M548.16,428.08l5.8,-5.8M550.06,421.51l5.8,5.8M550.06,427.31l5.8,-5.8M551.90,420.80l5.8,5.8M551.90,426.60l5.8,-5.8M553.69,420.14l5.8,5.8M553.69,425.94l5.8,-5.8M555.42,419.54l5.8,5.8M555.42,425.34l5.8,-5.8M557.12,418.98l5.8,5.8M557.12,424.78l5.8,-5.8M558.77,418.47l5.8,5.8M558.77,424.27l5.8,-5.8M560.37,418.00l5.8,5.8M560.37,423.80l5.8,-5.8M561.94,417.57l5.8,5.8M561.94,423.37l5.8,-5.8M563.48,417.18l5.8,5.8M563.48,422.98l5.8,-5.8M564.98,416.83l5.8,5.8M564.98,422.63l5.8,-5.8M566.45,416.49l5.8,5.8M566.45,422.29l5.8,-5.8M567.89,416.18l5.8,5.8M567.89,421.98l5.8,-5.8M569.30,415.91l5.8,5.8M569.30,421.71l5.8,-5.8M570.69,415.66l5.8,5.8M570.69,421.46l5.8,-5.8M572.05,415.44l5.8,5.8M572.05,421.24l5.8,-5.8M573.38,415.25l5.8,5.8M573.38,421.05l5.8,-5.8M574.70,415.09l5.8,5.8M574.70,420.89l5.8,-5.8M575.99,414.95l5.8,5.8M575.99,420.75l5.8,-5.8M577.26,414.84l5.8,5.8M577.26,420.64l5.8,-5.8M578.51,414.75l5.8,5.8M578.51,420.55l5.8,-5.8M579.74,414.68l5.8,5.8M579.74,420.48l5.8,-5.8M580.95,414.63l5.8,5.8M580.95,420.43l5.8,-5.8M582.14,414.61l5.8,5.8M582.14,420.41l5.8,-5.8M583.32,414.60l5.8,5.8M583.32,420.40l5.8,-5.8M584.48,414.61l5.8,5.8M584.48,420.41l5.8,-5.8M585.63,414.65l5.8,5.8M585.63,420.45l5.8,-5.8M586.76,414.70l5.8,5.8M586.76,420.50l5.8,-5.8M587.87,414.77l5.8,5.8M587.87,420.57l5.8,-5.8M588.97,414.86l5.8,5.8M588.97,420.66l5.8,-5.8M590.06,414.96l5.8,5.8M590.06,420.76l5.8,-5.8M591.14,415.08l5.8,5.8M591.14,420.88l5.8,-5.8M592.20,415.21l5.8,5.8M592.20,421.01l5.8,-5.8M593.25,415.36l5.8,5.8M593.25,421.16l5.8,-5.8M594.29,415.52l5.8,5.8M594.29,421.32l5.8,-5.8M595.31,415.70l5.8,5.8M595.31,421.50l5.8,-5.8M596.33,415.89l5.8,5.8M596.33,421.69l5.8,-5.8M597.33,416.09l5.8,5.8M597.33,421.89l5.8,-5.8M598.33,416.30l5.8,5.8M598.33,422.10l5.8,-5.8M599.31,416.52l5.8,5.8M599.31,422.32l5.8,-5.8M600.29,416.76l5.8,5.8M600.29,422.56l5.8,-5.8M601.25,417.00l5.8,5.8M601.25,422.80l5.8,-5.8M602.21,417.26l5.8,5.8M602.21,423.06l5.8,-5.8M603.15,417.52l5.8,5.8M603.15,423.32l5.8,-5.8M604.09,417.78l5.8,5.8M604.09,423.58l5.8,-5.8M605.02,418.04l5.8,5.8M605.02,423.84l5.8,-5.8M605.94,418.30l5.8,5.8M605.94,424.10l5.8,-5.8M606.85,418.57l5.8,5.8M606.85,424.37l5.8,-5.8M607.76,418.85l5.8,5.8M607.76,424.65l5.8,-5.8M608.65,419.14l5.8,5.8M608.65,424.94l5.8,-5.8M609.54,419.44l5.8,5.8M609.54,425.24l5.8,-5.8M610.42,419.74l5.8,5.8M610.42,425.54l5.8,-5.8M611.29,420.05l5.8,5.8M611.29,425.85l5.8,-5.8M612.16,420.37l5.8,5.8M612.16,426.17l5.8,-5.8M613.02,420.69l5.8,5.8M613.02,426.49l5.8,-5.8M613.87,421.03l5.8,5.8M613.87,426.83l5.8,-5.8M614.71,421.36l5.8,5.8M614.71,427.16l5.8,-5.8M615.55,421.71l5.8,5.8M615.55,427.51l5.8,-5.8M616.38,422.06l5.8,5.8M616.38,427.86l5.8,-5.8M617.21,422.41l5.8,5.8M617.21,428.21l5.8,-5.8M618.02,422.77l5.8,5.8M618.02,428.57l5.8,-5.8M618.84,423.14l5.8,5.8M618.84,428.94l5.8,-5.8M619.64,423.51l5.8,5.8M619.64,429.31l5.8,-5.8M620.44,423.89l5.8,5.8M620.44,429.69l5.8,-5.8M621.23,424.27l5.8,5.8M621.23,430.07l5.8,-5.8M622.02,424.65l5.8,5.8M622.02,430.45l5.8,-5.8M622.80,425.04l5.8,5.8M622.80,430.84l5.8,-5.8M623.58,425.44l5.8,5.8M623.58,431.24l5.8,-5.8M624.35,425.84l5.8,5.8M624.35,431.64l5.8,-5.8M625.11,426.24l5.8,5.8M625.11,432.04l5.8,-5.8M625.87,426.65l5.8,5.8M625.87,432.45l5.8,-5.8M626.62,427.06l5.8,5.8M626.62,432.86l5.8,-5.8M627.37,427.47l5.8,5.8M627.37,433.27l5.8,-5.8M628.11,427.89l5.8,5.8M628.11,433.69l5.8,-5.8M628.85,428.31l5.8,5.8M628.85,434.11l5.8,-5.8M629.58,428.73l5.8,5.8M629.58,434.53l5.8,-5.8M630.30,429.16l5.8,5.8M630.30,434.96l5.8,-5.8M631.02,429.59l5.8,5.8M631.02,435.39l5.8,-5.8M631.74,430.02l5.8,5.8M631.74,435.82l5.8,-5.8M632.45,430.45l5.8,5.8M632.45,436.25l5.8,-5.8M633.15,430.89l5.8,5.8M633.15,436.69l5.8,-5.8M633.85,431.33l5.8,5.8M633.85,437.13l5.8,-5.8M634.55,431.77l5.8,5.8M634.55,437.57l5.8,-5.8M635.23,432.21l5.8,5.8M635.23,438.01l5.8,-5.8M635.92,432.66l5.8,5.8M635.92,438.46l5.8,-5.8M636.60,433.11l5.8,5.8M636.60,438.91l5.8,-5.8M637.27,433.55l5.8,5.8M637.27,439.35l5.8,-5.8M637.94,434.01l5.8,5.8M637.94,439.81l5.8,-5.8M638.61,434.46l5.8,5.8M638.61,440.26l5.8,-5.8M639.27,434.91l5.8,5.8M639.27,440.71l5.8,-5.8M639.92,435.36l5.8,5.8M639.92,441.16l5.8,-5.8M640.57,435.82l5.8,5.8M640.57,441.62l5.8,-5.8M641.21,436.28l5.8,5.8M641.21,442.08l5.8,-5.8M641.86,436.74l5.8,5.8M641.86,442.54l5.8,-5.8M642.49,437.19l5.8,5.8M642.49,442.99l5.8,-5.8M643.12,437.65l5.8,5.8M643.12,443.45l5.8,-5.8M643.75,438.11l5.8,5.8M643.75,443.91l5.8,-5.8M644.37,438.57l5.8,5.8M644.37,444.37l5.8,-5.8M644.98,439.03l5.8,5.8M644.98,444.83l5.8,-5.8M645.60,439.50l5.8,5.8M645.60,445.30l5.8,-5.8M646.20,439.96l5.8,5.8M646.20,445.76l5.8,-5.8M646.81,440.42l5.8,5.8M646.81,446.22l5.8,-5.8M647.40,440.88l5.8,5.8M647.40,446.68l5.8,-5.8M648.00,441.34l5.8,5.8M648.00,447.14l5.8,-5.8M648.58,441.80l5.8,5.8M648.58,447.60l5.8,-5.8M649.17,442.27l5.8,5.8M649.17,448.07l5.8,-5.8M649.75,442.73l5.8,5.8M649.75,448.53l5.8,-5.8M650.32,443.19l5.8,5.8M650.32,448.99l5.8,-5.8M650.89,443.65l5.8,5.8M650.89,449.45l5.8,-5.8M651.46,444.11l5.8,5.8M651.46,449.91l5.8,-5.8M652.02,444.56l5.8,5.8M652.02,450.36l5.8,-5.8M652.57,445.02l5.8,5.8M652.57,450.82l5.8,-5.8M653.12,445.48l5.8,5.8M653.12,451.28l5.8,-5.8M653.67,445.94l5.8,5.8M653.67,451.74l5.8,-5.8M654.21,446.39l5.8,5.8M654.21,452.19l5.8,-5.8M654.75,446.85l5.8,5.8M654.75,452.65l5.8,-5.8M655.28,447.30l5.8,5.8M655.28,453.10l5.8,-5.8M655.81,447.75l5.8,5.8M655.81,453.55l5.8,-5.8M656.34,448.20l5.8,5.8M656.34,454.00l5.8,-5.8M656.86,448.65l5.8,5.8M656.86,454.45l5.8,-5.8M657.37,449.10l5.8,5.8M657.37,454.90l5.8,-5.8M657.88,449.54l5.8,5.8M657.88,455.34l5.8,-5.8M658.39,449.99l5.8,5.8M658.39,455.79l5.8,-5.8M658.89,450.43l5.8,5.8M658.89,456.23l5.8,-5.8M659.38,450.87l5.8,5.8M659.38,456.67l5.8,-5.8M659.88,451.31l5.8,5.8M659.88,457.11l5.8,-5.8M660.37,451.75l5.8,5.8M660.37,457.55l5.8,-5.8M660.85,452.18l5.8,5.8M660.85,457.98l5.8,-5.8M661.33,452.62l5.8,5.8M661.33,458.42l5.8,-5.8M661.80,453.05l5.8,5.8M661.80,458.85l5.8,-5.8M662.27,453.48l5.8,5.8M662.27,459.28l5.8,-5.8M662.74,453.91l5.8,5.8M662.74,459.71l5.8,-5.8M663.20,454.33l5.8,5.8M663.20,460.13l5.8,-5.8M663.66,454.75l5.8,5.8M663.66,460.55l5.8,-5.8M664.11,455.17l5.8,5.8M664.11,460.97l5.8,-5.8M664.55,455.59l5.8,5.8M664.55,461.39l5.8,-5.8M665.00,456.01l5.8,5.8M665.00,461.81l5.8,-5.8M665.44,456.42l5.8,5.8M665.44,462.22l5.8,-5.8M665.87,456.83l5.8,5.8M665.87,462.63l5.8,-5.8M666.30,457.24l5.8,5.8M666.30,463.04l5.8,-5.8M666.73,457.64l5.8,5.8M666.73,463.44l5.8,-5.8M667.15,458.05l5.8,5.8M667.15,463.85l5.8,-5.8M667.57,458.45l5.8,5.8M667.57,464.25l5.8,-5.8M667.98,458.84l5.8,5.8M667.98,464.64l5.8,-5.8" fill="none" stroke="#008080" stroke-width="1.7"/>
<path d="M416.81,489.09 L444.21,473.02 L460.38,456.26 L471.96,439.57 L481.02,423.73 L488.49,411.68 L494.86,398.82 L500.43,385.12 L505.38,373.28 L509.85,363.08 L513.93,354.44 L517.69,347.15 L521.17,341.05 L524.42,336.11 L527.48,332.28 L530.36,329.51 L533.09,327.60 L535.68,326.40 L538.16,325.77 L540.52,325.65 L542.79,325.91 L544.97,326.49 L547.07,327.33 L549.10,328.38 L551.06,329.61 L552.96,330.98 L554.80,332.50 L556.59,334.24 L558.32,336.05 L560.02,337.91 L561.67,339.80 L563.27,341.72 L564.84,343.66 L566.38,345.60 L567.88,347.55 L569.35,349.48 L570.79,351.34 L572.20,353.16 L573.59,354.96 L574.95,356.75 L576.28,358.51 L577.60,360.24 L578.89,361.94 L580.16,363.60 L581.41,365.24 L582.64,366.83 L583.85,368.39 L585.04,369.91 L586.22,371.16 L587.38,372.37 L588.53,373.55 L589.66,374.69 L590.77,375.79 L591.87,376.85 L592.96,377.87 L594.04,378.86 L595.10,379.81 L596.15,380.72 L597.19,381.60 L598.21,382.46 L599.23,383.28 L600.23,384.15 L601.23,385.04 L602.21,385.91 L603.19,386.76 L604.15,387.59 L605.11,388.39 L606.05,389.18 L606.99,389.95 L607.92,390.70 L608.84,391.43 L609.75,392.16 L610.66,392.87 L611.55,393.57 L612.44,394.25 L613.32,394.93 L614.19,395.60 L615.06,396.25 L615.92,396.93 L616.77,397.60 L617.61,398.27 L618.45,398.94 L619.28,399.59 L620.11,400.24 L620.92,400.89 L621.74,401.53 L622.54,402.16 L623.34,402.80 L624.13,403.42 L624.92,404.05 L625.70,404.67 L626.48,405.29 L627.25,405.90 L628.01,406.52 L628.77,407.13 L629.52,407.74 L630.27,408.34 L631.01,408.90 L631.75,409.46 L632.48,410.02 L633.20,410.58 L633.92,411.14 L634.64,411.70 L635.35,412.26 L636.05,412.82 L636.75,413.38 L637.45,413.95 L638.13,414.51 L638.82,415.08 L639.50,415.65 L640.17,416.22 L640.84,416.80 L641.51,417.37 L642.17,417.96 L642.82,418.54 L643.47,419.14 L644.11,419.73 L644.76,420.34 L645.39,420.95 L646.02,421.56 L646.65,422.18 L647.27,422.81 L647.88,423.45 L648.50,424.10 L649.10,424.75 L649.71,425.41 L650.30,426.08 L650.90,426.76 L651.48,427.45 L652.07,428.14 L652.65,428.85 L653.22,429.56 L653.79,430.28 L654.36,431.01 L654.92,431.74 L655.47,432.47 L656.02,433.20 L656.57,433.93 L657.11,434.66 L657.65,435.39 L658.18,436.11 L658.71,436.82 L659.24,437.53 L659.76,438.23 L660.27,438.92 L660.78,439.60 L661.29,440.27 L661.79,440.93 L662.28,441.57 L662.78,442.20 L663.27,442.82 L663.75,443.42 L664.23,444.01 L664.70,444.58 L665.17,445.13 L665.64,445.67 L666.10,446.19 L666.56,446.69 L667.01,447.17 L667.45,447.63 L667.90,448.08 L668.34,448.50 L668.77,448.91 L669.20,449.30 L669.63,449.67 L670.05,450.01 L670.47,450.34 L670.88,450.65" fill="none" stroke="#ff0000" stroke-width="2.86" stroke-linejoin="round" stroke-linecap="square"/>
<path d="M413.21,489.09a3.6,3.6 0 1,0 7.2,0a3.6,3.6 0 1,0 -7.2,0M440.61,473.02a3.6,3.6 0 1,0 7.2,0a3.6,3.6 0 1,0 -7.2,0M456.78,456.26a3.6,3.6 0 1,0 7.2,0a3.6,3.6 0 1,0 -7.2,0M468.36,439.57a3.6,3.6 0 1,0 7.2,0a3.6,3.6 0 1,0 -7.2,0M477.42,423.73a3.6,3.6 0 1,0 7.2,0a3.6,3.6 0 1,0 -7.2,0M484.89,411.68a3.6,3.6 0 1,0 7.2,0a3.6,3.6 0 1,0 -7.2,0M491.26,398.82a3.6,3.6 0 1,0 7.2,0a3.6,3.6 0 1,0 -7.2,0M496.83,385.12a3.6,3.6 0 1,0 7.2,0a3.6,3.6 0 1,0 -7.2,0M501.78,373.28a3.6,3.6 0 1,0 7.2,0a3.6,3.6 0 1,0 -7.2,0M506.25,363.08a3.6,3.6 0 1,0 7.2,0a3.6,3.6 0 1,0 -7.2,0M510.33,354.44a3.6,3.6 0 1,0 7.2,0a3.6,3.6 0 1,0 -7.2,0M514.09,347.15a3.6,3.6 0 1,0 7.2,0a3.6,3.6 0 1,0 -7.2,0M517.57,341.05a3.6,3.6 0 1,0 7.2,0a3.6,3.6 0 1,0 -7.2,0M520.82,336.11a3.6,3.6 0 1,0 7.2,0a3.6,3.6 0 1,0 -7.2,0M523.88,332.28a3.6,3.6 0 1,0 7.2,0a3.6,3.6 0 1,0 -7.2,0M526.76,329.51a3.6,3.6 0 1,0 7.2,0a3.6,3.6 0 1,0 -7.2,0M529.49,327.60a3.6,3.6 0 1,0 7.2,0a3.6,3.6 0 1,0 -7.2,0M532.08,326.40a3.6,3.6 0 1,0 7.2,0a3.6,3.6 0 1,0 -7.2,0M534.56,325.77a3.6,3.6 0 1,0 7.2,0a3.6,3.6 0 1,0 -7.2,0M536.92,325.65a3.6,3.6 0 1,0 7.2,0a3.6,3.6 0 1,0 -7.2,0M539.19,325.91a3.6,3.6 0 1,0 7.2,0a3.6,3.6 0 1,0 -7.2,0M541.37,326.49a3.6,3.6 0 1,0 7.2,0a3.6,3.6 0 1,0 -7.2,0M543.47,327.33a3.6,3.6 0 1,0 7.2,0a3.6,3.6 0 1,0 -7.2,0M545.50,328.38a3.6,3.6 0 1,0 7.2,0a3.6,3.6 0 1,0 -7.2,0M547.46,329.61a3.6,3.6 0 1,0 7.2,0a3.6,3.6 0 1,0 -7.2,0M549.36,330.98a3.6,3.6 0 1,0 7.2,0a3.6,3.6 0 1,0 -7.2,0M551.20,332.50a3.6,3.6 0 1,0 7.2,0a3.6,3.6 0 1,0 -7.2,0M552.99,334.24a3.6,3.6 0 1,0 7.2,0a3.6,3.6 0 1,0 -7.2,0M554.72,336.05a3.6,3.6 0 1,0 7.2,0a3.6,3.6 0 1,0 -7.2,0M556.42,337.91a3.6,3.6 0 1,0 7.2,0a3.6,3.6 0 1,0 -7.2,0M558.07,339.80a3.6,3.6 0 1,0 7.2,0a3.6,3.6 0 1,0 -7.2,0M559.67,341.72a3.6,3.6 0 1,0 7.2,0a3.6,3.6 0 1,0 -7.2,0M561.24,343.66a3.6,3.6 0 1,0 7.2,0a3.6,3.6 0 1,0 -7.2,0M562.78,345.60a3.6,3.6 0 1,0 7.2,0a3.6,3.6 0 1,0 -7.2,0M564.28,347.55a3.6,3.6 0 1,0 7.2,0a3.6,3.6 0 1,0 -7.2,0M565.75,349.48a3.6,3.6 0 1,0 7.2,0a3.6,3.6 0 1,0 -7.2,0M567.19,351.34a3.6,3.6 0 1,0 7.2,0a3.6,3.6 0 1,0 -7.2,0M568.60,353.16a3.6,3.6 0 1,0 7.2,0a3.6,3.6 0 1,0 -7.2,0M569.99,354.96a3.6,3.6 0 1,0 7.2,0a3.6,3.6 0 1,0 -7.2,0M571.35,356.75a3.6,3.6 0 1,0 7.2,0a3.6,3.6 0 1,0 -7.2,0M572.68,358.51a3.6,3.6 0 1,0 7.2,0a3.6,3.6 0 1,0 -7.2,0M574.00,360.24a3.6,3.6 0 1,0 7.2,0a3.6,3.6 0 1,0 -7.2,0M575.29,361.94a3.6,3.6 0 1,0 7.2,0a3.6,3.6 0 1,0 -7.2,0M576.56,363.60a3.6,3.6 0 1,0 7.2,0a3.6,3.6 0 1,0 -7.2,0M577.81,365.24a3.6,3.6 0 1,0 7.2,0a3.6,3.6 0 1,0 -7.2,0M579.04,366.83a3.6,3.6 0 1,0 7.2,0a3.6,3.6 0 1,0 -7.2,0M580.25,368.39a3.6,3.6 0 1,0 7.2,0a3.6,3.6 0 1,0 -7.2,0M581.44,369.91a3.6,3.6 0 1,0 7.2,0a3.6,3.6 0 1,0 -7.2,0M582.62,371.16a3.6,3.6 0 1,0 7.2,0a3.6,3.6 0 1,0 -7.2,0M583.78,372.37a3.6,3.6 0 1,0 7.2,0a3.6,3.6 0 1,0 -7.2,0M584.93,373.55a3.6,3.6 0 1,0 7.2,0a3.6,3.6 0 1,0 -7.2,0M586.06,374.69a3.6,3.6 0 1,0 7.2,0a3.6,3.6 0 1,0 -7.2,0M587.17,375.79a3.6,3.6 0 1,0 7.2,0a3.6,3.6 0 1,0 -7.2,0M588.27,376.85a3.6,3.6 0 1,0 7.2,0a3.6,3.6 0 1,0 -7.2,0M589.36,377.87a3.6,3.6 0 1,0 7.2,0a3.6,3.6 0 1,0 -7.2,0M590.44,378.86a3.6,3.6 0 1,0 7.2,0a3.6,3.6 0 1,0 -7.2,0M591.50,379.81a3.6,3.6 0 1,0 7.2,0a3.6,3.6 0 1,0 -7.2,0M592.55,380.72a3.6,3.6 0 1,0 7.2,0a3.6,3.6 0 1,0 -7.2,0M593.59,381.60a3.6,3.6 0 1,0 7.2,0a3.6,3.6 0 1,0 -7.2,0M594.61,382.46a3.6,3.6 0 1,0 7.2,0a3.6,3.6 0 1,0 -7.2,0M595.63,383.28a3.6,3.6 0 1,0 7.2,0a3.6,3.6 0 1,0 -7.2,0M596.63,384.15a3.6,3.6 0 1,0 7.2,0a3.6,3.6 0 1,0 -7.2,0M597.63,385.04a3.6,3.6 0 1,0 7.2,0a3.6,3.6 0 1,0 -7.2,0M598.61,385.91a3.6,3.6 0 1,0 7.2,0a3.6,3.6 0 1,0 -7.2,0M599.59,386.76a3.6,3.6 0 1,0 7.2,0a3.6,3.6 0 1,0 -7.2,0M600.55,387.59a3.6,3.6 0 1,0 7.2,0a3.6,3.6 0 1,0 -7.2,0M601.51,388.39a3.6,3.6 0 1,0 7.2,0a3.6,3.6 0 1,0 -7.2,0M602.45,389.18a3.6,3.6 0 1,0 7.2,0a3.6,3.6 0 1,0 -7.2,0M603.39,389.95a3.6,3.6 0 1,0 7.2,0a3.6,3.6 0 1,0 -7.2,0M604.32,390.70a3.6,3.6 0 1,0 7.2,0a3.6,3.6 0 1,0 -7.2,0M605.24,391.43a3.6,3.6 0 1,0 7.2,0a3.6,3.6 0 1,0 -7.2,0M606.15,392.16a3.6,3.6 0 1,0 7.2,0a3.6,3.6 0 1,0 -7.2,0M607.06,392.87a3.6,3.6 0 1,0 7.2,0a3.6,3.6 0 1,0 -7.2,0M607.95,393.57a3.6,3.6 0 1,0 7.2,0a3.6,3.6 0 1,0 -7.2,0M608.84,394.25a3.6,3.6 0 1,0 7.2,0a3.6,3.6 0 1,0 -7.2,0M609.72,394.93a3.6,3.6 0 1,0 7.2,0a3.6,3.6 0 1,0 -7.2,0M610.59,395.60a3.6,3.6 0 1,0 7.2,0a3.6,3.6 0 1,0 -7.2,0M611.46,396.25a3.6,3.6 0 1,0 7.2,0a3.6,3.6 0 1,0 -7.2,0M612.32,396.93a3.6,3.6 0 1,0 7.2,0a3.6,3.6 0 1,0 -7.2,0M613.17,397.60a3.6,3.6 0 1,0 7.2,0a3.6,3.6 0 1,0 -7.2,0M614.01,398.27a3.6,3.6 0 1,0 7.2,0a3.6,3.6 0 1,0 -7.2,0M614.85,398.94a3.6,3.6 0 1,0 7.2,0a3.6,3.6 0 1,0 -7.2,0M615.68,399.59a3.6,3.6 0 1,0 7.2,0a3.6,3.6 0 1,0 -7.2,0M616.51,400.24a3.6,3.6 0 1,0 7.2,0a3.6,3.6 0 1,0 -7.2,0M617.32,400.89a3.6,3.6 0 1,0 7.2,0a3.6,3.6 0 1,0 -7.2,0M618.14,401.53a3.6,3.6 0 1,0 7.2,0a3.6,3.6 0 1,0 -7.2,0M618.94,402.16a3.6,3.6 0 1,0 7.2,0a3.6,3.6 0 1,0 -7.2,0M619.74,402.80a3.6,3.6 0 1,0 7.2,0a3.6,3.6 0 1,0 -7.2,0M620.53,403.42a3.6,3.6 0 1,0 7.2,0a3.6,3.6 0 1,0 -7.2,0M621.32,404.05a3.6,3.6 0 1,0 7.2,0a3.6,3.6 0 1,0 -7.2,0M622.10,404.67a3.6,3.6 0 1,0 7.2,0a3.6,3.6 0 1,0 -7.2,0M622.88,405.29a3.6,3.6 0 1,0 7.2,0a3.6,3.6 0 1,0 -7.2,0M623.65,405.90a3.6,3.6 0 1,0 7.2,0a3.6,3.6 0 1,0 -7.2,0M624.41,406.52a3.6,3.6 0 1,0 7.2,0a3.6,3.6 0 1,0 -7.2,0M625.17,407.13a3.6,3.6 0 1,0 7.2,0a3.6,3.6 0 1,0 -7.2,0M625.92,407.74a3.6,3.6 0 1,0 7.2,0a3.6,3.6 0 1,0 -7.2,0M626.67,408.34a3.6,3.6 0 1,0 7.2,0a3.6,3.6 0 1,0 -7.2,0M627.41,408.90a3.6,3.6 0 1,0 7.2,0a3.6,3.6 0 1,0 -7.2,0M628.15,409.46a3.6,3.6 0 1,0 7.2,0a3.6,3.6 0 1,0 -7.2,0M628.88,410.02a3.6,3.6 0 1,0 7.2,0a3.6,3.6 0 1,0 -7.2,0M629.60,410.58a3.6,3.6 0 1,0 7.2,0a3.6,3.6 0 1,0 -7.2,0M630.32,411.14a3.6,3.6 0 1,0 7.2,0a3.6,3.6 0 1,0 -7.2,0M631.04,411.70a3.6,3.6 0 1,0 7.2,0a3.6,3.6 0 1,0 -7.2,0M631.75,412.26a3.6,3.6 0 1,0 7.2,0a3.6,3.6 0 1,0 -7.2,0M632.45,412.82a3.6,3.6 0 1,0 7.2,0a3.6,3.6 0 1,0 -7.2,0M633.15,413.38a3.6,3.6 0 1,0 7.2,0a3.6,3.6 0 1,0 -7.2,0M633.85,413.95a3.6,3.6 0 1,0 7.2,0a3.6,3.6 0 1,0 -7.2,0M634.53,414.51a3.6,3.6 0 1,0 7.2,0a3.6,3.6 0 1,0 -7.2,0M635.22,415.08a3.6,3.6 0 1,0 7.2,0a3.6,3.6 0 1,0 -7.2,0M635.90,415.65a3.6,3.6 0 1,0 7.2,0a3.6,3.6 0 1,0 -7.2,0M636.57,416.22a3.6,3.6 0 1,0 7.2,0a3.6,3.6 0 1,0 -7.2,0M637.24,416.80a3.6,3.6 0 1,0 7.2,0a3.6,3.6 0 1,0 -7.2,0M637.91,417.37a3.6,3.6 0 1,0 7.2,0a3.6,3.6 0 1,0 -7.2,0M638.57,417.96a3.6,3.6 0 1,0 7.2,0a3.6,3.6 0 1,0 -7.2,0M639.22,418.54a3.6,3.6 0 1,0 7.2,0a3.6,3.6 0 1,0 -7.2,0M639.87,419.14a3.6,3.6 0 1,0 7.2,0a3.6,3.6 0 1,0 -7.2,0M640.51,419.73a3.6,3.6 0 1,0 7.2,0a3.6,3.6 0 1,0 -7.2,0M641.16,420.34a3.6,3.6 0 1,0 7.2,0a3.6,3.6 0 1,0 -7.2,0M641.79,420.95a3.6,3.6 0 1,0 7.2,0a3.6,3.6 0 1,0 -7.2,0M642.42,421.56a3.6,3.6 0 1,0 7.2,0a3.6,3.6 0 1,0 -7.2,0M643.05,422.18a3.6,3.6 0 1,0 7.2,0a3.6,3.6 0 1,0 -7.2,0M643.67,422.81a3.6,3.6 0 1,0 7.2,0a3.6,3.6 0 1,0 -7.2,0M644.28,423.45a3.6,3.6 0 1,0 7.2,0a3.6,3.6 0 1,0 -7.2,0M644.90,424.10a3.6,3.6 0 1,0 7.2,0a3.6,3.6 0 1,0 -7.2,0M645.50,424.75a3.6,3.6 0 1,0 7.2,0a3.6,3.6 0 1,0 -7.2,0M646.11,425.41a3.6,3.6 0 1,0 7.2,0a3.6,3.6 0 1,0 -7.2,0M646.70,426.08a3.6,3.6 0 1,0 7.2,0a3.6,3.6 0 1,0 -7.2,0M647.30,426.76a3.6,3.6 0 1,0 7.2,0a3.6,3.6 0 1,0 -7.2,0M647.88,427.45a3.6,3.6 0 1,0 7.2,0a3.6,3.6 0 1,0 -7.2,0M648.47,428.14a3.6,3.6 0 1,0 7.2,0a3.6,3.6 0 1,0 -7.2,0M649.05,428.85a3.6,3.6 0 1,0 7.2,0a3.6,3.6 0 1,0 -7.2,0M649.62,429.56a3.6,3.6 0 1,0 7.2,0a3.6,3.6 0 1,0 -7.2,0M650.19,430.28a3.6,3.6 0 1,0 7.2,0a3.6,3.6 0 1,0 -7.2,0M650.76,431.01a3.6,3.6 0 1,0 7.2,0a3.6,3.6 0 1,0 -7.2,0M651.32,431.74a3.6,3.6 0 1,0 7.2,0a3.6,3.6 0 1,0 -7.2,0M651.87,432.47a3.6,3.6 0 1,0 7.2,0a3.6,3.6 0 1,0 -7.2,0M652.42,433.20a3.6,3.6 0 1,0 7.2,0a3.6,3.6 0 1,0 -7.2,0M652.97,433.93a3.6,3.6 0 1,0 7.2,0a3.6,3.6 0 1,0 -7.2,0M653.51,434.66a3.6,3.6 0 1,0 7.2,0a3.6,3.6 0 1,0 -7.2,0M654.05,435.39a3.6,3.6 0 1,0 7.2,0a3.6,3.6 0 1,0 -7.2,0M654.58,436.11a3.6,3.6 0 1,0 7.2,0a3.6,3.6 0 1,0 -7.2,0M655.11,436.82a3.6,3.6 0 1,0 7.2,0a3.6,3.6 0 1,0 -7.2,0M655.64,437.53a3.6,3.6 0 1,0 7.2,0a3.6,3.6 0 1,0 -7.2,0M656.16,438.23a3.6,3.6 0 1,0 7.2,0a3.6,3.6 0 1,0 -7.2,0M656.67,438.92a3.6,3.6 0 1,0 7.2,0a3.6,3.6 0 1,0 -7.2,0M657.18,439.60a3.6,3.6 0 1,0 7.2,0a3.6,3.6 0 1,0 -7.2,0M657.69,440.27a3.6,3.6 0 1,0 7.2,0a3.6,3.6 0 1,0 -7.2,0M658.19,440.93a3.6,3.6 0 1,0 7.2,0a3.6,3.6 0 1,0 -7.2,0M658.68,441.57a3.6,3.6 0 1,0 7.2,0a3.6,3.6 0 1,0 -7.2,0M659.18,442.20a3.6,3.6 0 1,0 7.2,0a3.6,3.6 0 1,0 -7.2,0M659.67,442.82a3.6,3.6 0 1,0 7.2,0a3.6,3.6 0 1,0 -7.2,0M660.15,443.42a3.6,3.6 0 1,0 7.2,0a3.6,3.6 0 1,0 -7.2,0M660.63,444.01a3.6,3.6 0 1,0 7.2,0a3.6,3.6 0 1,0 -7.2,0M661.10,444.58a3.6,3.6 0 1,0 7.2,0a3.6,3.6 0 1,0 -7.2,0M661.57,445.13a3.6,3.6 0 1,0 7.2,0a3.6,3.6 0 1,0 -7.2,0M662.04,445.67a3.6,3.6 0 1,0 7.2,0a3.6,3.6 0 1,0 -7.2,0M662.50,446.19a3.6,3.6 0 1,0 7.2,0a3.6,3.6 0 1,0 -7.2,0M662.96,446.69a3.6,3.6 0 1,0 7.2,0a3.6,3.6 0 1,0 -7.2,0M663.41,447.17a3.6,3.6 0 1,0 7.2,0a3.6,3.6 0 1,0 -7.2,0M663.85,447.63a3.6,3.6 0 1,0 7.2,0a3.6,3.6 0 1,0 -7.2,0M664.30,448.08a3.6,3.6 0 1,0 7.2,0a3.6,3.6 0 1,0 -7.2,0M664.74,448.50a3.6,3.6 0 1,0 7.2,0a3.6,3.6 0 1,0 -7.2,0M665.17,448.91a3.6,3.6 0 1,0 7.2,0a3.6,3.6 0 1,0 -7.2,0M665.60,449.30a3.6,3.6 0 1,0 7.2,0a3.6,3.6 0 1,0 -7.2,0M666.03,449.67a3.6,3.6 0 1,0 7.2,0a3.6,3.6 0 1,0 -7.2,0M666.45,450.01a3.6,3.6 0 1,0 7.2,0a3.6,3.6 0 1,0 -7.2,0M666.87,450.34a3.6,3.6 0 1,0 7.2,0a3.6,3.6 0 1,0 -7.2,0M667.28,450.65a3.6,3.6 0 1,0 7.2,0a3.6,3.6 0 1,0 -7.2,0" fill="#ff0000"/>
<path d="M416.81,506.09 L444.21,505.49 L460.38,504.44 L471.96,503.03 L481.02,501.10 L488.49,498.89 L494.86,496.87 L500.43,494.89 L505.38,492.72 L509.85,490.49 L513.93,488.48 L517.69,486.58 L521.17,484.67 L524.42,482.75 L527.48,480.90 L530.36,479.15 L533.09,477.46 L535.68,475.76 L538.16,474.08 L540.52,472.43 L542.79,470.79 L544.97,469.17 L547.07,467.57 L549.10,465.99 L551.06,464.43 L552.96,462.91 L554.80,461.46 L556.59,460.05 L558.32,458.69 L560.02,457.38 L561.67,456.12 L563.27,454.92 L564.84,453.77 L566.38,452.68 L567.88,451.64 L569.35,450.60 L570.79,449.58 L572.20,448.61 L573.59,447.71 L574.95,446.86 L576.28,446.07 L577.60,445.33 L578.89,444.66 L580.16,444.04 L581.41,443.48 L582.64,442.97 L583.85,442.51 L585.04,442.10 L586.22,441.73 L587.38,441.40 L588.53,441.11 L589.66,440.85 L590.77,440.62 L591.87,440.43 L592.96,440.26 L594.04,440.12 L595.10,440.01 L596.15,439.92 L597.19,439.84 L598.21,439.79 L599.23,439.76 L600.23,439.74 L601.23,439.74 L602.21,439.75 L603.19,439.77 L604.15,439.81 L605.11,439.86 L606.05,439.92 L606.99,439.99 L607.92,440.06 L608.84,440.15 L609.75,440.24 L610.66,440.33 L611.55,440.44 L612.44,440.55 L613.32,440.67 L614.19,440.79 L615.06,440.92 L615.92,441.06 L616.77,441.20 L617.61,441.35 L618.45,441.51 L619.28,441.67 L620.11,441.83 L620.92,442.00 L621.74,442.18 L622.54,442.36 L623.34,442.55 L624.13,442.74 L624.92,442.93 L625.70,443.13 L626.48,443.34 L627.25,443.55 L628.01,443.76 L628.77,443.98 L629.52,444.20 L630.27,444.43 L631.01,444.66 L631.75,444.90 L632.48,445.13 L633.20,445.38 L633.92,445.62 L634.64,445.87 L635.35,446.12 L636.05,446.38 L636.75,446.64 L637.45,446.90 L638.13,447.17 L638.82,447.43 L639.50,447.70 L640.17,447.98 L640.84,448.26 L641.51,448.53 L642.17,448.82 L642.82,449.10 L643.47,449.39 L644.11,449.68 L644.76,449.97 L645.39,450.26 L646.02,450.56 L646.65,450.85 L647.27,451.15 L647.88,451.45 L648.50,451.76 L649.10,452.06 L649.71,452.36 L650.30,452.66 L650.90,452.96 L651.48,453.27 L652.07,453.57 L652.65,453.87 L653.22,454.17 L653.79,454.46 L654.36,454.76 L654.92,455.05 L655.47,455.35 L656.02,455.64 L656.57,455.93 L657.11,456.21 L657.65,456.50 L658.18,456.78 L658.71,457.06 L659.24,457.33 L659.76,457.60 L660.27,457.87 L660.78,458.14 L661.29,458.40 L661.79,458.66 L662.28,458.92 L662.78,459.17 L663.27,459.42 L663.75,459.66 L664.23,459.90 L664.70,460.14 L665.17,460.37 L665.64,460.60 L666.10,460.83 L666.56,461.05 L667.01,461.26 L667.45,461.48 L667.90,461.68 L668.34,461.89 L668.77,462.09 L669.20,462.29 L669.63,462.48 L670.05,462.66 L670.47,462.85 L670.88,463.03" fill="none" stroke="#ff0000" stroke-width="2.86" stroke-linejoin="round" stroke-linecap="square"/>
<path d="M413.21,502.49h7.2v7.2h-7.2zM440.61,501.89h7.2v7.2h-7.2zM456.78,500.84h7.2v7.2h-7.2zM468.36,499.43h7.2v7.2h-7.2zM477.42,497.50h7.2v7.2h-7.2zM484.89,495.29h7.2v7.2h-7.2zM491.26,493.27h7.2v7.2h-7.2zM496.83,491.29h7.2v7.2h-7.2zM501.78,489.12h7.2v7.2h-7.2zM506.25,486.89h7.2v7.2h-7.2zM510.33,484.88h7.2v7.2h-7.2zM514.09,482.98h7.2v7.2h-7.2zM517.57,481.07h7.2v7.2h-7.2zM520.82,479.15h7.2v7.2h-7.2zM523.88,477.30h7.2v7.2h-7.2zM526.76,475.55h7.2v7.2h-7.2zM529.49,473.86h7.2v7.2h-7.2zM532.08,472.16h7.2v7.2h-7.2zM534.56,470.48h7.2v7.2h-7.2zM536.92,468.83h7.2v7.2h-7.2zM539.19,467.19h7.2v7.2h-7.2zM541.37,465.57h7.2v7.2h-7.2zM543.47,463.97h7.2v7.2h-7.2zM545.50,462.39h7.2v7.2h-7.2zM547.46,460.83h7.2v7.2h-7.2zM549.36,459.31h7.2v7.2h-7.2zM551.20,457.86h7.2v7.2h-7.2zM552.99,456.45h7.2v7.2h-7.2zM554.72,455.09h7.2v7.2h-7.2zM556.42,453.78h7.2v7.2h-7.2zM558.07,452.52h7.2v7.2h-7.2zM559.67,451.32h7.2v7.2h-7.2zM561.24,450.17h7.2v7.2h-7.2zM562.78,449.08h7.2v7.2h-7.2zM564.28,448.04h7.2v7.2h-7.2zM565.75,447.00h7.2v7.2h-7.2zM567.19,445.98h7.2v7.2h-7.2zM568.60,445.01h7.2v7.2h-7.2zM569.99,444.11h7.2v7.2h-7.2zM571.35,443.26h7.2v7.2h-7.2zM572.68,442.47h7.2v7.2h-7.2zM574.00,441.73h7.2v7.2h-7.2zM575.29,441.06h7.2v7.2h-7.2zM576.56,440.44h7.2v7.2h-7.2zM577.81,439.88h7.2v7.2h-7.2zM579.04,439.37h7.2v7.2h-7.2zM580.25,438.91h7.2v7.2h-7.2zM581.44,438.50h7.2v7.2h-7.2zM582.62,438.13h7.2v7.2h-7.2zM583.78,437.80h7.2v7.2h-7.2zM584.93,437.51h7.2v7.2h-7.2zM586.06,437.25h7.2v7.2h-7.2zM587.17,437.02h7.2v7.2h-7.2zM588.27,436.83h7.2v7.2h-7.2zM589.36,436.66h7.2v7.2h-7.2zM590.44,436.52h7.2v7.2h-7.2zM591.50,436.41h7.2v7.2h-7.2zM592.55,436.32h7.2v7.2h-7.2zM593.59,436.24h7.2v7.2h-7.2zM594.61,436.19h7.2v7.2h-7.2zM595.63,436.16h7.2v7.2h-7.2zM596.63,436.14h7.2v7.2h-7.2zM597.63,436.14h7.2v7.2h-7.2zM598.61,436.15h7.2v7.2h-7.2zM599.59,436.17h7.2v7.2h-7.2zM600.55,436.21h7.2v7.2h-7.2zM601.51,436.26h7.2v7.2h-7.2zM602.45,436.32h7.2v7.2h-7.2zM603.39,436.39h7.2v7.2h-7.2zM604.32,436.46h7.2v7.2h-7.2zM605.24,436.55h7.2v7.2h-7.2zM606.15,436.64h7.2v7.2h-7.2zM607.06,436.73h7.2v7.2h-7.2zM607.95,436.84h7.2v7.2h-7.2zM608.84,436.95h7.2v7.2h-7.2zM609.72,437.07h7.2v7.2h-7.2zM610.59,437.19h7.2v7.2h-7.2zM611.46,437.32h7.2v7.2h-7.2zM612.32,437.46h7.2v7.2h-7.2zM613.17,437.60h7.2v7.2h-7.2zM614.01,437.75h7.2v7.2h-7.2zM614.85,437.91h7.2v7.2h-7.2zM615.68,438.07h7.2v7.2h-7.2zM616.51,438.23h7.2v7.2h-7.2zM617.32,438.40h7.2v7.2h-7.2zM618.14,438.58h7.2v7.2h-7.2zM618.94,438.76h7.2v7.2h-7.2zM619.74,438.95h7.2v7.2h-7.2zM620.53,439.14h7.2v7.2h-7.2zM621.32,439.33h7.2v7.2h-7.2zM622.10,439.53h7.2v7.2h-7.2zM622.88,439.74h7.2v7.2h-7.2zM623.65,439.95h7.2v7.2h-7.2zM624.41,440.16h7.2v7.2h-7.2zM625.17,440.38h7.2v7.2h-7.2zM625.92,440.60h7.2v7.2h-7.2zM626.67,440.83h7.2v7.2h-7.2zM627.41,441.06h7.2v7.2h-7.2zM628.15,441.30h7.2v7.2h-7.2zM628.88,441.53h7.2v7.2h-7.2zM629.60,441.78h7.2v7.2h-7.2zM630.32,442.02h7.2v7.2h-7.2zM631.04,442.27h7.2v7.2h-7.2zM631.75,442.52h7.2v7.2h-7.2zM632.45,442.78h7.2v7.2h-7.2zM633.15,443.04h7.2v7.2h-7.2zM633.85,443.30h7.2v7.2h-7.2zM634.53,443.57h7.2v7.2h-7.2zM635.22,443.83h7.2v7.2h-7.2zM635.90,444.10h7.2v7.2h-7.2zM636.57,444.38h7.2v7.2h-7.2zM637.24,444.66h7.2v7.2h-7.2zM637.91,444.93h7.2v7.2h-7.2zM638.57,445.22h7.2v7.2h-7.2zM639.22,445.50h7.2v7.2h-7.2zM639.87,445.79h7.2v7.2h-7.2zM640.51,446.08h7.2v7.2h-7.2zM641.16,446.37h7.2v7.2h-7.2zM641.79,446.66h7.2v7.2h-7.2zM642.42,446.96h7.2v7.2h-7.2zM643.05,447.25h7.2v7.2h-7.2zM643.67,447.55h7.2v7.2h-7.2zM644.28,447.85h7.2v7.2h-7.2zM644.90,448.16h7.2v7.2h-7.2zM645.50,448.46h7.2v7.2h-7.2zM646.11,448.76h7.2v7.2h-7.2zM646.70,449.06h7.2v7.2h-7.2zM647.30,449.36h7.2v7.2h-7.2zM647.88,449.67h7.2v7.2h-7.2zM648.47,449.97h7.2v7.2h-7.2zM649.05,450.27h7.2v7.2h-7.2zM649.62,450.57h7.2v7.2h-7.2zM650.19,450.86h7.2v7.2h-7.2zM650.76,451.16h7.2v7.2h-7.2zM651.32,451.45h7.2v7.2h-7.2zM651.87,451.75h7.2v7.2h-7.2zM652.42,452.04h7.2v7.2h-7.2zM652.97,452.33h7.2v7.2h-7.2zM653.51,452.61h7.2v7.2h-7.2zM654.05,452.90h7.2v7.2h-7.2zM654.58,453.18h7.2v7.2h-7.2zM655.11,453.46h7.2v7.2h-7.2zM655.64,453.73h7.2v7.2h-7.2zM656.16,454.00h7.2v7.2h-7.2zM656.67,454.27h7.2v7.2h-7.2zM657.18,454.54h7.2v7.2h-7.2zM657.69,454.80h7.2v7.2h-7.2zM658.19,455.06h7.2v7.2h-7.2zM658.68,455.32h7.2v7.2h-7.2zM659.18,455.57h7.2v7.2h-7.2zM659.67,455.82h7.2v7.2h-7.2zM660.15,456.06h7.2v7.2h-7.2zM660.63,456.30h7.2v7.2h-7.2zM661.10,456.54h7.2v7.2h-7.2zM661.57,456.77h7.2v7.2h-7.2zM662.04,457.00h7.2v7.2h-7.2zM662.50,457.23h7.2v7.2h-7.2zM662.96,457.45h7.2v7.2h-7.2zM663.41,457.66h7.2v7.2h-7.2zM663.85,457.88h7.2v7.2h-7.2zM664.30,458.08h7.2v7.2h-7.2zM664.74,458.29h7.2v7.2h-7.2zM665.17,458.49h7.2v7.2h-7.2zM665.60,458.69h7.2v7.2h-7.2zM666.03,458.88h7.2v7.2h-7.2zM666.45,459.06h7.2v7.2h-7.2zM666.87,459.25h7.2v7.2h-7.2zM667.28,459.43h7.2v7.2h-7.2z" fill="#ff0000"/>
<path d="M416.81,495.89 L444.21,486.76 L460.38,479.51 L471.96,473.50 L481.02,468.39 L488.49,463.94 L494.86,460.00 L500.43,456.47 L505.38,453.28 L509.85,450.37 L513.93,447.72 L517.69,445.29 L521.17,443.06 L524.42,441.01 L527.48,439.20 L530.36,437.58 L533.09,436.09 L535.68,434.72 L538.16,433.45 L540.52,432.27 L542.79,431.18 L544.97,430.17 L547.07,429.24 L549.10,428.37 L551.06,427.58 L552.96,426.85 L554.80,426.24 L556.59,425.69 L558.32,425.18 L560.02,424.72 L561.67,424.31 L563.27,423.93 L564.84,423.60 L566.38,423.30 L567.88,423.03 L569.35,422.69 L570.79,422.34 L572.20,422.01 L573.59,421.71 L574.95,421.45 L576.28,421.21 L577.60,420.99 L578.89,420.80 L580.16,420.64 L581.41,420.49 L582.64,420.37 L583.85,420.28 L585.04,420.20 L586.22,420.14 L587.38,420.11 L588.53,420.09 L589.66,420.09 L590.77,420.11 L591.87,420.14 L592.96,420.20 L594.04,420.27 L595.10,420.35 L596.15,420.45 L597.19,420.56 L598.21,420.69 L599.23,420.83 L600.23,420.98 L601.23,421.14 L602.21,421.32 L603.19,421.51 L604.15,421.70 L605.11,421.91 L606.05,422.13 L606.99,422.36 L607.92,422.60 L608.84,422.84 L609.75,423.10 L610.66,423.36 L611.55,423.63 L612.44,423.91 L613.32,424.20 L614.19,424.49 L615.06,424.79 L615.92,425.10 L616.77,425.42 L617.61,425.74 L618.45,426.06 L619.28,426.40 L620.11,426.74 L620.92,427.08 L621.74,427.43 L622.54,427.79 L623.34,428.15 L624.13,428.51 L624.92,428.88 L625.70,429.26 L626.48,429.64 L627.25,430.02 L628.01,430.41 L628.77,430.80 L629.52,431.19 L630.27,431.59 L631.01,431.99 L631.75,432.40 L632.48,432.81 L633.20,433.22 L633.92,433.63 L634.64,434.05 L635.35,434.47 L636.05,434.89 L636.75,435.32 L637.45,435.74 L638.13,436.17 L638.82,436.60 L639.50,437.04 L640.17,437.47 L640.84,437.91 L641.51,438.35 L642.17,438.79 L642.82,439.23 L643.47,439.67 L644.11,440.12 L644.76,440.56 L645.39,441.01 L646.02,441.45 L646.65,441.90 L647.27,442.35 L647.88,442.80 L648.50,443.25 L649.10,443.70 L649.71,444.15 L650.30,444.60 L650.90,445.05 L651.48,445.50 L652.07,445.95 L652.65,446.40 L653.22,446.84 L653.79,447.29 L654.36,447.74 L654.92,448.19 L655.47,448.64 L656.02,449.08 L656.57,449.53 L657.11,449.98 L657.65,450.42 L658.18,450.86 L658.71,451.30 L659.24,451.75 L659.76,452.18 L660.27,452.62 L660.78,453.06 L661.29,453.49 L661.79,453.93 L662.28,454.36 L662.78,454.79 L663.27,455.22 L663.75,455.65 L664.23,456.07 L664.70,456.49 L665.17,456.92 L665.64,457.33 L666.10,457.75 L666.56,458.17 L667.01,458.58 L667.45,458.99 L667.90,459.40 L668.34,459.80 L668.77,460.21 L669.20,460.61 L669.63,461.01 L670.05,461.40 L670.47,461.80 L670.88,462.19" fill="none" stroke="#ff0000" stroke-width="2.86" stroke-linejoin="round" stroke-linecap="square"/>
<path d="M413.91,492.99l5.8,5.8M413.91,498.79l5.8,-5.8M441.31,483.86l5.8,5.8M441.31,489.66l5.8,-5.8M457.48,476.61l5.8,5.8M457.48,482.41l5.8,-5.8M469.06,470.60l5.8,5.8M469.06,476.40l5.8,-5.8M478.12,465.49l5.8,5.8M478.12,471.29l5.8,-5.8M485.59,461.04l5.8,5.8M485.59,466.84l5.8,-5.8M491.96,457.10l5.8,5.8M491.96,462.90l5.8,-5.8M497.53,453.57l5.8,5.8M497.53,459.37l5.8,-5.8M502.48,450.38l5.8,5.8M502.48,456.18l5.8,-5.8M506.95,447.47l5.8,5.8M506.95,453.27l5.8,-5.8M511.03,444.82l5.8,5.8M511.03,450.62l5.8,-5.8M514.79,442.39l5.8,5.8M514.79,448.19l5.8,-5.8M518.27,440.16l5.8,5.8M518.27,445.96l5.8,-5.8M521.52,438.11l5.8,5.8M521.52,443.91l5.8,-5.8M524.58,436.30l5.8,5.8M524.58,442.10l5.8,-5.8M527.46,434.68l5.8,5.8M527.46,440.48l5.8,-5.8M530.19,433.19l5.8,5.8M530.19,438.99l5.8,-5.8M532.78,431.82l5.8,5.8M532.78,437.62l5.8,-5.8M535.26,430.55l5.8,5.8M535.26,436.35l5.8,-5.8M537.62,429.37l5.8,5.8M537.62,435.17l5.8,-5.8M539.89,428.28l5.8,5.8M539.89,434.08l5.8,-5.8M542.07,427.27l5.8,5.8M542.07,433.07l5.8,-5.8M544.17,426.34l5.8,5.8M544.17,432.14l5.8,-5.8M546.20,425.47l5.8,5.8M546.20,431.27l5.8,-5.8M548.16,424.68l5.8,5.8M548.16,430.48l5.8,-5.8M550.06,423.95l5.8,5.8M550.06,429.75l5.8,-5.8M551.90,423.34l5.8,5.8M551.90,429.14l5.8,-5.8M553.69,422.79l5.8,5.8M553.69,428.59l5.8,-5.8M555.42,422.28l5.8,5.8M555.42,428.08l5.8,-5.8M557.12,421.82l5.8,5.8M557.12,427.62l5.8,-5.8M558.77,421.41l5.8,5.8M558.77,427.21l5.8,-5.8M560.37,421.03l5.8,5.8M560.37,426.83l5.8,-5.8M561.94,420.70l5.8,5.8M561.94,426.50l5.8,-5.8M563.48,420.40l5.8,5.8M563.48,426.20l5.8,-5.8M564.98,420.13l5.8,5.8M564.98,425.93l5.8,-5.8M566.45,419.79l5.8,5.8M566.45,425.59l5.8,-5.8M567.89,419.44l5.8,5.8M567.89,425.24l5.8,-5.8M569.30,419.11l5.8,5.8M569.30,424.91l5.8,-5.8M570.69,418.81l5.8,5.8M570.69,424.61l5.8,-5.8M572.05,418.55l5.8,5.8M572.05,424.35l5.8,-5.8M573.38,418.31l5.8,5.8M573.38,424.11l5.8,-5.8M574.70,418.09l5.8,5.8M574.70,423.89l5.8,-5.8M575.99,417.90l5.8,5.8M575.99,423.70l5.8,-5.8M577.26,417.74l5.8,5.8M577.26,423.54l5.8,-5.8M578.51,417.59l5.8,5.8M578.51,423.39l5.8,-5.8M579.74,417.47l5.8,5.8M579.74,423.27l5.8,-5.8M580.95,417.38l5.8,5.8M580.95,423.18l5.8,-5.8M582.14,417.30l5.8,5.8M582.14,423.10l5.8,-5.8M583.32,417.24l5.8,5.8M583.32,423.04l5.8,-5.8M584.48,417.21l5.8,5.8M584.48,423.01l5.8,-5.8M585.63,417.19l5.8,5.8M585.63,422.99l5.8,-5.8M586.76,417.19l5.8,5.8M586.76,422.99l5.8,-5.8M587.87,417.21l5.8,5.8M587.87,423.01l5.8,-5.8M588.97,417.24l5.8,5.8M588.97,423.04l5.8,-5.8M590.06,417.30l5.8,5.8M590.06,423.10l5.8,-5.8M591.14,417.37l5.8,5.8M591.14,423.17l5.8,-5.8M592.20,417.45l5.8,5.8M592.20,423.25l5.8,-5.8M593.25,417.55l5.8,5.8M593.25,423.35l5.8,-5.8M594.29,417.66l5.8,5.8M594.29,423.46l5.8,-5.8M595.31,417.79l5.8,5.8M595.31,423.59l5.8,-5.8M596.33,417.93l5.8,5.8M596.33,423.73l5.8,-5.8M597.33,418.08l5.8,5.8M597.33,423.88l5.8,-5.8M598.33,418.24l5.8,5.8M598.33,424.04l5.8,-5.8M599.31,418.42l5.8,5.8M599.31,424.22l5.8,-5.8M600.29,418.61l5.8,5.8M600.29,424.41l5.8,-5.8M601.25,418.80l5.8,5.8M601.25,424.60l5.8,-5.8M602.21,419.01l5.8,5.8M602.21,424.81l5.8,-5.8M603.15,419.23l5.8,5.8M603.15,425.03l5.8,-5.8M604.09,419.46l5.8,5.8M604.09,425.26l5.8,-5.8M605.02,419.70l5.8,5.8M605.02,425.50l5.8,-5.8M605.94,419.94l5.8,5.8M605.94,425.74l5.8,-5.8M606.85,420.20l5.8,5.8M606.85,426.00l5.8,-5.8M607.76,420.46l5.8,5.8M607.76,426.26l5.8,-5.8M608.65,420.73l5.8,5.8M608.65,426.53l5.8,-5.8M609.54,421.01l5.8,5.8M609.54,426.81l5.8,-5.8M610.42,421.30l5.8,5.8M610.42,427.10l5.8,-5.8M611.29,421.59l5.8,5.8M611.29,427.39l5.8,-5.8M612.16,421.89l5.8,5.8M612.16,427.69l5.8,-5.8M613.02,422.20l5.8,5.8M613.02,428.00l5.8,-5.8M613.87,422.52l5.8,5.8M613.87,428.32l5.8,-5.8M614.71,422.84l5.8,5.8M614.71,428.64l5.8,-5.8M615.55,423.16l5.8,5.8M615.55,428.96l5.8,-5.8M616.38,423.50l5.8,5.8M616.38,429.30l5.8,-5.8M617.21,423.84l5.8,5.8M617.21,429.64l5.8,-5.8M618.02,424.18l5.8,5.8M618.02,429.98l5.8,-5.8M618.84,424.53l5.8,5.8M618.84,430.33l5.8,-5.8M619.64,424.89l5.8,5.8M619.64,430.69l5.8,-5.8M620.44,425.25l5.8,5.8M620.44,431.05l5.8,-5.8M621.23,425.61l5.8,5.8M621.23,431.41l5.8,-5.8M622.02,425.98l5.8,5.8M622.02,431.78l5.8,-5.8M622.80,426.36l5.8,5.8M622.80,432.16l5.8,-5.8M623.58,426.74l5.8,5.8M623.58,432.54l5.8,-5.8M624.35,427.12l5.8,5.8M624.35,432.92l5.8,-5.8M625.11,427.51l5.8,5.8M625.11,433.31l5.8,-5.8M625.87,427.90l5.8,5.8M625.87,433.70l5.8,-5.8M626.62,428.29l5.8,5.8M626.62,434.09l5.8,-5.8M627.37,428.69l5.8,5.8M627.37,434.49l5.8,-5.8M628.11,429.09l5.8,5.8M628.11,434.89l5.8,-5.8M628.85,429.50l5.8,5.8M628.85,435.30l5.8,-5.8M629.58,429.91l5.8,5.8M629.58,435.71l5.8,-5.8M630.30,430.32l5.8,5.8M630.30,436.12l5.8,-5.8M631.02,430.73l5.8,5.8M631.02,436.53l5.8,-5.8M631.74,431.15l5.8,5.8M631.74,436.95l5.8,-5.8M632.45,431.57l5.8,5.8M632.45,437.37l5.8,-5.8M633.15,431.99l5.8,5.8M633.15,437.79l5.8,-5.8M633.85,432.42l5.8,5.8M633.85,438.22l5.8,-5.8M634.55,432.84l5.8,5.8M634.55,438.64l5.8,-5.8M635.23,433.27l5.8,5.8M635.23,439.07l5.8,-5.8M635.92,433.70l5.8,5.8M635.92,439.50l5.8,-5.8M636.60,434.14l5.8,5.8M636.60,439.94l5.8,-5.8M637.27,434.57l5.8,5.8M637.27,440.37l5.8,-5.8M637.94,435.01l5.8,5.8M637.94,440.81l5.8,-5.8M638.61,435.45l5.8,5.8M638.61,441.25l5.8,-5.8M639.27,435.89l5.8,5.8M639.27,441.69l5.8,-5.8M639.92,436.33l5.8,5.8M639.92,442.13l5.8,-5.8M640.57,436.77l5.8,5.8M640.57,442.57l5.8,-5.8M641.21,437.22l5.8,5.8M641.21,443.02l5.8,-5.8M641.86,437.66l5.8,5.8M641.86,443.46l5.8,-5.8M642.49,438.11l5.8,5.8M642.49,443.91l5.8,-5.8M643.12,438.55l5.8,5.8M643.12,444.35l5.8,-5.8M643.75,439.00l5.8,5.8M643.75,444.80l5.8,-5.8M644.37,439.45l5.8,5.8M644.37,445.25l5.8,-5.8M644.98,439.90l5.8,5.8M644.98,445.70l5.8,-5.8M645.60,440.35l5.8,5.8M645.60,446.15l5.8,-5.8M646.20,440.80l5.8,5.8M646.20,446.60l5.8,-5.8M646.81,441.25l5.8,5.8M646.81,447.05l5.8,-5.8M647.40,441.70l5.8,5.8M647.40,447.50l5.8,-5.8M648.00,442.15l5.8,5.8M648.00,447.95l5.8,-5.8M648.58,442.60l5.8,5.8M648.58,448.40l5.8,-5.8M649.17,443.05l5.8,5.8M649.17,448.85l5.8,-5.8M649.75,443.50l5.8,5.8M649.75,449.30l5.8,-5.8M650.32,443.94l5.8,5.8M650.32,449.74l5.8,-5.8M650.89,444.39l5.8,5.8M650.89,450.19l5.8,-5.8M651.46,444.84l5.8,5.8M651.46,450.64l5.8,-5.8M652.02,445.29l5.8,5.8M652.02,451.09l5.8,-5.8M652.57,445.74l5.8,5.8M652.57,451.54l5.8,-5.8M653.12,446.18l5.8,5.8M653.12,451.98l5.8,-5.8M653.67,446.63l5.8,5.8M653.67,452.43l5.8,-5.8M654.21,447.08l5.8,5.8M654.21,452.88l5.8,-5.8M654.75,447.52l5.8,5.8M654.75,453.32l5.8,-5.8M655.28,447.96l5.8,5.8M655.28,453.76l5.8,-5.8M655.81,448.40l5.8,5.8M655.81,454.20l5.8,-5.8M656.34,448.85l5.8,5.8M656.34,454.65l5.8,-5.8M656.86,449.28l5.8,5.8M656.86,455.08l5.8,-5.8M657.37,449.72l5.8,5.8M657.37,455.52l5.8,-5.8M657.88,450.16l5.8,5.8M657.88,455.96l5.8,-5.8M658.39,450.59l5.8,5.8M658.39,456.39l5.8,-5.8M658.89,451.03l5.8,5.8M658.89,456.83l5.8,-5.8M659.38,451.46l5.8,5.8M659.38,457.26l5.8,-5.8M659.88,451.89l5.8,5.8M659.88,457.69l5.8,-5.8M660.37,452.32l5.8,5.8M660.37,458.12l5.8,-5.8M660.85,452.75l5.8,5.8M660.85,458.55l5.8,-5.8M661.33,453.17l5.8,5.8M661.33,458.97l5.8,-5.8M661.80,453.59l5.8,5.8M661.80,459.39l5.8,-5.8M662.27,454.02l5.8,5.8M662.27,459.82l5.8,-5.8M662.74,454.43l5.8,5.8M662.74,460.23l5.8,-5.8M663.20,454.85l5.8,5.8M663.20,460.65l5.8,-5.8M663.66,455.27l5.8,5.8M663.66,461.07l5.8,-5.8M664.11,455.68l5.8,5.8M664.11,461.48l5.8,-5.8M664.55,456.09l5.8,5.8M664.55,461.89l5.8,-5.8M665.00,456.50l5.8,5.8M665.00,462.30l5.8,-5.8M665.44,456.90l5.8,5.8M665.44,462.70l5.8,-5.8M665.87,457.31l5.8,5.8M665.87,463.11l5.8,-5.8M666.30,457.71l5.8,5.8M666.30,463.51l5.8,-5.8M666.73,458.11l5.8,5.8M666.73,463.91l5.8,-5.8M667.15,458.50l5.8,5.8M667.15,464.30l5.8,-5.8M667.57,458.90l5.8,5.8M667.57,464.70l5.8,-5.8M667.98,459.29l5.8,5.8M667.98,465.09l5.8,-5.8" fill="none" stroke="#ff0000" stroke-width="1.7"/>
<path d="M416.81,489.92 L444.21,474.74 L460.38,458.96 L471.96,443.28 L481.02,428.40 L488.49,417.03 L494.86,404.91 L500.43,391.98 L505.38,380.81 L509.85,371.19 L513.93,362.86 L517.69,355.68 L521.17,349.62 L524.42,344.66 L527.48,340.76 L530.36,337.86 L533.09,335.80 L535.68,334.42 L538.16,333.59 L540.52,333.23 L542.79,333.24 L544.97,333.57 L547.07,334.16 L549.10,334.96 L551.06,335.94 L552.96,337.07 L554.80,338.31 L556.59,339.66 L558.32,341.08 L560.02,342.56 L561.67,344.10 L563.27,345.67 L564.84,347.27 L566.38,348.89 L567.88,350.52 L569.35,352.16 L570.79,353.80 L572.20,355.43 L573.59,357.05 L574.95,358.65 L576.28,360.24 L577.60,361.80 L578.89,363.34 L580.16,364.85 L581.41,366.34 L582.64,367.79 L583.85,369.21 L585.04,370.59 L586.22,371.94 L587.38,373.25 L588.53,374.52 L589.66,375.75 L590.77,376.94 L591.87,378.09 L592.96,379.19 L594.04,380.26 L595.10,381.29 L596.15,382.28 L597.19,383.24 L598.21,384.16 L599.23,385.06 L600.23,385.93 L601.23,386.78 L602.21,387.60 L603.19,388.40 L604.15,389.18 L605.11,389.94 L606.05,390.68 L606.99,391.40 L607.92,392.11 L608.84,392.81 L609.75,393.49 L610.66,394.16 L611.55,394.82 L612.44,395.46 L613.32,396.10 L614.19,396.73 L615.06,397.35 L615.92,397.97 L616.77,398.58 L617.61,399.18 L618.45,399.78 L619.28,400.37 L620.11,400.96 L620.92,401.54 L621.74,402.12 L622.54,402.70 L623.34,403.27 L624.13,403.84 L624.92,404.41 L625.70,404.97 L626.48,405.54 L627.25,406.10 L628.01,406.66 L628.77,407.22 L629.52,407.78 L630.27,408.34 L631.01,408.90 L631.75,409.46 L632.48,410.02 L633.20,410.58 L633.92,411.14 L634.64,411.70 L635.35,412.26 L636.05,412.82 L636.75,413.38 L637.45,413.95 L638.13,414.51 L638.82,415.08 L639.50,415.65 L640.17,416.22 L640.84,416.80 L641.51,417.37 L642.17,417.96 L642.82,418.54 L643.47,419.14 L644.11,419.73 L644.76,420.34 L645.39,420.95 L646.02,421.56 L646.65,422.18 L647.27,422.81 L647.88,423.45 L648.50,424.10 L649.10,424.75 L649.71,425.41 L650.30,426.08 L650.90,426.76 L651.48,427.45 L652.07,428.14 L652.65,428.85 L653.22,429.56 L653.79,430.28 L654.36,431.01 L654.92,431.74 L655.47,432.47 L656.02,433.20 L656.57,433.93 L657.11,434.66 L657.65,435.39 L658.18,436.11 L658.71,436.82 L659.24,437.53 L659.76,438.23 L660.27,438.92 L660.78,439.60 L661.29,440.27 L661.79,440.93 L662.28,441.57 L662.78,442.20 L663.27,442.82 L663.75,443.42 L664.23,444.01 L664.70,444.58 L665.17,445.13 L665.64,445.67 L666.10,446.19 L666.56,446.69 L667.01,447.17 L667.45,447.63 L667.90,448.08 L668.34,448.50 L668.77,448.91 L669.20,449.30 L669.63,449.67 L670.05,450.01 L670.47,450.34 L670.88,450.65" fill="none" stroke="#000" stroke-width="2.86" stroke-linejoin="round" stroke-linecap="square"/>
<path d="M416.81,506.10 L444.21,505.52 L460.38,504.51 L471.96,503.16 L481.02,501.30 L488.49,499.17 L494.86,497.23 L500.43,495.33 L505.38,493.24 L509.85,491.10 L513.93,489.17 L517.69,487.34 L521.17,485.51 L524.42,483.66 L527.48,481.84 L530.36,480.10 L533.09,478.42 L535.68,476.72 L538.16,475.04 L540.52,473.38 L542.79,471.73 L544.97,470.10 L547.07,468.48 L549.10,466.88 L551.06,465.30 L552.96,463.74 L554.80,462.22 L556.59,460.73 L558.32,459.29 L560.02,457.89 L561.67,456.54 L563.27,455.25 L564.84,454.00 L566.38,452.81 L567.88,451.68 L569.35,450.60 L570.79,449.58 L572.20,448.61 L573.59,447.71 L574.95,446.86 L576.28,446.07 L577.60,445.33 L578.89,444.66 L580.16,444.04 L581.41,443.48 L582.64,442.97 L583.85,442.51 L585.04,442.10 L586.22,441.73 L587.38,441.40 L588.53,441.11 L589.66,440.85 L590.77,440.62 L591.87,440.43 L592.96,440.26 L594.04,440.12 L595.10,440.01 L596.15,439.92 L597.19,439.84 L598.21,439.79 L599.23,439.76 L600.23,439.74 L601.23,439.74 L602.21,439.75 L603.19,439.77 L604.15,439.81 L605.11,439.86 L606.05,439.92 L606.99,439.99 L607.92,440.06 L608.84,440.15 L609.75,440.24 L610.66,440.33 L611.55,440.44 L612.44,440.55 L613.32,440.67 L614.19,440.79 L615.06,440.92 L615.92,441.06 L616.77,441.20 L617.61,441.35 L618.45,441.51 L619.28,441.67 L620.11,441.83 L620.92,442.00 L621.74,442.18 L622.54,442.36 L623.34,442.55 L624.13,442.74 L624.92,442.93 L625.70,443.13 L626.48,443.34 L627.25,443.55 L628.01,443.76 L628.77,443.98 L629.52,444.20 L630.27,444.43 L631.01,444.66 L631.75,444.90 L632.48,445.13 L633.20,445.38 L633.92,445.62 L634.64,445.87 L635.35,446.12 L636.05,446.38 L636.75,446.64 L637.45,446.90 L638.13,447.17 L638.82,447.43 L639.50,447.70 L640.17,447.98 L640.84,448.26 L641.51,448.53 L642.17,448.82 L642.82,449.10 L643.47,449.39 L644.11,449.68 L644.76,449.97 L645.39,450.26 L646.02,450.56 L646.65,450.85 L647.27,451.15 L647.88,451.45 L648.50,451.76 L649.10,452.06 L649.71,452.36 L650.30,452.66 L650.90,452.96 L651.48,453.27 L652.07,453.57 L652.65,453.87 L653.22,454.17 L653.79,454.46 L654.36,454.76 L654.92,455.05 L655.47,455.35 L656.02,455.64 L656.57,455.93 L657.11,456.21 L657.65,456.50 L658.18,456.78 L658.71,457.06 L659.24,457.33 L659.76,457.60 L660.27,457.87 L660.78,458.14 L661.29,458.40 L661.79,458.66 L662.28,458.92 L662.78,459.17 L663.27,459.42 L663.75,459.66 L664.23,459.90 L664.70,460.14 L665.17,460.37 L665.64,460.60 L666.10,460.83 L666.56,461.05 L667.01,461.26 L667.45,461.48 L667.90,461.68 L668.34,461.89 L668.77,462.09 L669.20,462.29 L669.63,462.48 L670.05,462.66 L670.47,462.85 L670.88,463.03" fill="none" stroke="#000" stroke-width="2.86" stroke-linejoin="round" stroke-linecap="square"/>
<path d="M416.81,496.29 L444.21,487.51 L460.38,480.54 L471.96,474.77 L481.02,469.85 L488.49,465.57 L494.86,461.79 L500.43,458.39 L505.38,455.32 L509.85,452.52 L513.93,449.98 L517.69,447.64 L521.17,445.50 L524.42,443.52 L527.48,441.69 L530.36,440.00 L533.09,438.43 L535.68,436.97 L538.16,435.61 L540.52,434.35 L542.79,433.17 L544.97,432.07 L547.07,431.05 L549.10,430.09 L551.06,429.20 L552.96,428.37 L554.80,427.60 L556.59,426.88 L558.32,426.20 L560.02,425.58 L561.67,425.00 L563.27,424.46 L564.84,423.97 L566.38,423.51 L567.88,423.08 L569.35,422.69 L570.79,422.34 L572.20,422.01 L573.59,421.71 L574.95,421.45 L576.28,421.21 L577.60,420.99 L578.89,420.80 L580.16,420.64 L581.41,420.49 L582.64,420.37 L583.85,420.28 L585.04,420.20 L586.22,420.14 L587.38,420.11 L588.53,420.09 L589.66,420.09 L590.77,420.11 L591.87,420.14 L592.96,420.20 L594.04,420.27 L595.10,420.35 L596.15,420.45 L597.19,420.56 L598.21,420.69 L599.23,420.83 L600.23,420.98 L601.23,421.14 L602.21,421.32 L603.19,421.51 L604.15,421.70 L605.11,421.91 L606.05,422.13 L606.99,422.36 L607.92,422.60 L608.84,422.84 L609.75,423.10 L610.66,423.36 L611.55,423.63 L612.44,423.91 L613.32,424.20 L614.19,424.49 L615.06,424.79 L615.92,425.10 L616.77,425.42 L617.61,425.74 L618.45,426.06 L619.28,426.40 L620.11,426.74 L620.92,427.08 L621.74,427.43 L622.54,427.79 L623.34,428.15 L624.13,428.51 L624.92,428.88 L625.70,429.26 L626.48,429.64 L627.25,430.02 L628.01,430.41 L628.77,430.80 L629.52,431.19 L630.27,431.59 L631.01,431.99 L631.75,432.40 L632.48,432.81 L633.20,433.22 L633.92,433.63 L634.64,434.05 L635.35,434.47 L636.05,434.89 L636.75,435.32 L637.45,435.74 L638.13,436.17 L638.82,436.60 L639.50,437.04 L640.17,437.47 L640.84,437.91 L641.51,438.35 L642.17,438.79 L642.82,439.23 L643.47,439.67 L644.11,440.12 L644.76,440.56 L645.39,441.01 L646.02,441.45 L646.65,441.90 L647.27,442.35 L647.88,442.80 L648.50,443.25 L649.10,443.70 L649.71,444.15 L650.30,444.60 L650.90,445.05 L651.48,445.50 L652.07,445.95 L652.65,446.40 L653.22,446.84 L653.79,447.29 L654.36,447.74 L654.92,448.19 L655.47,448.64 L656.02,449.08 L656.57,449.53 L657.11,449.98 L657.65,450.42 L658.18,450.86 L658.71,451.30 L659.24,451.75 L659.76,452.18 L660.27,452.62 L660.78,453.06 L661.29,453.49 L661.79,453.93 L662.28,454.36 L662.78,454.79 L663.27,455.22 L663.75,455.65 L664.23,456.07 L664.70,456.49 L665.17,456.92 L665.64,457.33 L666.10,457.75 L666.56,458.17 L667.01,458.58 L667.45,458.99 L667.90,459.40 L668.34,459.80 L668.77,460.21 L669.20,460.61 L669.63,461.01 L670.05,461.40 L670.47,461.80 L670.88,462.19" fill="none" stroke="#000" stroke-width="2.86" stroke-linejoin="round" stroke-linecap="square"/></g>
<rect x="53.70" y="11.30" width="278.80" height="203.70" fill="none" stroke="#000" stroke-width="1.14" stroke-linejoin="miter"/>
<rect x="405.00" y="11.30" width="278.80" height="203.70" fill="none" stroke="#000" stroke-width="1.14" stroke-linejoin="miter"/>
<rect x="53.70" y="302.60" width="278.80" height="203.70" fill="none" stroke="#000" stroke-width="1.14" stroke-linejoin="miter"/>
<rect x="405.00" y="302.60" width="278.80" height="203.70" fill="none" stroke="#000" stroke-width="1.14" stroke-linejoin="miter"/>
<line x1="66" y1="31.50" x2="101" y2="31.50" stroke="#000" stroke-width="2.9"/>
<text x="111.4" y="37.30" font-family="Liberation Serif" font-size="17" textLength="72" lengthAdjust="spacingAndGlyphs">PCH-DNS</text>
<line x1="66" y1="54.70" x2="101" y2="54.70" stroke="#0000ff" stroke-width="2.9"/>
<circle cx="83.5" cy="54.70" r="3.6" fill="#0000ff"/>
<text x="111.6" y="60.80" font-family="Liberation Serif" font-size="17" font-style="italic">x</text>
<path d="M125.90,54.90H136.10M125.90,58.30H136.10" stroke="#000" stroke-width="0.85" fill="none"/>
<text x="141.2" y="60.80" font-family="Liberation Serif" font-size="17">0<tspan font-style="italic" dx="0.6">h</tspan></text>
<line x1="66" y1="77.90" x2="101" y2="77.90" stroke="#008000" stroke-width="2.9"/>
<circle cx="83.5" cy="77.90" r="3.6" fill="#008000"/>
<text x="111.6" y="83.60" font-family="Liberation Serif" font-size="17" font-style="italic">x</text>
<path d="M125.90,77.70H136.10M125.90,81.10H136.10" stroke="#000" stroke-width="0.85" fill="none"/>
<text x="141.2" y="83.60" font-family="Liberation Serif" font-size="17">1.5<tspan font-style="italic" dx="0.6">h</tspan></text>
<line x1="66" y1="101.30" x2="101" y2="101.30" stroke="#9400d3" stroke-width="2.9"/>
<circle cx="83.5" cy="101.30" r="3.6" fill="#9400d3"/>
<text x="111.6" y="106.90" font-family="Liberation Serif" font-size="17" font-style="italic">x</text>
<path d="M125.90,101.00H136.10M125.90,104.40H136.10" stroke="#000" stroke-width="0.85" fill="none"/>
<text x="141.2" y="106.90" font-family="Liberation Serif" font-size="17">3<tspan font-style="italic" dx="0.6">h</tspan></text>
<line x1="66" y1="322.80" x2="101" y2="322.80" stroke="#000" stroke-width="2.9"/>
<text x="111.4" y="328.60" font-family="Liberation Serif" font-size="17" textLength="72" lengthAdjust="spacingAndGlyphs">PCH-DNS</text>
<line x1="66" y1="346.00" x2="101" y2="346.00" stroke="#0000ff" stroke-width="2.9"/>
<circle cx="83.5" cy="346.00" r="3.6" fill="#0000ff"/>
<text x="111.6" y="352.10" font-family="Liberation Serif" font-size="17" font-style="italic">x</text>
<path d="M125.90,346.20H136.10M125.90,349.60H136.10" stroke="#000" stroke-width="0.85" fill="none"/>
<text x="141.2" y="352.10" font-family="Liberation Serif" font-size="17">0<tspan font-style="italic" dx="0.6">h</tspan></text>
<line x1="66" y1="369.20" x2="101" y2="369.20" stroke="#008080" stroke-width="2.9"/>
<circle cx="83.5" cy="369.20" r="3.6" fill="#008080"/>
<text x="111.6" y="374.90" font-family="Liberation Serif" font-size="17" font-style="italic">x</text>
<path d="M125.90,369.00H136.10M125.90,372.40H136.10" stroke="#000" stroke-width="0.85" fill="none"/>
<text x="141.2" y="374.90" font-family="Liberation Serif" font-size="17">6<tspan font-style="italic" dx="0.6">h</tspan></text>
<line x1="66" y1="392.60" x2="101" y2="392.60" stroke="#ff0000" stroke-width="2.9"/>
<circle cx="83.5" cy="392.60" r="3.6" fill="#ff0000"/>
<text x="111.6" y="398.20" font-family="Liberation Serif" font-size="17" font-style="italic">x</text>
<path d="M125.90,392.30H136.10M125.90,395.70H136.10" stroke="#000" stroke-width="0.85" fill="none"/>
<text x="141.2" y="398.20" font-family="Liberation Serif" font-size="17">12<tspan font-style="italic" dx="0.6">h</tspan></text>
<line x1="418" y1="33.20" x2="452" y2="33.20" stroke="#9400d3" stroke-width="2.9"/>
<circle cx="435" cy="33.20" r="3.6" fill="#9400d3"/>
<text x="462.6" y="35.60" font-family="Liberation Serif" font-size="17" font-style="italic" textLength="8.8" lengthAdjust="spacingAndGlyphs">u</text>
<path d="M473.00,26.60H481.00M477.00,22.60V30.60" stroke="#000" stroke-width="0.85" fill="none"/>
<text x="472.40" y="38.80" font-family="Liberation Serif" font-size="12" font-style="italic" textLength="22.6" lengthAdjust="spacingAndGlyphs">rms</text>
<line x1="418" y1="57.60" x2="452" y2="57.60" stroke="#9400d3" stroke-width="2.9"/>
<rect x="431.4" y="54.00" width="7.2" height="7.2" fill="#9400d3"/>
<text x="462.6" y="60.00" font-family="Liberation Serif" font-size="17" font-style="italic" textLength="8.200000000000001" lengthAdjust="spacingAndGlyphs">v</text>
<path d="M472.10,51.20H480.10M476.10,47.20V55.20" stroke="#000" stroke-width="0.85" fill="none"/>
<text x="470.90" y="63.20" font-family="Liberation Serif" font-size="12" font-style="italic" textLength="22.6" lengthAdjust="spacingAndGlyphs">rms</text>
<line x1="418" y1="82.40" x2="452" y2="82.40" stroke="#9400d3" stroke-width="2.9"/>
<path d="M432.1,79.10l5.7,6.6M432.1,85.70l5.7,-6.6" stroke="#9400d3" stroke-width="1.7" fill="none"/>
<text x="462.6" y="84.60" font-family="Liberation Serif" font-size="17" font-style="italic" textLength="11.8" lengthAdjust="spacingAndGlyphs">w</text>
<path d="M475.80,75.70H483.80M479.80,71.70V79.70" stroke="#000" stroke-width="0.85" fill="none"/>
<text x="474.30" y="87.80" font-family="Liberation Serif" font-size="12" font-style="italic" textLength="22.6" lengthAdjust="spacingAndGlyphs">rms</text>
<line x1="418" y1="324.50" x2="452" y2="324.50" stroke="#ff0000" stroke-width="2.9"/>
<circle cx="435" cy="324.50" r="3.6" fill="#ff0000"/>
<text x="462.6" y="326.90" font-family="Liberation Serif" font-size="17" font-style="italic" textLength="8.8" lengthAdjust="spacingAndGlyphs">u</text>
<path d="M473.00,317.90H481.00M477.00,313.90V321.90" stroke="#000" stroke-width="0.85" fill="none"/>
<text x="472.40" y="330.10" font-family="Liberation Serif" font-size="12" font-style="italic" textLength="22.6" lengthAdjust="spacingAndGlyphs">rms</text>
<line x1="418" y1="348.90" x2="452" y2="348.90" stroke="#ff0000" stroke-width="2.9"/>
<rect x="431.4" y="345.30" width="7.2" height="7.2" fill="#ff0000"/>
<text x="462.6" y="351.30" font-family="Liberation Serif" font-size="17" font-style="italic" textLength="8.200000000000001" lengthAdjust="spacingAndGlyphs">v</text>
<path d="M472.10,342.50H480.10M476.10,338.50V346.50" stroke="#000" stroke-width="0.85" fill="none"/>
<text x="470.90" y="354.50" font-family="Liberation Serif" font-size="12" font-style="italic" textLength="22.6" lengthAdjust="spacingAndGlyphs">rms</text>
<line x1="418" y1="373.70" x2="452" y2="373.70" stroke="#ff0000" stroke-width="2.9"/>
<path d="M432.1,370.40l5.7,6.6M432.1,377.00l5.7,-6.6" stroke="#ff0000" stroke-width="1.7" fill="none"/>
<text x="462.6" y="375.90" font-family="Liberation Serif" font-size="17" font-style="italic" textLength="11.8" lengthAdjust="spacingAndGlyphs">w</text>
<path d="M475.80,367.00H483.80M479.80,363.00V371.00" stroke="#000" stroke-width="0.85" fill="none"/>
<text x="474.30" y="379.10" font-family="Liberation Serif" font-size="12" font-style="italic" textLength="22.6" lengthAdjust="spacingAndGlyphs">rms</text>
<text x="7.30" y="14.00" font-family="Liberation Serif" font-size="20">(<tspan font-size="18.5">a</tspan>)</text>
<text x="357.10" y="14.00" font-family="Liberation Serif" font-size="20">(<tspan font-size="18.5">b</tspan>)</text>
<text x="2.30" y="306.90" font-family="Liberation Serif" font-size="20">(<tspan font-size="18.5">c</tspan>)</text>
<text x="357.10" y="304.10" font-family="Liberation Serif" font-size="20">(<tspan font-size="18.5">d</tspan>)</text>
</svg>
</body></html>
